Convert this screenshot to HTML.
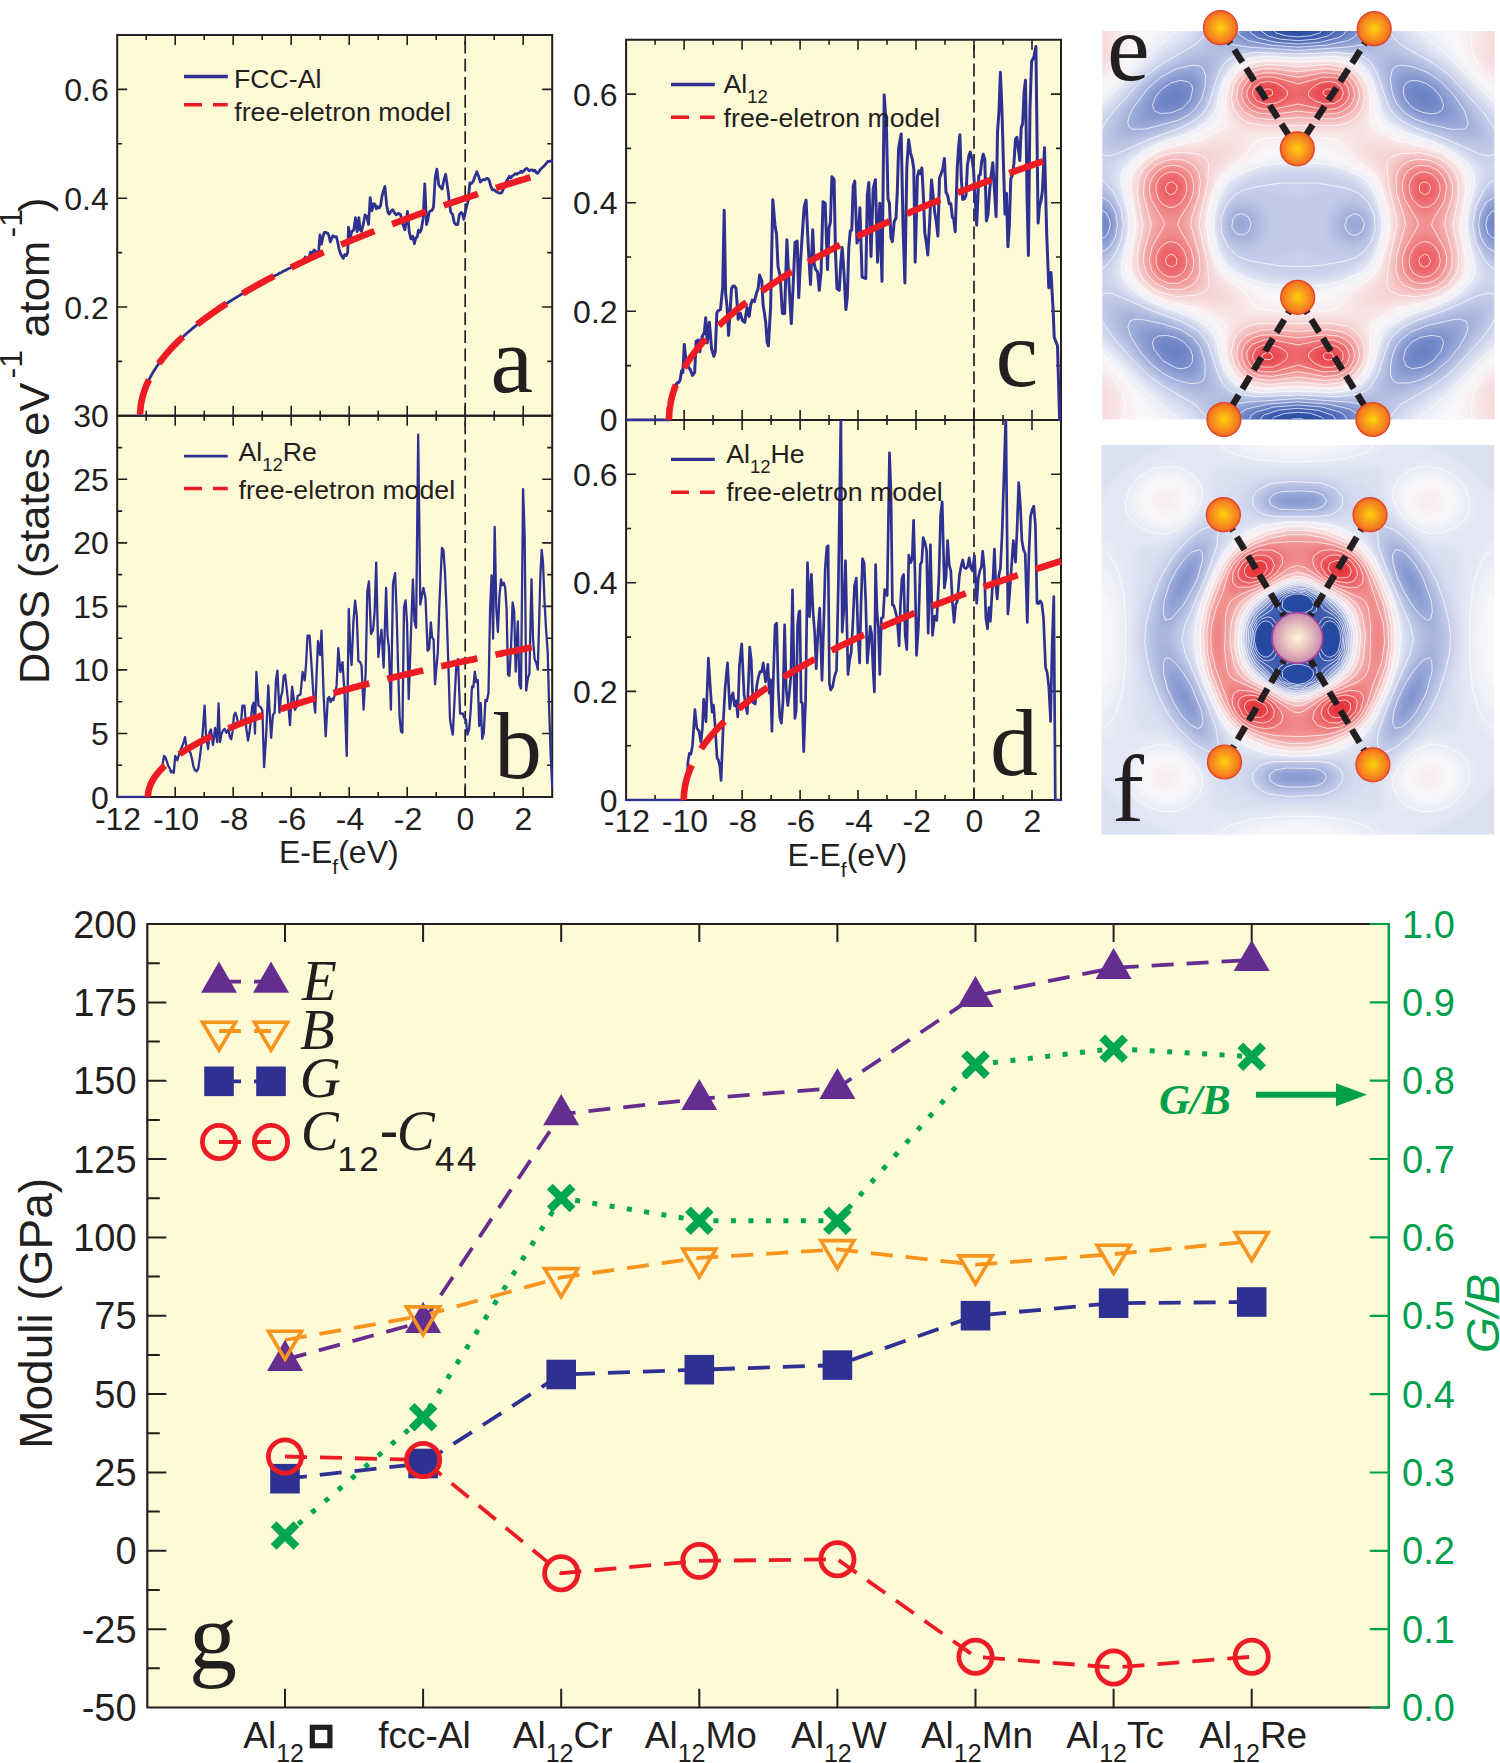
<!DOCTYPE html><html><head><meta charset="utf-8"><style>html,body{margin:0;padding:0;background:#fff;}svg{display:block}</style></head><body>
<svg width="1500" height="1763" viewBox="0 0 1500 1763">
<defs><clipPath id="clipa"><rect x="116.2" y="35" width="437" height="382.4"/></clipPath><clipPath id="clipb"><rect x="116.2" y="415.8" width="437" height="382.8"/></clipPath><clipPath id="clipc"><rect x="625.1" y="39.8" width="436.9" height="381.7"/></clipPath><clipPath id="clipd"><rect x="625.1" y="419.9" width="436.9" height="381.7"/></clipPath><clipPath id="hce"><rect x="1102.3" y="31" width="392.2" height="388.5"/></clipPath><filter id="hbe" x="-5%" y="-5%" width="110%" height="110%"><feGaussianBlur stdDeviation="2.4"/></filter><clipPath id="hcf"><rect x="1101.5" y="445" width="392.5" height="389.5"/></clipPath><filter id="hbf" x="-5%" y="-5%" width="110%" height="110%"><feGaussianBlur stdDeviation="2.4"/></filter><radialGradient id="atomg" cx="0.5" cy="0.5" r="0.5"><stop offset="0" stop-color="#FFD20A"/><stop offset="0.45" stop-color="#F9A21B"/><stop offset="0.85" stop-color="#F47A20"/><stop offset="1" stop-color="#EE5A24"/></radialGradient><radialGradient id="atomc" cx="0.5" cy="0.5" r="0.5"><stop offset="0" stop-color="#FFF7D6"/><stop offset="0.5" stop-color="#E9C4C0"/><stop offset="1" stop-color="#C98AAE"/></radialGradient></defs>
<rect width="1500" height="1763" fill="#fff"/>
<rect x="117.2" y="35" width="435" height="380.8" fill="#FFFAD6"/>
<rect x="117.2" y="415.8" width="435" height="381.2" fill="#FFFAD6"/>
<rect x="626.1" y="39.8" width="434.9" height="380.1" fill="#FFFAD6"/>
<rect x="626.1" y="419.9" width="434.9" height="380.1" fill="#FFFAD6"/>
<path d="M465.2 35V415.8" stroke="#231F20" stroke-width="1.7" stroke-dasharray="12.8 5.3" stroke-dashoffset="-5.7" fill="none"/>
<path d="M465.2 415.8V797" stroke="#231F20" stroke-width="1.7" stroke-dasharray="12.8 5.3" stroke-dashoffset="-5.7" fill="none"/>
<path d="M974 39.8V419.9" stroke="#231F20" stroke-width="1.7" stroke-dasharray="12.8 5.3" stroke-dashoffset="-5.7" fill="none"/>
<path d="M974 419.9V800" stroke="#231F20" stroke-width="1.7" stroke-dasharray="12.8 5.3" stroke-dashoffset="-5.7" fill="none"/>
<path d="M146.2 35v5M146.2 415.8v-5M175.2 35v10M175.2 415.8v-10M204.2 35v5M204.2 415.8v-5M233.2 35v10M233.2 415.8v-10M262.2 35v5M262.2 415.8v-5M291.2 35v10M291.2 415.8v-10M320.2 35v5M320.2 415.8v-5M349.2 35v10M349.2 415.8v-10M378.2 35v5M378.2 415.8v-5M407.2 35v10M407.2 415.8v-10M436.2 35v5M436.2 415.8v-5M465.2 35v10M465.2 415.8v-10M494.2 35v5M494.2 415.8v-5M523.2 35v10M523.2 415.8v-10M117.2 361.4h5M552.2 361.4h-5M117.2 307h10M552.2 307h-10M117.2 252.6h5M552.2 252.6h-5M117.2 198.2h10M552.2 198.2h-10M117.2 143.8h5M552.2 143.8h-5M117.2 89.4h10M552.2 89.4h-10" stroke="#231F20" stroke-width="1.6" fill="none"/>
<path d="M146.2 415.8v5M146.2 797v-5M175.2 415.8v10M175.2 797v-10M204.2 415.8v5M204.2 797v-5M233.2 415.8v10M233.2 797v-10M262.2 415.8v5M262.2 797v-5M291.2 415.8v10M291.2 797v-10M320.2 415.8v5M320.2 797v-5M349.2 415.8v10M349.2 797v-10M378.2 415.8v5M378.2 797v-5M407.2 415.8v10M407.2 797v-10M436.2 415.8v5M436.2 797v-5M465.2 415.8v10M465.2 797v-10M494.2 415.8v5M494.2 797v-5M523.2 415.8v10M523.2 797v-10M117.2 765.2h5M552.2 765.2h-5M117.2 733.5h10M552.2 733.5h-10M117.2 701.7h5M552.2 701.7h-5M117.2 669.9h10M552.2 669.9h-10M117.2 638.2h5M552.2 638.2h-5M117.2 606.4h10M552.2 606.4h-10M117.2 574.6h5M552.2 574.6h-5M117.2 542.9h10M552.2 542.9h-10M117.2 511.1h5M552.2 511.1h-5M117.2 479.3h10M552.2 479.3h-10M117.2 447.6h5M552.2 447.6h-5" stroke="#231F20" stroke-width="1.6" fill="none"/>
<path d="M655.1 39.8v5M655.1 419.9v-5M684.1 39.8v10M684.1 419.9v-10M713.1 39.8v5M713.1 419.9v-5M742.1 39.8v10M742.1 419.9v-10M771.1 39.8v5M771.1 419.9v-5M800.1 39.8v10M800.1 419.9v-10M829.1 39.8v5M829.1 419.9v-5M858 39.8v10M858 419.9v-10M887 39.8v5M887 419.9v-5M916 39.8v10M916 419.9v-10M945 39.8v5M945 419.9v-5M974 39.8v10M974 419.9v-10M1003 39.8v5M1003 419.9v-5M1032 39.8v10M1032 419.9v-10M626.1 365.6h5M1061 365.6h-5M626.1 311.3h10M1061 311.3h-10M626.1 257h5M1061 257h-5M626.1 202.7h10M1061 202.7h-10M626.1 148.4h5M1061 148.4h-5M626.1 94.1h10M1061 94.1h-10" stroke="#231F20" stroke-width="1.6" fill="none"/>
<path d="M655.1 419.9v5M655.1 800v-5M684.1 419.9v10M684.1 800v-10M713.1 419.9v5M713.1 800v-5M742.1 419.9v10M742.1 800v-10M771.1 419.9v5M771.1 800v-5M800.1 419.9v10M800.1 800v-10M829.1 419.9v5M829.1 800v-5M858 419.9v10M858 800v-10M887 419.9v5M887 800v-5M916 419.9v10M916 800v-10M945 419.9v5M945 800v-5M974 419.9v10M974 800v-10M1003 419.9v5M1003 800v-5M1032 419.9v10M1032 800v-10M626.1 745.7h5M1061 745.7h-5M626.1 691.4h10M1061 691.4h-10M626.1 637.1h5M1061 637.1h-5M626.1 582.8h10M1061 582.8h-10M626.1 528.5h5M1061 528.5h-5M626.1 474.2h10M1061 474.2h-10" stroke="#231F20" stroke-width="1.6" fill="none"/>
<path d="M116.2 35H553.2M116.2 415.8H553.2M117.2 35V415.8M552.2 35V415.8" stroke="#231F20" stroke-width="2" fill="none"/>
<path d="M116.2 415.8H553.2M116.2 797H553.2M117.2 415.8V797M552.2 415.8V797" stroke="#231F20" stroke-width="2" fill="none"/>
<path d="M625.1 39.8H1062M625.1 419.9H1062M626.1 39.8V419.9M1061 39.8V419.9" stroke="#231F20" stroke-width="2" fill="none"/>
<path d="M625.1 419.9H1062M625.1 800H1062M626.1 419.9V800M1061 419.9V800" stroke="#231F20" stroke-width="2" fill="none"/>
<path d="M140.1 415.8l0 -0.8 0 -0.7 0 -0.8 0.1 -0.8 0 -0.7 0.1 -0.8 0 -0.8 0.1 -0.7 0 -0.8 0.1 -0.8 0.1 -0.7 0.1 -0.8 0.1 -0.8 0.1 -0.7 0.1 -0.8 0.1 -0.8 0.2 -0.7 0.1 -0.8 0.2 -0.8 0.1 -0.7 0.2 -0.8 0.2 -0.8 0.1 -0.7 0.2 -0.8 0.2 -0.8 0.2 -0.7 0.3 -0.8 0.2 -0.8 0.2 -0.7 0.2 -0.8 0.3 -0.8 0.2 -0.7 0.3 -0.8 0.3 -0.8 0.3 -0.7 0.2 -0.8 0.3 -0.8 0.3 -0.7 0.4 -0.8 0.3 -0.8 0.3 -0.7 0.3 -0.8 0.4 -0.8 0.3 -0.8 0.4 -0.7 0.4 -0.8 0.3 -0.8 0.4 -0.7 0.4 -0.8 0.4 -0.8 0.4 -0.7 0.4 -0.8 0.5 -0.8 0.4 -0.7 0.4 -0.8 0.5 -0.8 0.4 -0.7 0.5 -0.8 0.5 -0.8 0.4 -0.7 0.5 -0.8 0.5 -0.8 0.5 -0.7 0.5 -0.8 0.6 -0.8 0.5 -0.7 0.5 -0.8 0.6 -0.8 0.5 -0.7 0.6 -0.8 0.6 -0.8 0.5 -0.7 0.6 -0.8 0.6 -0.8 0.6 -0.7 0.6 -0.8 0.6 -0.8 0.7 -0.7 0.6 -0.8 0.7 -0.8 0.6 -0.7 0.7 -0.8 0.6 -0.8 0.7 -0.7 0.7 -0.8 0.7 -0.8 0.7 -0.7 0.7 -0.8 0.7 -0.8 0.7 -0.7 0.7 -0.8 0.8 -0.8 0.7 -0.7 0.8 -0.8 0.7 -0.8 0.8 -0.7 0.8 -0.8 0.8 -0.8 0.8 -0.7 0.8 -0.8 0.8 -0.8 0.8 -0.7 0.8 -0.8 0.9 -0.8 0.8 -0.7 0.9 -0.8 0.8 -0.8 0.9 -0.7 0.9 -0.8 0.9 -0.8 0.9 -0.7 0.9 -0.8 0.9 -0.8 0.9 -0.7 0.9 -0.8 0.9 -0.8 1 -0.7 0.9 -0.8 1 -0.8 1 -0.7 0.9 -0.8 1 -0.8 1 -0.7 1 -0.8 1 -0.8 1 -0.7 1 -0.8 1.1 -0.8 1 -0.7 1 -0.8 1.1 -0.8 1.1 -0.8 1 -0.7 1.1 -0.8 1.1 -0.8 1.1 -0.7 1.1 -0.8 1.1 -0.8 1.1 -0.7 1.1 -0.8 1.2 -0.8 1.1 -0.7 1.2 -0.8 1.1 -0.8 1.2 -0.7 1.2 -0.8 1.2 -0.8 1.1 -0.7 1.2 -0.8 1.3 -0.8 1.2 -0.7 1.2 -0.8 1.2 -0.8 1.3 -0.7 1.2 -0.8 1.3 -0.8 1.2 -0.7 1.3 -0.8 1.3 -0.8 1.3 -0.7 1.3 -0.8 1.3 -0.8 1.3 -0.7 1.3 -0.8 1.3 -0.8 1.4 -0.7 1.3 -0.8 1.4 -0.8 1.3 -0.7 1.4 -0.8 1.4 -0.8 1.4 -0.7 1.3 -0.8 1.5 -0.8 1.4 -0.7 1.4 -0.8 1.4 -0.8 1.4 -0.7 1.5 -0.8 1.4 -0.8 1.5 -0.7 1.4 -0.8 1.5 -0.8 1.5 -0.7 1.5 -0.8 1.5 -0.8 1.5 -0.7 1.5 -0.8 1.5 -0.8 1.6 -0.7 1.5 -0.8 1.5 -0.8 1.6 -0.7 1.6 -0.8 1.5 -0.8 1.6 -0.7 1.6 -0.8 1.6 -0.8 1.6 -0.7 0 1.2 1.3 -0.3 1.3 -2.6 1.3 0.5 1.3 -5 1.3 5.2 1.3 -0.9 1.3 -2.9 1.3 -6.2 1.3 2.7 1.3 -3.1 1.3 -1.9 1.3 1.5 1.5 3.7 1.4 -2.5 1.5 -17.7 1.4 9.3 1.5 -7.1 1.4 -4.8 1.7 0.1 1.7 0.8 1.3 2.8 1.3 5.9 2.6 -6.1 1.7 1 1.8 -0.1 1.3 5.6 1.3 6.5 1.4 4.6 1.5 3 1.4 1.9 1.5 -3.8 1.4 1.1 1.5 -3.3 0.8 -25.2 1.8 9.6 1.7 -5.2 1.8 -1.6 1.7 -12.3 1.7 13.9 1.7 -13.9 1.3 12.2 1.3 1.7 1.7 -6.8 1.8 -9.7 1.8 1.3 1.7 8.2 1.7 -26.8 1.7 13 1.8 -7 1.3 0.5 1.3 4.7 1.4 -2.3 1.5 1.4 1.4 -2.5 1.4 -9.4 1.5 -5.4 1.4 -4.3 1.8 19.1 1.3 7 1.3 1.6 1.7 -2.8 1.7 -1.5 1.7 2.8 1.8 2.4 1.3 -1.1 1.3 -0.6 1.8 1.4 1.7 8.1 2.6 6.9 1.3 -7.9 1.3 -10.3 1.7 20 1.7 7.4 1.8 -2.7 1.7 7.4 1.4 -5.8 1.4 -0.7 1.3 -7 1.4 2.3 1.4 -2.7 1.8 -11.3 1.7 -34.6 1.7 40.7 1.3 -4.5 1.3 -7.6 1.5 -1.6 1.4 -0.4 1.5 -3.2 1.7 -29.7 1.7 -8.4 1.8 15.6 1.7 2.4 1.7 1.9 1.8 -8.8 1.7 -5.9 2.6 17.3 1.3 12.1 1.3 8.7 1.8 2 1.7 8.4 1.7 1.7 1.7 0 1.7 -10 1.8 -2.1 1.3 1.6 1.3 5.3 2.6 -12.1 1.7 -6.2 1.8 -18.1 1.7 0.6 1.7 -2.3 1.8 -5.3 1.7 -4.2 1.8 4.5 1.7 5.9 1.5 -1.7 1.5 -0.8 1.5 0.3 1.5 -1.3 1.5 -0.1 1.6 2.3 1.5 5.9 1.5 3.2 1.7 -0.2 1.8 1.9 1.5 0.7 1.5 0.8 1.5 0.1 1.5 -0.7 1.5 -3.7 1.5 -4.9 1.6 -2.6 1.5 -2.7 1.4 -2.4 1.5 1.7 1.5 -2 1.4 -0.8 1.4 -1.5 1.5 0.7 1.4 -1.1 1.5 -0.3 1.4 -1.7 1.4 1.2 1.5 -1.7 1.4 -1.6 1.4 -0.7 1.4 1.1 1.4 1.4 1.4 -1.1 1.4 0.1 1.3 1.2 1.3 -0.8 1.3 2.2 1.3 0.9 1.3 -1.7 1.3 -1.8 1.3 -1.5 1.3 -1.1 1.7 -1.6 1.8 -2.2 1.7 -2.2 1.5 0.2 1.6 -0.7 1.5 1.3" stroke="#2E3192" stroke-width="2.8" fill="none" stroke-linejoin="round" clip-path="url(#clipa)"/>
<path d="M140.1 415.8l0 -0.6 0 -0.6 0 -0.6 0 -0.6 0.1 -0.6 0 -0.6 0 -0.6 0.1 -0.6 0 -0.6 0.1 -0.6 0 -0.6 0.1 -0.6 0 -0.6 0.1 -0.6 0.1 -0.6 0 -0.6 0.1 -0.6 0.1 -0.6 0.1 -0.6 0.1 -0.6 0.1 -0.6 0.1 -0.6 0.1 -0.6 0.1 -0.6 0.2 -0.6 0.1 -0.6 0.1 -0.6 0.2 -0.6 0.1 -0.7 0.1 -0.6 0.2 -0.6 0.2 -0.6 0.1 -0.6 0.2 -0.6 0.2 -0.6 0.1 -0.6 0.2 -0.6 0.2 -0.6 0.2 -0.6 0.2 -0.6 0.2 -0.6 0.2 -0.6 0.2 -0.6 0.2 -0.6 0.2 -0.6 0.3 -0.6 0.2 -0.6 0.2 -0.6 0.3 -0.6 0.2 -0.6 0.3 -0.6 0.2 -0.6 0.3 -0.6 0.3 -0.6 0.2 -0.6 0.3 -0.6 0.3 -0.6 0.3 -0.6 0.3 -0.6 0.3 -0.6 0.3 -0.6 0.3 -0.6 0.3 -0.6 0.3 -0.6 0.3 -0.6 0.3 -0.6 0.4 -0.6 0.3 -0.6 0.3 -0.6 0.4 -0.6 0.3 -0.6 0.4 -0.6 0.4 -0.6 0.3 -0.6 0.4 -0.6 0.4 -0.6 0.3 -0.6 0.4 -0.6 0.4 -0.6 0.4 -0.6 0.4 -0.6 0.4 -0.6 0.4 -0.6 0.4 -0.6 0.5 -0.6 0.4 -0.7 0.4 -0.6 0.5 -0.6 0.4 -0.6 0.4 -0.6 0.5 -0.6 0.4 -0.6 0.5 -0.6 0.5 -0.6 0.4 -0.6 0.5 -0.6 0.5 -0.6 0.5 -0.6 0.5 -0.6 0.5 -0.6 0.5 -0.6 0.5 -0.6 0.5 -0.6 0.5 -0.6 0.5 -0.6 0.5 -0.6 0.6 -0.6 0.5 -0.6 0.5 -0.6 0.6 -0.6 0.5 -0.6 0.6 -0.6 0.5 -0.6 0.6 -0.6 0.6 -0.6 0.5 -0.6 0.6 -0.6 0.6 -0.6 0.6 -0.6 0.6 -0.6 0.6 -0.6 0.6 -0.6 0.6 -0.6 0.6 -0.6 0.6 -0.6 0.7 -0.6 0.6 -0.6 0.6 -0.6 0.7 -0.6 0.6 -0.6 0.7 -0.6 0.6 -0.6 0.7 -0.6 0.6 -0.6 0.7 -0.6 0.7 -0.6 0.6 -0.6 0.7 -0.6 0.7 -0.6 0.7 -0.6 0.7 -0.6 0.7 -0.7 0.7 -0.6 0.7 -0.6 0.8 -0.6 0.7 -0.6 0.7 -0.6 0.7 -0.6 0.8 -0.6 0.7 -0.6 0.8 -0.6 0.7 -0.6 0.8 -0.6 0.7 -0.6 0.8 -0.6 0.8 -0.6 0.8 -0.6 0.7 -0.6 0.8 -0.6 0.8 -0.6 0.8 -0.6 0.8 -0.6 0.8 -0.6 0.8 -0.6 0.9 -0.6 0.8 -0.6 0.8 -0.6 0.8 -0.6 0.9 -0.6 0.8 -0.6 0.9 -0.6 0.8 -0.6 0.9 -0.6 0.8 -0.6 0.9 -0.6 0.9 -0.6 0.9 -0.6 0.8 -0.6 0.9 -0.6 0.9 -0.6 0.9 -0.6 0.9 -0.6 0.9 -0.6 0.9 -0.6 1 -0.6 0.9 -0.6 0.9 -0.6 0.9 -0.6 1 -0.6 0.9 -0.6 1 -0.6 0.9 -0.6 1 -0.6 0.9 -0.6 1 -0.6 1 -0.6 0.9 -0.6 1 -0.6 1 -0.7 1 -0.6 1 -0.6 1 -0.6 1 -0.6 1 -0.6 1 -0.6 1.1 -0.6 1 -0.6 1 -0.6 1.1 -0.6 1 -0.6 1 -0.6 1.1 -0.6 1 -0.6 1.1 -0.6 1.1 -0.6 1 -0.6 1.1 -0.6 1.1 -0.6 1.1 -0.6 1.1 -0.6 1.1 -0.6 1.1 -0.6 1.1 -0.6 1.1 -0.6 1.1 -0.6 1.1 -0.6 1.2 -0.6 1.1 -0.6 1.1 -0.6 1.2 -0.6 1.1 -0.6 1.2 -0.6 1.1 -0.6 1.2 -0.6 1.1 -0.6 1.2 -0.6 1.2 -0.6 1.2 -0.6 1.2 -0.6 1.1 -0.6 1.2 -0.6 1.2 -0.6 1.2 -0.6 1.3 -0.6 1.2 -0.6 1.2 -0.6 1.2 -0.6 1.2 -0.6 1.3 -0.6 1.2 -0.6 1.3 -0.6 1.2 -0.6 1.3 -0.6 1.2 -0.6 1.3 -0.6 1.3 -0.7 1.2 -0.6 1.3 -0.6 1.3 -0.6 1.3 -0.6 1.3 -0.6 1.3 -0.6 1.3 -0.6 1.3 -0.6 1.3 -0.6 1.3 -0.6 1.4 -0.6 1.3 -0.6 1.3 -0.6 1.4 -0.6 1.3 -0.6 1.4 -0.6 1.3 -0.6 1.4 -0.6 1.3 -0.6 1.4 -0.6 1.4 -0.6 1.4 -0.6 1.3 -0.6 1.4 -0.6 1.4 -0.6 1.4 -0.6 1.4 -0.6 1.4 -0.6 1.4 -0.6 1.5 -0.6 1.4 -0.6 1.4 -0.6 1.5 -0.6 1.4 -0.6 1.4 -0.6 1.5 -0.6 1.4 -0.6 1.5 -0.6 1.5 -0.6 1.4 -0.6 1.5 -0.6 1.5 -0.6 1.5 -0.6 1.5 -0.6 1.4 -0.6 1.5 -0.6 1.5 -0.6 1.6 -0.6 1.5 -0.6 1.5 -0.6 1.5 -0.6 1.5 -0.6 1.6 -0.6 1.5 -0.6 1.6 -0.6 1.5 -0.7 1.6 -0.6 1.5 -0.6 1.6 -0.6 1.5 -0.6 1.6 -0.6 1.6 -0.6 1.6 -0.6 1.6 -0.6 1.6 -0.6 1.6 -0.6 1.6 -0.6 1.6 -0.6 1.6 -0.6 1.6 -0.6 1.6 -0.6 1.6 -0.6 1.7 -0.6 1.6 -0.6 1.7 -0.6 1.6 -0.6 1.7 -0.6 1.6 -0.6 1.7 -0.6 1.6 -0.6 1.7 -0.6 1.7 -0.6 1.7 -0.6 1.7 -0.6 1.7 -0.6 1.7 -0.6 1.7 -0.6 1.7 -0.6 1.7 -0.6 1.7 -0.6 1.7 -0.6 1.7 -0.6 1.8 -0.6 1.7 -0.6 1.8 -0.6 1.7 -0.6 1.8 -0.6 1.7 -0.6 1.8 -0.6 1.7 -0.6 1.8 -0.6 1.8 -0.6 1.8 -0.6 1.8 -0.6 1.7 -0.6 1.8 -0.6 1.8 -0.6 1.9 -0.6 1.8 -0.6 1.8 -0.6 1.8 -0.6 1.8 -0.6 1.9 -0.7 1.8 -0.6 1.8 -0.6 1.9 -0.6 1.8 -0.6 1.9 -0.6 1.9 -0.6 1.8 -0.6 1.9 -0.6 1.9 -0.6 1.8 -0.6 1.9 -0.6 1.9 -0.6 1.9 -0.6 1.9 -0.6 1.9 -0.6 1.9 -0.6 2 -0.6 1.9 -0.6 1.9 -0.6 1.9 -0.6 2 -0.6 1.9 -0.6 2 -0.6 1.9 -0.6 2 -0.6 1.9 -0.6 2 -0.6 2 -0.6 1.9 -0.6 2 -0.6 2 -0.6" stroke="#ED1C24" stroke-width="6.6" fill="none" stroke-dasharray="36 19" stroke-dashoffset="-1.5" clip-path="url(#clipa)"/>
<path d="M117.2 797l30.7 0 0 -0.2 0 -0.3 0 -0.2 0.1 -0.3 0 -0.2 0 -0.3 0 -0.2 0 -0.2 0 -0.3 0 -0.2 0.1 -0.3 0 -0.2 0 -0.3 0 -0.2 0.1 -0.3 0 -0.2 0 -0.2 0.1 -0.3 0 -0.2 0 -0.3 0.1 -0.2 0 -0.3 0.1 -0.2 0 -0.2 0.1 -0.3 0 -0.2 0.1 -0.3 0 -0.2 0.1 -0.3 0.1 -0.2 0 -0.3 0.1 -0.2 0 -0.2 0.1 -0.3 0.1 -0.2 0.1 -0.3 0 -0.2 0.1 -0.3 0.1 -0.2 0.1 -0.2 0.1 -0.3 0 -0.2 0.1 -0.3 0.1 -0.2 0.1 -0.3 0.1 -0.2 0.1 -0.2 0.1 -0.3 0.1 -0.2 0.1 -0.3 0.1 -0.2 0.1 -0.3 0.1 -0.2 0.1 -0.3 0.1 -0.2 0.1 -0.2 0.1 -0.3 0.2 -0.2 0.1 -0.3 0.1 -0.2 0.1 -0.3 0.2 -0.2 0.1 -0.2 0.1 -0.3 0.1 -0.2 0.2 -0.3 0.1 -0.2 0.1 -0.3 0.2 -0.2 0.1 -0.2 0.2 -0.3 0.1 -0.2 0.2 -0.3 0.1 -0.2 0.2 -0.3 0.1 -0.2 0.2 -0.3 0.1 -0.2 0.2 -0.2 0.2 -0.3 0.1 -0.2 0.2 -0.3 0.2 -0.2 0.1 -0.3 0.2 -0.2 0.2 -0.2 0.1 -0.3 0.2 -0.2 0.2 -0.3 0.2 -0.2 0.2 -0.3 0.2 -0.2 0.1 -0.3 0.2 -0.2 0.2 -0.2 0.2 -0.3 0.2 -0.2 0.2 -0.3 0.2 -0.2 0.2 -0.3 0.2 -0.2 0.2 -0.2 0.2 -0.3 0.3 -0.2 0.2 -0.3 0.2 -0.2 0.2 -0.3 0.2 -0.2 0.2 -0.2 0.3 -0.3 0.2 -0.2 0.2 -0.3 0.2 -0.2 0.3 -0.3 0.2 -0.2 0.2 -0.3 0.3 -0.2 0.2 -0.2 0.3 -0.3 0.2 -0.2 0 -3.4 1.4 -8.4 1.4 1.4 1.4 3.8 1.4 4.6 1.4 2.2 1.4 4.4 1.4 -1.6 1.4 2 1.4 -16.8 2.1 4.2 2.1 -7 1.4 -3.4 1.4 -3.6 1.4 -3.8 1.4 -5.3 2.1 13.3 1.7 -0.9 1.8 3.7 1.4 5.8 1.4 7.4 1.4 3.6 1.8 1.4 1.7 -2.8 2.1 -15.4 2.1 -18.2 2.1 -29.4 1.4 29.4 2.1 14 1.4 -17 1.4 -2.6 2.1 15.4 2.1 -16.8 2.1 14 1.4 -38.5 1.4 38.5 1.4 -7.6 1.4 -3.6 1.8 -1.9 1.7 4 2.1 -3.5 1.4 7.6 1.4 2.2 1.4 -7.8 1.4 -16 1.4 -2.6 1.4 4 1.4 7.8 1.4 0.6 1.4 -1.6 1.4 -18 2.1 0 1.7 22.3 1.8 12.7 1.4 -7.8 1.4 -11.8 1.4 -14.7 1.4 -3.5 1.4 30.8 1.4 -61.6 2.1 33.6 2.1 1.4 1.8 3.8 1.7 56.4 2.1 -32.2 2.1 -49.7 1.4 27.6 1.4 24.9 1.8 -22.6 1.7 -2.6 1.4 -32.7 1.4 -9.3 2.1 42 1.4 -15.4 1.4 -5.6 1.4 -15.5 1.4 -1.3 1.4 11.8 1.4 13.4 2.1 25.2 2.1 -38.5 1.4 10.3 1.4 12.8 1.4 -2.7 1.4 -11.3 1.4 -0.6 1.4 -0.8 2.1 -22.4 2.1 8.4 1.4 -16.7 1.4 -28.1 2.1 0 1.4 21.7 1.4 21.7 1.4 21.7 1.4 11.9 1.4 -38.4 1.4 -33 2.1 14 1.4 -24.5 2.1 63.7 2.1 42 2.1 -37.8 1.4 -1.6 1.4 5.2 1.4 -3.6 1.4 1.5 1.4 -5.7 1.8 -9 1.7 -37.2 2.1 23.8 2.1 -9.8 2.1 32.2 2.1 61.6 2.1 -147 1.4 38.5 1.4 17.5 1.8 -42.9 1.7 -21.5 1.7 15.6 1.6 45 1.5 0.6 1.6 3.6 2.1 44.1 2.1 -37.8 1.6 -80 1.6 -10.2 2.1 52.5 2.1 -4.2 1.5 -17.5 1.6 -49.7 2.1 94.4 1.6 -16 1.6 -11.2 2.1 37.7 2.5 -79.7 1.4 47.7 1.3 11.1 2.1 62.9 2.1 -125.9 2.1 -10.5 1.5 39.2 1.6 59.4 1.4 45.4 1.4 14.2 1.4 1.3 1.6 -125.5 1.6 -6.7 1.5 23.5 1.6 75.1 2.1 -60.8 2.1 -58.8 1.6 42 1.6 6.3 2.1 -193 2.1 169.9 1.6 -8.9 1.5 -7.9 2.1 10.5 2.1 52.5 1.6 -1.9 1.6 -26.5 1.4 14.9 1.4 2.6 1.4 44.4 1.4 -16.4 1.4 -15 1.4 -44.1 1.4 -31.7 1.4 -29.2 1.4 2.2 1.5 20.5 1.6 38.2 2.1 62.9 1.4 47.3 1.4 9.3 1.4 6.4 2.1 -42 1.5 -28.4 1.6 -5.2 2.1 54.6 1.4 -0.4 1.4 0.3 1.4 4.3 1.6 1.7 1.6 15.1 1.6 -5.4 1.5 -17.7 1.4 -24.9 1.4 0.4 1.4 -15.4 1.5 10.3 1.5 -2.1 1.4 46.1 1.5 -22.9 1.5 35.8 1.6 -5.6 1.6 -33.4 1.5 1.1 1.6 -8.3 1.6 -84.2 1.5 -33 1.5 63.2 1.6 -111.7 1.6 81.1 1.6 23.8 1.5 -35.5 1.6 -17 1.4 5.7 1.4 -2.3 1.4 5 1.4 21 1.4 65.8 1.4 1.3 1.6 -27.3 1.6 -46.1 1.6 9.7 1.5 59.5 2.1 -50.3 1.6 63.1 1.6 4 2.1 -199.3 1.6 48.7 1.5 152.7 1.6 -12.1 1.6 -4.7 2.1 -94.4 1.5 59.4 1.6 20.3 1.6 3.6 1.6 6.9 1.3 -46.4 1.3 -48.2 1.3 -25.1 1.3 12.7 1.5 38.6 1.6 28.6 1.6 22.5 1.6 61.4 1.5 45 1.6 31.1" stroke="#2E3192" stroke-width="2.3" fill="none" stroke-linejoin="round" clip-path="url(#clipb)"/>
<path d="M147.9 797l0 -0.4 0 -0.4 0.1 -0.3 0 -0.4 0 -0.4 0 -0.4 0.1 -0.3 0 -0.4 0 -0.4 0.1 -0.4 0 -0.4 0.1 -0.3 0.1 -0.4 0 -0.4 0.1 -0.4 0.1 -0.4 0 -0.3 0.1 -0.4 0.1 -0.4 0.1 -0.4 0.1 -0.3 0.1 -0.4 0.1 -0.4 0.2 -0.4 0.1 -0.4 0.1 -0.3 0.1 -0.4 0.2 -0.4 0.1 -0.4 0.1 -0.3 0.2 -0.4 0.2 -0.4 0.1 -0.4 0.2 -0.4 0.1 -0.3 0.2 -0.4 0.2 -0.4 0.2 -0.4 0.2 -0.3 0.2 -0.4 0.2 -0.4 0.2 -0.4 0.2 -0.4 0.2 -0.3 0.2 -0.4 0.2 -0.4 0.3 -0.4 0.2 -0.4 0.2 -0.3 0.3 -0.4 0.2 -0.4 0.3 -0.4 0.2 -0.3 0.3 -0.4 0.3 -0.4 0.2 -0.4 0.3 -0.4 0.3 -0.3 0.3 -0.4 0.3 -0.4 0.3 -0.4 0.3 -0.3 0.3 -0.4 0.3 -0.4 0.3 -0.4 0.3 -0.4 0.4 -0.3 0.3 -0.4 0.3 -0.4 0.4 -0.4 0.3 -0.3 0.4 -0.4 0.3 -0.4 0.4 -0.4 0.3 -0.4 0.4 -0.3 0.4 -0.4 0.4 -0.4 0.4 -0.4 0.3 -0.4 0.4 -0.3 0.4 -0.4 0.4 -0.4 0.5 -0.4 0.4 -0.3 0.4 -0.4 0.4 -0.4 0.4 -0.4 0.5 -0.4 0.4 -0.3 0.5 -0.4 0.4 -0.4 0.5 -0.4 0.4 -0.3 0.5 -0.4 0.5 -0.4 0.4 -0.4 0.5 -0.4 0.5 -0.3 0.5 -0.4 0.5 -0.4 0.5 -0.4 0.5 -0.3 0.5 -0.4 0.5 -0.4 0.5 -0.4 0.5 -0.4 0.6 -0.3 0.5 -0.4 0.5 -0.4 0.6 -0.4 0.5 -0.4 0.6 -0.3 0.5 -0.4 0.6 -0.4 0.6 -0.4 0.5 -0.3 0.6 -0.4 0.6 -0.4 0.6 -0.4 0.6 -0.4 0.6 -0.3 0.6 -0.4 0.6 -0.4 0.6 -0.4 0.6 -0.3 0.6 -0.4 0.6 -0.4 0.7 -0.4 0.6 -0.4 0.7 -0.3 0.6 -0.4 0.7 -0.4 0.6 -0.4 0.7 -0.3 0.6 -0.4 0.7 -0.4 0.7 -0.4 0.7 -0.4 0.6 -0.3 0.7 -0.4 0.7 -0.4 0.7 -0.4 0.7 -0.4 0.7 -0.3 0.8 -0.4 0.7 -0.4 0.7 -0.4 0.7 -0.3 0.8 -0.4 0.7 -0.4 0.7 -0.4 0.8 -0.4 0.7 -0.3 0.8 -0.4 0.8 -0.4 0.7 -0.4 0.8 -0.3 0.8 -0.4 0.8 -0.4 0.8 -0.4 0.7 -0.4 0.8 -0.3 0.8 -0.4 0.9 -0.4 0.8 -0.4 0.8 -0.3 0.8 -0.4 0.8 -0.4 0.9 -0.4 0.8 -0.4 0.8 -0.3 0.9 -0.4 0.8 -0.4 0.9 -0.4 0.9 -0.4 0.8 -0.3 0.9 -0.4 0.9 -0.4 0.9 -0.4 0.8 -0.3 0.9 -0.4 0.9 -0.4 0.9 -0.4 0.9 -0.4 0.9 -0.3 1 -0.4 0.9 -0.4 0.9 -0.4 0.9 -0.3 1 -0.4 0.9 -0.4 1 -0.4 0.9 -0.4 1 -0.3 0.9 -0.4 1 -0.4 1 -0.4 0.9 -0.4 1 -0.3 1 -0.4 1 -0.4 1 -0.4 1 -0.3 1 -0.4 1 -0.4 1 -0.4 1 -0.4 1 -0.3 1.1 -0.4 1 -0.4 1 -0.4 1.1 -0.3 1 -0.4 1.1 -0.4 1 -0.4 1.1 -0.4 1.1 -0.3 1 -0.4 1.1 -0.4 1.1 -0.4 1.1 -0.3 1.1 -0.4 1.1 -0.4 1.1 -0.4 1.1 -0.4 1.1 -0.3 1.1 -0.4 1.1 -0.4 1.2 -0.4 1.1 -0.4 1.1 -0.3 1.2 -0.4 1.1 -0.4 1.2 -0.4 1.1 -0.3 1.2 -0.4 1.2 -0.4 1.1 -0.4 1.2 -0.4 1.2 -0.3 1.2 -0.4 1.2 -0.4 1.1 -0.4 1.2 -0.3 1.3 -0.4 1.2 -0.4 1.2 -0.4 1.2 -0.4 1.2 -0.3 1.3 -0.4 1.2 -0.4 1.2 -0.4 1.3 -0.3 1.2 -0.4 1.3 -0.4 1.2 -0.4 1.3 -0.4 1.3 -0.3 1.2 -0.4 1.3 -0.4 1.3 -0.4 1.3 -0.4 1.3 -0.3 1.3 -0.4 1.3 -0.4 1.3 -0.4 1.3 -0.3 1.3 -0.4 1.3 -0.4 1.4 -0.4 1.3 -0.4 1.3 -0.3 1.4 -0.4 1.3 -0.4 1.4 -0.4 1.3 -0.3 1.4 -0.4 1.4 -0.4 1.3 -0.4 1.4 -0.4 1.4 -0.3 1.4 -0.4 1.4 -0.4 1.4 -0.4 1.4 -0.3 1.4 -0.4 1.4 -0.4 1.4 -0.4 1.4 -0.4 1.5 -0.3 1.4 -0.4 1.4 -0.4 1.5 -0.4 1.4 -0.4 1.5 -0.3 1.4 -0.4 1.5 -0.4 1.4 -0.4 1.5 -0.3 1.5 -0.4 1.5 -0.4 1.5 -0.4 1.4 -0.4 1.5 -0.3 1.5 -0.4 1.5 -0.4 1.5 -0.4 1.6 -0.3 1.5 -0.4 1.5 -0.4 1.5 -0.4 1.6 -0.4 1.5 -0.3 1.6 -0.4 1.5 -0.4 1.6 -0.4 1.5 -0.3 1.6 -0.4 1.5 -0.4 1.6 -0.4 1.6 -0.4 1.6 -0.3 1.6 -0.4 1.6 -0.4 1.6 -0.4 1.6 -0.4 1.6 -0.3 1.6 -0.4 1.6 -0.4 1.6 -0.4 1.6 -0.3 1.7 -0.4 1.6 -0.4 1.7 -0.4 1.6 -0.4 1.7 -0.3 1.6 -0.4 1.7 -0.4 1.6 -0.4 1.7 -0.3 1.7 -0.4 1.7 -0.4 1.7 -0.4 1.6 -0.4 1.7 -0.3 1.7 -0.4 1.7 -0.4 1.8 -0.4 1.7 -0.3 1.7 -0.4 1.7 -0.4 1.7 -0.4 1.8 -0.4 1.7 -0.3 1.8 -0.4 1.7 -0.4 1.8 -0.4 1.7 -0.4 1.8 -0.3 1.8 -0.4 1.7 -0.4 1.8 -0.4 1.8 -0.3 1.8 -0.4 1.8 -0.4 1.8 -0.4 1.8 -0.4 1.8 -0.3 1.8 -0.4 1.8 -0.4 1.9 -0.4 1.8 -0.3 1.8 -0.4 1.9 -0.4 1.8 -0.4 1.8 -0.4 1.9 -0.3 1.9 -0.4 1.8 -0.4 1.9 -0.4 1.9 -0.4 1.8 -0.3 1.9 -0.4 1.9 -0.4 1.9 -0.4 1.9 -0.3 1.9 -0.4 1.9 -0.4 1.9 -0.4 1.9 -0.4 2 -0.3 1.9 -0.4 1.9 -0.4 1.9 -0.4 2 -0.3 1.9 -0.4 2 -0.4 1.9 -0.4 2 -0.4" stroke="#ED1C24" stroke-width="6.6" fill="none" stroke-dasharray="37 18.5" stroke-dashoffset="0" clip-path="url(#clipb)"/>
<path d="M626.1 419.9l42.9 0 0 -0.3 0 -0.3 0 -0.3 0 -0.3 0 -0.3 0 -0.3 0 -0.3 0 -0.3 0.1 -0.3 0 -0.3 0 -0.3 0 -0.3 0 -0.3 0 -0.3 0 -0.3 0 -0.3 0.1 -0.3 0 -0.3 0 -0.3 0 -0.3 0 -0.3 0.1 -0.3 0 -0.3 0 -0.3 0 -0.3 0 -0.3 0.1 -0.3 0 -0.3 0 -0.3 0.1 -0.3 0 -0.3 0 -0.3 0.1 -0.3 0 -0.3 0 -0.3 0.1 -0.3 0 -0.3 0 -0.3 0.1 -0.3 0 -0.3 0 -0.3 0.1 -0.2 0 -0.3 0.1 -0.3 0 -0.3 0.1 -0.3 0 -0.3 0.1 -0.3 0 -0.3 0.1 -0.3 0 -0.3 0.1 -0.3 0 -0.3 0.1 -0.3 0 -0.3 0.1 -0.3 0 -0.3 0.1 -0.3 0 -0.3 0.1 -0.3 0.1 -0.3 0 -0.3 0.1 -0.3 0.1 -0.3 0 -0.3 0.1 -0.3 0.1 -0.3 0 -0.3 0.1 -0.3 0.1 -0.3 0 -0.3 0.1 -0.3 0.1 -0.3 0 -0.3 0.1 -0.3 0.1 -0.3 0.1 -0.3 0 -0.3 0.1 -0.3 0.1 -0.3 0.1 -0.3 0.1 -0.3 0 -0.3 0.1 -0.3 0.1 -0.3 0.1 -0.3 0.1 -0.3 0.1 -0.3 0.1 -0.3 0.1 -0.3 0 -0.3 0.1 -0.3 0.1 -0.3 0.1 -0.3 0.1 -0.3 0.1 -0.3 0.1 -0.3 0.1 -0.3 0.1 -0.3 0.1 -0.3 0.1 -0.3 0.1 -0.3 0.1 -0.3 0.1 -0.3 0.1 -0.3 0.1 -0.3 0.1 -0.3 0.1 -0.3 0.1 -0.3 0.2 -0.3 0.1 -0.3 0.1 -0.3 0.1 -0.3 0.1 -0.3 0.1 -0.3 0.1 -0.3 0.1 -0.3 0.2 -0.3 0.1 -0.3 0.1 -0.3 0 1.7 1.3 -3 1.4 -0.4 1.3 -2.6 1.4 -8.9 1.3 1.6 1.4 -28 1.5 14.7 2.2 7.4 2.2 3 2.3 5.9 2.2 -3 1.4 -31 2.3 -1.4 1.4 11.8 2.2 -14.8 2.3 -4.4 1.4 -14.8 1.5 25.1 2.2 -20.6 2.2 26.5 2.2 7.4 1.5 -4.4 1.5 -38.8 1.5 -2.5 2.2 -0.8 2.2 -22.8 1.5 -76.7 1.4 82.6 1.5 14.7 1.5 28 1.5 -23.6 1.4 -23.6 1.5 -2.2 1.5 0 1.5 2.2 2.2 31 2.2 -5.9 2.2 7.4 2.2 1.5 2.2 -14.8 2.2 8.9 1.5 -11.5 1.5 -4.8 2.2 1.5 2.2 -8.8 1.5 -3.9 1.5 -13.8 2.2 5.9 1.3 24.1 1.3 7.8 1.4 10.4 1.3 19 1.3 3.6 2.2 -38.4 2.2 -107.7 2.3 26.6 1.4 7.2 1.5 32.6 2.2 10.3 2.2 36.9 2.2 0 2.3 -73.7 2.2 45.7 2.2 38.3 2.2 -45.7 1.5 -35.4 2.2 -1.5 1.5 56.6 1.8 -36 1.9 -28.9 1.8 -26.1 1.9 -6.4 2.2 47.2 2.2 36.9 2.2 -54.6 1.5 34.4 1.5 5.4 1.8 2.1 1.8 18.6 1.8 -18.9 1.9 -69.6 2.2 1.5 2.3 66.3 1.5 -41.7 1.4 -5.5 1.5 -45.7 2.2 3 1.4 72.9 1.5 36.2 2.3 1.5 1.5 -27.7 1.4 -15.1 1.8 25.7 1.9 36.3 1.4 -11.9 1.5 -50.1 1.5 -16.5 1.5 -1.2 1.4 -43.6 1.5 -5.1 2.3 62 1.5 -4.5 1.4 -30.9 2.2 69.3 1.9 0.8 1.8 0.7 1.5 -83.3 1.5 -12.6 2.2 73.8 2.2 -67.9 2.2 -8.8 2.2 82.6 2.2 -59 2.2 78.1 2.2 -186.4 2.3 34.5 1.5 69.3 1.4 4.5 1.5 34.5 1.5 3.8 1.8 -20 1.8 -3.6 1.3 -26.8 1.3 -42.9 1.3 -7.6 1.3 -6.8 1.8 90.8 1.9 58.2 1.9 -114.9 1.8 -28.2 1.9 13 1.8 6.2 1.5 9.9 1.4 93.4 2.2 -85.6 1.5 -5.9 1.5 2.9 1.5 -5.8 1.4 26.6 1.5 38.3 1.5 9.4 1.5 12.7 1.8 -31 1.9 -43.9 1.6 15.5 1.6 16.8 1.6 9.4 1.6 14.3 1.6 -57.7 1.7 -4.8 1.6 -4.4 1.6 -10.6 1.6 33.7 1.6 2.9 1.6 8.6 1.6 0 1.5 13.5 1.4 1.5 1.5 13 2.1 -64.6 1.3 -20.1 1.3 -12.2 1.4 43.4 1.4 21.2 1.7 -0.6 1.6 -3.7 1.4 -29.3 1.4 -9.7 1.4 -4.1 1.7 6.5 1.6 10.7 1.6 28.6 1.6 27.4 2.1 -49.5 1.5 -1.2 1.4 -13.1 1.5 -7.2 1.6 5 1.6 61.7 1.6 -6.3 1.6 -23.8 1.6 -15.8 1.6 -12.2 1.7 27.8 1.6 26 1.4 -84.2 1.5 -21.4 1.4 -38.7 1.6 38.7 1.6 58.2 1.4 44.9 1.5 -20.9 1.4 53.6 1.4 -20.5 1.5 -47.5 1.4 -3.1 1.7 -11.8 1.6 -24.8 1.4 -1.8 1.5 11.8 1.4 11.5 1.4 -32.6 1.5 -4.8 1.4 -31.5 1.4 -11.4 1.5 114.5 1.4 60.6 1.6 -147.8 1.6 -46.1 2.2 -4.3 2.1 -10.7 2.2 176.6 1.4 -17.1 1.5 -5.1 1.4 -10.1 2.1 -43.1 2.2 86.1 2.1 53.9 2.2 -15.1 2.2 38.8 1 25.8 3.3 8.6 2.1 74.1 1.4 0" stroke="#2E3192" stroke-width="3.0" fill="none" stroke-linejoin="round" clip-path="url(#clipc)"/>
<path d="M669 419.9l0 -0.6 0 -0.7 0 -0.6 0 -0.7 0.1 -0.6 0 -0.7 0 -0.6 0.1 -0.7 0 -0.6 0 -0.7 0.1 -0.6 0 -0.7 0.1 -0.6 0.1 -0.7 0 -0.6 0.1 -0.7 0.1 -0.6 0.1 -0.7 0.1 -0.6 0.1 -0.7 0.1 -0.6 0.1 -0.7 0.1 -0.6 0.1 -0.7 0.1 -0.6 0.1 -0.7 0.1 -0.6 0.2 -0.7 0.1 -0.6 0.1 -0.7 0.2 -0.6 0.1 -0.7 0.2 -0.6 0.1 -0.7 0.2 -0.6 0.2 -0.7 0.1 -0.6 0.2 -0.7 0.2 -0.6 0.2 -0.7 0.2 -0.6 0.2 -0.7 0.2 -0.6 0.2 -0.7 0.2 -0.6 0.2 -0.7 0.2 -0.6 0.2 -0.7 0.3 -0.6 0.2 -0.7 0.2 -0.6 0.3 -0.7 0.2 -0.6 0.3 -0.7 0.2 -0.6 0.3 -0.7 0.3 -0.6 0.2 -0.7 0.3 -0.6 0.3 -0.7 0.3 -0.6 0.3 -0.7 0.3 -0.6 0.3 -0.7 0.3 -0.6 0.3 -0.7 0.3 -0.6 0.3 -0.7 0.3 -0.6 0.4 -0.7 0.3 -0.6 0.3 -0.7 0.4 -0.6 0.3 -0.7 0.4 -0.6 0.3 -0.7 0.4 -0.6 0.4 -0.7 0.3 -0.6 0.4 -0.7 0.4 -0.6 0.4 -0.7 0.4 -0.6 0.4 -0.7 0.4 -0.6 0.4 -0.7 0.4 -0.6 0.4 -0.7 0.4 -0.6 0.4 -0.7 0.4 -0.6 0.5 -0.7 0.4 -0.6 0.5 -0.7 0.4 -0.6 0.5 -0.7 0.4 -0.6 0.5 -0.7 0.4 -0.6 0.5 -0.7 0.5 -0.6 0.5 -0.7 0.4 -0.6 0.5 -0.6 0.5 -0.7 0.5 -0.6 0.5 -0.7 0.5 -0.6 0.5 -0.7 0.6 -0.6 0.5 -0.7 0.5 -0.6 0.5 -0.7 0.6 -0.6 0.5 -0.7 0.6 -0.6 0.5 -0.7 0.6 -0.6 0.5 -0.7 0.6 -0.6 0.6 -0.7 0.5 -0.6 0.6 -0.7 0.6 -0.6 0.6 -0.7 0.6 -0.6 0.6 -0.7 0.6 -0.6 0.6 -0.7 0.6 -0.6 0.6 -0.7 0.6 -0.6 0.6 -0.7 0.7 -0.6 0.6 -0.7 0.6 -0.6 0.7 -0.7 0.6 -0.6 0.7 -0.7 0.7 -0.6 0.6 -0.7 0.7 -0.6 0.7 -0.7 0.6 -0.6 0.7 -0.7 0.7 -0.6 0.7 -0.7 0.7 -0.6 0.7 -0.7 0.7 -0.6 0.7 -0.7 0.7 -0.6 0.7 -0.7 0.8 -0.6 0.7 -0.7 0.7 -0.6 0.8 -0.7 0.7 -0.6 0.8 -0.7 0.7 -0.6 0.8 -0.7 0.7 -0.6 0.8 -0.7 0.8 -0.6 0.7 -0.7 0.8 -0.6 0.8 -0.7 0.8 -0.6 0.8 -0.7 0.8 -0.6 0.8 -0.7 0.8 -0.6 0.8 -0.7 0.8 -0.6 0.9 -0.7 0.8 -0.6 0.8 -0.7 0.9 -0.6 0.8 -0.7 0.9 -0.6 0.8 -0.7 0.9 -0.6 0.8 -0.7 0.9 -0.6 0.9 -0.7 0.8 -0.6 0.9 -0.7 0.9 -0.6 0.9 -0.7 0.9 -0.6 0.9 -0.7 0.9 -0.6 0.9 -0.7 0.9 -0.6 0.9 -0.7 0.9 -0.6 1 -0.7 0.9 -0.6 0.9 -0.7 1 -0.6 0.9 -0.7 1 -0.6 0.9 -0.7 1 -0.6 1 -0.7 0.9 -0.6 1 -0.6 1 -0.7 1 -0.6 1 -0.7 0.9 -0.6 1 -0.7 1.1 -0.6 1 -0.7 1 -0.6 1 -0.7 1 -0.6 1 -0.7 1.1 -0.6 1 -0.7 1 -0.6 1.1 -0.7 1 -0.6 1.1 -0.7 1.1 -0.6 1 -0.7 1.1 -0.6 1.1 -0.7 1 -0.6 1.1 -0.7 1.1 -0.6 1.1 -0.7 1.1 -0.6 1.1 -0.7 1.1 -0.6 1.1 -0.7 1.1 -0.6 1.2 -0.7 1.1 -0.6 1.1 -0.7 1.1 -0.6 1.2 -0.7 1.1 -0.6 1.2 -0.7 1.1 -0.6 1.2 -0.7 1.2 -0.6 1.1 -0.7 1.2 -0.6 1.2 -0.7 1.2 -0.6 1.1 -0.7 1.2 -0.6 1.2 -0.7 1.2 -0.6 1.2 -0.7 1.2 -0.6 1.3 -0.7 1.2 -0.6 1.2 -0.7 1.2 -0.6 1.3 -0.7 1.2 -0.6 1.2 -0.7 1.3 -0.6 1.2 -0.7 1.3 -0.6 1.3 -0.7 1.2 -0.6 1.3 -0.7 1.3 -0.6 1.3 -0.7 1.2 -0.6 1.3 -0.7 1.3 -0.6 1.3 -0.7 1.3 -0.6 1.3 -0.7 1.4 -0.6 1.3 -0.7 1.3 -0.6 1.3 -0.7 1.4 -0.6 1.3 -0.7 1.3 -0.6 1.4 -0.7 1.3 -0.6 1.4 -0.7 1.4 -0.6 1.3 -0.7 1.4 -0.6 1.4 -0.7 1.4 -0.6 1.3 -0.7 1.4 -0.6 1.4 -0.7 1.4 -0.6 1.4 -0.7 1.4 -0.6 1.5 -0.7 1.4 -0.6 1.4 -0.7 1.4 -0.6 1.5 -0.7 1.4 -0.6 1.4 -0.7 1.5 -0.6 1.4 -0.7 1.5 -0.6 1.4 -0.6 1.5 -0.7 1.5 -0.6 1.5 -0.7 1.4 -0.6 1.5 -0.7 1.5 -0.6 1.5 -0.7 1.5 -0.6 1.5 -0.7 1.5 -0.6 1.5 -0.7 1.5 -0.6 1.6 -0.7 1.5 -0.6 1.5 -0.7 1.6 -0.6 1.5 -0.7 1.5 -0.6 1.6 -0.7 1.5 -0.6 1.6 -0.7 1.6 -0.6 1.5 -0.7 1.6 -0.6 1.6 -0.7 1.6 -0.6 1.6 -0.7 1.5 -0.6 1.6 -0.7 1.6 -0.6 1.7 -0.7 1.6 -0.6 1.6 -0.7 1.6 -0.6 1.6 -0.7 1.7 -0.6 1.6 -0.7 1.6 -0.6 1.7 -0.7 1.6 -0.6 1.7 -0.7 1.6 -0.6 1.7 -0.7 1.7 -0.6 1.6 -0.7 1.7 -0.6 1.7 -0.7 1.7 -0.6 1.7 -0.7 1.7 -0.6 1.7 -0.7 1.7 -0.6 1.7 -0.7 1.7 -0.6 1.7 -0.7 1.8 -0.6 1.7 -0.7 1.7 -0.6 1.8 -0.7 1.7 -0.6 1.8 -0.7 1.7 -0.6 1.8 -0.7 1.7 -0.6 1.8 -0.7 1.8 -0.6 1.7 -0.7 1.8 -0.6 1.8 -0.7 1.8 -0.6 1.8 -0.7 1.8 -0.6 1.8 -0.7 1.8 -0.6 1.8 -0.7 1.8 -0.6 1.9 -0.7 1.8 -0.6 1.8 -0.7 1.9 -0.6 1.8 -0.7 1.9 -0.6 1.8 -0.7 1.9 -0.6 1.8 -0.7 1.9 -0.6 1.9 -0.7 1.8 -0.6 1.9 -0.7 1.9 -0.6" stroke="#ED1C24" stroke-width="6.6" fill="none" stroke-dasharray="36 19" stroke-dashoffset="0" clip-path="url(#clipc)"/>
<path d="M626.1 800l57.7 0 0 -0.2 0 -0.2 0 -0.2 0 -0.2 0 -0.2 0 -0.2 0 -0.2 0 -0.2 0 -0.2 0 -0.3 0 -0.2 0 -0.2 0 -0.2 0.1 -0.2 0 -0.2 0 -0.2 0 -0.2 0 -0.2 0 -0.2 0 -0.2 0 -0.2 0 -0.2 0 -0.2 0.1 -0.2 0 -0.2 0 -0.2 0 -0.2 0 -0.2 0 -0.2 0 -0.3 0.1 -0.2 0 -0.2 0 -0.2 0 -0.2 0 -0.2 0.1 -0.2 0 -0.2 0 -0.2 0 -0.2 0 -0.2 0.1 -0.2 0 -0.2 0 -0.2 0 -0.2 0.1 -0.2 0 -0.2 0 -0.2 0 -0.2 0.1 -0.3 0 -0.2 0 -0.2 0 -0.2 0.1 -0.2 0 -0.2 0 -0.2 0.1 -0.2 0 -0.2 0 -0.2 0.1 -0.2 0 -0.2 0 -0.2 0.1 -0.2 0 -0.2 0 -0.2 0.1 -0.2 0 -0.2 0 -0.2 0.1 -0.2 0 -0.3 0.1 -0.2 0 -0.2 0 -0.2 0.1 -0.2 0 -0.2 0.1 -0.2 0 -0.2 0 -0.2 0.1 -0.2 0 -0.2 0.1 -0.2 0 -0.2 0.1 -0.2 0 -0.2 0.1 -0.2 0 -0.2 0.1 -0.2 0 -0.2 0 -0.3 0.1 -0.2 0 -0.2 0.1 -0.2 0 -0.2 0.1 -0.2 0.1 -0.2 0 -0.2 0.1 -0.2 0 -0.2 0.1 -0.2 0 -0.2 0.1 -0.2 0 -0.2 0.1 -0.2 0 -0.2 0.1 -0.2 0.1 -0.2 0 -0.2 0.1 -0.2 0 -0.3 0.1 -0.2 0.1 -0.2 0 -0.2 0.1 -0.2 0 -0.2 0.1 -0.2 0.1 -0.2 0 -0.2 0.1 -0.2 0.1 -0.2 0 -0.2 0.1 -0.2 0 -12.5 1.6 -9.6 1.5 0.9 1.6 -8.8 2.4 -35.7 1.9 18.2 2.1 3.2 2.1 11.1 1.4 -14.3 1.3 -28.5 2.3 22.2 2.4 -63.5 2.4 36.5 1.3 17.5 1.4 -7.1 1.3 16.6 2.3 36.5 1.3 2 1.4 5.8 1.3 14.4 2.4 -61.9 1.6 -30.1 2.4 -25.4 2.3 46 1.6 -11.9 1.6 -4 1.6 12.9 1.6 -5 1.6 15.9 1.6 -50.8 2.3 -22.2 2.4 50.8 1.6 10.1 1.6 9 2.4 -66.7 1.6 13.5 1.6 42 2.3 1.6 1.6 -18.5 1.6 -8.5 1.6 -5.6 1.6 0.4 1.6 -9 2.4 19 2.3 -17.5 1.3 28.7 1.4 -13.4 1.3 51.4 1.6 -57.7 1.6 -48.5 1.6 -1.7 1.6 66.7 1.5 27.8 1.6 5.5 1.6 -22.1 1.6 -76.3 1.6 64.2 1.6 16.7 1.6 -13.1 1.5 -17.3 1.6 -85.5 2.4 128.6 1.3 -7.3 1.4 -86.8 1.3 -12.2 0.9 -1.2 1.3 91.3 1.3 0.9 1.3 48.6 1.9 -51.1 1.9 -137.9 2 54 1.9 -42.4 1.6 36.9 1.6 20.1 1.6 37.4 1.8 -37.8 1.7 -22.9 2.3 72.3 1.6 -52.7 1.6 -58.3 1.6 -22 1.3 -1.6 1.3 137.8 1.3 6.5 1.9 -3.1 1.9 -10.4 2 -5.9 1.9 -88.6 2.5 -167 1.3 217.1 1.7 -23.4 1.6 -47.9 2.5 113.7 1.6 -14.3 1.6 -7.9 1.6 -27.9 1.7 -38.4 1.8 -7.9 1.7 56 1.6 28.9 1.4 -57.4 1.5 -46.8 1.6 4.4 1.6 37.2 1.6 62.6 1.5 -17.6 1.4 -19.1 1.4 7.3 1.4 34 1.4 24.3 1.2 -127.3 1.4 47.1 1.4 15.9 1.4 46.9 1.6 -56.4 1.7 -0.8 1.6 -27.6 2.5 5.8 2.3 -142.7 1.5 39.9 1.4 112.4 1.4 0.5 1.5 5.3 1.9 7.8 1.9 26.9 1.4 -41.9 1.5 -25.6 1.6 -3.6 1.6 60.9 1.6 14.1 2 -94.5 1.9 7.7 1.5 -3.9 1.4 -38.5 1.4 54.1 1.5 80.9 1.9 -27.5 1.9 -63.2 1.5 -3 1.4 -24 1.8 5.2 1.6 8 1.6 82.4 2.2 -88.3 2.1 90.5 2.2 -19.4 2.1 4.3 2.2 -45.2 1.6 -60.3 1.6 -13 2.2 86.2 1.6 -10.6 1.6 -36.8 1.6 24.3 1.6 5.9 1.7 32.3 1.6 19.4 1.6 -17.4 1.6 -4.2 2.2 -25.8 1.6 -8.7 1.6 -6.4 1.6 7.6 1.6 1 1.6 -1.6 1.7 -9.2 1.6 10 1.6 3 2.1 -15.1 2.2 47.4 1.6 -24.8 1.6 -7.5 1.4 -3.5 1.4 -15.9 1.6 17.1 1.6 49.7 1.6 10.7 1.4 -21.3 1.5 13.5 1.4 -24.5 1.3 -19.3 1.3 -28.1 1.4 34.7 1.4 14.9 1.6 -22.9 1.6 -7.3 1.6 -32.3 1.6 -49.5 2.2 -71.8 2.1 198.8 1.6 -18.4 1.7 -24.6 2.1 -30.2 2.2 21.5 1.6 -33.3 1.6 -46.3 1.6 21.7 1.6 36.4 1.6 9.1 1.7 3.8 2.1 69 1.6 -67.9 1.6 -37.7 1.7 -7.3 1.6 -3.4 1.6 19.2 1.6 77.7 1.6 0.6 1.6 -2.8 1.6 2.6 1.7 14.7 2.1 49.5 1.6 4.9 1.6 14.5 1.8 34.4 1.5 -75.3 1.7 -49.6 1.5 203.4 5.7 0" stroke="#2E3192" stroke-width="2.7" fill="none" stroke-linejoin="round" clip-path="url(#clipd)"/>
<path d="M683.8 800l0 -0.6 0 -0.6 0 -0.6 0 -0.6 0.1 -0.6 0 -0.6 0 -0.6 0 -0.6 0.1 -0.6 0 -0.6 0.1 -0.6 0 -0.6 0.1 -0.6 0.1 -0.6 0 -0.6 0.1 -0.6 0.1 -0.6 0.1 -0.6 0 -0.5 0.1 -0.6 0.1 -0.6 0.1 -0.6 0.1 -0.6 0.2 -0.6 0.1 -0.6 0.1 -0.6 0.1 -0.6 0.1 -0.6 0.2 -0.6 0.1 -0.6 0.2 -0.6 0.1 -0.6 0.2 -0.6 0.1 -0.6 0.2 -0.6 0.2 -0.6 0.1 -0.6 0.2 -0.6 0.2 -0.6 0.2 -0.6 0.2 -0.6 0.2 -0.6 0.2 -0.6 0.2 -0.6 0.2 -0.6 0.2 -0.6 0.2 -0.6 0.2 -0.6 0.3 -0.6 0.2 -0.6 0.2 -0.6 0.3 -0.6 0.2 -0.6 0.3 -0.6 0.2 -0.6 0.3 -0.6 0.3 -0.5 0.2 -0.6 0.3 -0.6 0.3 -0.6 0.3 -0.6 0.3 -0.6 0.3 -0.6 0.3 -0.6 0.3 -0.6 0.3 -0.6 0.3 -0.6 0.3 -0.6 0.3 -0.6 0.3 -0.6 0.4 -0.6 0.3 -0.6 0.4 -0.6 0.3 -0.6 0.4 -0.6 0.3 -0.6 0.4 -0.6 0.3 -0.6 0.4 -0.6 0.4 -0.6 0.4 -0.6 0.3 -0.6 0.4 -0.6 0.4 -0.6 0.4 -0.6 0.4 -0.6 0.4 -0.6 0.5 -0.6 0.4 -0.6 0.4 -0.6 0.4 -0.6 0.5 -0.6 0.4 -0.6 0.4 -0.6 0.5 -0.5 0.4 -0.6 0.5 -0.6 0.4 -0.6 0.5 -0.6 0.5 -0.6 0.4 -0.6 0.5 -0.6 0.5 -0.6 0.5 -0.6 0.5 -0.6 0.5 -0.6 0.5 -0.6 0.5 -0.6 0.5 -0.6 0.5 -0.6 0.5 -0.6 0.6 -0.6 0.5 -0.6 0.5 -0.6 0.6 -0.6 0.5 -0.6 0.6 -0.6 0.5 -0.6 0.6 -0.6 0.5 -0.6 0.6 -0.6 0.6 -0.6 0.6 -0.6 0.5 -0.6 0.6 -0.6 0.6 -0.6 0.6 -0.6 0.6 -0.6 0.6 -0.6 0.6 -0.6 0.7 -0.6 0.6 -0.6 0.6 -0.5 0.6 -0.6 0.7 -0.6 0.6 -0.6 0.6 -0.6 0.7 -0.6 0.6 -0.6 0.7 -0.6 0.7 -0.6 0.6 -0.6 0.7 -0.6 0.7 -0.6 0.7 -0.6 0.6 -0.6 0.7 -0.6 0.7 -0.6 0.7 -0.6 0.7 -0.6 0.8 -0.6 0.7 -0.6 0.7 -0.6 0.7 -0.6 0.7 -0.6 0.8 -0.6 0.7 -0.6 0.7 -0.6 0.8 -0.6 0.7 -0.6 0.8 -0.6 0.8 -0.6 0.7 -0.6 0.8 -0.6 0.8 -0.6 0.8 -0.6 0.7 -0.6 0.8 -0.6 0.8 -0.6 0.8 -0.6 0.8 -0.5 0.8 -0.6 0.9 -0.6 0.8 -0.6 0.8 -0.6 0.8 -0.6 0.9 -0.6 0.8 -0.6 0.8 -0.6 0.9 -0.6 0.8 -0.6 0.9 -0.6 0.8 -0.6 0.9 -0.6 0.9 -0.6 0.9 -0.6 0.8 -0.6 0.9 -0.6 0.9 -0.6 0.9 -0.6 0.9 -0.6 0.9 -0.6 0.9 -0.6 0.9 -0.6 0.9 -0.6 1 -0.6 0.9 -0.6 0.9 -0.6 1 -0.6 0.9 -0.6 0.9 -0.6 1 -0.6 0.9 -0.6 1 -0.6 1 -0.6 0.9 -0.6 1 -0.6 1 -0.6 1 -0.5 1 -0.6 1 -0.6 1 -0.6 1 -0.6 1 -0.6 1 -0.6 1 -0.6 1 -0.6 1 -0.6 1.1 -0.6 1 -0.6 1 -0.6 1.1 -0.6 1 -0.6 1.1 -0.6 1 -0.6 1.1 -0.6 1.1 -0.6 1.1 -0.6 1 -0.6 1.1 -0.6 1.1 -0.6 1.1 -0.6 1.1 -0.6 1.1 -0.6 1.1 -0.6 1.1 -0.6 1.1 -0.6 1.1 -0.6 1.2 -0.6 1.1 -0.6 1.1 -0.6 1.2 -0.6 1.1 -0.6 1.2 -0.6 1.1 -0.6 1.2 -0.6 1.1 -0.5 1.2 -0.6 1.2 -0.6 1.1 -0.6 1.2 -0.6 1.2 -0.6 1.2 -0.6 1.2 -0.6 1.2 -0.6 1.2 -0.6 1.2 -0.6 1.2 -0.6 1.2 -0.6 1.3 -0.6 1.2 -0.6 1.2 -0.6 1.3 -0.6 1.2 -0.6 1.3 -0.6 1.2 -0.6 1.3 -0.6 1.2 -0.6 1.3 -0.6 1.3 -0.6 1.2 -0.6 1.3 -0.6 1.3 -0.6 1.3 -0.6 1.3 -0.6 1.3 -0.6 1.3 -0.6 1.3 -0.6 1.3 -0.6 1.3 -0.6 1.3 -0.6 1.4 -0.6 1.3 -0.6 1.3 -0.6 1.4 -0.5 1.3 -0.6 1.4 -0.6 1.3 -0.6 1.4 -0.6 1.4 -0.6 1.3 -0.6 1.4 -0.6 1.4 -0.6 1.4 -0.6 1.4 -0.6 1.4 -0.6 1.4 -0.6 1.4 -0.6 1.4 -0.6 1.4 -0.6 1.4 -0.6 1.4 -0.6 1.4 -0.6 1.5 -0.6 1.4 -0.6 1.4 -0.6 1.5 -0.6 1.4 -0.6 1.5 -0.6 1.5 -0.6 1.4 -0.6 1.5 -0.6 1.5 -0.6 1.4 -0.6 1.5 -0.6 1.5 -0.6 1.5 -0.6 1.5 -0.6 1.5 -0.6 1.5 -0.6 1.5 -0.6 1.5 -0.6 1.6 -0.5 1.5 -0.6 1.5 -0.6 1.5 -0.6 1.6 -0.6 1.5 -0.6 1.6 -0.6 1.5 -0.6 1.6 -0.6 1.6 -0.6 1.5 -0.6 1.6 -0.6 1.6 -0.6 1.6 -0.6 1.5 -0.6 1.6 -0.6 1.6 -0.6 1.6 -0.6 1.6 -0.6 1.6 -0.6 1.7 -0.6 1.6 -0.6 1.6 -0.6 1.6 -0.6 1.7 -0.6 1.6 -0.6 1.6 -0.6 1.7 -0.6 1.6 -0.6 1.7 -0.6 1.7 -0.6 1.6 -0.6 1.7 -0.6 1.7 -0.6 1.7 -0.6 1.6 -0.6 1.7 -0.6 1.7 -0.6 1.7 -0.5 1.7 -0.6 1.7 -0.6 1.8 -0.6 1.7 -0.6 1.7 -0.6 1.7 -0.6 1.8 -0.6 1.7 -0.6 1.7 -0.6 1.8 -0.6 1.7 -0.6 1.8 -0.6 1.8 -0.6 1.7 -0.6 1.8 -0.6 1.8 -0.6 1.7 -0.6 1.8 -0.6 1.8 -0.6 1.8 -0.6 1.8 -0.6 1.8 -0.6 1.8 -0.6 1.8 -0.6 1.9 -0.6 1.8 -0.6 1.8 -0.6 1.8 -0.6 1.9 -0.6 1.8 -0.6 1.9 -0.6 1.8 -0.6 1.9 -0.6 1.8 -0.6 1.9 -0.6 1.9 -0.6 1.8 -0.6 1.9 -0.5 1.9 -0.6" stroke="#ED1C24" stroke-width="6.6" fill="none" stroke-dasharray="36 19" stroke-dashoffset="0" clip-path="url(#clipd)"/>
<g font-family='"Liberation Sans", sans-serif' font-size="32" fill="#231F20">
<text x="108.8" y="318.5" text-anchor="end">0.2</text>
<text x="108.8" y="209.7" text-anchor="end">0.4</text>
<text x="108.8" y="100.9" text-anchor="end">0.6</text>
<text x="108.8" y="808.5" text-anchor="end">0</text>
<text x="108.8" y="744.9" text-anchor="end">5</text>
<text x="108.8" y="681.4" text-anchor="end">10</text>
<text x="108.8" y="617.9" text-anchor="end">15</text>
<text x="108.8" y="554.3" text-anchor="end">20</text>
<text x="108.8" y="490.8" text-anchor="end">25</text>
<text x="108.8" y="427.3" text-anchor="end">30</text>
<text x="617.6" y="431.4" text-anchor="end">0</text>
<text x="617.6" y="322.8" text-anchor="end">0.2</text>
<text x="617.6" y="214.2" text-anchor="end">0.4</text>
<text x="617.6" y="105.6" text-anchor="end">0.6</text>
<text x="617.6" y="811.5" text-anchor="end">0</text>
<text x="617.6" y="702.9" text-anchor="end">0.2</text>
<text x="617.6" y="594.3" text-anchor="end">0.4</text>
<text x="617.6" y="485.7" text-anchor="end">0.6</text>
<text x="118" y="829.7" text-anchor="middle">-12</text>
<text x="176" y="829.7" text-anchor="middle">-10</text>
<text x="234" y="829.7" text-anchor="middle">-8</text>
<text x="292" y="829.7" text-anchor="middle">-6</text>
<text x="350" y="829.7" text-anchor="middle">-4</text>
<text x="408" y="829.7" text-anchor="middle">-2</text>
<text x="465.5" y="829.7" text-anchor="middle">0</text>
<text x="523.5" y="829.7" text-anchor="middle">2</text>
<text x="626.9" y="831.5" text-anchor="middle">-12</text>
<text x="684.9" y="831.5" text-anchor="middle">-10</text>
<text x="742.9" y="831.5" text-anchor="middle">-8</text>
<text x="800.9" y="831.5" text-anchor="middle">-6</text>
<text x="858.8" y="831.5" text-anchor="middle">-4</text>
<text x="916.8" y="831.5" text-anchor="middle">-2</text>
<text x="974.3" y="831.5" text-anchor="middle">0</text>
<text x="1032.3" y="831.5" text-anchor="middle">2</text>
<text x="279" y="863.2">E-E<tspan font-size="21" dy="11">f</tspan><tspan dy="-11">(eV)</tspan></text>
<text x="787.5" y="866.2">E-E<tspan font-size="21" dy="11">f</tspan><tspan dy="-11">(eV)</tspan></text>
</g>
<text transform="translate(48.6 684) rotate(-90)" font-family='"Liberation Sans", sans-serif' font-size="43.4" fill="#231F20">DOS (states eV</text>
<text transform="translate(21.8 378.5) rotate(-90)" font-family='"Liberation Sans", sans-serif' font-size="32" fill="#231F20">-1</text>
<text transform="translate(48.6 337.4) rotate(-90)" font-family='"Liberation Sans", sans-serif' font-size="43.4" fill="#231F20">atom</text>
<text transform="translate(21.8 237.5) rotate(-90)" font-family='"Liberation Sans", sans-serif' font-size="32" fill="#231F20">-1</text>
<text transform="translate(48.6 212) rotate(-90)" font-family='"Liberation Sans", sans-serif' font-size="43.4" fill="#231F20">)</text>
<path d="M184 76.5H227.8" stroke="#2E3192" stroke-width="3.4"/>
<path d="M184 104.7H227.8" stroke="#ED1C24" stroke-width="3.6" stroke-dasharray="18 11"/>
<text x="234" y="88" font-family='"Liberation Sans", sans-serif' font-size="26.7" fill="#231F20">FCC-Al</text>
<text x="234.3" y="120.5" font-family='"Liberation Sans", sans-serif' font-size="26.7" fill="#231F20">free-eletron model</text>
<path d="M184 456.1H227.8" stroke="#2E3192" stroke-width="2.8"/>
<path d="M184 488.5H227.8" stroke="#ED1C24" stroke-width="3.6" stroke-dasharray="18 11"/>
<text x="238.5" y="460.5" font-family='"Liberation Sans", sans-serif' font-size="26.7" fill="#231F20">Al<tspan font-size="18.5" dy="10">12</tspan><tspan dy="-10">Re</tspan></text>
<text x="238.5" y="499" font-family='"Liberation Sans", sans-serif' font-size="26.7" fill="#231F20">free-eletron model</text>
<path d="M671 84.5H714.8" stroke="#2E3192" stroke-width="3.4"/>
<path d="M671 117.3H714.8" stroke="#ED1C24" stroke-width="3.6" stroke-dasharray="18 11"/>
<text x="723.5" y="92.5" font-family='"Liberation Sans", sans-serif' font-size="26.7" fill="#231F20">Al<tspan font-size="18.5" dy="10">12</tspan></text>
<text x="723.6" y="126.5" font-family='"Liberation Sans", sans-serif' font-size="26.7" fill="#231F20">free-eletron model</text>
<path d="M671 459.4H714.8" stroke="#2E3192" stroke-width="3.2"/>
<path d="M671 492.3H714.8" stroke="#ED1C24" stroke-width="3.6" stroke-dasharray="18 11"/>
<text x="726.2" y="463.2" font-family='"Liberation Sans", sans-serif' font-size="26.7" fill="#231F20">Al<tspan font-size="18.5" dy="10">12</tspan><tspan dy="-10">He</tspan></text>
<text x="726.2" y="501" font-family='"Liberation Sans", sans-serif' font-size="26.7" fill="#231F20">free-eletron model</text>
<text x="490.5" y="391.5" font-family='"Liberation Serif", serif' font-size="96" fill="#231F20">a</text>
<text x="494" y="777.5" font-family='"Liberation Serif", serif' font-size="96" fill="#231F20">b</text>
<text x="995.5" y="386" font-family='"Liberation Serif", serif' font-size="96" fill="#231F20">c</text>
<text x="990" y="775" font-family='"Liberation Serif", serif' font-size="96" fill="#231F20">d</text>
<rect x="147.3" y="924" width="1241.5" height="783.5" fill="#FFFAD6"/>
<path d="M146.3 924H1388.8M146.3 1707.5H1388.8M147.3 924V1707.5" stroke="#231F20" stroke-width="2.2" fill="none"/>
<path d="M147.3 1668.3h12.5M147.3 1629.2h19M147.3 1590h12.5M147.3 1550.8h19M147.3 1511.6h12.5M147.3 1472.5h19M147.3 1433.3h12.5M147.3 1394.1h19M147.3 1354.9h12.5M147.3 1315.8h19M147.3 1276.6h12.5M147.3 1237.4h19M147.3 1198.2h12.5M147.3 1159h19M147.3 1119.9h12.5M147.3 1080.7h19M147.3 1041.5h12.5M147.3 1002.4h19M147.3 963.2h12.5M285 924v18M285 1707.5v-18.7M423.1 924v18M423.1 1707.5v-18.7M561.2 924v18M561.2 1707.5v-18.7M699.3 924v18M699.3 1707.5v-18.7M837.4 924v18M837.4 1707.5v-18.7M975.5 924v18M975.5 1707.5v-18.7M1113.6 924v18M1113.6 1707.5v-18.7M1251.7 924v18M1251.7 1707.5v-18.7" stroke="#231F20" stroke-width="2" fill="none"/>
<path d="M1388.8 1707.5h-19M1388.8 1629.2h-19M1388.8 1550.8h-19M1388.8 1472.5h-19M1388.8 1394.1h-19M1388.8 1315.8h-19M1388.8 1237.4h-19M1388.8 1159h-19M1388.8 1080.7h-19M1388.8 1002.4h-19M1388.8 924h-19" stroke="#00A04B" stroke-width="2.2" fill="none"/>
<path d="M1388.8 923V1708.5" stroke="#00A04B" stroke-width="2.5" fill="none"/>
<g font-family='"Liberation Sans", sans-serif' font-size="38" fill="#231F20">
<text x="136.6" y="1721.1" text-anchor="end">-50</text>
<text x="136.6" y="1642.8" text-anchor="end">-25</text>
<text x="136.6" y="1564.4" text-anchor="end">0</text>
<text x="136.6" y="1486.1" text-anchor="end">25</text>
<text x="136.6" y="1407.7" text-anchor="end">50</text>
<text x="136.6" y="1329.4" text-anchor="end">75</text>
<text x="136.6" y="1251" text-anchor="end">100</text>
<text x="136.6" y="1172.7" text-anchor="end">125</text>
<text x="136.6" y="1094.3" text-anchor="end">150</text>
<text x="136.6" y="1016" text-anchor="end">175</text>
<text x="136.6" y="937.6" text-anchor="end">200</text>
</g>
<g font-family='"Liberation Sans", sans-serif' font-size="38" fill="#00A04B">
<text x="1402" y="1721.1">0.0</text>
<text x="1402" y="1642.8">0.1</text>
<text x="1402" y="1564.4">0.2</text>
<text x="1402" y="1486.1">0.3</text>
<text x="1402" y="1407.7">0.4</text>
<text x="1402" y="1329.4">0.5</text>
<text x="1402" y="1251">0.6</text>
<text x="1402" y="1172.7">0.7</text>
<text x="1402" y="1094.3">0.8</text>
<text x="1402" y="1016">0.9</text>
<text x="1402" y="937.6">1.0</text>
</g>
<text transform="translate(52.3 1448.8) rotate(-90)" font-family='"Liberation Sans", sans-serif' font-size="46" fill="#231F20">Moduli (GPa)</text>
<text transform="translate(1498.6 1353) rotate(-90)" font-family='"Liberation Sans", sans-serif' font-style="italic" font-size="46" fill="#00A04B">G/B</text>
<g font-family='"Liberation Sans", sans-serif' font-size="37" fill="#231F20">
<text x="243.3" y="1748">Al<tspan font-size="25" dy="13.7">12</tspan></text>
<text x="424.6" y="1748" text-anchor="middle">fcc-Al</text>
<text x="562.7" y="1748" text-anchor="middle">Al<tspan font-size="25" dy="13.7">12</tspan><tspan dy="-13.7">Cr</tspan></text>
<text x="700.8" y="1748" text-anchor="middle">Al<tspan font-size="25" dy="13.7">12</tspan><tspan dy="-13.7">Mo</tspan></text>
<text x="838.9" y="1748" text-anchor="middle">Al<tspan font-size="25" dy="13.7">12</tspan><tspan dy="-13.7">W</tspan></text>
<text x="977" y="1748" text-anchor="middle">Al<tspan font-size="25" dy="13.7">12</tspan><tspan dy="-13.7">Mn</tspan></text>
<text x="1115.1" y="1748" text-anchor="middle">Al<tspan font-size="25" dy="13.7">12</tspan><tspan dy="-13.7">Tc</tspan></text>
<text x="1253.2" y="1748" text-anchor="middle">Al<tspan font-size="25" dy="13.7">12</tspan><tspan dy="-13.7">Re</tspan></text>
</g>
<rect x="312.3" y="1727.3" width="17.6" height="18.4" fill="none" stroke="#231F20" stroke-width="5.2"/>
<path d="M285 1535.5L423.1 1417.3L561.2 1198L699.3 1220.7L837.4 1220.7L975.5 1064.7L1113.6 1048.7L1251.7 1056.7" stroke="#00A651" stroke-width="5" fill="none" stroke-dasharray="5 12.5" stroke-linecap="butt"/>
<path d="M285 1359.7L423.1 1321.7L561.2 1114.1L699.3 1098.9L837.4 1087.9L975.5 995.9L1113.6 967.9L1251.7 959.9" stroke="#662D91" stroke-width="3.8" fill="none" stroke-dasharray="22 13" stroke-linecap="butt"/>
<path d="M285 1340L423.1 1315.7L561.2 1277.4L699.3 1257.9L837.4 1249.4L975.5 1264.7L1113.6 1254.1L1251.7 1241.3" stroke="#F7941D" stroke-width="3.8" fill="none" stroke-dasharray="22 13" stroke-linecap="butt"/>
<path d="M285 1478.7L423.1 1463.5L561.2 1374.5L699.3 1369.7L837.4 1365.1L975.5 1315.7L1113.6 1303.2L1251.7 1302" stroke="#2E3192" stroke-width="3.8" fill="none" stroke-dasharray="22 13" stroke-linecap="butt"/>
<path d="M285 1456.5L423.1 1460L561.2 1573.2L699.3 1560.9L837.4 1559.3L975.5 1656.8L1113.6 1667.5L1251.7 1656.8" stroke="#ED1C24" stroke-width="3.8" fill="none" stroke-dasharray="22 13" stroke-linecap="butt"/>
<path d="M285 1339.7L303 1370.9L267 1370.9Z" fill="#662D91"/>
<path d="M423.1 1301.7L441.1 1332.9L405.1 1332.9Z" fill="#662D91"/>
<path d="M561.2 1094.1L579.2 1125.3L543.2 1125.3Z" fill="#662D91"/>
<path d="M699.3 1078.9L717.3 1110.1L681.3 1110.1Z" fill="#662D91"/>
<path d="M837.4 1067.9L855.4 1099.1L819.4 1099.1Z" fill="#662D91"/>
<path d="M975.5 975.9L993.5 1007.1L957.5 1007.1Z" fill="#662D91"/>
<path d="M1113.6 947.9L1131.6 979.1L1095.6 979.1Z" fill="#662D91"/>
<path d="M1251.7 939.9L1269.7 971.1L1233.7 971.1Z" fill="#662D91"/>
<path d="M268.4 1331.2L301.6 1331.2L285 1359.2Z" fill="none" stroke="#F7941D" stroke-width="3.6" stroke-linejoin="miter"/>
<path d="M406.5 1306.9L439.7 1306.9L423.1 1334.9Z" fill="none" stroke="#F7941D" stroke-width="3.6" stroke-linejoin="miter"/>
<path d="M544.6 1268.6L577.8 1268.6L561.2 1296.6Z" fill="none" stroke="#F7941D" stroke-width="3.6" stroke-linejoin="miter"/>
<path d="M682.7 1249.1L715.9 1249.1L699.3 1277.1Z" fill="none" stroke="#F7941D" stroke-width="3.6" stroke-linejoin="miter"/>
<path d="M820.8 1240.6L854 1240.6L837.4 1268.6Z" fill="none" stroke="#F7941D" stroke-width="3.6" stroke-linejoin="miter"/>
<path d="M958.9 1255.9L992.1 1255.9L975.5 1283.9Z" fill="none" stroke="#F7941D" stroke-width="3.6" stroke-linejoin="miter"/>
<path d="M1097 1245.3L1130.2 1245.3L1113.6 1273.3Z" fill="none" stroke="#F7941D" stroke-width="3.6" stroke-linejoin="miter"/>
<path d="M1235.1 1232.5L1268.3 1232.5L1251.7 1260.5Z" fill="none" stroke="#F7941D" stroke-width="3.6" stroke-linejoin="miter"/>
<rect x="270.2" y="1463.9" width="29.6" height="29.6" fill="#2E3192"/>
<rect x="408.3" y="1448.7" width="29.6" height="29.6" fill="#2E3192"/>
<rect x="546.4" y="1359.7" width="29.6" height="29.6" fill="#2E3192"/>
<rect x="684.5" y="1354.9" width="29.6" height="29.6" fill="#2E3192"/>
<rect x="822.6" y="1350.3" width="29.6" height="29.6" fill="#2E3192"/>
<rect x="960.7" y="1300.9" width="29.6" height="29.6" fill="#2E3192"/>
<rect x="1098.8" y="1288.4" width="29.6" height="29.6" fill="#2E3192"/>
<rect x="1236.9" y="1287.2" width="29.6" height="29.6" fill="#2E3192"/>
<circle cx="285" cy="1456.5" r="16.6" fill="none" stroke="#ED1C24" stroke-width="4.8"/>
<circle cx="423.1" cy="1460" r="16.6" fill="none" stroke="#ED1C24" stroke-width="4.8"/>
<circle cx="561.2" cy="1573.2" r="16.6" fill="none" stroke="#ED1C24" stroke-width="4.8"/>
<circle cx="699.3" cy="1560.9" r="16.6" fill="none" stroke="#ED1C24" stroke-width="4.8"/>
<circle cx="837.4" cy="1559.3" r="16.6" fill="none" stroke="#ED1C24" stroke-width="4.8"/>
<circle cx="975.5" cy="1656.8" r="16.6" fill="none" stroke="#ED1C24" stroke-width="4.8"/>
<circle cx="1113.6" cy="1667.5" r="16.6" fill="none" stroke="#ED1C24" stroke-width="4.8"/>
<circle cx="1251.7" cy="1656.8" r="16.6" fill="none" stroke="#ED1C24" stroke-width="4.8"/>
<path d="M273.6 1524.1L296.4 1546.9M273.6 1546.9L296.4 1524.1" stroke="#00A651" stroke-width="8.2" fill="none"/>
<path d="M411.7 1405.9L434.5 1428.7M411.7 1428.7L434.5 1405.9" stroke="#00A651" stroke-width="8.2" fill="none"/>
<path d="M549.8 1186.6L572.6 1209.4M549.8 1209.4L572.6 1186.6" stroke="#00A651" stroke-width="8.2" fill="none"/>
<path d="M687.9 1209.3L710.7 1232.1M687.9 1232.1L710.7 1209.3" stroke="#00A651" stroke-width="8.2" fill="none"/>
<path d="M826 1209.3L848.8 1232.1M826 1232.1L848.8 1209.3" stroke="#00A651" stroke-width="8.2" fill="none"/>
<path d="M964.1 1053.3L986.9 1076.1M964.1 1076.1L986.9 1053.3" stroke="#00A651" stroke-width="8.2" fill="none"/>
<path d="M1102.2 1037.3L1125 1060.1M1102.2 1060.1L1125 1037.3" stroke="#00A651" stroke-width="8.2" fill="none"/>
<path d="M1240.3 1045.3L1263.1 1068.1M1240.3 1068.1L1263.1 1045.3" stroke="#00A651" stroke-width="8.2" fill="none"/>
<path d="M219 981.6H271" stroke="#662D91" stroke-width="3.8" stroke-dasharray="22 13"/>
<path d="M219 961.6L237 992.8L201 992.8Z" fill="#662D91"/>
<path d="M271 961.6L289 992.8L253 992.8Z" fill="#662D91"/>
<path d="M219 1031H271" stroke="#F7941D" stroke-width="3.8" stroke-dasharray="22 13"/>
<path d="M202.4 1022.2L235.6 1022.2L219 1050.2Z" fill="none" stroke="#F7941D" stroke-width="3.6" stroke-linejoin="miter"/>
<path d="M254.4 1022.2L287.6 1022.2L271 1050.2Z" fill="none" stroke="#F7941D" stroke-width="3.6" stroke-linejoin="miter"/>
<path d="M219 1081.3H271" stroke="#2E3192" stroke-width="3.8" stroke-dasharray="22 13"/>
<rect x="204.2" y="1066.5" width="29.6" height="29.6" fill="#2E3192"/>
<rect x="256.2" y="1066.5" width="29.6" height="29.6" fill="#2E3192"/>
<path d="M219 1142H271" stroke="#ED1C24" stroke-width="3.8" stroke-dasharray="22 13"/>
<circle cx="219" cy="1142" r="16.6" fill="none" stroke="#ED1C24" stroke-width="4.8"/>
<circle cx="271" cy="1142" r="16.6" fill="none" stroke="#ED1C24" stroke-width="4.8"/>
<g font-family='"Liberation Serif", serif' font-style="italic" font-size="57" fill="#231F20">
<text x="302" y="1000">E</text><text x="300" y="1049">B</text><text x="299.8" y="1097">G</text>
<text x="300.8" y="1150">C</text><text x="396.8" y="1150">C</text>
</g>
<g font-family='"Liberation Sans", sans-serif' font-size="35" letter-spacing="2.5" fill="#231F20"><text x="337.2" y="1171">12</text><text x="435" y="1171">44</text></g>
<text x="379.5" y="1150.2" font-family='"Liberation Sans", sans-serif' font-size="57" fill="#231F20">-</text>
<text x="1159" y="1113.5" font-family='"Liberation Serif", serif' font-style="italic" font-weight="bold" font-size="43" fill="#00A04B">G/B</text>
<path d="M1256 1094.7H1340" stroke="#00A04B" stroke-width="6"/><path d="M1336 1083.2L1367 1094.7L1336 1106.2Z" fill="#00A04B"/>
<text x="189" y="1669.4" font-family='"Liberation Serif", serif' font-size="96" fill="#231F20">g</text>
<g clip-path="url(#hce)"><g filter="url(#hbe)"><rect x="1096.3" y="25" width="404.2" height="400.5" fill="#2749a1"/><path fill-rule="evenodd" fill="#2a4ca2" d="M1502.3 427.2L1096.3 427.2 1096.1 25.0 1295.0 25.0 1289.7 27.0 1290.1 29.0 1298.3 30.8 1305.9 29.0 1306.3 27.0 1301.0 25.0 1502.3 24.8 1502.3 427.2ZM1304.8 423.0L1306.6 421.0 1302.3 418.7 1292.3 418.9 1289.4 421.0 1294.3 423.7 1304.8 423.0Z"/><path fill-rule="evenodd" fill="#2d4ea4" d="M1502.3 427.2L1096.3 427.2 1096.1 25.0 1287.1 25.0 1284.6 27.0 1286.3 30.0 1298.3 32.5 1310.3 29.6 1311.4 27.0 1308.9 25.0 1502.3 24.8 1502.3 427.2ZM1306.1 425.0L1310.5 423.0 1311.6 421.0 1310.1 419.0 1304.4 417.0 1291.7 417.0 1285.9 419.0 1284.4 421.0 1285.5 423.0 1290.3 425.1 1306.1 425.0Z"/><path fill-rule="evenodd" fill="#2f50a6" d="M1502.3 427.2L1302.8 427.0 1311.3 425.0 1315.3 421.0 1310.5 417.0 1298.3 415.2 1285.5 417.0 1280.7 421.0 1284.7 425.0 1293.2 427.0 1096.3 427.2 1096.1 25.0 1282.8 25.0 1280.9 27.0 1281.0 29.0 1283.3 31.0 1298.3 33.8 1312.7 31.0 1315.0 29.0 1315.1 27.0 1313.2 25.0 1502.3 24.8 1502.3 427.2Z"/><path fill-rule="evenodd" fill="#3252a8" d="M1502.3 427.2L1309.8 427.0 1317.7 423.0 1317.5 419.0 1308.3 415.1 1298.3 414.2 1286.3 415.4 1278.5 419.0 1278.3 423.0 1286.2 427.0 1096.3 427.2 1096.1 25.0 1279.3 25.0 1277.8 29.0 1280.3 31.3 1288.3 34.0 1298.3 34.9 1308.3 33.9 1316.3 31.0 1318.2 29.0 1316.7 25.0 1502.3 24.8 1502.3 427.2Z"/><path fill-rule="evenodd" fill="#3555a9" d="M1502.3 427.2L1314.0 427.0 1320.6 423.0 1320.3 418.9 1312.9 415.0 1298.3 413.2 1284.3 414.7 1276.3 418.4 1274.8 421.0 1275.5 423.0 1282.0 427.0 1096.3 427.2 1096.1 25.0 1276.3 25.0 1275.0 29.0 1280.1 33.0 1298.3 35.8 1316.3 32.8 1321.0 29.0 1319.7 25.0 1502.3 24.8 1502.3 427.2Z"/><path fill-rule="evenodd" fill="#3757ab" d="M1502.3 427.2L1317.5 427.0 1323.2 423.0 1323.1 419.0 1321.0 417.0 1310.3 413.4 1298.3 412.3 1286.3 413.3 1275.0 417.0 1272.9 419.0 1272.8 423.0 1278.5 427.0 1096.3 427.2 1096.1 25.0 1273.6 25.0 1272.4 29.0 1276.8 33.0 1286.3 35.7 1298.3 36.7 1310.3 35.6 1319.2 33.0 1323.6 29.0 1322.4 25.0 1502.3 24.8 1502.3 427.2Z"/><path fill-rule="evenodd" fill="#3a5aac" d="M1502.3 427.2L1320.5 427.0 1325.6 423.0 1325.6 419.0 1323.7 417.0 1313.3 413.0 1298.3 411.5 1282.6 413.0 1272.3 417.0 1270.4 419.0 1270.4 423.0 1275.5 427.0 1096.3 427.2 1096.1 25.0 1271.1 25.0 1269.9 29.0 1274.3 33.2 1284.3 36.3 1298.3 37.5 1312.3 36.2 1322.1 33.0 1326.1 29.0 1324.9 25.0 1502.3 24.8 1502.3 427.2Z"/><path fill-rule="evenodd" fill="#3d5cae" d="M1502.3 427.2L1323.3 427.0 1328.0 423.0 1328.0 419.0 1326.3 417.0 1316.3 412.7 1298.3 410.7 1280.3 412.6 1270.3 416.6 1267.5 421.0 1269.7 425.0 1272.7 427.0 1096.3 427.2 1096.1 25.0 1268.7 25.0 1267.6 29.0 1268.7 31.0 1274.3 34.5 1284.3 37.2 1298.3 38.3 1312.3 37.1 1322.3 34.3 1328.3 29.3 1327.3 25.0 1502.3 24.8 1502.3 427.2Z"/><path fill-rule="evenodd" fill="#3f5eb0" d="M1502.3 427.2L1325.8 427.0 1330.8 421.0 1326.3 415.3 1314.3 411.4 1298.3 410.0 1282.3 411.3 1270.2 415.0 1267.3 417.0 1265.2 421.0 1270.2 427.0 1096.3 427.2 1096.1 25.0 1266.5 25.0 1265.3 29.0 1266.3 31.0 1272.4 35.0 1284.3 38.0 1298.3 39.0 1312.3 37.9 1323.6 35.0 1329.7 31.0 1330.7 29.0 1329.5 25.0 1502.3 24.8 1502.3 427.2Z"/><path fill-rule="evenodd" fill="#4261b2" d="M1502.3 427.2L1328.3 427.0 1332.9 421.0 1331.1 417.0 1328.4 415.0 1316.3 411.0 1298.3 409.3 1280.3 410.9 1267.6 415.0 1264.9 417.0 1263.1 421.0 1267.8 427.0 1096.3 427.2 1096.1 25.0 1264.3 25.0 1263.1 29.0 1264.0 31.0 1269.6 35.0 1282.3 38.5 1298.3 39.7 1314.3 38.4 1326.4 35.0 1332.0 31.0 1332.9 29.0 1331.7 25.0 1502.3 24.8 1502.3 427.2Z"/><path fill-rule="evenodd" fill="#4563b3" d="M1502.3 427.2L1330.6 427.0 1335.1 421.0 1333.4 417.0 1330.9 415.0 1318.3 410.6 1298.3 408.6 1278.3 410.5 1265.1 415.0 1262.6 417.0 1260.9 421.0 1265.4 427.0 1096.3 427.2 1096.1 25.0 1262.1 25.0 1261.0 29.0 1261.8 31.0 1268.3 35.6 1280.7 39.0 1298.3 40.4 1315.3 39.0 1328.3 35.4 1334.2 31.0 1335.0 29.0 1333.9 25.0 1502.3 24.8 1502.3 427.2Z"/><path fill-rule="evenodd" fill="#4966b5" d="M1502.3 427.2L1332.8 427.0 1337.2 421.0 1335.7 417.0 1332.3 414.4 1318.3 409.8 1298.3 407.9 1278.3 409.7 1264.3 414.1 1260.3 417.0 1258.8 421.0 1263.2 427.0 1096.3 427.2 1096.1 25.0 1260.0 25.0 1259.6 31.0 1266.3 35.9 1280.3 39.7 1298.3 41.1 1316.3 39.6 1330.3 35.7 1336.4 31.0 1336.0 25.0 1502.3 24.8 1502.3 427.2Z"/><path fill-rule="evenodd" fill="#4e6bb8" d="M1502.3 427.2L1335.0 427.0 1338.7 423.0 1339.0 419.0 1332.3 413.0 1318.3 409.0 1298.3 407.3 1278.3 408.9 1263.7 413.0 1257.0 419.0 1257.3 423.0 1261.0 427.0 1096.3 427.2 1096.1 25.0 1257.9 25.0 1257.4 31.0 1266.1 37.0 1280.3 40.4 1298.3 41.7 1316.3 40.3 1330.3 36.8 1338.6 31.0 1338.1 25.0 1502.3 24.8 1502.3 427.2Z"/><path fill-rule="evenodd" fill="#546fba" d="M1502.3 427.1L1337.2 427.0 1340.7 423.0 1341.1 419.0 1335.0 413.0 1320.3 408.6 1298.3 406.6 1276.3 408.5 1261.0 413.0 1254.9 419.0 1255.3 423.0 1258.8 427.0 1096.3 427.1 1096.1 25.0 1255.9 25.0 1255.2 31.0 1263.2 37.0 1279.3 41.0 1298.3 42.4 1316.7 41.0 1332.8 37.0 1340.8 31.0 1340.1 25.0 1502.3 24.8 1502.3 427.1Z"/><path fill-rule="evenodd" fill="#5974bd" d="M1502.3 427.1L1339.3 427.0 1342.7 423.0 1343.3 419.0 1337.6 413.0 1320.3 407.9 1298.3 406.0 1274.3 408.1 1258.4 413.0 1252.7 419.0 1253.3 423.0 1256.7 427.0 1096.3 427.1 1096.2 25.0 1253.8 25.0 1253.1 31.0 1260.5 37.0 1276.3 41.2 1298.3 43.0 1320.3 41.1 1335.5 37.0 1342.9 31.0 1342.2 25.0 1502.3 24.9 1502.3 427.1Z"/><path fill-rule="evenodd" fill="#5f78bf" d="M1502.3 427.1L1341.5 427.0 1344.8 423.0 1345.4 419.0 1342.9 415.0 1338.3 412.0 1320.3 407.1 1298.3 405.4 1274.3 407.4 1256.3 412.7 1250.6 419.0 1251.2 423.0 1254.5 427.0 1096.3 427.1 1096.2 25.0 1251.8 25.0 1250.5 29.0 1252.1 33.0 1260.3 38.1 1278.3 42.3 1298.3 43.6 1320.3 41.9 1336.3 37.8 1344.3 32.3 1345.5 29.0 1344.2 25.0 1502.3 24.9 1502.3 427.1Z"/><path fill-rule="evenodd" fill="#647dc2" d="M1502.3 427.1L1343.6 427.0 1346.8 423.0 1347.5 419.0 1345.3 415.0 1340.3 411.7 1322.3 406.7 1298.3 404.7 1274.3 406.6 1256.3 411.4 1250.7 415.0 1248.5 419.0 1249.2 423.0 1252.4 427.0 1096.3 427.1 1096.2 25.0 1249.7 25.0 1248.4 29.0 1249.8 33.0 1258.3 38.4 1276.3 42.7 1298.3 44.2 1320.3 42.6 1338.3 38.2 1346.2 33.0 1347.6 29.0 1346.3 25.0 1502.3 24.9 1502.3 427.1Z"/><path fill-rule="evenodd" fill="#6a81c4" d="M1502.3 427.1L1345.7 427.0 1348.9 423.0 1349.7 419.0 1347.7 415.0 1341.8 411.0 1322.3 406.0 1298.3 404.1 1272.3 406.2 1254.2 411.0 1248.3 415.0 1246.3 419.0 1247.1 423.0 1250.3 427.0 1096.3 427.1 1096.2 25.0 1247.7 25.0 1246.3 29.0 1247.5 33.0 1256.6 39.0 1274.3 43.1 1298.3 44.9 1320.3 43.3 1339.4 39.0 1348.5 33.0 1349.7 29.0 1348.3 25.0 1502.3 24.9 1502.3 427.1Z"/><path fill-rule="evenodd" fill="#6f86c7" d="M1502.3 427.1L1347.8 427.0 1351.0 423.0 1351.9 419.0 1350.2 415.0 1344.8 411.0 1324.3 405.6 1298.3 403.5 1270.3 405.8 1251.2 411.0 1245.8 415.0 1244.1 419.0 1245.0 423.0 1248.2 427.0 1096.3 427.1 1096.2 25.0 1245.6 25.0 1244.1 29.0 1245.1 33.0 1253.5 39.0 1272.3 43.5 1298.3 45.5 1322.3 43.7 1342.5 39.0 1350.9 33.0 1351.9 29.0 1350.4 25.0 1502.3 24.9 1502.3 427.1ZM1177.1 103.0L1181.5 99.0 1183.0 95.0 1181.4 91.0 1178.3 89.8 1170.3 92.2 1165.3 99.0 1166.2 103.0 1168.3 104.2 1177.1 103.0ZM1429.7 103.0L1430.7 99.0 1426.3 92.7 1420.3 89.9 1414.3 91.2 1413.0 95.0 1416.3 101.2 1424.3 104.6 1429.7 103.0ZM1179.5 359.0L1183.0 355.0 1180.3 348.5 1172.3 344.4 1166.3 346.1 1165.6 351.0 1168.2 355.0 1174.3 358.8 1179.5 359.0ZM1420.9 359.0L1425.4 357.0 1429.4 353.0 1430.8 349.0 1428.4 345.0 1420.3 345.3 1413.9 351.0 1413.1 355.0 1414.3 357.7 1420.9 359.0Z"/><path fill-rule="evenodd" fill="#758ac9" d="M1502.3 427.1L1350.0 427.0 1353.9 421.0 1353.7 417.0 1350.8 413.0 1346.3 410.3 1326.3 405.2 1298.3 402.9 1270.8 405.0 1250.3 410.0 1245.2 413.0 1242.3 417.0 1242.1 421.0 1246.0 427.0 1096.3 427.1 1096.2 25.0 1243.5 25.0 1242.0 29.0 1242.7 33.0 1246.5 37.0 1252.3 39.8 1272.3 44.2 1298.3 46.1 1324.3 44.1 1344.3 39.6 1349.5 37.0 1353.3 33.0 1354.0 29.0 1352.5 25.0 1502.3 24.9 1502.3 427.1ZM1176.1 107.0L1182.5 103.0 1186.6 97.0 1187.0 91.0 1182.3 86.2 1176.3 86.0 1170.3 88.3 1164.4 93.0 1160.6 99.0 1160.1 103.0 1162.6 107.0 1168.3 108.5 1176.1 107.0ZM1433.3 107.0L1435.2 105.0 1435.8 101.0 1434.3 96.7 1429.6 91.0 1424.3 87.6 1418.3 85.8 1414.3 86.0 1410.3 88.4 1408.9 95.0 1414.3 103.6 1424.3 108.2 1433.3 107.0ZM1497.1 231.0L1499.3 227.0 1499.5 223.0 1498.1 219.0 1494.3 216.9 1490.3 221.0 1490.1 227.0 1492.3 231.1 1494.3 232.0 1497.1 231.0ZM1103.7 231.0L1105.9 227.0 1106.1 223.0 1104.3 218.5 1100.3 217.0 1097.0 221.0 1096.7 227.0 1100.3 231.9 1103.7 231.0ZM1181.6 363.0L1185.3 361.0 1187.2 357.0 1186.3 351.4 1183.4 347.0 1178.3 343.0 1172.3 340.9 1166.3 340.7 1161.5 343.0 1160.3 349.0 1165.3 357.0 1174.3 362.4 1181.6 363.0ZM1419.5 363.0L1428.3 359.0 1433.9 353.0 1435.7 345.0 1432.3 341.4 1426.3 340.6 1420.3 341.9 1414.7 345.0 1411.0 349.0 1408.8 355.0 1410.3 360.6 1414.3 363.0 1419.5 363.0Z"/><path fill-rule="evenodd" fill="#7a8fcc" d="M1502.3 427.1L1352.2 427.0 1356.1 421.0 1356.1 417.0 1353.6 413.0 1348.3 409.7 1328.3 404.7 1298.3 402.3 1270.3 404.4 1248.3 409.4 1242.5 413.0 1239.9 417.0 1239.9 421.0 1243.8 427.0 1096.3 427.1 1096.3 233.2 1100.3 235.9 1104.3 235.0 1107.3 231.0 1108.7 225.0 1107.7 219.0 1104.3 214.0 1100.3 213.0 1096.3 215.8 1096.2 25.0 1241.3 25.0 1239.7 29.0 1240.3 33.0 1243.6 37.0 1250.3 40.3 1272.3 44.9 1298.3 46.7 1324.3 44.8 1346.3 40.1 1352.4 37.0 1355.7 33.0 1356.3 29.0 1354.7 25.0 1502.3 24.9 1502.3 427.1ZM1171.3 111.0L1181.3 107.0 1188.7 99.0 1190.3 89.5 1186.3 83.9 1180.3 82.5 1171.0 85.0 1162.5 91.0 1157.9 97.0 1155.8 103.0 1157.8 109.0 1162.3 111.2 1171.3 111.0ZM1434.4 111.0L1438.3 109.0 1440.2 103.0 1438.1 97.0 1433.5 91.0 1428.3 86.8 1420.3 83.2 1412.3 82.8 1408.1 85.0 1405.8 89.0 1405.5 93.0 1407.3 99.0 1410.3 103.3 1414.7 107.0 1422.3 110.4 1434.4 111.0ZM1497.8 235.0L1501.6 229.0 1501.9 221.0 1499.0 215.0 1494.3 213.0 1490.6 215.0 1488.3 218.8 1487.5 227.0 1491.8 235.0 1494.3 236.0 1497.8 235.0ZM1186.6 365.0L1189.9 361.0 1190.4 355.0 1188.1 349.0 1182.7 343.0 1176.3 339.5 1168.3 337.6 1160.3 338.5 1156.9 341.0 1155.8 345.0 1156.5 349.0 1164.3 359.6 1176.3 365.9 1182.3 366.4 1186.6 365.0ZM1422.7 365.0L1432.3 359.1 1438.6 351.0 1440.0 343.0 1436.9 339.0 1430.3 337.5 1420.3 339.2 1413.3 343.0 1407.9 349.0 1405.5 357.0 1408.3 364.1 1414.3 366.4 1422.7 365.0Z"/><path fill-rule="evenodd" fill="#8194ce" d="M1502.3 427.1L1354.4 427.0 1357.5 423.0 1358.5 417.0 1356.4 413.0 1350.3 409.0 1328.3 404.0 1298.3 401.7 1268.3 403.9 1245.7 409.0 1239.6 413.0 1237.5 417.0 1237.7 421.0 1241.6 427.0 1096.3 427.1 1096.3 237.1 1100.3 239.1 1105.9 237.0 1109.5 231.0 1110.6 225.0 1109.8 219.0 1106.3 212.3 1102.3 210.0 1096.3 211.9 1096.2 25.0 1239.1 25.0 1237.3 31.0 1238.8 35.0 1248.3 41.0 1270.3 45.4 1298.3 47.3 1326.3 45.3 1348.3 40.8 1357.2 35.0 1358.7 31.0 1356.9 25.0 1502.3 24.9 1502.3 215.6 1498.3 210.9 1492.3 210.4 1486.8 217.0 1485.5 225.0 1487.3 233.0 1492.3 238.6 1498.3 238.1 1502.3 233.4 1502.3 427.1ZM1172.7 113.0L1184.3 107.4 1191.3 99.0 1193.3 89.0 1192.2 85.0 1188.3 80.9 1180.3 79.8 1169.8 83.0 1160.3 89.9 1153.6 99.0 1151.7 107.0 1154.3 112.0 1162.3 114.3 1172.7 113.0ZM1440.0 113.0L1443.9 109.0 1443.9 103.0 1440.0 95.0 1434.3 88.6 1426.3 83.0 1418.3 80.2 1410.3 80.0 1405.1 83.0 1402.7 89.0 1403.2 95.0 1405.8 101.0 1410.3 106.2 1416.3 110.3 1424.3 113.3 1432.3 114.3 1440.0 113.0ZM1185.5 369.0L1191.7 365.0 1193.4 359.0 1191.8 351.0 1186.3 343.3 1180.3 339.0 1170.3 335.4 1160.3 334.9 1154.3 337.0 1151.8 341.0 1152.4 347.0 1160.2 359.0 1172.3 367.2 1180.3 369.3 1185.5 369.0ZM1417.5 369.0L1428.3 364.8 1439.3 355.0 1444.1 345.0 1444.2 341.0 1441.7 337.0 1434.3 334.8 1422.3 336.3 1412.5 341.0 1406.5 347.0 1402.7 357.0 1404.3 365.0 1410.3 369.0 1417.5 369.0Z"/><path fill-rule="evenodd" fill="#889ad1" d="M1502.3 427.1L1356.6 427.0 1359.7 423.0 1361.0 417.0 1359.3 413.0 1354.0 409.0 1332.3 403.8 1298.3 401.0 1264.3 403.7 1242.3 408.8 1236.7 413.0 1235.0 417.0 1235.4 421.0 1239.4 427.0 1096.3 427.1 1096.3 240.2 1102.3 241.7 1106.3 239.7 1110.3 234.0 1112.2 225.0 1110.3 215.0 1106.3 209.3 1102.3 207.2 1096.3 208.8 1096.2 25.0 1236.9 25.0 1234.9 31.0 1236.0 35.0 1244.3 41.0 1266.3 45.6 1298.3 48.0 1330.3 45.5 1351.7 41.0 1360.0 35.0 1361.1 31.0 1359.1 25.0 1502.3 24.9 1502.3 211.5 1496.3 207.2 1490.3 208.8 1485.7 215.0 1483.8 225.0 1486.2 235.0 1490.3 240.2 1496.3 241.7 1502.3 237.5 1502.3 427.1ZM1173.0 115.0L1185.3 109.0 1193.6 99.0 1195.9 87.0 1194.3 81.9 1190.3 78.2 1180.3 77.2 1168.3 81.4 1158.1 89.0 1149.5 101.0 1147.5 109.0 1150.7 115.0 1160.3 117.0 1173.0 115.0ZM1445.3 115.0L1448.3 111.0 1447.3 103.0 1441.5 93.0 1434.3 85.8 1426.3 80.7 1416.3 77.3 1408.3 77.3 1402.3 81.0 1400.1 87.0 1400.9 95.0 1404.7 103.0 1410.3 108.7 1418.3 113.3 1428.3 116.2 1438.3 116.9 1445.3 115.0ZM1189.9 371.0L1195.2 365.0 1195.8 357.0 1193.1 349.0 1186.6 341.0 1178.3 335.9 1166.3 332.5 1156.3 332.2 1149.4 335.0 1147.5 339.0 1149.1 347.0 1153.8 355.0 1160.3 362.0 1168.3 367.6 1176.3 370.9 1184.3 372.1 1189.9 371.0ZM1419.4 371.0L1431.9 365.0 1442.2 355.0 1448.2 343.0 1448.3 338.3 1446.3 334.7 1438.3 332.1 1424.3 333.6 1414.3 337.6 1405.5 345.0 1400.2 357.0 1401.7 367.0 1408.3 371.7 1419.4 371.0Z"/><path fill-rule="evenodd" fill="#8fa0d4" d="M1502.3 427.1L1359.0 427.0 1362.1 423.0 1363.6 417.0 1360.6 411.0 1356.3 408.2 1334.3 403.2 1298.3 400.4 1263.5 403.0 1240.3 407.9 1235.3 411.0 1232.4 417.0 1233.9 423.0 1237.0 427.0 1096.3 427.1 1096.3 243.0 1102.3 244.3 1108.3 240.6 1112.3 233.2 1113.6 225.0 1112.3 215.8 1108.3 208.4 1102.3 204.7 1096.3 206.0 1096.2 25.0 1234.5 25.0 1232.4 31.0 1233.1 35.0 1236.6 39.0 1242.3 41.9 1266.3 46.3 1298.3 48.6 1332.3 46.0 1354.3 41.7 1359.5 39.0 1362.9 35.0 1363.6 31.0 1361.5 25.0 1502.3 24.9 1502.3 208.2 1496.3 204.7 1489.2 207.0 1484.3 214.2 1482.4 225.0 1484.4 235.0 1490.3 242.9 1496.3 244.3 1502.3 240.8 1502.3 427.1ZM1163.9 119.0L1182.3 113.1 1193.6 103.0 1197.3 95.0 1198.5 87.0 1197.4 81.0 1194.3 76.6 1190.3 74.7 1184.3 74.2 1172.3 77.2 1160.3 84.4 1150.2 95.0 1143.9 107.0 1143.7 115.0 1146.3 117.9 1150.3 119.3 1163.9 119.0ZM1447.1 119.0L1452.3 115.0 1452.1 107.0 1447.2 97.0 1438.3 86.6 1428.3 79.4 1416.3 74.8 1406.3 74.5 1400.3 78.0 1397.7 85.0 1398.2 93.0 1401.2 101.0 1407.8 109.0 1416.3 114.4 1426.3 117.8 1438.3 119.6 1447.1 119.0ZM1193.4 373.0L1197.8 367.0 1198.0 357.0 1194.2 347.0 1186.9 339.0 1176.3 333.2 1162.3 329.8 1150.3 329.7 1144.3 332.9 1143.2 339.0 1145.9 347.0 1152.5 357.0 1160.3 364.6 1168.3 369.9 1178.3 373.8 1186.3 374.8 1193.4 373.0ZM1420.5 373.0L1435.2 365.0 1446.5 353.0 1452.8 339.0 1452.7 335.0 1450.3 331.5 1440.3 329.3 1424.3 331.7 1411.9 337.0 1403.1 345.0 1398.0 357.0 1397.6 363.0 1399.0 369.0 1402.3 372.8 1406.3 374.5 1412.3 374.8 1420.5 373.0Z"/><path fill-rule="evenodd" fill="#96a6d7" d="M1502.3 427.1L1361.3 427.0 1365.5 421.0 1366.1 415.0 1364.1 411.0 1358.3 407.0 1338.3 402.9 1298.3 399.8 1258.3 402.8 1237.7 407.0 1232.3 410.5 1229.9 415.0 1230.5 421.0 1234.7 427.0 1096.3 427.1 1096.3 245.7 1102.3 246.7 1108.3 243.3 1113.2 235.0 1115.0 225.0 1113.5 215.0 1108.3 205.7 1102.3 202.3 1096.3 203.3 1096.2 25.0 1232.2 25.0 1229.8 31.0 1230.2 35.0 1232.8 39.0 1238.3 42.2 1260.3 46.4 1298.3 49.2 1332.3 46.8 1356.3 42.7 1363.2 39.0 1365.8 35.0 1366.2 31.0 1363.8 25.0 1502.3 24.9 1502.3 205.3 1496.3 202.2 1492.3 202.7 1488.3 205.1 1483.2 213.0 1481.0 225.0 1482.8 235.0 1488.3 243.9 1492.3 246.3 1496.3 246.8 1502.3 243.7 1502.3 427.1ZM1164.4 121.0L1184.3 113.8 1190.7 109.0 1195.7 103.0 1199.4 95.0 1200.9 85.0 1200.0 79.0 1196.3 73.6 1186.3 71.4 1170.3 75.9 1156.6 85.0 1146.0 97.0 1138.9 111.0 1139.3 119.0 1146.3 122.6 1164.4 121.0ZM1454.7 121.0L1456.7 119.0 1457.7 115.0 1454.7 105.0 1447.0 93.0 1437.0 83.0 1426.3 76.2 1414.3 72.0 1404.3 71.7 1398.1 75.0 1395.2 83.0 1396.1 93.0 1400.3 103.0 1407.6 111.0 1418.0 117.0 1430.3 120.7 1446.3 122.7 1454.7 121.0ZM1193.0 377.0L1196.9 375.0 1199.7 371.0 1200.7 361.0 1197.4 349.0 1190.3 339.6 1180.2 333.0 1164.3 328.0 1148.3 326.3 1140.0 329.0 1138.4 335.0 1140.8 343.0 1146.7 353.0 1155.5 363.0 1164.3 369.8 1174.3 374.8 1184.3 377.4 1193.0 377.0ZM1414.2 377.0L1430.3 370.6 1444.4 359.0 1456.1 341.0 1457.7 333.0 1456.0 329.0 1452.3 326.9 1446.3 326.3 1426.3 329.2 1412.3 334.8 1402.5 343.0 1398.6 349.0 1395.9 357.0 1395.2 365.0 1396.3 371.0 1398.3 374.2 1402.3 376.8 1414.2 377.0Z"/><path fill-rule="evenodd" fill="#9dacda" d="M1502.3 427.1L1363.8 427.0 1368.0 421.0 1369.1 415.0 1367.8 411.0 1362.3 406.5 1344.3 402.7 1298.3 399.1 1252.3 402.6 1234.3 406.2 1229.8 409.0 1226.9 415.0 1228.0 421.0 1232.2 427.0 1096.3 427.1 1096.3 248.3 1104.3 248.5 1110.3 243.6 1114.7 235.0 1116.3 225.0 1115.0 215.0 1110.3 205.4 1104.3 200.5 1096.3 200.7 1096.2 25.0 1229.7 25.0 1227.1 31.0 1227.1 35.0 1228.9 39.0 1234.8 43.0 1254.3 46.6 1298.3 49.9 1342.3 46.6 1361.2 43.0 1366.3 39.8 1368.9 35.0 1368.9 31.0 1366.3 25.0 1502.3 24.9 1502.3 202.5 1494.3 199.8 1487.9 203.0 1481.7 213.0 1479.8 225.0 1482.3 237.7 1488.3 246.4 1496.3 249.2 1502.3 246.5 1502.3 427.1ZM1154.3 125.0L1180.3 117.7 1188.5 113.0 1194.9 107.0 1200.3 97.8 1203.0 87.0 1202.7 77.0 1199.4 71.0 1190.3 68.4 1174.3 72.0 1158.5 81.0 1146.3 93.0 1135.9 109.0 1133.7 115.0 1133.5 121.0 1136.3 124.7 1140.3 125.9 1154.3 125.0ZM1459.1 125.0L1461.6 123.0 1462.8 119.0 1460.1 109.0 1451.3 95.0 1440.0 83.0 1428.3 75.0 1416.3 70.1 1404.3 68.4 1396.3 71.2 1392.9 79.0 1393.7 91.0 1398.2 103.0 1405.0 111.0 1414.3 117.1 1428.3 122.1 1448.3 125.9 1459.1 125.0ZM1243.7 229.0L1245.9 225.0 1244.7 221.0 1242.3 219.2 1238.3 219.8 1236.0 223.0 1236.3 227.0 1240.3 229.9 1243.7 229.0ZM1358.1 229.0L1360.2 225.0 1359.0 221.0 1356.3 219.1 1352.3 220.0 1350.2 223.0 1350.6 227.0 1354.3 229.9 1358.1 229.0ZM1198.0 379.0L1202.5 373.0 1202.5 359.0 1198.3 347.0 1190.3 337.4 1178.3 330.4 1158.3 324.7 1142.3 322.9 1138.3 323.5 1134.3 326.2 1133.5 333.0 1137.5 343.0 1145.5 355.0 1156.3 366.2 1166.3 373.2 1178.3 378.5 1190.3 380.6 1198.0 379.0ZM1415.8 379.0L1434.3 370.3 1448.9 357.0 1456.2 347.0 1461.3 337.0 1462.7 329.0 1460.7 325.0 1456.3 323.1 1448.3 323.1 1424.3 328.0 1410.3 334.1 1400.3 343.0 1395.8 351.0 1393.5 359.0 1392.8 369.0 1394.3 375.0 1398.0 379.0 1402.3 380.4 1415.8 379.0Z"/><path fill-rule="evenodd" fill="#a5b2dc" d="M1502.3 427.1L1366.4 427.0 1370.7 421.0 1372.2 415.0 1370.5 409.0 1365.3 405.0 1350.3 402.2 1298.3 398.5 1246.3 402.1 1230.7 405.0 1225.5 409.0 1223.8 415.0 1225.3 421.0 1229.6 427.0 1096.3 427.1 1096.3 250.8 1104.3 251.0 1110.3 246.3 1115.4 237.0 1117.5 225.0 1115.7 213.0 1110.3 202.7 1104.3 198.0 1096.3 198.2 1096.2 25.0 1227.1 25.0 1224.2 31.0 1224.1 37.0 1226.3 41.0 1232.3 44.6 1247.3 47.0 1298.3 50.5 1348.7 47.0 1364.3 44.4 1369.7 41.0 1371.9 37.0 1371.8 31.0 1368.9 25.0 1502.3 24.9 1502.3 199.7 1494.3 197.3 1486.3 202.0 1480.3 212.9 1478.5 225.0 1480.6 237.0 1486.3 247.0 1494.3 251.7 1502.3 249.3 1502.3 427.1ZM1146.1 129.0L1178.3 120.3 1188.3 115.1 1195.4 109.0 1201.7 99.0 1205.0 87.0 1205.6 75.0 1202.3 67.7 1198.3 65.6 1192.3 65.2 1176.3 68.9 1160.3 77.4 1147.1 89.0 1132.5 109.0 1128.8 117.0 1127.8 123.0 1129.2 127.0 1132.3 129.2 1146.1 129.0ZM1464.2 129.0L1466.8 127.0 1468.2 123.0 1464.6 111.0 1454.0 95.0 1440.5 81.0 1426.3 71.8 1412.3 66.6 1400.3 65.2 1396.3 66.1 1392.5 69.0 1390.2 79.0 1392.3 93.0 1396.3 103.0 1404.3 112.5 1414.6 119.0 1430.3 124.5 1452.3 129.4 1464.2 129.0ZM1243.3 235.0L1249.1 231.0 1251.0 223.0 1248.3 217.0 1244.3 214.3 1240.3 213.8 1236.3 215.1 1232.9 219.0 1231.8 227.0 1236.3 233.8 1243.3 235.0ZM1357.0 235.0L1362.5 231.0 1364.4 223.0 1360.3 215.6 1354.3 213.7 1347.7 217.0 1344.9 225.0 1345.8 229.0 1348.7 233.0 1352.3 234.9 1357.0 235.0ZM1199.4 383.0L1202.7 381.0 1204.9 377.0 1205.2 363.0 1200.3 347.0 1192.3 337.0 1180.3 329.5 1162.3 323.6 1140.3 319.2 1134.3 319.3 1130.1 321.0 1127.8 327.0 1130.9 337.0 1141.2 353.0 1152.3 365.2 1164.3 374.2 1176.3 380.1 1190.3 383.6 1199.4 383.0ZM1409.6 383.0L1420.3 379.8 1432.3 373.9 1449.8 359.0 1459.1 347.0 1466.0 335.0 1468.2 327.0 1465.9 321.0 1460.3 319.1 1454.3 319.3 1426.3 325.7 1410.3 332.3 1400.3 340.4 1395.7 347.0 1392.5 355.0 1390.6 365.0 1390.6 375.0 1392.3 379.7 1396.3 382.9 1409.6 383.0Z"/><path fill-rule="evenodd" fill="#acb8df" d="M1502.3 427.1L1369.0 427.0 1373.5 421.0 1375.6 413.0 1374.2 407.0 1368.9 403.0 1298.3 397.8 1236.3 401.4 1226.3 403.3 1221.8 407.0 1220.4 413.0 1222.5 421.0 1227.0 427.0 1096.3 427.1 1096.3 253.5 1104.3 253.5 1110.3 248.9 1116.3 238.3 1118.7 225.0 1116.4 211.0 1111.1 201.0 1104.3 195.5 1096.3 195.5 1096.2 25.0 1224.4 25.0 1221.3 31.0 1220.4 37.0 1222.3 42.7 1226.3 45.7 1236.3 47.6 1298.3 51.2 1368.3 46.2 1373.5 43.0 1375.3 39.0 1375.3 33.0 1371.6 25.0 1502.3 24.9 1502.3 196.9 1494.3 194.8 1486.3 199.4 1479.6 211.0 1477.4 225.0 1480.0 239.0 1486.3 249.6 1494.3 254.2 1502.3 252.1 1502.3 427.1ZM1140.2 133.0L1178.3 122.0 1188.3 116.9 1195.7 111.0 1202.6 101.0 1206.5 89.0 1208.5 73.0 1206.3 64.3 1202.3 61.9 1196.3 61.5 1178.3 65.8 1160.5 75.0 1146.3 87.0 1129.1 109.0 1124.7 117.0 1122.3 125.0 1122.7 129.0 1126.3 133.0 1132.3 134.0 1140.2 133.0ZM1469.8 133.0L1472.3 131.0 1473.7 127.0 1470.3 115.0 1458.3 97.0 1443.4 81.0 1430.3 71.7 1414.3 64.7 1398.3 61.4 1390.3 63.6 1388.2 67.0 1387.5 73.0 1389.9 91.0 1394.4 103.0 1402.4 113.0 1412.3 119.6 1428.3 125.7 1458.3 133.5 1469.8 133.0ZM1244.4 239.0L1248.9 237.0 1252.8 233.0 1255.2 223.0 1253.4 217.0 1250.3 213.1 1246.3 210.6 1240.3 209.7 1236.2 211.0 1231.7 215.0 1229.1 221.0 1228.9 227.0 1230.3 231.7 1234.3 236.8 1238.3 238.8 1244.4 239.0ZM1357.0 239.0L1361.3 237.0 1365.0 233.0 1367.1 227.0 1366.9 221.0 1362.3 212.7 1358.3 210.4 1352.3 209.8 1348.3 211.3 1343.9 215.0 1341.1 221.0 1340.9 227.0 1343.2 233.0 1346.3 236.4 1352.3 239.2 1357.0 239.0ZM1202.7 387.0L1206.3 384.7 1208.0 381.0 1207.5 365.0 1203.1 349.0 1194.3 336.7 1180.3 327.8 1160.3 321.2 1134.3 315.1 1128.3 315.3 1124.3 317.3 1122.4 321.0 1122.5 325.0 1126.2 335.0 1138.5 353.0 1151.5 367.0 1162.3 375.2 1176.3 382.4 1192.3 387.0 1202.7 387.0ZM1403.8 387.0L1416.3 383.7 1428.3 378.4 1439.7 371.0 1450.3 361.3 1462.1 347.0 1470.8 333.0 1473.7 323.0 1471.3 317.0 1466.3 315.1 1460.3 315.2 1428.3 323.3 1412.3 329.4 1400.3 338.0 1394.9 345.0 1391.4 353.0 1388.5 365.0 1387.5 377.0 1388.6 383.0 1392.3 386.7 1403.8 387.0Z"/><path fill-rule="evenodd" fill="#b3bee2" d="M1502.3 427.1L1371.8 427.0 1376.4 421.0 1379.3 413.0 1379.5 405.0 1376.3 400.1 1298.3 397.2 1220.3 399.9 1217.1 403.0 1216.7 413.0 1219.6 421.0 1224.2 427.0 1096.3 427.1 1096.3 256.4 1104.3 256.1 1112.3 249.1 1118.0 237.0 1119.8 225.0 1117.7 211.0 1112.3 199.9 1104.3 192.9 1096.3 192.7 1096.2 25.0 1221.6 25.0 1218.2 31.0 1216.3 39.0 1216.7 45.0 1220.3 49.1 1298.3 51.8 1375.9 49.0 1379.2 45.0 1379.7 39.0 1377.9 31.0 1374.4 25.0 1502.3 24.9 1502.3 193.9 1498.3 192.2 1492.3 192.6 1484.4 199.0 1478.3 211.0 1476.2 225.0 1478.6 239.0 1485.2 251.0 1490.3 255.4 1494.3 256.9 1502.3 255.1 1502.3 427.1ZM1135.7 137.0L1180.0 123.0 1190.3 117.5 1197.9 111.0 1204.3 101.3 1208.3 89.0 1212.1 67.0 1212.0 61.0 1210.3 57.5 1206.3 56.3 1198.3 57.2 1174.3 65.1 1158.3 74.2 1143.6 87.0 1124.5 111.0 1117.0 127.0 1117.2 133.0 1120.3 137.0 1126.3 138.4 1135.7 137.0ZM1475.7 137.0L1478.3 134.3 1479.2 129.0 1475.1 117.0 1462.7 99.0 1446.2 81.0 1434.3 71.9 1418.3 63.6 1398.3 57.4 1386.3 57.0 1384.3 59.8 1383.9 67.0 1388.2 91.0 1392.5 103.0 1400.3 113.2 1411.7 121.0 1427.1 127.0 1462.3 137.5 1470.3 138.3 1475.7 137.0ZM1244.5 243.0L1250.3 240.9 1254.9 237.0 1258.3 231.0 1259.3 223.0 1256.9 215.0 1252.3 209.5 1246.3 206.3 1240.3 206.0 1234.3 208.3 1229.8 213.0 1227.1 219.0 1226.5 227.0 1228.3 233.5 1232.3 239.1 1238.3 242.6 1244.5 243.0ZM1355.6 243.0L1362.3 240.2 1366.3 235.9 1369.2 229.0 1369.6 223.0 1368.3 216.9 1364.3 210.5 1358.3 206.6 1352.3 205.9 1346.3 207.7 1340.3 213.0 1337.4 219.0 1336.8 227.0 1338.6 233.0 1343.1 239.0 1348.3 242.2 1355.6 243.0ZM1210.8 391.0L1212.0 381.0 1207.0 355.0 1201.8 343.0 1194.3 334.5 1177.5 325.0 1138.3 312.7 1126.3 310.6 1122.3 311.1 1118.3 313.8 1116.9 317.0 1117.2 323.0 1122.6 335.0 1137.4 355.0 1152.3 370.2 1166.3 379.9 1184.3 387.9 1202.3 392.5 1208.3 392.5 1210.8 391.0ZM1401.0 391.0L1416.3 386.2 1430.3 379.5 1440.3 372.9 1451.4 363.0 1465.1 347.0 1475.7 331.0 1479.1 321.0 1479.1 317.0 1477.0 313.0 1472.3 310.8 1464.3 311.1 1430.3 321.0 1412.3 327.7 1399.0 337.0 1393.0 345.0 1389.6 353.0 1385.4 371.0 1383.8 385.0 1384.3 389.2 1386.3 392.0 1392.3 392.6 1401.0 391.0Z"/><path fill-rule="evenodd" fill="#bac4e5" d="M1502.3 427.1L1374.8 427.0 1380.7 419.0 1386.1 405.0 1389.0 401.0 1434.3 379.5 1448.0 369.0 1461.4 355.0 1475.6 337.0 1483.4 323.0 1484.8 317.0 1484.3 311.4 1482.3 308.3 1478.3 306.3 1466.3 307.4 1422.3 321.9 1410.3 327.0 1401.1 333.0 1395.1 339.0 1390.3 346.8 1378.7 387.0 1376.3 391.2 1371.1 395.0 1362.3 397.3 1348.3 398.5 1298.3 396.5 1252.3 398.6 1230.3 396.7 1220.3 391.9 1216.3 384.2 1205.8 347.0 1200.3 338.2 1192.3 331.0 1172.3 321.4 1132.3 308.1 1120.3 306.0 1113.0 309.0 1111.3 313.0 1111.5 319.0 1117.7 333.0 1131.2 351.0 1146.3 367.4 1160.3 378.6 1174.3 386.4 1206.3 400.4 1209.9 405.0 1215.3 419.0 1221.2 427.0 1096.3 427.1 1096.3 259.5 1104.3 259.0 1112.3 252.0 1118.7 239.0 1120.9 225.0 1119.0 211.0 1112.3 197.0 1104.3 190.0 1096.3 189.5 1096.2 25.0 1218.6 25.0 1209.4 45.0 1205.8 49.0 1162.3 69.2 1149.1 79.0 1135.5 93.0 1121.1 111.0 1113.0 125.0 1111.3 131.0 1111.5 137.0 1116.3 142.2 1124.3 142.8 1136.3 139.6 1178.3 125.4 1194.3 116.5 1201.7 109.0 1206.2 101.0 1217.8 61.0 1220.4 57.0 1226.3 53.5 1248.3 50.4 1298.3 52.5 1344.3 50.4 1364.3 52.0 1375.6 57.0 1379.8 65.0 1390.7 103.0 1395.9 111.0 1404.3 118.4 1422.3 127.1 1464.3 141.1 1474.3 143.0 1482.3 140.7 1484.5 137.0 1484.7 131.0 1478.9 117.0 1465.6 99.0 1450.3 82.2 1436.3 70.8 1422.3 62.9 1390.2 49.0 1386.3 44.4 1377.4 25.0 1502.3 24.9 1502.3 190.7 1498.3 189.2 1492.3 189.7 1484.3 196.2 1477.6 209.0 1475.1 225.0 1477.3 239.0 1484.3 252.8 1492.3 259.3 1496.3 260.0 1502.3 258.3 1502.3 427.1ZM1246.6 247.0L1254.3 243.8 1259.2 239.0 1263.1 231.0 1263.9 223.0 1262.1 215.0 1256.5 207.0 1250.3 203.0 1242.3 201.8 1234.3 204.5 1228.3 210.7 1224.9 219.0 1224.4 227.0 1226.5 235.0 1232.3 242.9 1238.3 246.4 1246.6 247.0ZM1355.2 247.0L1362.3 244.0 1368.3 237.3 1371.3 229.0 1371.4 221.0 1369.0 213.0 1364.3 206.6 1358.3 202.8 1350.3 201.8 1342.3 204.8 1336.3 210.7 1332.7 219.0 1332.2 227.0 1334.4 235.0 1340.3 242.7 1348.3 246.8 1355.2 247.0Z"/><path fill-rule="evenodd" fill="#c1cae8" d="M1502.3 427.1L1378.0 427.0 1394.6 403.0 1428.3 385.5 1440.3 377.8 1455.0 365.0 1474.4 343.0 1485.7 327.0 1490.6 313.0 1490.3 307.7 1488.3 303.7 1484.3 301.3 1480.3 300.8 1468.3 303.5 1420.3 321.0 1402.3 330.1 1394.6 337.0 1389.4 345.0 1379.4 377.0 1373.0 389.0 1362.3 395.2 1340.3 397.7 1298.3 395.8 1252.3 397.6 1240.3 396.6 1230.3 394.0 1224.3 390.3 1220.1 385.0 1206.6 345.0 1201.4 337.0 1195.0 331.0 1180.3 322.8 1130.3 304.5 1120.3 301.4 1112.3 301.1 1108.3 303.1 1105.9 307.0 1106.1 317.0 1112.8 331.0 1124.9 347.0 1142.3 366.3 1156.3 378.3 1201.5 403.0 1218.0 427.0 1096.3 427.1 1096.3 263.1 1104.3 262.4 1112.3 255.0 1119.3 241.0 1122.1 225.0 1119.6 209.0 1112.9 195.0 1104.3 186.6 1096.3 185.9 1096.2 25.0 1215.3 25.0 1202.3 45.2 1156.3 70.7 1142.3 82.7 1125.8 101.0 1113.4 117.0 1106.4 131.0 1105.3 137.0 1106.2 143.0 1108.3 145.9 1112.3 147.9 1126.3 145.9 1176.3 127.8 1187.1 123.0 1196.2 117.0 1202.3 110.9 1207.1 103.0 1219.6 65.0 1223.9 59.0 1230.2 55.0 1240.3 52.4 1252.3 51.4 1298.3 53.2 1340.3 51.3 1360.3 53.3 1366.3 55.2 1372.3 59.2 1379.0 71.0 1389.9 105.0 1395.5 113.0 1402.4 119.0 1420.3 128.0 1468.3 145.5 1480.3 148.1 1484.3 147.7 1488.5 145.0 1490.4 141.0 1490.5 135.0 1486.2 123.0 1475.2 107.0 1456.3 85.4 1442.3 72.7 1428.3 63.5 1394.3 45.8 1380.7 25.0 1502.3 24.9 1502.3 187.1 1498.3 185.6 1492.3 186.3 1484.3 193.2 1476.4 209.0 1473.9 225.0 1476.7 241.0 1484.3 255.8 1492.3 262.6 1496.3 263.6 1502.3 261.9 1502.3 427.1ZM1253.2 251.0L1260.3 246.9 1266.7 239.0 1270.0 229.0 1269.8 219.0 1266.1 209.0 1260.3 202.1 1252.3 197.7 1242.3 197.2 1232.3 202.1 1226.3 209.6 1222.7 221.0 1223.2 231.0 1227.3 241.0 1234.3 248.4 1244.3 252.1 1253.2 251.0ZM1356.6 251.0L1364.3 246.4 1370.3 238.3 1373.2 229.0 1373.0 219.0 1369.3 209.0 1362.3 201.0 1354.3 197.3 1346.3 197.1 1337.1 201.0 1329.9 209.0 1326.2 219.0 1326.4 231.0 1330.5 241.0 1338.3 248.8 1346.3 251.9 1356.6 251.0Z"/><path fill-rule="evenodd" fill="#c8d0ea" d="M1502.3 427.1L1381.4 427.0 1398.3 405.3 1432.3 385.8 1444.3 377.4 1458.3 364.5 1479.3 341.0 1490.9 325.0 1495.9 313.0 1495.9 301.0 1493.4 297.0 1490.3 295.0 1484.3 294.8 1476.3 297.1 1446.3 310.2 1414.3 321.7 1400.3 329.5 1392.4 337.0 1388.3 343.5 1379.5 371.0 1374.3 382.6 1369.1 389.0 1362.6 393.0 1342.3 396.7 1298.3 395.1 1258.3 396.8 1236.3 394.1 1229.5 391.0 1224.8 387.0 1218.0 375.0 1207.5 343.0 1201.9 335.0 1194.3 328.5 1182.3 322.0 1150.3 310.5 1120.3 297.4 1108.3 294.5 1104.3 295.6 1101.0 299.0 1099.4 309.0 1103.0 321.0 1113.5 337.0 1134.4 361.0 1150.3 376.3 1164.3 386.1 1197.4 405.0 1214.6 427.0 1096.3 427.1 1096.3 267.8 1100.3 268.2 1104.3 266.6 1114.3 255.2 1120.6 241.0 1123.2 225.0 1120.9 209.0 1114.3 193.8 1104.3 182.4 1100.3 180.9 1096.3 181.3 1096.2 25.0 1211.9 25.0 1198.3 43.2 1152.3 71.1 1137.3 85.0 1115.9 109.0 1104.6 125.0 1099.9 137.0 1100.3 148.4 1102.3 151.8 1106.3 154.2 1112.3 154.1 1120.3 151.6 1150.3 138.5 1182.3 127.0 1196.3 119.0 1202.8 113.0 1208.0 105.0 1221.3 67.0 1226.3 60.5 1232.3 56.5 1242.3 53.5 1254.3 52.3 1298.3 53.9 1336.3 52.2 1358.3 54.5 1364.7 57.0 1370.3 61.1 1377.6 73.0 1389.1 107.0 1394.3 114.2 1402.3 120.9 1416.3 128.1 1444.3 138.0 1476.3 151.9 1486.3 154.4 1490.3 154.0 1494.3 151.0 1496.7 141.0 1493.4 129.0 1483.3 113.0 1462.5 89.0 1448.4 75.0 1432.3 63.2 1399.8 45.0 1394.3 39.6 1384.1 25.0 1502.3 24.9 1502.3 182.4 1494.3 181.2 1490.3 183.4 1484.3 189.8 1475.7 207.0 1472.8 225.0 1476.1 243.0 1484.3 259.1 1490.3 265.7 1494.3 267.8 1498.3 268.1 1502.3 266.5 1502.3 427.1ZM1347.6 259.0L1358.3 255.1 1366.3 248.4 1372.2 239.0 1374.9 229.0 1374.4 217.0 1370.3 206.2 1364.3 198.4 1354.3 192.0 1342.3 189.2 1328.3 189.6 1314.4 193.0 1298.3 199.9 1272.3 190.4 1261.0 189.0 1250.3 189.6 1242.3 191.7 1234.3 196.2 1228.3 202.3 1223.4 211.0 1220.8 225.0 1223.8 239.0 1232.3 251.1 1242.3 257.3 1254.3 259.8 1268.3 259.4 1278.7 257.0 1298.3 249.2 1325.4 259.0 1336.3 260.0 1347.6 259.0Z"/><path fill-rule="evenodd" fill="#cfd5ed" d="M1096.3 132.7L1096.3 24.9 1208.1 25.0 1192.6 43.0 1158.3 63.9 1142.3 77.0 1109.0 113.0 1096.3 132.7ZM1502.3 140.7L1498.9 131.0 1491.7 119.0 1457.8 81.0 1438.3 64.3 1403.4 43.0 1387.9 25.0 1502.4 25.0 1502.3 140.7ZM1348.3 395.2L1332.3 396.0 1296.3 394.4 1258.3 396.0 1246.3 395.0 1236.3 392.3 1228.3 387.3 1223.1 381.0 1217.5 369.0 1209.3 343.0 1204.3 335.1 1197.7 329.0 1183.8 321.0 1140.3 304.1 1102.3 282.5 1100.3 281.9 1096.3 287.5 1096.3 276.7 1100.3 278.8 1102.3 276.9 1112.3 262.3 1118.3 250.7 1122.9 237.0 1124.3 225.0 1123.1 213.0 1118.3 198.3 1112.3 186.7 1102.3 172.0 1100.3 170.0 1096.3 172.2 1096.3 161.5 1100.3 166.9 1102.3 166.5 1142.3 143.9 1182.3 128.7 1196.4 121.0 1203.3 115.0 1208.8 107.0 1217.9 79.0 1223.8 67.0 1230.3 60.0 1238.3 56.0 1258.3 53.0 1298.3 54.6 1334.3 53.0 1348.3 53.8 1358.3 56.2 1366.3 60.5 1372.3 67.1 1378.1 79.0 1387.2 107.0 1392.7 115.0 1400.3 121.5 1414.3 128.9 1454.3 144.2 1494.3 166.8 1496.3 166.6 1498.3 164.0 1502.3 154.5 1502.3 174.7 1496.3 170.0 1484.3 185.7 1474.5 207.0 1471.7 225.0 1474.8 243.0 1484.3 263.3 1494.3 277.8 1496.3 278.8 1502.3 274.3 1502.3 294.5 1498.3 285.1 1496.3 282.3 1494.3 282.1 1453.9 305.0 1414.3 320.1 1401.1 327.0 1393.7 333.0 1387.7 341.0 1377.7 371.0 1371.5 383.0 1362.3 391.1 1348.3 395.2ZM1324.6 273.0L1344.3 267.2 1358.3 260.1 1366.3 252.8 1373.4 241.0 1376.5 229.0 1375.7 215.0 1370.3 201.9 1360.3 190.3 1347.2 183.0 1329.5 177.0 1312.3 174.8 1284.3 174.7 1266.5 177.0 1253.8 181.0 1240.3 187.2 1230.3 195.5 1221.5 211.0 1219.3 227.0 1220.6 235.0 1224.3 244.6 1234.3 257.5 1251.2 267.0 1271.4 273.0 1298.3 274.5 1324.6 273.0ZM1502.3 427.1L1385.1 427.0 1402.3 406.9 1438.3 384.6 1458.3 367.4 1490.9 331.0 1498.5 319.0 1502.3 308.3 1502.3 427.1ZM1210.3 427.0L1096.3 427.1 1096.3 316.3 1108.2 335.0 1141.3 371.0 1158.3 385.1 1192.3 405.8 1210.3 427.0Z"/><path fill-rule="evenodd" fill="#d6dbef" d="M1096.3 124.3L1096.3 24.9 1203.9 25.0 1188.3 41.7 1158.3 60.9 1144.3 72.1 1108.8 109.0 1096.3 124.3ZM1502.3 128.5L1489.1 111.0 1452.3 72.7 1438.3 61.3 1406.9 41.0 1392.1 25.0 1502.3 24.9 1502.3 128.5ZM1338.3 395.1L1298.3 393.7 1258.3 395.1 1246.3 393.8 1236.3 390.5 1228.6 385.0 1222.8 377.0 1218.4 367.0 1211.1 343.0 1202.3 330.6 1186.3 320.4 1154.3 308.7 1136.3 299.9 1119.5 289.0 1111.3 279.0 1111.5 271.0 1122.5 243.0 1125.4 225.0 1122.8 207.0 1111.2 177.0 1111.1 171.0 1112.8 167.0 1120.8 159.0 1138.3 148.0 1154.3 140.3 1186.3 128.6 1201.7 119.0 1210.7 107.0 1218.8 81.0 1224.6 69.0 1232.1 61.0 1242.3 56.2 1260.3 53.8 1298.3 55.3 1334.3 53.8 1348.3 54.9 1358.3 57.8 1366.3 63.0 1372.6 71.0 1377.2 81.0 1385.3 107.0 1394.3 119.0 1410.3 128.9 1442.3 140.6 1459.6 149.0 1477.7 161.0 1483.2 167.0 1484.9 171.0 1484.2 179.0 1473.2 207.0 1470.6 223.0 1472.9 241.0 1485.0 273.0 1484.6 279.0 1482.5 283.0 1473.8 291.0 1456.3 301.8 1440.3 309.2 1410.3 320.1 1396.3 328.4 1390.3 334.1 1385.8 341.0 1376.1 371.0 1368.3 384.0 1362.5 389.0 1356.3 392.0 1338.3 395.1ZM1325.1 277.0L1341.1 273.0 1358.3 264.6 1366.5 257.0 1374.3 243.5 1378.1 229.0 1377.3 215.0 1372.2 201.0 1362.3 187.6 1348.5 179.0 1330.7 173.0 1314.9 171.0 1290.3 170.7 1272.3 171.9 1257.8 175.0 1243.4 181.0 1232.2 189.0 1221.9 205.0 1218.7 215.0 1217.7 225.0 1219.0 235.0 1222.3 244.9 1232.3 260.1 1246.3 269.4 1268.3 276.5 1292.3 278.3 1325.1 277.0ZM1502.3 427.0L1389.2 427.0 1408.1 407.0 1438.3 387.7 1452.3 376.3 1490.0 337.0 1502.3 320.6 1502.3 427.0ZM1206.3 427.0L1096.3 427.1 1096.3 324.7 1107.8 339.0 1144.3 376.9 1158.3 388.1 1188.3 407.3 1206.3 427.0Z"/><path fill-rule="evenodd" fill="#dce1f1" d="M1096.3 118.2L1096.3 25.0 1199.2 25.0 1184.3 40.0 1158.3 57.5 1144.3 68.9 1096.3 118.2ZM1502.3 121.4L1450.3 67.6 1412.3 40.4 1396.8 25.0 1502.3 25.0 1502.3 121.4ZM1346.3 393.3L1330.3 394.4 1296.3 393.0 1260.3 394.4 1248.3 393.1 1238.3 389.9 1230.3 384.3 1223.5 375.0 1219.2 365.0 1212.1 341.0 1204.3 329.9 1188.3 319.5 1156.3 307.9 1138.3 299.0 1121.8 287.0 1115.3 277.0 1115.2 269.0 1124.3 241.0 1126.5 225.0 1124.5 209.0 1115.0 179.0 1115.1 173.0 1117.6 167.0 1127.7 157.0 1142.3 147.7 1158.3 140.3 1186.3 130.4 1202.3 120.8 1211.7 109.0 1219.5 83.0 1225.2 71.0 1232.3 62.9 1243.9 57.0 1260.3 54.6 1298.3 56.1 1334.3 54.6 1348.3 56.0 1357.4 59.0 1366.0 65.0 1372.0 73.0 1377.2 85.0 1384.3 109.0 1391.6 119.0 1408.3 129.7 1440.3 141.3 1456.3 149.2 1473.1 161.0 1480.4 171.0 1480.6 181.0 1472.0 207.0 1469.5 223.0 1471.2 239.0 1480.8 269.0 1481.1 275.0 1479.0 281.0 1469.6 291.0 1454.2 301.0 1438.3 308.5 1408.3 319.3 1392.7 329.0 1384.3 340.0 1376.1 367.0 1370.1 379.0 1360.3 388.5 1346.3 393.3ZM1329.7 279.0L1349.0 273.0 1362.3 265.2 1370.3 255.8 1376.3 243.0 1379.6 227.0 1378.4 213.0 1372.3 196.7 1363.6 185.0 1351.2 177.0 1334.3 171.0 1318.3 168.6 1290.3 168.1 1272.3 169.1 1254.7 173.0 1240.3 179.3 1230.3 187.0 1224.3 195.6 1220.3 204.3 1217.2 215.0 1216.3 225.0 1217.4 235.0 1220.4 245.0 1226.3 256.8 1232.3 263.9 1247.0 273.0 1268.3 279.3 1302.3 281.0 1329.7 279.0ZM1502.3 427.0L1393.8 427.0 1411.7 409.0 1440.3 389.6 1452.3 379.6 1502.3 327.6 1502.3 427.0ZM1200.3 427.0L1096.3 427.0 1096.3 330.8 1144.3 380.1 1156.3 390.0 1186.3 410.7 1202.2 427.0 1200.3 427.0Z"/><path fill-rule="evenodd" fill="#e3e6f4" d="M1096.3 113.0L1096.3 25.0 1193.7 25.0 1178.9 39.0 1146.3 63.4 1096.3 113.0ZM1502.3 115.6L1450.3 63.9 1417.1 39.0 1402.2 25.0 1502.3 25.0 1502.3 115.6ZM1340.3 393.2L1298.3 392.2 1260.3 393.5 1248.3 392.0 1238.3 388.3 1230.3 382.1 1224.3 373.6 1219.9 363.0 1213.2 339.0 1206.1 329.0 1190.3 318.7 1156.3 306.4 1141.5 299.0 1125.4 287.0 1118.7 277.0 1118.1 267.0 1126.0 239.0 1127.7 225.0 1126.2 211.0 1118.0 181.0 1118.0 175.0 1120.0 169.0 1128.7 159.0 1143.2 149.0 1158.3 141.8 1188.9 131.0 1205.0 121.0 1212.8 111.0 1220.9 83.0 1226.3 72.1 1234.6 63.0 1246.3 57.5 1262.3 55.4 1298.3 56.8 1332.3 55.4 1346.3 56.7 1356.3 59.9 1364.3 65.5 1371.5 75.0 1375.8 85.0 1382.4 109.0 1390.3 120.4 1406.3 130.6 1438.3 142.1 1454.3 149.9 1469.5 161.0 1474.8 167.0 1477.6 173.0 1477.7 183.0 1470.3 209.0 1468.3 223.0 1470.0 239.0 1477.9 267.0 1477.8 275.0 1475.4 281.0 1466.1 291.0 1452.3 300.3 1436.3 307.7 1408.3 317.5 1392.2 327.0 1386.3 333.0 1382.8 339.0 1375.4 365.0 1368.3 379.0 1362.7 385.0 1356.4 389.0 1340.3 393.2ZM1313.0 283.0L1332.3 280.8 1350.3 275.0 1363.9 267.0 1372.0 257.0 1379.1 239.0 1381.0 221.0 1376.3 201.3 1368.7 187.0 1359.8 179.0 1346.3 172.4 1330.3 167.8 1314.3 166.1 1284.3 166.0 1266.3 167.7 1248.1 173.0 1233.4 181.0 1227.3 187.0 1222.3 195.2 1217.7 207.0 1215.2 219.0 1215.1 229.0 1216.9 239.0 1221.1 251.0 1226.5 261.0 1238.3 271.3 1260.3 280.0 1280.3 282.9 1313.0 283.0ZM1502.3 427.0L1399.2 427.0 1415.8 411.0 1450.3 385.0 1502.3 333.4 1502.3 427.0ZM1196.3 427.0L1096.3 427.0 1096.3 336.0 1146.3 385.6 1180.2 411.0 1196.3 427.0Z"/><path fill-rule="evenodd" fill="#e9ecf6" d="M1096.3 108.1L1096.3 25.0 1187.1 25.0 1148.3 57.3 1118.3 88.7 1096.3 108.1ZM1502.3 110.3L1478.3 89.3 1448.3 57.9 1408.9 25.0 1502.3 25.0 1502.3 110.3ZM1346.3 391.3L1332.3 392.9 1298.3 391.4 1262.3 392.8 1250.3 391.4 1240.3 388.0 1232.3 382.2 1225.5 373.0 1220.6 361.0 1215.2 339.0 1208.3 328.3 1190.8 317.0 1158.3 305.7 1142.3 297.7 1128.5 287.0 1123.6 281.0 1120.9 275.0 1120.5 265.0 1127.1 239.0 1128.8 225.0 1127.4 211.0 1120.4 183.0 1120.7 175.0 1123.0 169.0 1131.7 159.0 1146.2 149.0 1160.3 142.5 1190.3 132.2 1208.0 121.0 1214.8 111.0 1220.9 87.0 1226.3 74.6 1234.3 65.0 1246.3 58.6 1262.3 56.2 1298.3 57.6 1332.3 56.1 1346.3 57.7 1355.6 61.0 1364.3 67.5 1371.0 77.0 1375.1 87.0 1381.2 111.0 1388.0 121.0 1404.3 131.6 1438.3 143.5 1452.3 150.4 1466.5 161.0 1474.8 173.0 1475.3 185.0 1468.6 211.0 1467.2 223.0 1468.4 237.0 1475.7 267.0 1475.1 275.0 1472.4 281.0 1463.1 291.0 1450.3 299.7 1436.3 306.3 1406.3 316.5 1389.1 327.0 1381.6 337.0 1374.8 363.0 1368.3 376.6 1358.3 386.5 1346.3 391.3ZM1317.1 285.0L1336.3 282.0 1355.1 275.0 1367.0 267.0 1374.1 257.0 1380.6 239.0 1382.3 221.0 1378.3 202.2 1369.8 185.0 1360.3 176.8 1344.3 169.4 1328.3 165.3 1310.3 163.7 1282.3 163.8 1264.3 165.9 1244.3 172.4 1230.3 180.8 1224.8 187.0 1220.3 195.4 1215.7 209.0 1213.7 221.0 1214.0 231.0 1216.3 242.3 1220.9 255.0 1226.3 264.1 1232.3 269.8 1240.3 274.7 1262.3 282.7 1282.3 285.2 1317.1 285.0ZM1502.3 427.0L1405.7 427.0 1420.8 413.0 1448.3 391.1 1478.3 359.7 1502.3 338.7 1502.3 427.0ZM1190.3 427.0L1096.3 427.0 1096.3 340.9 1118.3 360.3 1148.3 391.7 1175.2 413.0 1190.3 427.0Z"/><path fill-rule="evenodd" fill="#f0f2f8" d="M1096.3 103.4L1096.3 25.0 1178.6 25.0 1148.3 51.9 1116.3 87.1 1096.3 103.4ZM1502.3 105.3L1480.3 87.7 1446.3 50.5 1417.4 25.0 1502.3 25.0 1502.3 105.3ZM1342.3 391.1L1328.3 392.1 1296.3 390.6 1262.3 392.0 1250.3 390.4 1241.1 387.0 1232.3 380.3 1225.8 371.0 1221.3 359.0 1216.5 337.0 1210.0 327.0 1192.3 315.8 1160.3 305.1 1144.3 297.2 1131.2 287.0 1123.4 275.0 1122.6 263.0 1128.7 237.0 1130.0 225.0 1128.9 213.0 1122.4 183.0 1123.1 175.0 1125.6 169.0 1134.4 159.0 1148.3 149.4 1160.3 143.9 1192.3 133.2 1208.9 123.0 1216.2 113.0 1221.6 89.0 1227.5 75.0 1236.4 65.0 1248.3 59.1 1264.3 56.9 1298.3 58.4 1332.3 56.9 1344.3 58.3 1354.3 61.7 1362.3 67.3 1369.6 77.0 1374.4 89.0 1379.8 113.0 1386.3 122.3 1404.3 133.5 1436.3 144.2 1450.4 151.0 1465.8 163.0 1472.9 175.0 1473.2 187.0 1467.5 211.0 1466.0 223.0 1467.3 237.0 1473.6 265.0 1473.2 273.0 1469.7 281.0 1460.4 291.0 1448.3 299.2 1434.3 305.6 1404.3 315.5 1386.3 326.7 1379.5 337.0 1374.1 361.0 1367.8 375.0 1362.3 381.7 1356.3 386.2 1342.3 391.1ZM1321.8 287.0L1340.3 283.0 1359.2 275.0 1369.7 267.0 1376.0 257.0 1382.4 237.0 1383.6 221.0 1378.3 197.7 1370.3 182.6 1360.3 174.6 1344.3 167.3 1326.3 162.6 1310.3 161.2 1280.3 161.4 1264.3 163.6 1244.3 170.3 1229.4 179.0 1222.6 187.0 1218.3 196.0 1213.8 211.0 1212.3 223.0 1213.2 235.0 1216.3 247.2 1220.9 259.0 1226.2 267.0 1232.3 272.2 1242.3 277.8 1266.3 285.8 1288.3 287.9 1321.8 287.0ZM1502.3 427.0L1414.1 427.0 1446.3 398.5 1480.3 361.3 1502.3 343.7 1502.3 427.0ZM1180.3 427.0L1096.3 427.0 1096.3 345.6 1116.3 361.9 1148.3 397.1 1181.8 427.0 1180.3 427.0Z"/><path fill-rule="evenodd" fill="#f7f7fb" d="M1098.3 97.6L1096.3 98.9 1096.3 25.0 1166.1 25.0 1150.3 41.7 1120.7 79.0 1110.3 88.9 1098.3 97.6ZM1502.3 100.4L1488.3 91.0 1476.3 80.0 1446.3 42.4 1429.9 25.0 1502.3 25.0 1502.3 100.4ZM1336.3 391.0L1298.3 389.8 1262.3 391.2 1252.3 389.9 1242.3 386.4 1232.8 379.0 1226.2 369.0 1222.0 357.0 1218.1 335.0 1212.3 326.0 1194.3 314.6 1162.3 304.4 1146.3 296.9 1131.7 285.0 1125.0 273.0 1124.6 261.0 1131.1 227.0 1130.4 215.0 1124.3 185.0 1124.7 177.0 1128.0 169.0 1136.8 159.0 1150.3 149.9 1164.3 143.9 1192.8 135.0 1204.3 129.0 1212.3 123.0 1217.7 115.0 1222.8 89.0 1227.7 77.0 1236.3 66.6 1250.3 59.6 1264.3 57.7 1298.3 59.2 1332.3 57.7 1344.3 59.2 1354.3 63.0 1362.3 69.0 1369.4 79.0 1373.7 91.0 1377.6 113.0 1383.7 123.0 1402.3 134.6 1434.3 144.8 1450.3 152.5 1465.1 165.0 1471.3 177.0 1471.3 189.0 1464.8 223.0 1465.7 235.0 1471.8 265.0 1471.0 273.0 1467.4 281.0 1458.0 291.0 1446.0 299.0 1434.3 304.2 1402.3 314.4 1384.8 325.0 1378.3 334.0 1372.9 361.0 1366.3 375.1 1361.2 381.0 1354.3 386.0 1346.3 389.2 1336.3 391.0ZM1308.4 291.0L1328.3 288.8 1348.3 282.2 1365.9 273.0 1374.3 263.9 1382.3 243.1 1385.0 225.0 1382.3 205.9 1374.3 185.0 1366.3 176.3 1352.3 168.5 1334.3 161.7 1314.3 158.2 1286.3 158.0 1268.3 160.0 1250.3 165.7 1232.3 174.5 1224.7 181.0 1220.3 187.5 1214.5 203.0 1211.5 217.0 1211.1 227.0 1212.7 239.0 1217.5 255.0 1222.3 264.9 1228.3 271.6 1236.3 276.9 1262.3 287.5 1280.3 290.7 1308.4 291.0ZM1502.3 427.0L1426.8 427.0 1446.3 406.6 1476.3 368.9 1488.3 358.0 1502.3 348.6 1502.3 427.0ZM1168.3 427.0L1096.3 427.0 1096.3 350.1 1108.3 358.5 1120.3 369.6 1150.3 407.3 1168.3 427.0Z"/><path fill-rule="evenodd" fill="#faf7f9" d="M1098.3 93.2L1096.3 94.3 1096.3 25.0 1148.0 25.0 1139.2 47.0 1127.0 67.0 1112.7 83.0 1098.3 93.2ZM1502.3 95.5L1486.3 85.5 1470.5 69.0 1456.8 47.0 1448.0 25.0 1502.3 25.0 1502.3 95.5ZM1342.3 389.3L1330.3 390.6 1298.3 389.0 1264.3 390.5 1252.3 388.9 1242.3 385.1 1232.6 377.0 1226.5 367.0 1222.8 355.0 1219.8 333.0 1215.0 325.0 1206.9 319.0 1195.3 313.0 1164.3 303.8 1148.3 296.5 1133.9 285.0 1127.0 273.0 1126.1 261.0 1132.4 225.0 1131.3 213.0 1126.0 187.0 1126.3 179.0 1129.0 171.0 1136.9 161.0 1150.3 151.3 1164.3 145.2 1194.3 136.4 1213.9 125.0 1219.5 117.0 1223.5 91.0 1228.3 78.3 1237.7 67.0 1250.3 60.6 1266.3 58.4 1298.3 60.0 1330.3 58.4 1342.3 59.7 1352.3 63.1 1362.3 70.7 1369.1 81.0 1373.0 93.0 1376.3 116.4 1382.1 125.0 1400.3 135.9 1434.3 146.1 1448.3 152.8 1462.9 165.0 1469.3 177.0 1469.7 189.0 1463.6 223.0 1464.5 235.0 1470.0 263.0 1469.5 271.0 1466.4 279.0 1458.0 289.0 1444.3 298.4 1430.3 304.2 1402.3 312.3 1382.3 323.8 1376.3 332.6 1372.3 359.0 1366.3 373.0 1356.3 383.5 1342.3 389.3ZM1320.3 295.0L1336.3 289.8 1362.3 277.6 1372.3 269.7 1377.7 261.0 1384.6 239.0 1386.2 221.0 1381.1 197.0 1373.6 181.0 1362.3 171.5 1338.3 160.0 1322.3 154.4 1308.3 152.7 1284.3 152.9 1270.3 155.3 1244.3 166.0 1228.3 175.0 1222.3 181.1 1217.0 191.0 1212.1 207.0 1209.8 221.0 1212.3 243.0 1217.4 259.0 1222.3 267.9 1228.3 274.0 1238.3 280.0 1272.3 294.3 1290.3 296.3 1320.3 295.0ZM1148.3 427.0L1096.3 427.0 1096.3 354.7 1112.3 365.7 1127.7 383.0 1141.6 407.0 1148.3 427.0ZM1502.3 427.0L1447.1 427.0 1455.3 405.0 1469.8 381.0 1484.3 365.1 1502.3 353.5 1502.3 427.0Z"/><path fill-rule="evenodd" fill="#f9f2f4" d="M1096.3 89.6L1096.3 25.0 1134.6 25.0 1135.4 33.0 1134.2 43.0 1126.8 61.0 1112.6 79.0 1096.3 89.6ZM1502.3 90.6L1492.3 85.8 1484.3 79.8 1470.4 63.0 1461.8 43.0 1460.6 33.0 1461.4 25.0 1502.3 25.0 1502.3 90.6ZM1338.3 389.1L1326.3 389.8 1296.3 388.2 1264.3 389.7 1252.3 388.0 1242.3 383.9 1234.1 377.0 1226.8 365.0 1223.7 353.0 1221.9 331.0 1217.0 323.0 1196.3 311.2 1164.3 302.4 1150.3 296.2 1136.0 285.0 1131.5 279.0 1128.3 271.0 1127.8 259.0 1133.6 227.0 1132.9 215.0 1127.6 187.0 1128.1 179.0 1131.0 171.0 1139.0 161.0 1152.3 151.6 1166.3 145.9 1196.3 137.8 1216.3 126.6 1221.6 119.0 1224.2 93.0 1229.2 79.0 1238.3 67.9 1252.3 61.0 1266.3 59.2 1298.3 60.8 1330.3 59.2 1342.3 60.6 1352.3 64.3 1362.3 72.4 1368.8 83.0 1372.1 95.0 1373.9 117.0 1378.0 125.0 1386.1 131.0 1398.3 137.2 1432.3 146.8 1446.3 153.1 1460.9 165.0 1467.5 177.0 1468.3 189.0 1462.4 223.0 1463.0 233.0 1468.5 263.0 1467.7 271.0 1464.5 279.0 1455.9 289.0 1442.3 298.1 1430.3 302.9 1400.3 311.0 1379.0 323.0 1374.1 331.0 1371.6 357.0 1366.3 371.0 1360.3 378.7 1354.3 383.5 1338.3 389.1ZM1321.0 303.0L1328.3 300.5 1342.0 291.0 1366.3 277.3 1376.4 267.0 1382.8 251.0 1387.4 229.0 1386.8 215.0 1381.8 195.0 1377.0 183.0 1370.3 174.7 1326.3 147.6 1308.3 145.0 1282.3 145.2 1271.2 147.0 1228.3 172.6 1222.3 178.2 1218.3 184.3 1211.8 203.0 1208.6 221.0 1209.4 235.0 1214.3 254.5 1219.6 267.0 1226.3 274.8 1268.3 300.8 1284.3 303.9 1321.0 303.0ZM1502.3 427.0L1462.1 427.0 1460.6 417.0 1463.9 399.0 1473.7 381.0 1486.9 367.0 1502.3 358.4 1502.3 427.0ZM1132.3 427.0L1096.3 427.0 1096.3 359.4 1106.3 364.9 1114.3 371.7 1122.3 381.0 1128.5 391.0 1132.8 401.0 1135.1 411.0 1134.8 423.0 1133.9 427.0 1132.3 427.0Z"/><path fill-rule="evenodd" fill="#f9edee" d="M1100.3 83.3L1096.3 84.9 1096.3 25.0 1125.6 25.0 1128.4 41.0 1124.5 57.0 1114.3 72.6 1100.3 83.3ZM1502.3 85.5L1494.3 82.6 1486.3 77.1 1478.6 69.0 1473.4 61.0 1469.3 51.0 1467.7 43.0 1468.1 33.0 1470.5 25.0 1502.3 25.0 1502.3 85.5ZM1330.3 389.0L1298.3 387.3 1262.3 388.8 1252.3 387.1 1242.8 383.0 1233.8 375.0 1227.2 363.0 1224.7 351.0 1224.5 329.0 1220.3 321.6 1198.3 309.7 1166.3 301.8 1152.3 296.0 1138.0 285.0 1133.4 279.0 1130.0 271.0 1129.3 259.0 1134.9 227.0 1134.1 215.0 1129.1 187.0 1129.7 179.0 1132.8 171.0 1141.0 161.0 1154.3 152.0 1168.3 146.6 1198.3 139.3 1211.7 133.0 1220.8 127.0 1224.3 120.8 1225.0 95.0 1229.3 81.0 1234.3 73.4 1240.3 67.7 1254.3 61.4 1266.3 60.0 1298.3 61.7 1330.3 60.0 1342.3 61.6 1352.3 65.5 1361.4 73.0 1368.4 85.0 1371.4 99.0 1371.4 119.0 1375.2 127.0 1396.9 139.0 1430.3 147.4 1444.3 153.4 1458.9 165.0 1463.2 171.0 1466.3 179.0 1466.6 191.0 1461.1 225.0 1466.9 265.0 1465.4 273.0 1462.6 279.0 1453.9 289.0 1440.3 297.7 1428.3 302.2 1398.3 309.5 1376.3 321.0 1372.0 327.0 1370.8 355.0 1368.0 365.0 1363.7 373.0 1358.3 379.2 1350.3 384.6 1340.3 387.9 1330.3 389.0ZM1322.7 309.0L1336.3 304.8 1346.3 293.0 1370.3 276.9 1378.3 267.0 1385.7 245.0 1388.8 227.0 1387.3 211.0 1381.3 189.0 1377.8 181.0 1372.3 173.8 1349.8 159.0 1337.3 145.0 1332.3 142.1 1310.3 139.5 1278.3 139.7 1264.3 141.8 1258.3 145.4 1246.2 159.0 1224.3 173.3 1216.3 184.9 1209.5 207.0 1207.2 223.0 1208.5 237.0 1214.4 259.0 1218.3 268.2 1223.5 275.0 1247.5 291.0 1257.7 303.0 1262.3 306.4 1278.3 309.3 1322.7 309.0ZM1122.3 427.0L1096.3 427.0 1096.3 364.1 1104.3 367.9 1113.0 375.0 1119.5 383.0 1125.0 393.0 1127.9 403.0 1128.3 413.0 1125.1 425.0 1124.1 427.0 1122.3 427.0ZM1502.3 427.0L1471.8 427.0 1468.8 419.0 1467.5 409.0 1470.3 395.0 1478.3 380.4 1490.3 368.8 1502.3 363.5 1502.3 427.0Z"/><path fill-rule="evenodd" fill="#f8e8e9" d="M1098.3 79.2L1096.3 79.8 1096.3 25.0 1117.7 25.0 1122.6 39.0 1122.6 47.0 1120.8 55.0 1112.3 69.5 1106.3 75.0 1098.3 79.2ZM1502.3 80.2L1494.3 77.8 1487.2 73.0 1480.3 65.1 1475.9 57.0 1473.6 49.0 1473.2 41.0 1474.6 33.0 1478.3 25.0 1502.3 25.0 1502.3 80.2ZM1340.3 387.0L1326.3 388.3 1296.3 386.5 1266.3 388.3 1254.3 386.7 1244.3 382.7 1234.3 374.0 1227.7 361.0 1225.8 347.0 1227.7 327.0 1225.8 321.0 1218.3 315.9 1200.3 308.0 1168.3 301.1 1154.3 295.7 1139.9 285.0 1135.2 279.0 1131.6 271.0 1130.6 259.0 1136.2 223.0 1130.5 185.0 1131.9 177.0 1134.6 171.0 1143.0 161.0 1156.3 152.3 1168.3 147.9 1200.3 141.0 1224.8 129.0 1227.7 123.0 1225.8 99.0 1229.5 83.0 1234.3 75.0 1240.3 69.0 1254.3 62.3 1266.3 60.7 1298.3 62.5 1330.3 60.8 1340.3 62.0 1350.3 65.5 1361.7 75.0 1368.0 87.0 1370.2 101.0 1368.3 123.0 1371.2 129.0 1396.3 141.3 1428.3 148.1 1442.3 153.6 1457.1 165.0 1461.4 171.0 1464.7 179.0 1465.3 191.0 1459.8 225.0 1465.5 263.0 1464.4 271.0 1460.8 279.0 1451.9 289.0 1438.3 297.3 1426.3 301.4 1396.3 307.7 1372.3 319.1 1368.5 325.0 1370.1 351.0 1366.0 367.0 1356.3 379.6 1348.3 384.5 1340.3 387.0ZM1322.1 313.0L1336.3 311.4 1342.8 309.0 1352.4 293.0 1372.3 278.2 1380.2 267.0 1387.9 241.0 1390.1 225.0 1388.2 209.0 1381.4 185.0 1374.3 172.8 1353.4 157.0 1345.6 143.0 1340.3 138.7 1324.3 136.2 1288.3 135.7 1266.3 136.6 1255.0 139.0 1250.3 143.0 1242.6 157.0 1220.3 174.4 1213.2 189.0 1207.4 211.0 1205.9 225.0 1208.1 241.0 1215.0 265.0 1222.3 276.8 1243.6 293.0 1250.3 305.9 1254.3 309.6 1273.9 313.0 1322.1 313.0ZM1502.3 427.0L1480.5 427.0 1475.0 417.0 1473.1 407.0 1475.6 393.0 1482.3 381.2 1492.3 372.3 1502.3 368.8 1502.3 427.0ZM1114.3 427.0L1096.3 427.0 1096.3 369.2 1104.3 372.6 1111.8 379.0 1117.6 387.0 1121.1 395.0 1122.9 405.0 1122.1 413.0 1118.3 423.0 1114.3 427.0Z"/><path fill-rule="evenodd" fill="#f8e2e3" d="M1100.3 73.1L1096.3 74.2 1096.3 25.0 1108.7 25.0 1113.8 31.0 1116.4 37.0 1117.1 51.0 1114.4 59.0 1110.7 65.0 1100.3 73.1ZM1502.3 74.4L1496.3 73.4 1489.1 69.0 1483.9 63.0 1479.9 55.0 1478.4 47.0 1479.1 39.0 1482.2 31.0 1487.3 25.0 1502.3 25.0 1502.3 74.4ZM1334.3 387.2L1298.3 385.6 1264.3 387.4 1254.3 385.8 1244.3 381.6 1233.4 371.0 1227.8 357.0 1227.4 343.0 1233.1 321.0 1231.9 317.0 1200.3 305.3 1170.3 300.3 1156.3 295.4 1148.3 290.7 1140.3 283.5 1135.7 277.0 1132.6 269.0 1132.2 257.0 1137.5 225.0 1131.9 185.0 1133.4 177.0 1136.2 171.0 1146.3 159.8 1160.3 151.8 1172.3 148.2 1200.3 143.7 1232.3 131.5 1232.9 127.0 1227.1 103.0 1229.0 87.0 1232.7 79.0 1238.3 72.0 1246.3 66.2 1254.3 63.2 1266.3 61.5 1298.3 63.4 1330.3 61.5 1340.9 63.0 1350.3 66.6 1356.6 71.0 1362.0 77.0 1368.0 91.0 1368.7 105.0 1363.1 127.0 1364.3 132.1 1396.3 143.8 1424.3 148.4 1438.5 153.0 1448.3 158.8 1455.3 165.0 1459.8 171.0 1463.1 179.0 1463.9 191.0 1458.5 225.0 1464.1 263.0 1462.9 271.0 1459.2 279.0 1449.9 289.0 1436.3 296.9 1424.3 300.6 1396.3 305.2 1364.1 317.0 1362.9 321.0 1369.0 347.0 1368.2 357.0 1365.8 365.0 1361.2 373.0 1354.3 379.9 1344.4 385.0 1334.3 387.2ZM1341.5 315.0L1350.3 313.7 1354.0 311.0 1354.7 301.0 1356.9 295.0 1376.6 277.0 1381.1 269.0 1385.0 257.0 1390.4 235.0 1391.3 221.0 1386.3 196.6 1379.8 177.0 1374.3 169.3 1357.6 155.0 1354.9 149.0 1354.2 139.0 1353.5 137.0 1350.3 135.2 1326.3 133.3 1290.3 132.8 1256.3 133.9 1244.3 135.8 1241.7 139.0 1241.1 149.0 1238.4 155.0 1222.3 168.7 1216.3 176.9 1206.1 211.0 1204.6 223.0 1205.6 235.0 1212.1 261.0 1216.3 272.2 1222.3 280.3 1239.1 295.0 1241.3 301.0 1242.0 311.0 1244.3 313.3 1254.5 315.0 1284.3 316.1 1341.5 315.0ZM1102.3 427.0L1096.3 427.0 1096.3 374.8 1104.3 378.0 1110.3 383.5 1114.9 391.0 1117.5 401.0 1117.2 409.0 1114.3 417.1 1108.3 424.3 1102.3 427.0ZM1502.3 427.0L1492.4 427.0 1486.1 423.0 1480.3 414.1 1478.4 403.0 1480.3 393.0 1486.1 383.0 1494.3 376.5 1502.3 374.6 1502.3 427.0Z"/><path fill-rule="evenodd" fill="#f7ddde" d="M1098.3 67.4L1096.3 67.7 1096.3 29.1 1098.3 29.0 1104.3 30.9 1108.3 34.8 1111.3 41.0 1112.1 47.0 1111.3 53.0 1108.3 59.7 1104.3 64.3 1098.3 67.4ZM1502.3 67.5L1496.3 67.0 1490.3 63.0 1486.3 57.2 1484.3 51.0 1484.3 43.0 1486.3 37.0 1490.3 32.0 1496.3 29.1 1502.3 29.8 1502.3 67.5ZM1350.3 129.5L1336.3 130.9 1262.3 131.0 1250.3 130.4 1242.3 128.3 1234.3 120.7 1229.4 109.0 1228.2 97.0 1230.8 85.0 1235.2 77.0 1240.9 71.0 1248.3 66.3 1258.3 63.1 1272.3 62.3 1298.3 64.3 1328.3 62.3 1344.3 64.9 1352.5 69.0 1360.3 76.4 1365.2 85.0 1367.6 95.0 1367.0 107.0 1363.7 117.0 1358.3 125.0 1350.3 129.5ZM1228.3 307.7L1220.3 307.8 1200.3 302.6 1176.3 300.1 1162.3 296.7 1146.3 287.6 1136.2 275.0 1133.7 267.0 1133.3 259.0 1138.9 223.0 1133.6 193.0 1133.9 181.0 1136.7 173.0 1142.3 165.2 1149.4 159.0 1158.3 153.9 1172.3 149.5 1200.3 146.4 1222.3 140.9 1228.3 141.3 1233.0 145.0 1234.0 149.0 1231.9 155.0 1220.3 166.4 1214.3 176.4 1205.3 209.0 1203.2 223.0 1205.1 239.0 1214.3 272.6 1219.0 281.0 1229.4 291.0 1233.4 297.0 1233.5 303.0 1228.3 307.7ZM1378.3 307.3L1372.3 308.2 1366.3 307.2 1362.5 303.0 1362.1 299.0 1364.8 293.0 1376.3 281.9 1381.5 273.0 1390.9 239.0 1392.8 223.0 1390.2 207.0 1381.1 175.0 1376.3 167.2 1365.7 157.0 1362.3 151.0 1362.2 147.0 1364.3 143.2 1370.3 140.8 1396.3 146.5 1424.3 149.6 1438.3 154.2 1448.3 160.2 1455.3 167.0 1460.2 175.0 1462.7 185.0 1457.1 225.0 1462.7 263.0 1461.4 271.0 1457.5 279.0 1448.0 289.0 1434.3 296.5 1420.3 300.1 1394.3 302.8 1378.3 307.3ZM1340.3 385.3L1326.3 386.7 1296.3 384.7 1266.3 386.7 1256.3 385.4 1248.3 382.7 1236.3 373.4 1229.8 361.0 1228.3 347.0 1232.3 332.0 1240.3 321.8 1252.3 318.4 1336.3 318.0 1346.3 318.7 1354.3 321.0 1360.3 326.2 1365.7 337.0 1367.8 349.0 1366.8 359.0 1362.7 369.0 1356.3 377.0 1348.3 382.4 1340.3 385.3ZM1102.3 419.1L1096.3 419.9 1096.3 381.3 1101.8 383.0 1106.3 386.7 1110.3 393.0 1111.9 399.0 1110.2 411.0 1106.3 416.5 1102.3 419.1ZM1502.3 419.2L1496.3 419.9 1490.3 417.0 1485.8 411.0 1484.0 403.0 1485.0 395.0 1488.3 388.4 1494.3 382.9 1500.3 381.3 1502.3 381.5 1502.3 419.2Z"/><path fill-rule="evenodd" fill="#f7d8d8" d="M1098.3 57.9L1096.3 58.0 1096.3 39.9 1098.3 39.7 1103.0 43.0 1104.4 49.0 1102.3 55.0 1098.3 57.9ZM1500.3 57.9L1494.3 55.7 1491.6 49.0 1493.0 43.0 1498.3 39.7 1502.3 41.4 1502.3 56.9 1500.3 57.9ZM1346.3 127.4L1332.3 128.9 1266.3 128.9 1246.3 126.4 1238.3 121.4 1231.7 111.0 1229.3 99.0 1231.1 87.0 1235.0 79.0 1242.3 71.0 1250.3 66.3 1258.3 64.0 1272.3 63.1 1298.3 65.2 1328.3 63.0 1344.3 65.8 1353.7 71.0 1360.3 78.0 1364.9 87.0 1366.7 97.0 1365.6 107.0 1361.3 117.0 1354.3 124.1 1346.3 127.4ZM1220.3 301.2L1178.3 299.0 1164.3 296.2 1154.3 291.8 1147.4 287.0 1141.5 281.0 1136.8 273.0 1134.8 265.0 1134.7 257.0 1140.3 223.0 1134.8 193.0 1135.3 181.0 1138.2 173.0 1144.1 165.0 1151.4 159.0 1160.3 154.2 1176.3 150.2 1216.3 147.6 1222.3 148.5 1224.3 151.0 1223.6 155.0 1216.3 165.9 1212.3 176.0 1203.6 211.0 1201.9 223.0 1203.4 237.0 1212.3 272.9 1216.3 283.1 1224.1 295.0 1223.9 299.0 1220.3 301.2ZM1382.3 301.1L1374.3 300.8 1371.6 297.0 1380.3 282.0 1383.7 273.0 1393.0 235.0 1394.0 221.0 1383.4 175.0 1379.2 165.0 1372.4 155.0 1371.7 151.0 1374.3 148.3 1378.3 147.6 1418.3 150.0 1432.3 153.0 1442.3 157.5 1451.9 165.0 1457.8 173.0 1460.7 181.0 1461.2 193.0 1455.7 225.0 1461.3 257.0 1459.9 271.0 1456.0 279.0 1450.9 285.0 1443.1 291.0 1434.3 295.3 1418.3 299.0 1382.3 301.1ZM1336.3 385.3L1324.3 385.9 1298.3 383.8 1266.3 385.9 1256.3 384.6 1248.3 381.7 1237.2 373.0 1230.8 361.0 1229.5 347.0 1233.0 335.0 1237.0 329.0 1242.3 324.5 1248.3 322.0 1258.3 320.3 1334.3 320.1 1344.3 321.2 1352.3 323.7 1359.0 329.0 1364.3 337.9 1366.6 349.0 1365.7 359.0 1361.6 369.0 1354.9 377.0 1346.3 382.4 1336.3 385.3ZM1098.3 409.3L1096.3 409.2 1096.3 391.0 1101.4 393.0 1104.3 399.0 1102.4 407.0 1098.3 409.3ZM1498.3 409.4L1493.7 407.0 1491.6 401.0 1493.1 395.0 1498.3 391.0 1502.3 392.2 1502.3 399.0 1502.3 407.6 1498.3 409.4Z"/><path fill-rule="evenodd" fill="#f6d3d3" d="M1332.3 127.1L1264.3 127.1 1246.3 123.9 1238.3 118.3 1232.3 108.4 1230.4 97.0 1232.9 85.0 1237.6 77.0 1243.8 71.0 1251.0 67.0 1260.3 64.4 1272.3 63.9 1298.3 66.1 1328.3 63.8 1345.0 67.0 1354.6 73.0 1362.2 83.0 1365.3 93.0 1364.7 105.0 1360.4 115.0 1354.3 121.3 1344.3 125.6 1332.3 127.1ZM1196.3 297.1L1174.3 297.3 1156.3 291.7 1143.1 281.0 1139.2 275.0 1136.4 267.0 1136.2 255.0 1141.7 225.0 1136.1 193.0 1137.1 179.0 1142.3 169.0 1150.3 161.1 1160.3 155.4 1172.3 152.0 1186.3 151.1 1204.3 153.0 1210.4 155.0 1212.9 159.0 1200.4 225.0 1212.9 289.0 1211.6 293.0 1208.3 295.0 1196.3 297.1ZM1422.3 297.2L1410.3 297.9 1394.3 296.5 1386.3 294.4 1383.3 291.0 1383.8 283.0 1395.5 227.0 1394.6 215.0 1383.1 161.0 1384.3 156.2 1391.6 153.0 1416.3 151.2 1426.3 152.5 1436.3 155.7 1445.5 161.0 1452.1 167.0 1456.3 173.0 1459.4 181.0 1459.9 193.0 1454.3 225.0 1460.0 257.0 1458.5 271.0 1452.9 281.0 1444.3 288.9 1434.3 294.1 1422.3 297.2ZM1330.3 385.1L1298.3 382.9 1266.3 385.2 1256.3 383.8 1248.3 380.8 1238.3 372.9 1231.8 361.0 1230.5 349.0 1233.8 337.0 1238.3 330.7 1244.3 326.1 1258.3 322.3 1332.3 321.9 1350.3 325.4 1358.3 331.3 1363.9 341.0 1365.6 351.0 1363.5 363.0 1358.3 372.1 1350.7 379.0 1342.3 383.0 1330.3 385.1Z"/><path fill-rule="evenodd" fill="#f6cdcd" d="M1336.3 125.2L1266.3 125.6 1248.3 122.6 1239.5 117.0 1233.2 107.0 1231.5 97.0 1233.9 85.0 1238.3 77.6 1244.3 71.7 1252.3 67.4 1260.3 65.2 1272.3 64.6 1298.3 67.0 1328.3 64.6 1344.3 67.6 1353.3 73.0 1360.1 81.0 1363.9 91.0 1364.3 101.0 1362.0 109.0 1356.3 117.2 1348.3 122.4 1336.3 125.2ZM1194.3 295.1L1174.3 296.0 1164.3 293.9 1156.3 290.4 1148.5 285.0 1143.1 279.0 1139.6 273.0 1137.4 265.0 1137.7 253.0 1143.2 225.0 1137.3 193.0 1138.5 179.0 1142.4 171.0 1150.3 162.5 1160.3 156.6 1172.3 153.2 1186.3 152.8 1198.7 155.0 1205.9 159.0 1208.5 165.0 1207.4 183.0 1200.0 215.0 1198.9 225.0 1206.9 263.0 1208.6 283.0 1207.7 287.0 1204.8 291.0 1194.3 295.1ZM1426.3 295.3L1412.3 296.4 1398.3 294.3 1391.2 291.0 1387.7 285.0 1388.7 265.0 1397.1 225.0 1396.0 215.0 1388.9 185.0 1387.5 165.0 1388.7 161.0 1392.3 157.2 1404.3 153.4 1424.3 153.3 1440.3 158.9 1452.2 169.0 1455.9 175.0 1458.5 183.0 1458.5 195.0 1452.8 225.0 1458.6 255.0 1457.8 269.0 1452.9 279.0 1446.3 286.0 1436.3 292.1 1426.3 295.3ZM1338.3 383.3L1324.3 384.4 1296.3 382.0 1268.3 384.4 1252.3 381.6 1241.6 375.0 1234.3 365.0 1231.5 353.0 1233.6 341.0 1236.9 335.0 1242.3 329.6 1250.3 325.7 1258.3 323.9 1330.3 323.4 1348.3 326.6 1356.3 331.8 1361.5 339.0 1364.1 347.0 1364.1 357.0 1361.7 365.0 1356.3 373.1 1348.3 379.5 1338.3 383.3Z"/><path fill-rule="evenodd" fill="#f5c7c7" d="M1340.3 123.1L1328.3 124.3 1298.3 123.1 1268.3 124.3 1250.3 121.6 1242.0 117.0 1235.5 109.0 1232.6 99.0 1234.1 87.0 1238.3 79.0 1244.1 73.0 1252.3 68.3 1260.3 66.0 1272.3 65.4 1298.3 68.0 1328.3 65.3 1342.3 67.7 1350.3 71.8 1357.7 79.0 1361.9 87.0 1363.5 97.0 1361.4 107.0 1356.3 114.9 1350.3 119.5 1340.3 123.1ZM1180.3 295.1L1164.3 292.7 1150.3 285.0 1142.0 275.0 1138.3 261.0 1144.7 225.0 1138.5 193.0 1138.5 185.0 1140.5 177.0 1146.3 167.8 1154.3 161.0 1166.3 155.7 1178.3 153.9 1190.3 155.1 1200.3 159.0 1205.0 165.0 1206.5 175.0 1205.1 189.0 1198.6 215.0 1197.4 225.0 1205.6 263.0 1205.9 281.0 1203.4 287.0 1198.7 291.0 1190.3 293.9 1180.3 295.1ZM1418.3 295.0L1406.3 294.1 1396.3 290.4 1391.4 285.0 1389.5 275.0 1391.1 259.0 1398.6 225.0 1390.3 185.0 1390.3 167.0 1393.4 161.0 1398.3 157.5 1406.3 154.9 1416.3 153.9 1432.3 156.5 1446.3 164.5 1454.6 175.0 1457.7 189.0 1451.3 223.0 1457.6 257.0 1455.8 271.0 1450.3 280.5 1442.3 287.6 1430.3 293.1 1418.3 295.0ZM1334.3 383.2L1322.3 383.5 1298.3 381.0 1266.3 383.6 1252.3 380.7 1242.3 374.5 1235.3 365.0 1232.5 353.0 1235.0 341.0 1238.9 335.0 1244.3 330.3 1252.3 326.8 1260.3 325.2 1330.3 324.8 1340.3 325.9 1348.3 328.5 1356.3 334.1 1361.0 341.0 1363.3 349.0 1362.7 359.0 1359.6 367.0 1353.1 375.0 1344.3 380.5 1334.3 383.2Z"/><path fill-rule="evenodd" fill="#f5c1c1" d="M1342.3 121.1L1328.3 122.9 1298.3 121.7 1268.3 122.9 1252.3 120.7 1242.3 115.4 1236.3 107.8 1233.6 97.0 1235.1 87.0 1239.4 79.0 1244.3 73.9 1252.3 69.1 1260.3 66.8 1272.3 66.2 1298.3 68.9 1328.3 66.1 1340.3 67.9 1348.3 71.5 1356.3 78.6 1360.9 87.0 1362.4 95.0 1361.6 103.0 1357.8 111.0 1350.3 117.8 1342.3 121.1ZM1186.3 293.0L1170.3 293.1 1154.8 287.0 1144.5 277.0 1141.5 271.0 1139.6 263.0 1140.1 253.0 1146.3 225.0 1139.7 193.0 1141.1 179.0 1145.2 171.0 1153.3 163.0 1162.3 158.2 1174.3 155.4 1186.3 156.0 1196.3 159.5 1201.9 165.0 1204.6 175.0 1203.5 191.0 1196.7 217.0 1195.8 225.0 1203.7 259.0 1204.3 277.0 1202.5 283.0 1199.6 287.0 1194.3 290.6 1186.3 293.0ZM1424.3 293.3L1412.3 293.4 1400.3 289.9 1394.3 284.4 1391.5 275.0 1392.3 259.0 1400.2 225.0 1399.3 217.0 1392.2 189.0 1391.9 171.0 1394.1 165.0 1398.3 160.4 1405.4 157.0 1414.3 155.4 1430.3 157.0 1442.7 163.0 1452.1 173.0 1454.9 179.0 1456.4 187.0 1455.7 197.0 1449.7 225.0 1456.2 255.0 1455.2 269.0 1451.5 277.0 1444.0 285.0 1434.3 290.6 1424.3 293.3ZM1340.3 381.1L1326.3 382.9 1296.3 380.1 1268.3 382.9 1254.3 380.6 1244.3 375.1 1237.4 367.0 1233.9 357.0 1234.7 345.0 1238.3 337.9 1243.1 333.0 1250.3 329.0 1258.3 326.9 1270.3 326.0 1300.3 327.3 1328.3 326.1 1344.3 328.5 1352.3 332.5 1358.3 338.8 1361.8 347.0 1362.4 355.0 1360.5 363.0 1355.8 371.0 1349.1 377.0 1340.3 381.1Z"/><path fill-rule="evenodd" fill="#f5bcbc" d="M1336.3 121.1L1296.3 120.3 1268.3 121.7 1252.3 119.3 1244.0 115.0 1237.2 107.0 1234.6 97.0 1236.1 87.0 1239.1 81.0 1244.3 75.0 1252.3 70.0 1260.3 67.6 1272.3 67.0 1296.3 69.9 1326.3 66.9 1340.3 68.7 1348.3 72.5 1355.5 79.0 1359.9 87.0 1361.4 97.0 1359.7 105.0 1354.3 113.0 1346.3 118.3 1336.3 121.1ZM1186.3 291.5L1170.3 291.9 1156.3 286.7 1145.9 277.0 1142.7 271.0 1140.9 263.0 1141.7 251.0 1148.0 225.0 1141.1 195.0 1141.8 181.0 1145.3 173.0 1152.5 165.0 1162.3 159.3 1172.3 156.8 1184.3 157.1 1194.7 161.0 1200.4 167.0 1203.1 177.0 1201.9 193.0 1195.1 217.0 1194.2 225.0 1202.1 257.0 1202.7 275.0 1198.2 285.0 1193.0 289.0 1186.3 291.5ZM1428.3 291.4L1414.3 292.3 1403.0 289.0 1396.2 283.0 1393.0 273.0 1393.9 257.0 1401.8 225.0 1400.9 217.0 1393.7 191.0 1393.5 173.0 1395.6 167.0 1400.3 161.7 1406.3 158.5 1414.3 156.7 1428.3 157.6 1440.8 163.0 1450.7 173.0 1455.0 185.0 1454.5 197.0 1448.1 225.0 1454.7 253.0 1454.5 267.0 1451.3 275.0 1444.7 283.0 1436.3 288.6 1428.3 291.4ZM1336.3 381.3L1324.3 382.1 1298.3 379.1 1268.3 382.1 1254.3 379.8 1244.3 374.0 1237.3 365.0 1234.6 355.0 1235.9 345.0 1239.1 339.0 1244.3 333.8 1252.3 329.7 1260.3 327.8 1298.3 328.7 1328.3 327.3 1344.3 329.9 1352.3 334.2 1358.2 341.0 1361.1 349.0 1361.2 357.0 1358.7 365.0 1352.8 373.0 1346.3 377.7 1336.3 381.3Z"/><path fill-rule="evenodd" fill="#f4b6b6" d="M1340.3 119.1L1328.3 120.6 1298.3 118.9 1268.3 120.6 1254.3 118.7 1244.3 113.6 1238.6 107.0 1235.8 99.0 1236.4 89.0 1240.1 81.0 1245.6 75.0 1252.3 70.9 1260.3 68.4 1272.3 67.7 1298.3 70.9 1324.3 67.7 1338.3 69.0 1347.6 73.0 1354.3 78.9 1359.0 87.0 1360.5 95.0 1359.2 103.0 1354.5 111.0 1348.3 115.9 1340.3 119.1ZM1180.3 291.1L1166.3 289.9 1154.3 284.1 1144.9 273.0 1141.9 261.0 1142.9 251.0 1149.7 225.0 1142.3 195.0 1143.0 181.0 1146.6 173.0 1154.3 164.9 1164.3 159.7 1174.3 157.8 1185.9 159.0 1194.3 163.1 1200.0 171.0 1201.8 181.0 1200.3 195.0 1193.5 217.0 1192.5 225.0 1200.9 257.0 1201.3 273.0 1199.6 279.0 1195.4 285.0 1188.8 289.0 1180.3 291.1ZM1422.3 291.2L1410.3 290.1 1402.3 286.3 1396.4 279.0 1394.3 269.0 1395.5 255.0 1403.5 225.0 1402.5 217.0 1395.0 191.0 1394.9 175.0 1398.1 167.0 1402.3 162.7 1410.1 159.0 1418.3 157.7 1432.3 159.9 1444.2 167.0 1451.6 177.0 1454.1 189.0 1452.9 199.0 1447.4 217.0 1446.4 225.0 1453.8 255.0 1452.7 269.0 1448.7 277.0 1442.3 283.6 1432.3 289.1 1422.3 291.2ZM1332.3 381.1L1322.3 381.2 1298.3 378.1 1268.3 381.4 1254.3 378.9 1244.5 373.0 1238.3 365.0 1235.6 355.0 1237.1 345.0 1240.6 339.0 1246.3 333.9 1254.3 330.3 1262.3 328.8 1298.3 330.1 1328.3 328.4 1344.3 331.2 1352.3 335.9 1358.0 343.0 1360.3 351.0 1359.9 359.0 1356.6 367.0 1350.3 374.0 1342.3 378.7 1332.3 381.1Z"/><path fill-rule="evenodd" fill="#f4b0b0" d="M1334.3 119.0L1298.3 117.6 1268.3 119.5 1254.3 117.5 1244.3 112.1 1238.8 105.0 1236.6 97.0 1238.0 87.0 1241.1 81.0 1247.0 75.0 1254.3 70.9 1262.3 68.8 1274.3 68.7 1296.3 71.8 1326.3 68.4 1340.3 70.4 1348.3 74.5 1354.9 81.0 1358.7 89.0 1359.4 97.0 1357.2 105.0 1352.3 111.6 1344.3 116.5 1334.3 119.0ZM1182.3 289.4L1168.3 289.3 1154.7 283.0 1146.2 273.0 1143.1 261.0 1144.1 251.0 1151.4 225.0 1143.5 195.0 1144.2 181.0 1148.3 172.6 1156.1 165.0 1164.3 160.9 1174.3 159.0 1184.3 160.1 1193.7 165.0 1198.3 171.5 1200.4 181.0 1199.1 195.0 1191.8 217.0 1190.7 225.0 1199.3 255.0 1200.1 271.0 1198.3 277.5 1194.7 283.0 1189.3 287.0 1182.3 289.4ZM1428.3 289.1L1416.3 289.8 1404.3 285.6 1398.4 279.0 1395.7 269.0 1396.7 255.0 1405.3 225.0 1404.2 217.0 1396.5 193.0 1396.1 177.0 1398.3 170.3 1402.3 165.0 1408.9 161.0 1418.3 159.0 1430.3 160.4 1442.3 166.8 1449.3 175.0 1452.9 187.0 1452.1 197.0 1445.7 217.0 1444.6 225.0 1452.3 253.0 1452.1 267.0 1448.7 275.0 1443.7 281.0 1436.3 286.2 1428.3 289.1ZM1338.3 379.2L1324.3 380.5 1298.3 377.1 1270.3 380.6 1256.3 378.8 1246.3 373.5 1240.3 366.7 1236.7 357.0 1237.6 347.0 1240.6 341.0 1246.3 335.4 1260.3 330.2 1272.3 329.6 1298.3 331.4 1328.3 329.5 1342.3 331.7 1350.3 335.8 1355.4 341.0 1358.4 347.0 1359.5 355.0 1357.6 363.0 1352.4 371.0 1346.3 375.8 1338.3 379.2Z"/><path fill-rule="evenodd" fill="#f3aaaa" d="M1338.3 117.2L1324.3 118.4 1296.3 116.4 1268.3 118.4 1256.3 116.9 1247.4 113.0 1241.2 107.0 1237.9 99.0 1238.3 89.0 1240.9 83.0 1246.3 76.6 1252.3 72.7 1260.3 70.0 1272.3 69.3 1298.3 72.9 1324.3 69.2 1338.3 70.6 1346.3 74.1 1352.3 79.1 1357.1 87.0 1358.5 95.0 1357.0 103.0 1353.2 109.0 1346.3 114.4 1338.3 117.2ZM1184.3 287.5L1170.3 288.5 1158.3 284.2 1148.7 275.0 1144.4 263.0 1145.3 251.0 1153.3 225.0 1152.6 219.0 1144.7 195.0 1145.4 181.0 1149.4 173.0 1155.1 167.0 1162.3 162.8 1172.3 160.3 1182.3 161.0 1191.1 165.0 1196.3 171.2 1199.0 181.0 1197.8 195.0 1190.1 217.0 1188.7 225.0 1197.6 253.0 1198.9 269.0 1197.5 275.0 1194.2 281.0 1184.3 287.5ZM1430.3 287.5L1418.3 288.8 1408.3 286.1 1400.4 279.0 1397.1 269.0 1398.4 253.0 1407.3 225.0 1405.9 217.0 1397.7 193.0 1397.6 177.0 1399.8 171.0 1404.3 165.5 1410.3 162.0 1418.3 160.2 1430.3 161.5 1440.9 167.0 1448.3 175.6 1451.7 187.0 1450.5 199.0 1444.0 217.0 1442.7 225.0 1450.7 251.0 1451.3 265.0 1448.5 273.0 1444.2 279.0 1438.3 283.8 1430.3 287.5ZM1334.3 379.3L1322.3 379.6 1298.3 376.1 1270.3 379.8 1256.3 378.0 1247.0 373.0 1240.3 365.0 1237.7 357.0 1238.7 347.0 1242.0 341.0 1246.3 336.8 1254.3 332.7 1262.3 331.0 1298.3 332.7 1328.3 330.6 1342.3 332.9 1350.3 337.2 1355.4 343.0 1357.9 349.0 1358.3 357.0 1355.7 365.0 1350.3 371.9 1342.3 377.0 1334.3 379.3Z"/><path fill-rule="evenodd" fill="#f3a4a4" d="M1332.3 117.1L1298.3 115.1 1270.3 117.4 1256.3 115.8 1246.5 111.0 1241.2 105.0 1238.6 97.0 1239.2 89.0 1241.9 83.0 1247.1 77.0 1254.3 72.6 1262.3 70.4 1274.3 70.2 1298.3 73.9 1324.3 70.0 1338.3 71.4 1346.3 75.1 1352.7 81.0 1356.8 89.0 1357.4 97.0 1354.8 105.0 1349.5 111.0 1342.3 114.9 1332.3 117.1ZM1180.3 287.1L1168.3 287.0 1156.3 281.5 1148.8 273.0 1145.4 261.0 1147.1 249.0 1155.4 225.0 1154.5 219.0 1146.3 197.0 1146.3 182.2 1150.3 173.6 1156.3 167.5 1164.3 163.1 1172.3 161.4 1182.3 162.3 1190.3 166.4 1195.4 173.0 1197.8 183.0 1196.1 197.0 1187.5 219.0 1186.7 225.0 1196.4 253.0 1197.5 269.0 1195.9 275.0 1192.0 281.0 1186.6 285.0 1180.3 287.1ZM1426.3 287.3L1415.1 287.0 1406.2 283.0 1400.1 275.0 1398.2 265.0 1400.1 251.0 1409.3 225.0 1408.4 219.0 1399.4 195.0 1398.7 179.0 1401.7 171.0 1406.3 165.9 1412.3 162.8 1420.3 161.3 1432.3 163.4 1441.6 169.0 1447.8 177.0 1450.5 187.0 1449.2 199.0 1441.5 219.0 1440.6 225.0 1449.9 253.0 1449.7 267.0 1446.0 275.0 1440.4 281.0 1434.3 284.8 1426.3 287.3ZM1328.3 379.1L1298.3 375.1 1270.3 379.0 1256.3 377.1 1248.3 373.0 1241.3 365.0 1238.6 357.0 1239.8 347.0 1243.4 341.0 1248.3 336.7 1262.3 332.0 1298.3 333.9 1328.3 331.6 1342.3 334.0 1350.3 338.7 1355.3 345.0 1357.5 353.0 1356.5 361.0 1352.3 368.6 1346.3 373.9 1338.3 377.6 1328.3 379.1Z"/><path fill-rule="evenodd" fill="#f39f9f" d="M1338.3 115.1L1324.3 116.3 1296.3 113.9 1268.3 116.4 1256.3 114.7 1248.3 111.0 1242.5 105.0 1239.5 97.0 1240.2 89.0 1242.9 83.0 1248.3 77.1 1254.3 73.5 1262.3 71.2 1274.3 71.0 1298.3 74.9 1324.3 70.8 1336.3 71.7 1344.3 74.8 1350.3 79.4 1354.3 85.1 1356.6 93.0 1355.5 101.0 1352.1 107.0 1346.3 111.9 1338.3 115.1ZM1182.3 285.3L1170.3 286.2 1158.3 281.6 1150.1 273.0 1146.8 263.0 1148.3 249.1 1157.7 225.0 1156.6 219.0 1147.5 197.0 1147.3 183.0 1150.7 175.0 1156.3 168.8 1164.3 164.3 1172.3 162.6 1180.3 163.2 1188.6 167.0 1193.7 173.0 1196.5 183.0 1194.9 197.0 1185.4 219.0 1184.4 225.0 1194.6 251.0 1196.4 267.0 1195.1 273.0 1191.7 279.0 1182.3 285.3ZM1430.3 285.2L1418.3 286.3 1408.8 283.0 1402.9 277.0 1399.6 267.0 1401.4 251.0 1411.6 225.0 1410.6 219.0 1401.1 197.0 1399.7 181.0 1401.3 175.0 1405.2 169.0 1410.6 165.0 1418.3 162.7 1430.3 163.8 1439.9 169.0 1446.5 177.0 1449.3 187.0 1448.0 199.0 1439.4 219.0 1438.4 225.0 1448.2 251.0 1448.9 265.0 1443.0 277.0 1436.3 282.5 1430.3 285.2ZM1336.3 377.3L1324.3 378.2 1298.3 374.1 1272.3 378.2 1258.3 377.0 1248.3 371.9 1242.3 365.1 1239.5 357.0 1240.2 349.0 1243.1 343.0 1248.3 338.0 1262.3 333.0 1272.3 332.7 1298.3 335.1 1328.3 332.6 1340.3 334.4 1348.3 338.4 1352.9 343.0 1355.8 349.0 1356.5 357.0 1354.8 363.0 1350.3 369.6 1344.3 374.2 1336.3 377.3Z"/><path fill-rule="evenodd" fill="#f29999" d="M1332.3 115.2L1298.3 112.6 1270.3 115.4 1256.3 113.7 1248.3 109.7 1243.7 105.0 1240.5 97.0 1241.1 89.0 1243.9 83.0 1248.3 78.1 1254.3 74.3 1262.3 71.9 1274.3 71.8 1298.3 76.0 1324.3 71.6 1338.2 73.0 1346.3 77.0 1352.1 83.0 1354.9 89.0 1355.5 97.0 1353.5 103.0 1348.3 109.2 1340.3 113.5 1332.3 115.2ZM1176.3 285.2L1166.3 284.2 1156.6 279.0 1150.3 271.0 1147.8 261.0 1149.6 249.0 1160.2 225.0 1159.0 219.0 1148.7 197.0 1148.5 183.0 1150.8 177.0 1156.3 170.3 1164.3 165.5 1172.3 163.7 1181.8 165.0 1188.7 169.0 1193.1 175.0 1195.3 185.0 1193.0 199.0 1183.0 219.0 1181.8 225.0 1193.9 253.0 1195.2 261.0 1194.7 269.0 1192.6 275.0 1188.3 280.3 1182.3 283.8 1176.3 285.2ZM1424.3 285.2L1414.3 284.1 1406.3 279.0 1402.3 272.5 1400.7 263.0 1403.4 249.0 1412.5 231.0 1414.2 225.0 1413.0 219.0 1402.3 196.8 1400.7 187.0 1401.5 179.0 1404.0 173.0 1408.3 168.2 1414.3 164.9 1422.3 163.7 1432.3 165.7 1440.5 171.0 1446.2 179.0 1448.3 189.0 1446.0 201.0 1437.0 219.0 1435.7 225.0 1447.0 251.0 1448.3 259.0 1447.3 267.0 1444.3 273.5 1438.3 279.9 1432.3 283.3 1424.3 285.2ZM1332.3 377.3L1322.3 377.2 1298.3 373.0 1272.3 377.4 1258.3 376.1 1250.3 372.4 1243.3 365.0 1240.5 357.0 1241.2 349.0 1244.3 343.2 1248.7 339.0 1262.3 334.0 1274.3 333.8 1296.3 336.3 1326.3 333.6 1340.3 335.5 1348.3 339.8 1353.0 345.0 1355.3 351.0 1355.2 359.0 1352.7 365.0 1347.5 371.0 1340.3 375.3 1332.3 377.3Z"/><path fill-rule="evenodd" fill="#f29393" d="M1338.3 113.1L1324.3 114.4 1298.3 111.4 1272.3 114.4 1258.3 113.3 1250.3 109.8 1244.3 104.0 1241.5 97.0 1242.0 89.0 1248.6 79.0 1254.3 75.2 1262.3 72.7 1274.3 72.6 1298.3 77.0 1324.3 72.4 1336.3 73.3 1344.3 76.7 1349.5 81.0 1353.3 87.0 1354.7 93.0 1354.0 99.0 1351.0 105.0 1346.3 109.5 1338.3 113.1ZM1180.3 283.1L1168.3 283.5 1158.4 279.0 1151.6 271.0 1148.9 261.0 1151.7 247.0 1163.6 225.0 1162.8 221.0 1150.6 199.0 1149.0 191.0 1149.7 183.0 1153.5 175.0 1158.3 170.1 1164.3 166.7 1172.3 164.9 1180.3 165.9 1188.3 170.6 1192.4 177.0 1194.0 185.0 1191.7 199.0 1179.2 221.0 1178.4 225.0 1192.0 251.0 1193.8 259.0 1193.7 267.0 1189.5 277.0 1180.3 283.1ZM1428.3 283.4L1418.3 283.7 1410.3 280.5 1404.3 273.6 1402.0 265.0 1402.4 257.0 1404.7 249.0 1417.6 225.0 1415.8 219.0 1404.3 199.0 1402.1 189.0 1402.4 181.0 1404.5 175.0 1408.3 170.1 1414.3 166.4 1420.3 165.0 1430.3 166.2 1438.3 170.5 1444.3 177.8 1447.0 187.0 1444.7 201.0 1433.2 221.0 1432.4 225.0 1445.1 249.0 1446.9 257.0 1446.6 265.0 1444.4 271.0 1440.3 276.6 1434.5 281.0 1428.3 283.4ZM1338.3 375.1L1324.3 376.6 1298.3 371.9 1272.3 376.6 1260.3 375.9 1252.3 372.7 1245.7 367.0 1241.8 359.0 1241.7 351.0 1244.3 345.0 1248.3 340.6 1254.3 337.1 1262.3 335.0 1272.3 334.6 1298.3 337.6 1324.3 334.6 1338.3 335.9 1345.4 339.0 1350.2 343.0 1353.7 349.0 1354.7 355.0 1353.6 361.0 1350.3 367.0 1344.3 372.3 1338.3 375.1Z"/><path fill-rule="evenodd" fill="#f18e8e" d="M1334.3 113.0L1322.3 113.3 1298.3 110.2 1272.3 113.4 1258.3 112.3 1250.3 108.6 1244.8 103.0 1242.5 97.0 1243.0 89.0 1246.0 83.0 1249.8 79.0 1262.3 73.5 1274.3 73.5 1298.3 78.2 1324.3 73.2 1336.3 74.1 1343.3 77.0 1348.3 81.0 1352.3 87.0 1353.7 95.0 1352.2 101.0 1347.8 107.0 1342.3 110.6 1334.3 113.0ZM1172.3 222.6L1168.3 221.5 1156.3 207.7 1151.9 199.0 1150.1 189.0 1151.5 181.0 1156.7 173.0 1164.3 167.9 1174.3 166.1 1182.3 168.1 1188.3 172.8 1191.7 179.0 1192.8 187.0 1191.6 195.0 1187.4 205.0 1180.3 214.8 1172.3 222.6ZM1426.3 222.6L1422.3 221.5 1410.3 207.8 1405.7 199.0 1403.3 189.0 1403.8 181.0 1407.5 173.0 1412.3 168.8 1420.3 166.2 1428.3 166.8 1437.0 171.0 1443.6 179.0 1445.8 187.0 1445.2 195.0 1441.3 205.0 1434.3 214.7 1426.3 222.6ZM1180.3 281.7L1172.3 282.9 1162.3 280.1 1154.3 273.2 1150.7 265.0 1150.6 255.0 1154.1 245.0 1160.3 235.9 1170.3 226.0 1174.3 228.0 1184.3 239.2 1189.9 249.0 1192.3 257.0 1192.7 265.0 1190.4 273.0 1186.3 278.3 1180.3 281.7ZM1430.3 281.6L1420.3 282.8 1412.3 280.2 1406.3 274.3 1403.3 265.0 1404.1 255.0 1408.0 245.0 1414.3 235.9 1424.3 226.0 1428.3 228.0 1438.3 239.3 1443.7 249.0 1445.7 257.0 1445.3 265.0 1442.3 272.3 1436.3 278.6 1430.3 281.6ZM1334.3 375.4L1322.3 375.6 1298.3 370.8 1272.3 375.8 1260.3 375.1 1252.3 371.8 1246.3 366.4 1242.7 359.0 1242.7 351.0 1245.5 345.0 1249.4 341.0 1262.3 335.9 1274.3 335.7 1298.3 338.8 1324.3 335.5 1338.3 336.9 1344.3 339.5 1350.3 344.7 1353.3 351.0 1353.6 357.0 1351.8 363.0 1347.3 369.0 1341.4 373.0 1334.3 375.4Z"/><path fill-rule="evenodd" fill="#f08889" d="M1338.3 111.1L1324.3 112.5 1298.3 108.9 1272.3 112.5 1260.3 111.8 1252.3 108.8 1246.3 103.4 1243.5 97.0 1243.5 91.0 1245.7 85.0 1250.3 79.7 1262.3 74.3 1274.3 74.3 1298.3 79.3 1322.3 74.2 1334.3 74.4 1341.6 77.0 1347.1 81.0 1351.3 87.0 1352.8 93.0 1352.0 99.0 1348.4 105.0 1338.3 111.1ZM1174.3 216.1L1168.3 216.3 1160.3 210.2 1154.2 201.0 1151.4 191.0 1152.1 183.0 1156.4 175.0 1164.3 169.2 1172.3 167.3 1180.3 168.7 1186.3 172.7 1190.2 179.0 1191.5 185.0 1190.4 195.0 1187.0 203.0 1180.3 211.7 1174.3 216.1ZM1428.3 216.1L1422.3 216.3 1416.3 212.3 1409.0 203.0 1405.2 193.0 1404.5 185.0 1406.6 177.0 1411.6 171.0 1418.3 167.9 1426.3 167.6 1435.1 171.0 1441.1 177.0 1444.3 185.0 1444.3 193.3 1440.8 203.0 1434.3 211.7 1428.3 216.1ZM1176.3 281.4L1168.3 281.1 1160.3 277.6 1154.3 271.0 1151.5 263.0 1152.3 253.0 1156.3 244.1 1164.3 235.0 1170.3 232.2 1176.3 234.0 1184.3 241.9 1189.3 251.0 1191.3 259.0 1191.1 267.0 1188.3 273.8 1182.9 279.0 1176.3 281.4ZM1428.3 281.0L1420.3 281.5 1412.3 278.5 1407.2 273.0 1404.6 265.0 1405.4 255.0 1409.6 245.0 1416.3 236.7 1424.3 232.2 1430.3 234.0 1436.3 239.5 1442.3 249.0 1444.5 257.0 1444.1 265.0 1440.4 273.0 1434.3 278.5 1428.3 281.0ZM1330.3 375.1L1320.3 374.5 1298.3 369.7 1272.3 375.0 1260.3 374.3 1252.3 370.8 1246.4 365.0 1243.7 359.0 1243.8 351.0 1246.3 345.6 1250.3 341.6 1262.3 336.8 1274.3 336.7 1298.3 340.1 1324.3 336.5 1338.3 337.9 1344.9 341.0 1350.3 346.5 1352.6 353.0 1352.3 359.0 1349.6 365.0 1344.3 370.4 1338.3 373.5 1330.3 375.1Z"/><path fill-rule="evenodd" fill="#f08384" d="M1334.3 111.1L1322.3 111.4 1298.3 107.6 1272.3 111.5 1260.3 110.8 1252.3 107.6 1247.3 103.0 1244.5 97.0 1244.4 91.0 1246.8 85.0 1250.3 80.8 1256.2 77.0 1262.3 75.1 1274.3 75.1 1298.3 80.6 1322.3 75.0 1334.3 75.2 1340.3 77.2 1346.3 81.4 1350.3 87.0 1351.8 93.0 1350.9 99.0 1347.0 105.0 1341.1 109.0 1334.3 111.1ZM1172.3 213.5L1166.3 212.4 1158.3 205.2 1154.0 197.0 1152.6 189.0 1154.1 181.0 1158.0 175.0 1164.3 170.5 1172.3 168.6 1178.3 169.4 1184.6 173.0 1188.7 179.0 1190.2 187.0 1188.3 197.0 1184.3 204.5 1178.3 210.7 1172.3 213.5ZM1426.3 213.5L1420.3 212.4 1414.3 207.7 1408.5 199.0 1406.1 191.0 1406.1 183.0 1408.3 176.9 1414.1 171.0 1420.3 168.8 1428.3 169.3 1435.8 173.0 1440.9 179.0 1443.3 187.0 1442.3 196.2 1438.3 204.3 1432.3 210.7 1426.3 213.5ZM1178.3 279.6L1170.3 280.2 1162.3 277.5 1156.3 271.9 1153.2 265.0 1152.8 257.0 1156.2 247.0 1162.3 239.4 1168.3 235.8 1174.3 236.0 1180.3 239.9 1186.3 247.6 1189.7 257.0 1190.0 265.0 1188.3 271.0 1184.3 276.2 1178.3 279.6ZM1430.3 279.1L1422.3 280.4 1414.3 278.1 1408.9 273.0 1406.0 265.0 1406.7 255.0 1410.3 246.6 1416.3 239.4 1424.3 235.5 1430.3 237.0 1436.3 242.1 1440.8 249.0 1443.2 257.0 1442.8 265.0 1440.3 271.0 1436.3 275.6 1430.3 279.1ZM1336.3 373.3L1322.3 374.0 1298.3 368.4 1272.3 374.1 1260.3 373.4 1252.3 369.8 1247.5 365.0 1244.7 359.0 1244.8 351.0 1250.3 342.8 1262.3 337.8 1274.3 337.6 1298.3 341.4 1324.3 337.4 1336.3 338.3 1343.0 341.0 1347.9 345.0 1350.5 349.0 1351.8 355.0 1350.7 361.0 1346.9 367.0 1336.3 373.3Z"/><path fill-rule="evenodd" fill="#ef7d7f" d="M1338.3 109.1L1324.3 110.7 1298.3 106.2 1274.3 110.4 1262.3 110.3 1254.3 107.6 1248.6 103.0 1245.6 97.0 1245.4 91.0 1247.9 85.0 1251.4 81.0 1262.3 75.9 1274.3 76.0 1298.3 81.9 1322.3 75.9 1334.3 76.1 1344.6 81.0 1348.3 85.2 1350.6 91.0 1350.4 97.0 1348.3 101.8 1344.3 106.0 1338.3 109.1ZM1176.3 209.5L1170.3 210.9 1164.3 208.7 1158.3 202.6 1154.2 193.0 1154.2 185.0 1157.9 177.0 1164.3 171.9 1170.3 170.0 1176.3 170.3 1182.3 173.0 1186.1 177.0 1188.5 183.0 1188.6 191.0 1186.3 198.3 1182.3 204.5 1176.3 209.5ZM1430.3 209.5L1424.3 210.9 1418.3 208.7 1412.3 202.7 1408.4 195.0 1407.1 187.0 1408.8 179.0 1412.3 174.2 1418.3 170.7 1426.3 170.1 1432.3 172.2 1438.1 177.0 1441.3 183.0 1442.0 191.0 1440.3 197.8 1436.3 204.4 1430.3 209.5ZM1174.3 279.0L1168.3 278.6 1160.9 275.0 1156.3 269.6 1154.1 263.0 1154.5 255.0 1158.3 246.4 1164.3 240.3 1170.3 238.1 1176.3 239.5 1182.3 244.5 1186.5 251.0 1188.7 259.0 1188.3 267.0 1185.4 273.0 1180.3 277.3 1174.3 279.0ZM1424.3 279.1L1418.3 278.3 1412.3 274.9 1408.4 269.0 1407.1 261.0 1408.7 253.0 1412.3 246.3 1418.3 240.3 1424.3 238.1 1430.3 239.5 1436.3 244.6 1441.0 253.0 1442.1 261.0 1440.9 267.0 1437.2 273.0 1432.0 277.0 1424.3 279.1ZM1332.3 373.3L1321.5 373.0 1298.3 367.2 1272.3 373.3 1260.3 372.6 1252.7 369.0 1248.3 364.6 1245.3 357.0 1245.9 351.0 1252.3 342.6 1264.3 338.4 1274.3 338.6 1298.3 342.8 1322.3 338.5 1336.3 339.3 1342.3 341.7 1348.2 347.0 1350.2 351.0 1350.7 357.0 1348.8 363.0 1344.3 368.2 1332.3 373.3Z"/><path fill-rule="evenodd" fill="#ef787a" d="M1334.3 109.2L1322.3 109.5 1298.3 104.7 1274.3 109.4 1262.3 109.4 1255.2 107.0 1249.9 103.0 1246.6 97.0 1246.4 91.0 1248.3 86.1 1252.3 81.4 1262.3 76.8 1274.3 76.8 1298.3 83.3 1322.3 76.7 1334.3 76.9 1340.3 79.1 1345.4 83.0 1348.2 87.0 1349.8 93.0 1348.7 99.0 1346.1 103.0 1340.8 107.0 1334.3 109.2ZM1176.3 207.2L1170.3 208.5 1164.3 206.3 1158.3 199.8 1155.6 193.0 1155.6 185.0 1158.1 179.0 1162.3 174.6 1168.3 171.8 1174.3 171.4 1180.3 173.4 1184.3 177.0 1187.0 183.0 1187.5 189.0 1185.3 197.0 1181.5 203.0 1176.3 207.2ZM1430.3 207.2L1424.3 208.5 1418.3 206.4 1413.0 201.0 1409.8 195.0 1408.5 187.0 1409.6 181.0 1413.6 175.0 1418.3 172.2 1424.3 171.3 1431.1 173.0 1436.4 177.0 1439.9 183.0 1440.8 189.0 1439.1 197.0 1435.3 203.0 1430.3 207.2ZM1176.3 277.3L1170.3 277.6 1163.2 275.0 1158.8 271.0 1155.8 265.0 1155.2 259.0 1157.4 251.0 1162.3 244.3 1168.3 240.8 1174.3 241.0 1180.3 244.8 1184.3 249.9 1187.0 257.0 1187.5 263.0 1186.0 269.0 1182.3 274.1 1176.3 277.3ZM1428.3 277.1L1420.3 277.4 1414.8 275.0 1410.3 269.7 1408.5 263.0 1409.5 255.0 1412.3 248.9 1418.3 242.6 1424.3 240.5 1430.3 241.8 1434.4 245.0 1438.6 251.0 1440.8 259.0 1440.2 265.0 1437.2 271.0 1428.3 277.1ZM1336.3 371.6L1322.3 372.3 1298.3 365.7 1274.3 372.2 1262.3 372.2 1254.3 369.1 1249.7 365.0 1246.6 359.0 1246.4 353.0 1248.3 348.2 1252.3 343.8 1262.3 339.7 1274.3 339.6 1298.3 344.3 1322.3 339.5 1334.3 339.8 1345.1 345.0 1348.3 349.2 1349.8 355.0 1348.7 361.0 1346.3 365.0 1336.3 371.6Z"/><path fill-rule="evenodd" fill="#ee7275" d="M1338.3 107.1L1324.3 108.8 1298.3 103.1 1274.3 108.5 1262.3 108.4 1256.3 106.5 1250.3 101.8 1247.7 97.0 1247.5 91.0 1252.3 82.6 1257.9 79.0 1264.3 77.3 1274.3 77.7 1298.3 84.8 1320.3 78.0 1332.3 77.4 1342.3 81.4 1346.3 85.6 1348.6 91.0 1348.3 97.0 1346.4 101.0 1338.3 107.1ZM1174.3 205.8L1168.3 206.0 1163.1 203.0 1158.5 197.0 1156.7 191.0 1157.0 185.0 1159.8 179.0 1164.3 174.9 1170.3 172.8 1176.3 173.3 1180.3 175.2 1183.8 179.0 1185.9 185.0 1185.8 191.0 1183.7 197.0 1180.3 201.8 1174.3 205.8ZM1428.3 205.8L1422.3 206.0 1418.3 204.1 1413.5 199.0 1410.7 193.0 1409.9 187.0 1411.2 181.0 1414.3 176.4 1420.3 173.1 1426.3 172.9 1432.3 175.3 1436.3 179.0 1439.0 185.0 1439.3 191.0 1437.5 197.0 1434.3 201.7 1428.3 205.8ZM1176.3 275.7L1170.3 276.2 1164.3 274.1 1160.3 270.7 1157.3 265.0 1156.6 259.0 1158.3 252.5 1162.3 246.7 1168.3 243.0 1174.3 243.2 1178.3 245.4 1183.1 251.0 1185.6 257.0 1186.0 263.0 1184.4 269.0 1181.2 273.0 1176.3 275.7ZM1428.3 275.6L1422.3 276.2 1416.3 274.1 1411.7 269.0 1410.0 263.0 1411.0 255.0 1414.2 249.0 1418.3 244.9 1424.3 242.7 1430.3 244.1 1434.3 247.3 1437.9 253.0 1439.4 259.0 1436.9 269.0 1433.3 273.0 1428.3 275.6ZM1334.3 371.2L1322.3 371.4 1298.3 364.1 1274.3 371.3 1262.3 371.4 1255.9 369.0 1250.9 365.0 1247.7 359.0 1247.5 353.0 1252.4 345.0 1258.3 341.7 1264.3 340.3 1276.3 340.9 1298.3 346.0 1322.3 340.5 1334.3 340.7 1344.3 345.6 1347.0 349.0 1348.8 355.0 1347.6 361.0 1345.1 365.0 1340.3 368.9 1334.3 371.2Z"/><path fill-rule="evenodd" fill="#ed6d70" d="M1334.3 107.3L1320.3 107.2 1298.3 101.1 1274.3 107.5 1262.3 107.4 1255.6 105.0 1251.0 101.0 1248.8 97.0 1248.5 91.0 1250.3 86.5 1254.3 82.1 1264.3 78.2 1275.8 79.0 1298.3 86.7 1320.3 79.0 1332.3 78.3 1342.8 83.0 1346.0 87.0 1347.7 93.0 1347.1 97.0 1344.3 101.9 1334.3 107.3ZM1174.3 203.6L1168.3 203.7 1164.3 201.6 1160.3 197.0 1158.2 191.0 1158.5 185.0 1160.3 180.8 1164.3 176.6 1170.3 174.3 1176.3 174.9 1179.9 177.0 1184.4 185.0 1184.2 191.0 1182.3 196.3 1178.3 201.3 1174.3 203.6ZM1428.3 203.5L1422.3 203.8 1418.3 201.7 1412.3 193.0 1411.5 187.0 1412.9 181.0 1416.1 177.0 1420.3 174.7 1426.3 174.4 1430.3 175.8 1434.4 179.0 1437.5 185.0 1437.7 191.0 1436.3 195.8 1432.5 201.0 1428.3 203.5ZM1178.3 273.1L1172.3 274.8 1166.3 273.5 1162.3 270.7 1158.8 265.0 1158.1 259.0 1159.8 253.0 1164.3 247.4 1168.3 245.3 1176.3 246.3 1180.3 249.8 1183.3 255.0 1184.2 265.0 1182.3 269.3 1178.3 273.1ZM1430.3 273.2L1424.3 274.8 1418.3 273.4 1414.3 270.1 1411.9 265.0 1411.6 259.0 1413.6 253.0 1418.3 247.3 1422.3 245.2 1430.3 246.4 1434.3 250.0 1437.0 255.0 1437.2 265.0 1434.3 270.1 1430.3 273.2ZM1328.3 371.1L1318.3 369.5 1298.3 362.3 1274.3 370.3 1262.3 370.5 1256.3 368.2 1250.6 363.0 1248.7 359.0 1248.6 353.0 1254.1 345.0 1264.3 341.2 1276.3 341.9 1298.3 347.9 1322.3 341.4 1334.3 341.7 1341.9 345.0 1345.7 349.0 1347.4 353.0 1347.3 359.0 1344.3 364.4 1340.3 367.8 1328.3 371.1Z"/><path fill-rule="evenodd" fill="#ed676b" d="M1328.3 107.0L1318.3 105.7 1298.3 98.6 1276.3 106.0 1262.3 106.4 1256.3 104.2 1252.3 101.0 1250.0 97.0 1249.6 91.0 1254.7 83.0 1264.3 79.0 1276.3 80.1 1298.3 89.1 1320.3 80.0 1332.3 79.1 1338.3 81.1 1343.4 85.0 1345.8 89.0 1346.5 95.0 1344.3 100.1 1340.3 103.8 1328.3 107.0ZM1174.3 201.3L1170.3 201.8 1166.3 200.6 1162.3 196.8 1159.9 191.0 1160.2 185.0 1162.1 181.0 1166.3 177.3 1170.3 176.0 1178.3 178.0 1182.6 185.0 1181.0 195.0 1174.3 201.3ZM1428.3 201.2L1424.3 201.9 1420.3 200.6 1414.1 193.0 1413.9 183.0 1416.5 179.0 1420.3 176.6 1426.3 176.1 1430.3 177.7 1435.8 185.0 1436.3 189.1 1434.8 195.0 1428.3 201.2ZM1172.3 273.1L1164.3 270.4 1161.5 267.0 1159.7 261.0 1162.3 252.2 1166.3 248.4 1170.3 247.1 1174.3 247.7 1178.9 251.0 1181.5 255.0 1182.9 261.0 1180.3 269.1 1176.3 272.2 1172.3 273.1ZM1424.3 273.1L1416.3 269.8 1413.1 261.0 1416.3 251.9 1420.3 248.4 1424.3 247.1 1428.3 247.8 1432.8 251.0 1435.2 255.0 1436.3 261.0 1435.5 265.0 1432.3 269.8 1424.3 273.1ZM1334.3 369.4L1328.3 370.2 1320.3 369.1 1298.3 359.8 1275.9 369.0 1262.3 369.6 1256.3 367.1 1251.8 363.0 1249.8 359.0 1249.7 353.0 1254.3 346.2 1264.3 342.2 1276.5 343.0 1298.3 350.4 1320.3 342.8 1334.3 342.7 1342.7 347.0 1346.6 355.0 1344.2 363.0 1339.9 367.0 1334.3 369.4Z"/><path fill-rule="evenodd" fill="#ec6266" d="M1274.3 105.4L1262.3 105.4 1253.9 101.0 1250.5 93.0 1254.3 84.7 1262.3 80.4 1272.3 80.2 1284.7 85.0 1294.7 93.0 1294.4 95.0 1289.6 99.0 1274.3 105.4ZM1334.3 105.3L1324.3 105.8 1314.3 103.1 1303.5 97.0 1301.3 93.0 1311.3 85.0 1320.2 81.0 1328.3 79.8 1336.3 81.2 1343.6 87.0 1345.3 95.0 1342.1 101.0 1334.3 105.3ZM1172.3 199.4L1168.3 199.0 1165.2 197.0 1161.6 189.0 1164.3 181.1 1170.3 177.9 1174.3 178.2 1178.3 180.6 1181.0 187.0 1178.8 195.0 1172.3 199.4ZM1426.3 199.4L1420.3 198.1 1415.4 191.0 1416.0 183.0 1418.3 180.0 1422.3 178.0 1426.3 178.0 1430.3 179.9 1434.4 187.0 1432.5 195.0 1426.3 199.4ZM1172.3 271.2L1168.3 270.6 1164.3 267.8 1161.6 261.0 1164.2 253.0 1170.3 249.5 1174.3 250.2 1178.0 253.0 1181.0 261.0 1178.3 268.4 1172.3 271.2ZM1426.3 271.0L1422.3 271.0 1418.3 269.0 1415.1 263.0 1416.6 255.0 1420.3 250.9 1424.3 249.5 1430.3 251.5 1434.4 259.0 1432.4 267.0 1426.3 271.0ZM1270.3 369.1L1260.3 368.0 1252.3 361.8 1250.6 357.0 1250.9 353.0 1256.3 346.1 1266.3 343.0 1276.3 344.1 1288.0 349.0 1294.9 355.0 1291.8 359.0 1282.9 365.0 1270.3 369.1ZM1330.3 369.2L1322.3 368.5 1314.3 365.6 1304.2 359.0 1301.1 355.0 1308.0 349.0 1320.3 343.9 1330.3 343.0 1338.3 345.2 1344.3 351.0 1345.0 359.0 1340.3 365.5 1330.3 369.2Z"/><path fill-rule="evenodd" fill="#ec5d62" d="M1268.3 105.0L1258.3 102.9 1252.5 97.0 1252.6 89.0 1258.2 83.0 1266.3 80.7 1274.3 81.7 1282.0 85.0 1289.0 91.0 1289.6 95.0 1286.1 99.0 1278.3 103.1 1268.3 105.0ZM1328.3 105.0L1318.3 103.3 1309.9 99.0 1306.4 95.0 1307.0 91.0 1314.0 85.0 1322.3 81.5 1330.3 80.8 1338.3 83.3 1343.4 89.0 1343.5 97.0 1337.4 103.0 1328.3 105.0ZM1174.3 195.9L1168.3 196.1 1164.3 191.6 1164.4 185.0 1168.3 180.8 1174.3 180.6 1178.4 185.0 1178.3 191.0 1174.3 195.9ZM1428.3 195.8L1422.3 196.2 1417.7 191.0 1417.7 185.0 1422.3 180.4 1428.1 181.0 1431.6 185.0 1431.9 191.0 1428.3 195.8ZM1176.3 267.2L1170.3 268.9 1164.9 265.0 1164.3 257.4 1168.3 252.8 1174.3 253.0 1177.9 257.0 1178.6 263.0 1176.3 267.2ZM1428.3 267.8L1422.3 268.6 1418.1 265.0 1418.1 257.0 1422.3 252.7 1428.0 253.0 1431.5 257.0 1432.0 263.0 1428.3 267.8ZM1274.3 367.3L1264.3 368.0 1256.3 364.7 1251.8 357.0 1252.2 353.0 1254.5 349.0 1261.1 345.0 1270.3 344.1 1280.3 346.7 1287.3 351.0 1289.8 355.0 1288.2 359.0 1282.3 363.8 1274.3 367.3ZM1334.3 367.4L1326.3 368.2 1315.8 365.0 1307.8 359.0 1306.2 355.0 1306.9 353.0 1314.3 347.4 1322.3 344.6 1330.3 344.1 1338.3 346.5 1343.0 351.0 1344.2 357.0 1341.5 363.0 1334.3 367.4Z"/><path fill-rule="evenodd" fill="#eb585d" d="M1274.3 103.1L1264.3 103.6 1256.3 100.0 1253.0 93.0 1255.2 87.0 1260.7 83.0 1268.3 81.8 1275.0 83.0 1282.4 87.0 1286.0 91.0 1286.4 95.0 1283.1 99.0 1274.3 103.1ZM1334.3 103.1L1326.3 103.8 1316.1 101.0 1310.8 97.0 1309.6 95.0 1310.0 91.0 1314.3 86.5 1322.3 82.6 1330.3 81.8 1336.3 83.5 1340.8 87.0 1343.0 93.0 1340.7 99.0 1334.3 103.1ZM1172.3 193.1L1168.3 192.0 1166.8 189.0 1167.9 185.0 1170.3 183.4 1174.3 184.4 1175.7 187.0 1174.9 191.0 1172.3 193.1ZM1426.3 193.0L1422.3 192.3 1420.3 189.0 1421.2 185.0 1424.3 183.2 1428.2 185.0 1429.1 187.0 1428.5 191.0 1426.3 193.0ZM1172.3 265.6L1168.3 264.4 1166.8 261.0 1168.2 257.0 1170.3 255.9 1174.1 257.0 1175.4 259.0 1175.4 263.0 1172.3 265.6ZM1426.3 265.4L1422.3 265.1 1420.3 261.8 1420.6 259.0 1424.3 255.8 1427.7 257.0 1429.0 259.0 1428.7 263.0 1426.3 265.4ZM1270.3 367.1L1260.3 365.8 1254.5 361.0 1253.1 357.0 1253.5 353.0 1258.3 347.5 1264.3 345.3 1272.3 345.5 1281.6 349.0 1285.9 353.0 1286.4 357.0 1283.6 361.0 1277.5 365.0 1270.3 367.1ZM1330.3 367.2L1322.3 366.4 1315.0 363.0 1309.6 357.0 1310.1 353.0 1314.4 349.0 1324.3 345.4 1332.3 345.5 1338.3 347.9 1342.5 353.0 1342.5 359.0 1338.3 364.3 1330.3 367.2Z"/><path fill-rule="evenodd" fill="#ea5459" d="M1276.3 101.1L1268.3 102.8 1259.8 101.0 1254.6 95.0 1255.4 89.0 1259.3 85.0 1264.3 83.1 1270.3 83.0 1276.6 85.0 1282.0 89.0 1283.9 93.0 1282.4 97.0 1276.3 101.1ZM1334.3 101.8L1326.3 102.7 1318.3 100.4 1313.6 97.0 1312.6 91.0 1316.3 86.9 1324.3 83.3 1330.3 82.9 1336.3 84.7 1340.3 88.5 1341.6 93.0 1339.0 99.0 1334.3 101.8ZM1272.3 365.6L1264.3 365.9 1257.9 363.0 1254.4 357.0 1256.3 350.8 1262.2 347.0 1268.3 346.2 1274.3 347.2 1281.4 351.0 1283.9 355.0 1282.8 359.0 1278.4 363.0 1272.3 365.6ZM1334.3 365.2L1326.3 366.0 1317.6 363.0 1313.2 359.0 1312.9 353.0 1317.4 349.0 1324.3 346.6 1330.3 346.3 1336.3 348.1 1340.3 351.7 1341.6 357.0 1340.0 361.0 1334.3 365.2Z"/><path fill-rule="evenodd" fill="#ea4f55" d="M1270.3 101.4L1262.3 100.7 1257.2 97.0 1256.1 91.0 1258.7 87.0 1262.3 84.9 1268.3 84.1 1274.3 85.4 1279.5 89.0 1281.4 93.0 1279.7 97.0 1270.3 101.4ZM1332.3 101.1L1324.3 101.1 1318.3 98.6 1315.0 95.0 1316.5 89.0 1326.3 84.2 1332.3 84.5 1337.3 87.0 1339.9 91.0 1339.8 95.0 1336.8 99.0 1332.3 101.1ZM1274.3 363.5L1266.3 365.0 1260.3 363.2 1256.5 359.0 1256.6 353.0 1260.3 349.3 1264.3 347.8 1270.3 347.7 1276.3 349.6 1280.5 353.0 1281.2 357.0 1278.5 361.0 1274.3 363.5ZM1328.3 365.0L1320.4 363.0 1315.7 359.0 1314.7 355.0 1317.4 351.0 1322.3 348.5 1328.3 347.5 1334.3 348.6 1338.3 351.4 1340.1 357.0 1338.3 361.0 1334.3 363.8 1328.3 365.0Z"/><path fill-rule="evenodd" fill="#e94a50" d="M1272.3 99.4L1266.3 100.1 1260.3 97.9 1257.6 93.0 1259.0 89.0 1266.3 85.4 1272.3 86.3 1276.3 88.5 1278.3 91.0 1278.3 95.0 1272.3 99.4ZM1332.3 99.6L1326.3 100.0 1320.3 97.8 1317.7 95.0 1317.7 91.0 1321.9 87.0 1326.3 85.6 1334.8 87.0 1338.1 91.0 1338.3 93.6 1336.7 97.0 1332.3 99.6ZM1270.3 363.3L1264.3 363.3 1259.9 361.0 1257.7 355.0 1260.3 351.1 1264.3 349.2 1269.7 349.0 1277.7 353.0 1278.7 355.0 1277.7 359.0 1270.3 363.3ZM1332.3 363.1L1326.3 363.4 1320.3 361.0 1317.3 357.0 1318.3 353.0 1326.3 349.0 1335.6 351.0 1338.4 357.0 1336.1 361.0 1332.3 363.1Z"/><path fill-rule="evenodd" fill="#e8464c" d="M1272.3 97.4L1266.3 98.4 1262.3 97.1 1260.3 95.0 1260.0 91.0 1262.3 88.4 1266.3 87.0 1272.3 88.2 1276.0 93.0 1272.3 97.4ZM1332.3 97.7L1328.3 98.4 1322.8 97.0 1320.7 95.0 1320.5 91.0 1326.3 87.2 1330.3 87.1 1334.3 88.8 1336.3 93.0 1332.3 97.7ZM1270.3 361.6L1264.3 361.5 1260.6 359.0 1259.9 355.0 1261.0 353.0 1268.3 350.6 1274.5 353.0 1275.9 357.0 1270.3 361.6ZM1332.3 361.3L1324.0 361.0 1321.2 359.0 1320.2 355.0 1325.2 351.0 1332.3 351.2 1335.0 353.0 1336.3 357.0 1332.3 361.3Z"/><path fill-rule="evenodd" fill="#e84148" d="M1270.3 95.5L1264.3 95.3 1262.7 93.0 1263.3 91.0 1266.3 89.4 1270.3 90.1 1272.4 93.0 1270.3 95.5ZM1330.3 95.9L1324.8 95.0 1323.6 93.0 1324.3 91.0 1328.3 89.3 1332.3 90.6 1333.3 93.0 1330.3 95.9ZM1270.3 359.1L1264.3 359.0 1263.0 355.0 1266.3 352.9 1270.3 353.5 1272.3 357.0 1270.3 359.1ZM1330.3 359.5L1325.6 359.0 1323.7 357.0 1323.9 355.0 1328.3 352.8 1332.3 354.2 1333.2 357.0 1330.3 359.5Z"/></g><path fill="none" stroke="#fff" stroke-width="0.9" stroke-opacity="0.8" d="M1502.3 427.2L1096.3 427.2 1096.1 25.0 1295.0 25.0 1289.7 27.0 1290.1 29.0 1298.3 30.8 1305.9 29.0 1306.3 27.0 1301.0 25.0 1502.3 24.8 1502.3 427.2M1304.8 423.0L1306.6 421.0 1302.3 418.7 1292.3 418.9 1289.4 421.0 1294.3 423.7 1304.8 423.0M1502.3 427.2L1318.1 427.0 1323.7 423.0 1323.6 419.0 1321.5 417.0 1310.3 413.2 1298.3 412.2 1284.3 413.5 1274.5 417.0 1272.4 419.0 1272.3 423.0 1277.9 427.0 1096.3 427.2 1096.1 25.0 1273.1 25.0 1271.9 29.0 1276.2 33.0 1286.3 35.9 1298.3 36.9 1310.3 35.8 1319.8 33.0 1324.1 29.0 1322.9 25.0 1502.3 24.8 1502.3 427.2M1502.3 427.2L1331.5 427.0 1335.9 421.0 1334.3 417.0 1331.9 415.0 1318.3 410.3 1298.3 408.3 1278.3 410.1 1264.3 414.9 1261.7 417.0 1260.1 421.0 1264.5 427.0 1096.3 427.2 1096.1 25.0 1261.3 25.0 1260.9 31.0 1268.3 36.1 1280.3 39.2 1298.3 40.7 1316.3 39.1 1328.3 35.8 1335.1 31.0 1334.7 25.0 1502.3 24.8 1502.3 427.2M1502.3 427.1L1342.7 427.0 1346.0 423.0 1346.7 419.0 1344.4 415.0 1340.3 412.2 1322.3 407.0 1298.3 405.0 1273.8 407.0 1256.3 411.9 1251.6 415.0 1249.3 419.0 1250.0 423.0 1253.3 427.0 1096.3 427.1 1096.2 25.0 1250.6 25.0 1249.3 29.0 1250.7 33.0 1258.3 38.0 1276.3 42.4 1298.3 44.0 1320.3 42.3 1338.3 37.7 1343.2 35.0 1346.3 31.2 1345.4 25.0 1502.3 24.9 1502.3 427.1M1502.3 427.1L1353.9 427.0 1357.9 421.0 1358.0 417.0 1355.8 413.0 1349.6 409.0 1328.3 404.1 1298.3 401.8 1268.3 404.0 1246.4 409.0 1240.2 413.0 1238.0 417.0 1238.1 421.0 1242.1 427.0 1096.3 427.1 1096.3 236.4 1100.3 238.5 1105.2 237.0 1108.3 233.0 1110.2 225.0 1109.4 219.0 1106.3 213.0 1102.3 210.6 1096.3 212.6 1096.2 25.0 1239.6 25.0 1237.8 31.0 1239.4 35.0 1248.3 40.7 1270.3 45.2 1298.3 47.2 1327.4 45.0 1348.3 40.5 1354.7 37.0 1357.7 33.0 1358.1 29.0 1356.4 25.0 1502.3 24.9 1502.3 216.6 1498.3 211.5 1492.3 211.0 1487.3 217.0 1485.8 225.0 1487.7 233.0 1492.3 238.0 1498.3 237.5 1502.3 232.4 1502.3 427.1M1170.8 113.0L1182.3 108.3 1190.3 99.9 1192.7 89.0 1191.5 85.0 1188.3 81.8 1180.3 80.3 1170.8 83.0 1161.9 89.0 1155.3 97.0 1152.5 105.0 1154.5 111.0 1160.3 113.5 1170.8 113.0M1437.8 113.0L1442.3 110.0 1443.5 105.0 1440.7 97.0 1434.3 89.2 1426.3 83.6 1418.3 80.7 1410.3 80.7 1406.0 83.0 1403.7 87.0 1403.3 93.0 1405.2 99.0 1409.6 105.0 1414.8 109.0 1422.3 112.3 1430.3 113.7 1437.8 113.0M1188.7 367.0L1192.3 362.0 1192.5 355.0 1190.3 349.0 1184.3 342.1 1176.3 337.6 1166.3 335.3 1158.3 336.0 1153.7 339.0 1152.5 343.0 1153.8 349.0 1163.1 361.0 1176.3 368.0 1182.3 368.8 1188.7 367.0M1422.8 367.0L1433.0 361.0 1441.2 351.0 1443.5 343.0 1442.4 339.0 1440.2 337.0 1432.3 335.2 1420.3 337.4 1412.3 341.7 1405.7 349.0 1403.2 359.0 1406.3 366.2 1412.3 368.7 1422.8 367.0M1502.3 427.1L1366.4 427.0 1370.7 421.0 1372.2 415.0 1370.5 409.0 1365.3 405.0 1350.3 402.2 1298.3 398.5 1246.3 402.1 1230.7 405.0 1225.5 409.0 1223.8 415.0 1225.3 421.0 1229.6 427.0 1096.3 427.1 1096.3 250.8 1104.3 251.0 1110.3 246.3 1115.4 237.0 1117.5 225.0 1115.7 213.0 1110.3 202.7 1104.3 198.0 1096.3 198.2 1096.2 25.0 1227.1 25.0 1224.2 31.0 1224.1 37.0 1226.3 41.0 1232.3 44.6 1247.3 47.0 1298.3 50.5 1348.7 47.0 1364.3 44.4 1369.7 41.0 1371.9 37.0 1371.8 31.0 1368.9 25.0 1502.3 24.9 1502.3 199.7 1494.3 197.3 1486.3 202.0 1480.3 212.9 1478.5 225.0 1480.6 237.0 1486.3 247.0 1494.3 251.7 1502.3 249.3 1502.3 427.1M1146.1 129.0L1178.3 120.3 1188.3 115.1 1195.4 109.0 1201.7 99.0 1205.0 87.0 1205.6 75.0 1202.3 67.7 1198.3 65.6 1192.3 65.2 1176.3 68.9 1160.3 77.4 1147.1 89.0 1132.5 109.0 1128.8 117.0 1127.8 123.0 1129.2 127.0 1132.3 129.2 1146.1 129.0M1464.2 129.0L1466.8 127.0 1468.2 123.0 1464.6 111.0 1454.0 95.0 1440.5 81.0 1426.3 71.8 1412.3 66.6 1400.3 65.2 1396.3 66.1 1392.5 69.0 1390.2 79.0 1392.3 93.0 1396.3 103.0 1404.3 112.5 1414.6 119.0 1430.3 124.5 1452.3 129.4 1464.2 129.0M1243.3 235.0L1249.1 231.0 1251.0 223.0 1248.3 217.0 1244.3 214.3 1240.3 213.8 1236.3 215.1 1232.9 219.0 1231.8 227.0 1236.3 233.8 1243.3 235.0M1357.0 235.0L1362.5 231.0 1364.4 223.0 1360.3 215.6 1354.3 213.7 1347.7 217.0 1344.9 225.0 1345.8 229.0 1348.7 233.0 1352.3 234.9 1357.0 235.0M1199.4 383.0L1202.7 381.0 1204.9 377.0 1205.2 363.0 1200.3 347.0 1192.3 337.0 1180.3 329.5 1162.3 323.6 1140.3 319.2 1134.3 319.3 1130.1 321.0 1127.8 327.0 1130.9 337.0 1141.2 353.0 1152.3 365.2 1164.3 374.2 1176.3 380.1 1190.3 383.6 1199.4 383.0M1409.6 383.0L1420.3 379.8 1432.3 373.9 1449.8 359.0 1459.1 347.0 1466.0 335.0 1468.2 327.0 1465.9 321.0 1460.3 319.1 1454.3 319.3 1426.3 325.7 1410.3 332.3 1400.3 340.4 1395.7 347.0 1392.5 355.0 1390.6 365.0 1390.6 375.0 1392.3 379.7 1396.3 382.9 1409.6 383.0M1502.3 427.1L1382.1 427.0 1399.8 405.0 1434.3 385.1 1450.1 373.0 1483.2 337.0 1492.8 323.0 1497.7 309.0 1497.8 303.0 1495.8 297.0 1492.3 293.8 1488.3 293.0 1476.3 296.3 1446.3 309.9 1414.3 321.4 1402.3 327.7 1393.7 335.0 1388.3 342.7 1377.6 375.0 1370.3 387.2 1365.6 391.0 1358.3 394.2 1336.3 396.7 1298.3 395.0 1254.3 396.6 1234.3 393.0 1227.6 389.0 1222.3 382.8 1216.9 371.0 1207.8 343.0 1202.3 335.0 1196.3 329.6 1182.3 321.7 1150.3 310.1 1118.3 295.8 1110.3 293.2 1104.3 293.5 1100.3 296.8 1098.5 301.0 1098.6 311.0 1103.2 323.0 1114.4 339.0 1135.7 363.0 1150.3 376.8 1164.3 386.7 1196.3 405.1 1213.9 427.0 1096.3 427.1 1096.3 268.9 1100.3 269.3 1104.3 267.7 1114.3 255.9 1120.8 241.0 1123.4 225.0 1121.1 209.0 1114.3 193.1 1104.3 181.3 1100.3 179.7 1096.3 180.0 1096.2 25.0 1211.2 25.0 1201.1 39.0 1194.9 45.0 1162.3 63.5 1146.3 75.6 1113.6 111.0 1103.7 125.0 1098.8 137.0 1098.8 149.0 1101.0 153.0 1104.3 155.5 1110.3 155.8 1118.3 153.2 1150.3 138.9 1182.3 127.3 1196.9 119.0 1203.2 113.0 1208.3 105.1 1217.2 77.0 1221.8 67.0 1226.5 61.0 1234.3 56.0 1254.3 52.4 1298.3 54.0 1336.3 52.3 1358.3 54.8 1364.3 57.2 1370.3 61.8 1377.2 73.0 1388.7 107.0 1394.3 114.7 1401.9 121.0 1416.3 128.4 1444.3 138.3 1478.3 153.5 1488.3 156.0 1492.7 155.0 1496.3 151.1 1497.9 141.0 1493.4 127.0 1484.0 113.0 1449.0 75.0 1434.3 63.9 1401.1 45.0 1394.9 39.0 1384.8 25.0 1502.3 24.9 1502.3 181.3 1498.3 179.7 1494.3 180.0 1490.3 182.3 1484.3 189.1 1475.5 207.0 1472.6 225.0 1475.8 243.0 1484.3 259.9 1490.3 266.6 1494.3 268.9 1498.3 269.3 1502.3 267.7 1502.3 427.1M1323.2 265.0L1346.3 260.8 1356.3 257.2 1364.3 251.4 1371.7 241.0 1375.2 229.0 1374.3 215.0 1368.3 202.3 1358.3 192.9 1344.3 187.7 1316.3 183.0 1280.3 183.0 1254.3 187.1 1242.3 190.6 1234.3 195.3 1226.3 204.4 1220.9 219.0 1221.5 233.0 1228.3 247.5 1238.3 256.5 1250.3 261.0 1280.3 265.9 1304.3 266.7 1323.2 265.0M1096.3 106.2L1096.3 25.0 1184.0 25.0 1150.3 53.5 1118.3 87.3 1096.3 106.2M1502.3 108.3L1478.3 87.9 1446.3 54.0 1412.0 25.0 1502.3 25.0 1502.3 108.3M1344.3 391.3L1330.3 392.6 1298.3 391.1 1262.3 392.5 1250.3 391.0 1240.3 387.4 1231.9 381.0 1225.0 371.0 1221.1 361.0 1215.3 337.0 1208.3 327.2 1190.3 316.0 1160.3 305.9 1144.3 298.2 1129.6 287.0 1121.9 275.0 1121.6 263.0 1128.0 237.0 1129.3 225.0 1127.8 211.0 1121.2 183.0 1121.7 175.0 1124.1 169.0 1132.8 159.0 1146.3 149.6 1160.3 143.1 1190.3 133.0 1208.3 121.8 1215.6 111.0 1221.4 87.0 1226.7 75.0 1236.3 64.1 1248.3 58.5 1264.3 56.4 1298.3 57.9 1332.3 56.5 1344.3 57.7 1354.5 61.0 1363.1 67.0 1370.5 77.0 1375.2 89.0 1380.4 111.0 1386.8 121.0 1404.3 132.3 1436.3 143.3 1452.1 151.0 1467.4 163.0 1473.7 173.0 1474.6 185.0 1468.2 211.0 1466.7 223.0 1468.0 237.0 1474.9 267.0 1474.1 275.0 1471.3 281.0 1462.0 291.0 1448.3 300.2 1434.3 306.4 1406.3 315.8 1388.3 326.6 1380.7 337.0 1374.3 363.0 1367.4 377.0 1358.3 385.9 1344.3 391.3M1326.0 285.0L1344.3 280.4 1360.4 273.0 1370.0 265.0 1376.3 253.9 1382.0 235.0 1382.7 219.0 1376.3 195.1 1368.3 182.1 1358.3 174.8 1340.3 167.3 1324.3 163.7 1304.3 162.6 1278.3 163.1 1262.3 165.5 1242.3 172.5 1228.9 181.0 1222.6 189.0 1218.3 198.7 1214.3 212.6 1213.1 223.0 1214.0 235.0 1217.2 247.0 1222.3 259.4 1227.8 267.0 1243.3 277.0 1266.3 284.4 1290.3 286.4 1326.0 285.0M1502.3 427.0L1408.8 427.0 1446.3 395.0 1478.3 361.1 1502.3 340.7 1502.3 427.0M1186.3 427.0L1096.3 427.0 1096.3 342.8 1118.3 361.7 1148.3 393.7 1176.3 416.8 1187.2 427.0 1186.3 427.0M1098.3 81.2L1096.3 81.9 1096.3 25.0 1120.8 25.0 1123.9 33.0 1125.0 41.0 1121.9 57.0 1112.3 71.7 1106.3 77.0 1098.3 81.2M1502.3 82.4L1494.3 79.8 1487.2 75.0 1480.3 67.7 1475.0 59.0 1471.7 49.0 1471.0 41.0 1472.1 33.0 1475.2 25.0 1502.3 25.0 1502.3 82.4M1340.3 387.4L1326.3 388.6 1296.3 386.8 1264.3 388.5 1254.1 387.0 1244.3 383.2 1234.6 375.0 1227.9 363.0 1225.3 349.0 1226.2 327.0 1223.2 321.0 1200.3 309.0 1168.3 301.6 1152.3 295.2 1138.3 284.1 1130.9 271.0 1130.1 259.0 1135.0 233.0 1135.7 223.0 1129.9 185.0 1131.2 177.0 1133.9 171.0 1142.3 160.9 1156.3 151.8 1168.3 147.4 1198.3 140.7 1222.3 128.8 1225.4 125.0 1226.3 121.2 1225.3 99.0 1229.1 83.0 1238.3 70.1 1244.3 65.8 1252.3 62.5 1266.3 60.4 1298.3 62.2 1330.3 60.5 1342.3 62.1 1352.3 66.2 1362.2 75.0 1368.5 87.0 1370.7 101.0 1369.7 121.0 1372.3 127.4 1380.5 133.0 1396.3 140.2 1428.3 147.6 1444.3 154.2 1457.8 165.0 1462.1 171.0 1465.3 179.0 1465.8 191.0 1460.3 225.0 1466.0 265.0 1464.4 273.0 1461.5 279.0 1452.7 289.0 1440.3 296.9 1426.3 302.0 1396.3 308.8 1372.8 321.0 1369.8 327.0 1370.6 351.0 1366.5 367.0 1362.3 373.9 1356.3 380.1 1348.3 384.9 1340.3 387.4M1328.6 311.0L1340.7 307.0 1350.0 293.0 1372.3 276.9 1380.3 265.0 1387.4 241.0 1389.6 225.0 1387.7 209.0 1380.3 183.9 1373.2 173.0 1351.0 157.0 1341.7 143.0 1336.3 139.7 1320.3 137.3 1284.3 137.1 1268.3 137.9 1258.3 140.3 1254.3 143.0 1245.0 157.0 1222.3 173.5 1214.3 187.6 1207.9 211.0 1206.4 225.0 1208.6 241.0 1215.7 265.0 1222.3 275.6 1243.9 291.0 1253.4 305.0 1258.8 309.0 1280.3 311.8 1328.6 311.0M1502.3 427.0L1477.0 427.0 1472.4 417.0 1471.0 407.0 1473.7 393.0 1480.5 381.0 1490.3 371.6 1502.3 366.6 1502.3 427.0M1118.3 427.0L1096.3 427.0 1096.3 367.1 1104.3 370.7 1112.0 377.0 1118.2 385.0 1122.3 393.0 1124.8 403.0 1124.8 411.0 1122.2 421.0 1118.3 427.0M1338.3 125.3L1266.3 125.9 1248.3 123.0 1240.3 118.2 1233.7 109.0 1231.3 99.0 1232.9 87.0 1237.0 79.0 1242.4 73.0 1250.3 68.0 1260.3 65.1 1272.3 64.5 1298.3 66.9 1328.3 64.4 1343.2 67.0 1352.3 72.0 1359.0 79.0 1363.7 89.0 1364.7 99.0 1362.3 109.0 1356.3 117.7 1348.3 122.7 1338.3 125.3M1196.3 295.2L1176.3 296.5 1158.3 291.7 1150.6 287.0 1144.3 281.0 1140.3 275.0 1137.5 267.0 1137.2 255.0 1142.9 225.0 1137.0 193.0 1138.2 179.0 1142.3 170.7 1150.3 162.3 1160.3 156.4 1170.3 153.3 1184.3 152.3 1198.3 154.3 1204.9 157.0 1208.9 163.0 1207.7 183.0 1200.3 215.0 1199.2 225.0 1207.6 265.0 1209.1 285.0 1206.2 291.0 1196.3 295.2M1428.3 295.1L1414.3 296.7 1399.0 295.0 1389.8 291.0 1386.9 285.0 1388.4 265.0 1396.8 225.0 1395.7 215.0 1388.6 185.0 1386.8 165.0 1387.7 161.0 1390.3 157.6 1400.3 153.7 1420.3 152.6 1438.3 157.6 1446.3 162.7 1452.5 169.0 1456.2 175.0 1458.7 183.0 1458.7 195.0 1453.1 225.0 1458.8 255.0 1458.1 269.0 1454.6 277.0 1447.8 285.0 1438.3 291.4 1428.3 295.1M1338.3 383.4L1324.3 384.5 1296.3 382.2 1268.3 384.6 1252.3 381.8 1241.3 375.0 1234.1 365.0 1231.3 353.0 1233.3 341.0 1236.5 335.0 1242.3 329.2 1248.3 326.0 1258.3 323.6 1330.3 323.1 1348.3 326.3 1356.3 331.4 1361.8 339.0 1364.3 347.0 1364.3 357.0 1361.9 365.0 1356.3 373.4 1348.3 379.7 1338.3 383.4M1334.3 119.0L1298.3 117.6 1268.3 119.5 1254.3 117.5 1244.3 112.1 1238.8 105.0 1236.6 97.0 1238.0 87.0 1241.1 81.0 1247.0 75.0 1254.3 70.9 1262.3 68.8 1274.3 68.7 1296.3 71.8 1326.3 68.4 1340.3 70.4 1348.3 74.5 1354.9 81.0 1358.7 89.0 1359.4 97.0 1357.2 105.0 1352.3 111.6 1344.3 116.5 1334.3 119.0M1182.3 289.4L1168.3 289.3 1154.7 283.0 1146.2 273.0 1143.1 261.0 1144.1 251.0 1151.4 225.0 1143.5 195.0 1144.2 181.0 1148.3 172.6 1156.1 165.0 1164.3 160.9 1174.3 159.0 1184.3 160.1 1193.7 165.0 1198.3 171.5 1200.4 181.0 1199.1 195.0 1191.8 217.0 1190.7 225.0 1199.3 255.0 1200.1 271.0 1198.3 277.5 1194.7 283.0 1189.3 287.0 1182.3 289.4M1428.3 289.1L1416.3 289.8 1404.3 285.6 1398.4 279.0 1395.7 269.0 1396.7 255.0 1405.3 225.0 1404.2 217.0 1396.5 193.0 1396.1 177.0 1398.3 170.3 1402.3 165.0 1408.9 161.0 1418.3 159.0 1430.3 160.4 1442.3 166.8 1449.3 175.0 1452.9 187.0 1452.1 197.0 1445.7 217.0 1444.6 225.0 1452.3 253.0 1452.1 267.0 1448.7 275.0 1443.7 281.0 1436.3 286.2 1428.3 289.1M1338.3 379.2L1324.3 380.5 1298.3 377.1 1270.3 380.6 1256.3 378.8 1246.3 373.5 1240.3 366.7 1236.7 357.0 1237.6 347.0 1240.6 341.0 1246.3 335.4 1260.3 330.2 1272.3 329.6 1298.3 331.4 1328.3 329.5 1342.3 331.7 1350.3 335.8 1355.4 341.0 1358.4 347.0 1359.5 355.0 1357.6 363.0 1352.4 371.0 1346.3 375.8 1338.3 379.2M1336.3 113.4L1324.3 114.2 1298.3 111.2 1272.3 114.2 1258.3 113.1 1250.3 109.6 1244.3 103.7 1241.7 97.0 1242.2 89.0 1248.8 79.0 1254.3 75.4 1262.3 72.9 1274.3 72.8 1298.3 77.3 1322.3 72.7 1336.3 73.4 1344.3 76.8 1349.2 81.0 1353.1 87.0 1354.5 95.0 1353.1 101.0 1349.0 107.0 1343.2 111.0 1336.3 113.4M1178.3 283.4L1168.3 283.3 1158.3 278.6 1151.8 271.0 1149.2 261.0 1152.0 247.0 1164.4 225.0 1163.6 221.0 1150.9 199.0 1149.2 191.0 1149.9 183.0 1152.4 177.0 1158.3 170.4 1164.3 166.9 1172.3 165.2 1180.3 166.2 1188.3 171.0 1192.1 177.0 1193.8 185.0 1193.1 193.0 1190.6 201.0 1179.5 219.0 1177.6 225.0 1191.0 249.0 1193.6 259.0 1193.5 267.0 1191.7 273.0 1188.3 277.9 1178.3 283.4M1428.3 283.2L1418.3 283.5 1410.3 280.2 1404.3 273.0 1402.3 265.0 1402.7 257.0 1405.0 249.0 1418.4 225.0 1417.6 221.0 1404.6 199.0 1402.3 189.0 1402.7 181.0 1404.8 175.0 1408.3 170.5 1414.3 166.6 1420.3 165.2 1430.3 166.4 1438.3 170.8 1444.3 178.3 1446.8 187.0 1444.4 201.0 1433.5 219.0 1431.5 225.0 1444.8 249.0 1446.7 257.0 1446.3 265.0 1444.2 271.0 1440.3 276.3 1434.3 280.9 1428.3 283.2M1336.3 375.6L1324.3 376.5 1298.3 371.7 1272.3 376.4 1260.3 375.7 1252.3 372.5 1245.9 367.0 1242.0 359.0 1241.9 351.0 1244.3 345.3 1248.3 340.9 1254.3 337.3 1262.3 335.1 1272.3 334.8 1298.3 337.8 1324.3 334.8 1338.3 336.1 1344.3 338.5 1349.9 343.0 1353.5 349.0 1354.5 355.0 1353.4 361.0 1350.1 367.0 1344.3 372.1 1336.3 375.6M1332.3 109.2L1321.4 109.0 1298.3 104.0 1274.3 109.1 1262.3 109.0 1256.0 107.0 1250.3 102.8 1247.1 97.0 1246.8 91.0 1252.3 81.9 1258.3 78.3 1264.3 76.8 1274.3 77.2 1298.3 83.9 1322.3 77.1 1334.3 77.2 1340.3 79.5 1346.3 84.6 1348.6 89.0 1349.3 95.0 1348.2 99.0 1344.3 104.2 1338.3 107.7 1332.3 109.2M1174.3 207.1L1168.3 207.3 1162.3 203.8 1158.3 198.5 1155.9 191.0 1156.1 185.0 1158.7 179.0 1164.3 173.9 1170.3 171.9 1176.3 172.3 1181.5 175.0 1184.9 179.0 1186.8 185.0 1186.6 191.0 1184.3 197.8 1180.3 203.3 1174.3 207.1M1428.3 207.1L1422.3 207.3 1418.3 205.4 1412.4 199.0 1409.8 193.0 1409.2 185.0 1411.1 179.0 1414.5 175.0 1420.3 172.2 1426.3 172.0 1432.3 174.3 1437.3 179.0 1439.9 185.0 1440.1 191.0 1438.3 197.4 1434.3 203.2 1428.3 207.1M1174.3 277.1L1168.3 276.7 1162.3 273.7 1158.1 269.0 1156.0 263.0 1156.3 255.6 1159.2 249.0 1164.3 243.6 1170.3 241.4 1176.3 242.7 1180.3 245.7 1184.3 251.2 1186.8 259.0 1186.7 265.0 1184.3 271.0 1180.3 274.9 1174.3 277.1M1424.3 277.2L1418.3 276.2 1413.4 273.0 1409.8 267.0 1409.1 261.0 1410.3 254.4 1414.3 247.2 1418.3 243.6 1424.3 241.4 1430.3 242.8 1435.3 247.0 1438.9 253.0 1440.3 261.0 1438.9 267.0 1434.6 273.0 1430.3 275.8 1424.3 277.2M1336.3 371.2L1322.3 371.9 1298.3 365.1 1274.3 371.8 1262.3 371.9 1254.8 369.0 1250.2 365.0 1247.1 359.0 1246.8 353.0 1248.3 349.0 1252.3 344.3 1264.3 339.7 1274.3 340.0 1298.3 344.9 1322.3 339.9 1334.3 340.1 1344.5 345.0 1347.7 349.0 1349.4 355.0 1348.3 361.0 1345.8 365.0 1336.3 371.2M1276.3 103.0L1266.3 104.3 1256.7 101.0 1252.7 95.0 1252.7 91.0 1254.6 87.0 1260.3 82.7 1268.3 81.3 1276.3 83.0 1283.4 87.0 1287.1 91.0 1287.6 95.0 1284.3 99.0 1276.3 103.0M1334.3 103.5L1324.3 104.1 1314.9 101.0 1309.6 97.0 1308.4 95.0 1308.9 91.0 1315.5 85.0 1322.3 82.2 1330.3 81.4 1336.4 83.0 1341.4 87.0 1343.5 93.0 1341.4 99.0 1334.3 103.5M1174.3 193.8L1170.3 194.8 1166.3 191.9 1165.5 187.0 1168.3 182.7 1172.3 181.9 1176.5 185.0 1177.1 189.0 1174.3 193.8M1428.3 193.5L1424.3 194.8 1419.5 191.0 1419.5 185.0 1422.3 182.3 1426.3 182.1 1429.8 185.0 1430.6 189.0 1428.3 193.5M1172.3 267.2L1166.9 265.0 1165.4 261.0 1166.3 257.0 1170.3 254.2 1174.3 255.2 1176.9 259.0 1176.3 264.4 1172.3 267.2M1424.3 267.2L1420.3 265.3 1418.8 261.0 1420.3 256.6 1424.3 254.2 1428.3 255.4 1430.6 261.0 1428.3 265.8 1424.3 267.2M1272.3 367.2L1262.3 367.0 1255.4 363.0 1253.0 359.0 1252.5 355.0 1256.3 348.3 1262.3 345.3 1270.3 344.7 1279.0 347.0 1285.4 351.0 1287.8 355.0 1286.5 359.0 1280.3 364.1 1272.3 367.2M1332.3 367.3L1322.9 367.0 1313.9 363.0 1308.4 357.0 1308.9 353.0 1314.3 348.4 1323.8 345.0 1332.3 345.0 1338.3 347.3 1343.0 353.0 1343.0 359.0 1338.3 364.9 1332.3 367.3M1272.3 95.0L1268.3 96.7 1264.3 96.0 1262.3 94.0 1262.4 91.0 1266.3 88.8 1270.3 89.3 1272.6 91.0 1272.3 95.0M1332.3 95.6L1328.3 96.7 1324.3 95.4 1322.8 93.0 1323.4 91.0 1326.3 89.0 1330.7 89.0 1334.1 93.0 1332.3 95.6M1270.3 359.6L1264.3 359.6 1262.0 357.0 1262.2 355.0 1266.3 352.4 1270.8 353.0 1273.1 357.0 1270.3 359.6M1332.3 359.3L1328.3 360.2 1324.4 359.0 1323.0 355.0 1326.3 352.6 1331.8 353.0 1334.0 357.0 1332.3 359.3"/></g>
<g clip-path="url(#hcf)"><g filter="url(#hbf)"><rect x="1095.5" y="439" width="404.5" height="401.5" fill="#2749a1"/><path fill-rule="evenodd" fill="#2749a1" d="M1501.5 841.2L1095.5 841.2 1095.3 439.0 1501.5 438.8 1501.5 841.2ZM1301.6 613.0L1308.1 611.0 1312.4 607.0 1312.9 603.0 1309.5 597.8 1304.5 595.0 1297.5 593.9 1290.9 595.0 1284.6 599.0 1282.4 605.0 1285.5 609.9 1293.5 613.0 1301.6 613.0ZM1269.9 655.0L1274.5 647.0 1275.3 635.0 1271.8 625.0 1269.5 622.7 1265.5 621.5 1261.5 622.9 1257.5 627.4 1255.0 635.0 1255.0 643.0 1257.5 650.6 1261.5 655.1 1265.5 656.5 1269.9 655.0ZM1334.0 655.0L1339.5 647.0 1340.4 635.0 1336.2 625.0 1329.5 621.5 1325.5 623.0 1321.5 629.0 1320.1 643.0 1322.4 651.0 1325.5 655.0 1329.5 656.5 1334.0 655.0ZM1304.5 683.0L1310.8 679.0 1312.9 675.0 1312.4 671.0 1308.1 667.0 1301.5 665.0 1293.5 665.0 1287.3 667.0 1283.0 671.0 1283.2 677.0 1287.5 681.4 1295.5 684.0 1304.5 683.0Z"/><path fill-rule="evenodd" fill="#2a4ca2" d="M1501.5 841.2L1095.5 841.2 1095.3 439.0 1501.5 438.8 1501.5 841.2ZM1304.3 613.0L1311.5 609.4 1313.7 605.0 1312.8 601.0 1307.5 596.0 1301.5 593.9 1293.5 594.0 1286.2 597.0 1282.6 601.0 1282.2 607.0 1286.0 611.0 1295.5 613.7 1304.3 613.0ZM1267.5 657.0L1270.9 655.0 1273.7 651.0 1276.1 637.0 1272.6 625.0 1269.5 621.8 1265.5 620.8 1261.5 622.2 1257.3 627.0 1255.0 633.0 1254.4 641.0 1256.3 649.0 1259.5 654.1 1263.5 656.8 1267.5 657.0ZM1330.8 657.0L1335.5 654.5 1338.1 651.0 1341.0 639.0 1339.8 631.0 1337.5 626.0 1333.5 622.0 1329.5 620.8 1325.5 622.1 1321.7 627.0 1319.4 641.0 1320.9 649.0 1323.5 654.0 1327.5 656.9 1330.8 657.0ZM1305.5 683.0L1311.4 679.0 1313.5 675.0 1313.2 671.0 1309.4 667.0 1301.5 664.4 1293.5 664.5 1286.0 667.0 1282.2 671.0 1282.6 677.0 1289.5 682.8 1297.5 684.5 1305.5 683.0Z"/><path fill-rule="evenodd" fill="#2d4ea4" d="M1501.5 841.2L1095.5 841.2 1095.3 439.0 1501.5 438.8 1501.5 841.2ZM1306.3 613.0L1312.9 609.0 1314.3 605.0 1312.0 599.0 1306.4 595.0 1299.5 593.3 1291.5 594.1 1285.5 597.0 1282.0 601.0 1281.4 607.0 1285.5 611.5 1295.5 614.3 1306.3 613.0ZM1269.6 657.0L1275.1 649.0 1276.4 635.0 1271.9 623.0 1265.5 620.1 1261.5 621.6 1256.9 627.0 1254.3 635.0 1254.3 643.0 1255.9 649.0 1259.5 654.7 1265.5 657.9 1269.6 657.0ZM1332.7 657.0L1337.3 653.0 1339.5 649.0 1341.1 635.0 1339.5 629.0 1335.6 623.0 1331.5 620.5 1327.5 620.3 1323.5 622.9 1320.3 629.0 1319.0 643.0 1323.5 655.1 1327.5 657.7 1332.7 657.0ZM1306.4 683.0L1312.0 679.0 1314.1 675.0 1313.5 670.1 1309.5 666.3 1301.5 663.9 1293.5 663.9 1285.5 666.5 1281.5 670.9 1282.0 677.0 1289.0 683.0 1297.5 684.8 1306.4 683.0Z"/><path fill-rule="evenodd" fill="#2f50a6" d="M1501.5 841.2L1095.5 841.2 1095.3 439.0 1501.5 438.8 1501.5 841.2ZM1308.2 613.0L1313.5 609.4 1315.0 605.0 1312.6 599.0 1307.2 595.0 1299.8 593.0 1293.5 593.3 1285.5 596.6 1281.5 601.0 1280.6 607.0 1285.5 612.2 1297.5 614.9 1308.2 613.0ZM1271.0 657.0L1274.1 653.0 1276.3 647.0 1276.7 633.0 1272.9 623.0 1269.5 620.0 1265.5 619.5 1259.5 622.6 1256.4 627.0 1254.0 635.0 1254.0 643.0 1255.5 649.0 1259.5 655.4 1265.5 658.5 1271.0 657.0ZM1333.9 657.0L1339.9 649.0 1341.4 635.0 1339.5 628.1 1336.2 623.0 1331.5 619.8 1327.5 619.5 1323.5 621.8 1320.4 627.0 1318.5 635.0 1318.7 645.0 1321.3 653.0 1324.4 657.0 1329.5 658.6 1333.9 657.0ZM1299.8 685.0L1307.2 683.0 1312.6 679.0 1315.0 673.0 1313.5 668.6 1307.5 664.7 1299.5 663.2 1291.5 663.7 1283.5 667.0 1280.4 673.0 1282.8 679.0 1289.5 683.6 1299.8 685.0Z"/><path fill-rule="evenodd" fill="#3252a8" d="M1501.5 841.2L1095.5 841.2 1095.3 439.0 1501.5 438.8 1501.5 841.2ZM1303.0 615.0L1309.9 613.0 1314.8 609.0 1315.4 603.0 1311.1 597.0 1303.5 593.3 1295.5 592.7 1287.5 594.9 1282.2 599.0 1279.7 605.0 1282.3 611.0 1291.5 614.9 1303.0 615.0ZM1268.9 659.0L1272.2 657.0 1275.7 651.0 1277.5 635.0 1273.5 622.5 1269.5 619.1 1265.5 618.8 1259.5 622.0 1256.0 627.0 1253.5 641.0 1255.1 649.0 1258.6 655.0 1263.5 658.7 1268.9 659.0ZM1330.7 659.0L1335.5 656.4 1339.4 651.0 1341.9 637.0 1340.2 629.0 1337.5 623.8 1333.5 620.1 1327.5 618.7 1323.2 621.0 1319.7 627.0 1317.9 643.0 1319.7 651.0 1323.2 657.0 1327.5 659.3 1330.7 659.0ZM1302.0 685.0L1309.5 682.1 1314.5 677.0 1315.6 671.0 1313.1 667.0 1307.5 664.0 1297.5 662.5 1287.5 664.2 1281.5 667.8 1279.8 671.0 1280.0 675.0 1284.3 681.0 1293.3 685.0 1302.0 685.0Z"/><path fill-rule="evenodd" fill="#3555a9" d="M1501.5 841.2L1095.5 841.2 1095.3 439.0 1501.5 438.8 1501.5 841.2ZM1306.1 615.0L1313.5 611.8 1316.4 607.0 1315.1 601.0 1308.7 595.0 1301.5 592.6 1293.5 592.7 1285.5 595.7 1280.3 601.0 1279.5 608.7 1283.8 613.0 1295.5 616.0 1306.1 615.0ZM1271.2 659.0L1274.7 655.0 1277.0 649.0 1277.8 633.0 1273.5 621.1 1269.5 618.2 1265.5 618.1 1259.5 621.3 1255.6 627.0 1253.3 635.0 1253.3 643.0 1255.5 650.8 1259.5 656.7 1265.5 659.9 1271.2 659.0ZM1332.5 659.0L1337.5 654.9 1340.6 649.0 1342.1 635.0 1337.5 623.1 1333.5 619.5 1327.5 617.9 1323.5 619.5 1319.8 625.0 1317.6 633.0 1317.3 643.0 1319.0 651.0 1322.0 657.0 1327.5 660.1 1332.5 659.0ZM1303.6 685.0L1311.5 681.2 1315.1 677.0 1316.4 671.0 1313.5 666.2 1307.5 663.4 1297.5 661.9 1287.5 663.5 1281.0 667.0 1279.0 673.0 1280.3 677.0 1283.7 681.0 1293.5 685.3 1303.6 685.0Z"/><path fill-rule="evenodd" fill="#3757ab" d="M1501.5 841.1L1095.5 841.1 1095.4 439.0 1501.5 438.9 1501.5 841.1ZM1308.7 615.0L1315.8 611.0 1317.1 605.0 1314.3 599.0 1307.5 594.0 1299.5 592.1 1290.7 593.0 1283.1 597.0 1278.8 603.0 1278.6 609.0 1283.5 613.8 1295.5 616.6 1308.7 615.0ZM1272.9 659.0L1278.1 647.0 1278.1 631.0 1273.5 619.5 1269.5 617.3 1265.5 617.4 1259.5 620.7 1255.2 627.0 1253.0 635.0 1253.3 645.0 1256.2 653.0 1261.5 658.9 1267.5 660.9 1272.9 659.0ZM1333.7 659.0L1337.5 655.5 1341.0 649.0 1342.6 641.0 1342.1 633.0 1339.5 625.6 1335.5 620.3 1331.5 617.9 1325.5 617.3 1321.5 620.0 1318.3 627.0 1316.5 637.0 1317.3 647.0 1319.8 655.0 1323.5 659.8 1327.5 660.9 1333.7 659.0ZM1304.7 685.0L1312.3 681.0 1316.6 675.0 1316.8 669.0 1313.5 665.0 1305.5 662.1 1295.5 661.4 1285.5 663.4 1279.6 667.0 1278.2 671.0 1278.8 675.0 1283.5 681.3 1293.5 685.6 1304.7 685.0Z"/><path fill-rule="evenodd" fill="#3a5aac" d="M1501.5 841.1L1095.5 841.1 1095.4 439.0 1501.5 438.9 1501.5 841.1ZM1302.4 617.0L1313.5 614.2 1317.2 611.0 1317.3 603.0 1312.9 597.0 1305.5 592.9 1295.5 591.8 1287.5 593.9 1280.5 599.0 1277.3 607.0 1279.9 613.0 1289.5 616.5 1302.4 617.0ZM1272.2 661.0L1275.5 657.6 1277.9 651.0 1279.3 635.0 1277.9 627.0 1274.6 619.0 1271.5 616.7 1267.5 616.3 1261.5 618.5 1255.8 625.0 1253.0 633.0 1252.7 643.0 1254.8 651.0 1259.5 657.9 1265.5 661.4 1272.2 661.0ZM1330.8 661.0L1336.8 657.0 1340.6 651.0 1342.7 643.0 1342.7 635.0 1340.6 627.0 1337.5 621.8 1331.5 617.2 1325.5 616.3 1321.5 618.2 1318.1 625.0 1316.0 635.0 1316.3 645.0 1318.8 655.0 1321.5 659.8 1325.5 661.7 1330.8 661.0ZM1305.8 685.0L1312.9 681.0 1316.3 677.0 1318.1 671.0 1315.5 665.0 1307.5 661.8 1295.5 660.8 1283.5 663.2 1278.2 667.0 1278.1 675.0 1285.3 683.0 1295.5 686.2 1305.8 685.0Z"/><path fill-rule="evenodd" fill="#3d5cae" d="M1501.5 841.1L1095.5 841.1 1095.4 439.0 1501.5 438.9 1501.5 841.1ZM1307.2 617.0L1317.5 613.6 1319.0 609.0 1316.9 601.0 1309.5 594.3 1301.5 591.7 1291.5 592.1 1284.6 595.0 1278.5 601.0 1276.4 609.0 1277.4 613.0 1279.5 614.6 1293.5 617.8 1307.2 617.0ZM1275.2 661.0L1279.8 645.0 1279.5 631.0 1275.5 617.3 1273.5 615.7 1267.5 615.4 1261.5 617.8 1255.4 625.0 1252.4 635.0 1252.7 645.0 1255.5 653.3 1261.5 660.2 1269.5 662.8 1275.2 661.0ZM1332.4 661.0L1337.5 656.9 1341.5 649.6 1343.2 641.0 1342.7 633.0 1340.0 625.0 1335.5 619.1 1329.5 615.8 1323.5 615.4 1319.5 618.0 1316.2 629.0 1315.2 639.0 1316.2 649.0 1319.1 659.0 1321.5 662.1 1327.5 662.6 1332.4 661.0ZM1306.7 685.0L1313.5 681.0 1316.9 677.0 1318.9 671.0 1317.5 664.4 1309.5 661.5 1297.5 660.0 1283.5 662.0 1277.4 665.0 1276.4 669.0 1277.5 675.0 1284.6 683.0 1295.5 686.5 1306.7 685.0Z"/><path fill-rule="evenodd" fill="#3f5eb0" d="M1501.5 841.1L1095.5 841.1 1095.4 439.0 1501.5 438.9 1501.5 841.1ZM1307.6 685.0L1314.1 681.0 1317.5 677.0 1321.5 665.1 1333.5 661.1 1339.3 655.0 1343.0 645.0 1343.0 633.0 1340.4 625.0 1335.5 618.4 1331.5 615.8 1321.5 612.9 1318.6 603.0 1314.1 597.0 1305.5 592.3 1293.5 591.4 1285.5 594.1 1279.4 599.0 1273.8 613.0 1263.5 616.0 1257.5 620.9 1252.8 631.0 1252.4 645.0 1255.0 653.0 1259.5 659.2 1265.5 662.8 1273.8 665.0 1277.9 677.0 1283.5 682.7 1295.5 686.8 1307.6 685.0ZM1313.5 661.0L1297.5 659.3 1279.5 660.8 1278.5 657.0 1281.0 639.0 1278.5 621.0 1279.5 617.2 1297.5 618.7 1315.5 617.0 1316.9 621.0 1314.5 641.0 1317.0 659.0 1315.5 661.0 1313.5 661.0Z"/><path fill-rule="evenodd" fill="#4261b2" d="M1501.5 841.1L1095.5 841.1 1095.4 439.0 1501.5 438.9 1501.5 841.1ZM1300.8 687.0L1307.5 685.4 1313.5 682.0 1318.1 677.0 1322.5 667.0 1333.5 661.7 1337.5 658.2 1342.4 649.0 1343.8 637.0 1342.4 629.0 1338.4 621.0 1333.5 616.3 1322.5 611.0 1319.2 603.0 1314.7 597.0 1305.5 592.0 1295.5 590.9 1287.5 592.8 1281.5 596.4 1277.3 601.0 1273.0 611.0 1263.5 615.4 1257.5 620.3 1253.0 629.0 1251.6 641.0 1253.0 649.0 1257.0 657.0 1261.5 661.4 1273.0 667.0 1276.2 675.0 1280.7 681.0 1289.5 685.9 1300.8 687.0ZM1313.5 659.1L1281.5 659.0 1280.1 655.0 1281.7 639.0 1280.1 623.0 1281.5 619.0 1313.8 619.0 1315.3 623.0 1313.7 639.0 1315.3 655.0 1313.5 659.1Z"/><path fill-rule="evenodd" fill="#4563b3" d="M1501.5 841.1L1095.5 841.1 1095.4 439.0 1501.5 438.9 1501.5 841.1ZM1302.8 687.0L1309.5 684.8 1315.3 681.0 1323.5 667.9 1337.5 658.9 1342.8 649.0 1344.1 637.0 1342.8 629.0 1338.9 621.0 1333.5 615.6 1323.5 610.1 1315.3 597.0 1305.5 591.6 1295.5 590.6 1287.5 592.5 1281.5 595.9 1276.7 601.0 1271.5 610.6 1261.5 615.9 1257.5 619.6 1252.6 629.0 1251.3 641.0 1252.6 649.0 1256.5 657.0 1261.5 662.1 1271.5 667.4 1280.1 681.0 1291.5 686.8 1302.8 687.0ZM1311.5 657.6L1282.7 657.0 1281.6 653.0 1282.7 639.0 1281.6 625.0 1282.7 621.0 1287.5 620.0 1312.6 621.0 1313.8 625.0 1312.7 639.0 1313.8 653.0 1313.5 655.7 1311.5 657.6Z"/><path fill-rule="evenodd" fill="#4966b5" d="M1501.5 841.1L1095.5 841.1 1095.4 439.0 1501.5 438.9 1501.5 841.1ZM1304.3 687.0L1315.8 681.0 1324.0 669.0 1337.9 659.0 1343.1 649.0 1344.3 635.0 1339.5 621.0 1335.5 616.5 1324.0 609.0 1315.8 597.0 1305.5 591.3 1295.5 590.3 1287.5 592.1 1282.1 595.0 1276.1 601.0 1271.4 609.0 1257.5 618.9 1252.3 629.0 1251.1 643.0 1253.5 652.4 1257.5 659.0 1271.4 669.0 1279.6 681.0 1291.5 687.1 1304.3 687.0ZM1311.5 655.1L1307.5 656.6 1289.5 656.7 1283.9 655.0 1283.9 623.0 1289.5 621.3 1307.5 621.4 1311.5 622.9 1311.5 655.1Z"/><path fill-rule="evenodd" fill="#4e6bb8" d="M1501.5 841.1L1095.5 841.1 1095.4 439.0 1501.5 438.9 1501.5 841.1ZM1305.5 687.0L1316.4 681.0 1325.3 669.0 1335.5 662.1 1339.5 657.6 1344.0 647.0 1344.6 635.0 1342.8 627.0 1339.5 620.4 1335.5 615.9 1325.3 609.0 1316.4 597.0 1305.5 591.0 1293.5 590.2 1281.4 595.0 1277.0 599.0 1270.1 609.0 1257.5 618.3 1251.9 629.0 1250.8 643.0 1252.6 651.0 1256.9 659.0 1270.1 669.0 1279.5 681.4 1291.5 687.4 1305.5 687.0ZM1305.5 655.1L1289.5 655.1 1285.3 653.0 1284.8 627.0 1287.5 623.3 1305.5 622.9 1310.0 625.0 1310.6 651.0 1309.5 653.7 1305.5 655.1Z"/><path fill-rule="evenodd" fill="#546fba" d="M1501.5 841.1L1095.5 841.1 1095.4 439.0 1501.5 438.9 1501.5 841.1ZM1306.5 687.0L1317.0 681.0 1325.5 670.0 1339.5 658.4 1344.3 647.0 1344.7 633.0 1342.4 625.0 1339.0 619.0 1325.5 608.0 1317.0 597.0 1305.5 590.7 1293.5 589.9 1280.8 595.0 1269.5 608.4 1256.4 619.0 1251.1 631.0 1250.7 645.0 1253.0 653.0 1257.5 660.4 1269.5 669.6 1280.8 683.0 1293.5 688.1 1306.5 687.0ZM1305.5 653.0L1291.5 653.3 1287.3 651.0 1286.5 631.0 1287.3 627.0 1289.5 625.1 1303.5 624.7 1308.1 627.0 1308.7 649.0 1305.5 653.0Z"/><path fill-rule="evenodd" fill="#5974bd" d="M1501.5 841.1L1095.5 841.1 1095.4 439.0 1501.5 438.9 1501.5 841.1ZM1307.5 687.0L1317.6 681.0 1325.7 671.0 1339.5 659.1 1344.6 647.0 1345.0 633.0 1339.5 618.9 1325.7 607.0 1317.6 597.0 1305.5 590.4 1293.5 589.6 1280.2 595.0 1269.5 607.2 1255.9 619.0 1250.8 631.0 1250.4 645.0 1255.9 659.0 1269.5 670.8 1280.2 683.0 1293.5 688.4 1307.5 687.0ZM1299.5 651.1L1291.5 650.0 1289.3 647.0 1289.3 631.0 1293.5 627.2 1301.5 627.2 1305.2 629.0 1306.1 631.0 1306.1 647.0 1303.5 650.2 1299.5 651.1Z"/><path fill-rule="evenodd" fill="#5f78bf" d="M1501.5 841.1L1095.5 841.1 1095.4 439.0 1501.5 438.9 1501.5 841.1ZM1308.4 687.0L1318.2 681.0 1326.7 671.0 1340.0 659.0 1345.0 647.0 1345.3 633.0 1343.2 625.0 1339.5 618.2 1326.7 607.0 1318.2 597.0 1307.5 590.7 1293.5 589.3 1285.5 591.6 1279.6 595.0 1268.7 607.0 1256.9 617.0 1250.9 629.0 1250.1 645.0 1252.2 653.0 1256.9 661.0 1268.7 671.0 1279.6 683.0 1285.5 686.4 1293.5 688.7 1301.5 688.7 1308.4 687.0ZM1297.5 645.0L1294.8 643.0 1294.0 639.0 1294.8 635.0 1297.5 633.0 1300.6 635.0 1301.5 639.0 1300.6 643.0 1297.5 645.0Z"/><path fill-rule="evenodd" fill="#647dc2" d="M1501.5 841.1L1095.5 841.1 1095.4 439.0 1501.5 438.9 1501.5 841.1ZM1301.6 689.0L1309.5 686.9 1316.4 683.0 1337.5 662.9 1344.3 651.0 1346.1 637.0 1344.3 627.0 1340.5 619.0 1318.8 597.0 1307.5 590.3 1295.5 588.8 1287.5 590.5 1279.5 594.7 1257.5 615.6 1251.1 627.0 1249.4 641.0 1251.1 651.0 1255.5 659.9 1276.6 681.0 1287.5 687.5 1301.6 689.0Z"/><path fill-rule="evenodd" fill="#6a81c4" d="M1501.5 841.1L1095.5 841.1 1095.4 439.0 1501.5 438.9 1501.5 841.1ZM1303.5 689.0L1317.0 683.0 1339.5 661.2 1345.2 649.0 1346.2 635.0 1344.0 625.0 1339.7 617.0 1319.4 597.0 1307.5 590.0 1295.5 588.5 1287.5 590.2 1279.5 594.2 1257.4 615.0 1250.7 627.0 1249.2 643.0 1251.4 653.0 1255.5 660.7 1276.0 681.0 1281.5 685.1 1289.5 688.5 1303.5 689.0Z"/><path fill-rule="evenodd" fill="#6f86c7" d="M1501.5 841.1L1095.5 841.1 1095.4 439.0 1501.5 438.9 1501.5 841.1ZM1305.0 689.0L1317.6 683.0 1339.5 661.9 1345.6 649.0 1346.6 635.0 1344.4 625.0 1340.2 617.0 1320.0 597.0 1307.5 589.7 1293.5 588.4 1285.5 590.6 1277.8 595.0 1256.8 615.0 1250.4 627.0 1248.8 643.0 1251.0 653.0 1255.5 661.4 1277.8 683.0 1291.5 689.2 1305.0 689.0Z"/><path fill-rule="evenodd" fill="#758ac9" d="M1501.5 841.1L1095.5 841.1 1095.4 439.0 1501.5 438.9 1501.5 841.1ZM1306.2 689.0L1318.2 683.0 1340.7 661.0 1346.4 647.0 1346.7 633.0 1344.8 625.0 1340.7 617.0 1320.6 597.0 1307.5 589.4 1293.5 588.1 1285.5 590.2 1277.2 595.0 1255.5 615.9 1249.5 629.0 1248.7 645.0 1251.4 655.0 1255.5 662.1 1277.2 683.0 1283.8 687.0 1291.5 689.6 1306.2 689.0Z"/><path fill-rule="evenodd" fill="#7a8fcc" d="M1501.5 841.1L1095.5 841.1 1095.4 439.0 1501.5 438.9 1501.5 841.1ZM1307.3 689.0L1318.8 683.0 1341.2 661.0 1346.3 649.0 1347.0 633.0 1345.2 625.0 1341.2 617.0 1321.2 597.0 1307.5 589.0 1293.5 587.8 1285.5 589.9 1277.5 594.3 1255.5 615.1 1249.1 629.0 1248.4 645.0 1251.0 655.0 1255.5 662.9 1276.6 683.0 1283.5 687.2 1291.5 689.9 1299.5 690.4 1307.3 689.0Z"/><path fill-rule="evenodd" fill="#8194ce" d="M1501.5 841.1L1095.5 841.1 1095.4 439.0 1501.5 438.9 1501.5 841.1ZM1308.3 689.0L1321.8 681.0 1341.5 661.4 1346.7 649.0 1347.4 633.0 1345.5 625.0 1341.5 616.6 1321.8 597.0 1307.5 588.7 1293.5 587.5 1285.5 589.6 1277.5 593.9 1255.5 614.4 1248.7 629.0 1248.0 645.0 1250.6 655.0 1255.1 663.0 1276.0 683.0 1283.5 687.6 1291.5 690.2 1299.5 690.7 1308.3 689.0Z"/><path fill-rule="evenodd" fill="#889ad1" d="M1501.5 841.1L1095.5 841.1 1095.4 439.0 1501.5 438.9 1501.5 841.1ZM1182.6 587.0L1187.3 579.0 1187.5 574.9 1185.5 575.3 1181.5 581.0 1180.2 587.0 1181.5 588.0 1182.6 587.0ZM1415.5 587.0L1413.5 580.2 1409.2 575.0 1407.6 577.0 1409.5 582.6 1413.5 587.8 1415.5 587.0ZM1299.8 691.0L1309.3 689.0 1317.2 685.0 1339.4 665.0 1346.0 653.0 1348.1 637.0 1345.2 623.0 1337.5 610.9 1315.5 591.9 1307.5 588.4 1297.5 586.9 1287.5 588.5 1279.5 592.2 1257.5 611.3 1249.5 625.0 1247.3 641.0 1251.0 657.0 1259.5 668.6 1281.5 687.0 1289.5 690.1 1299.8 691.0ZM1187.6 703.0L1185.7 695.0 1181.5 690.0 1180.2 691.0 1181.5 697.1 1185.5 702.7 1187.6 703.0ZM1409.5 703.0L1413.5 697.8 1415.5 690.8 1413.5 690.2 1409.5 695.4 1407.6 701.0 1409.5 703.0Z"/><path fill-rule="evenodd" fill="#8fa0d4" d="M1501.5 841.1L1095.5 841.1 1095.4 439.0 1501.5 438.9 1501.5 841.1ZM1310.7 503.0L1313.0 501.0 1311.7 499.0 1303.5 497.4 1287.5 497.9 1283.7 499.0 1282.4 501.0 1284.7 503.0 1289.5 503.8 1310.7 503.0ZM1175.5 599.0L1181.5 595.5 1189.5 583.2 1193.5 571.0 1193.4 567.0 1191.5 564.9 1185.5 568.5 1177.5 581.0 1173.9 593.0 1175.5 599.0ZM1419.7 599.0L1421.4 597.0 1421.5 593.0 1417.5 580.2 1409.5 568.1 1403.5 565.0 1402.0 571.0 1405.5 582.3 1413.5 595.1 1419.7 599.0ZM1302.7 691.0L1317.9 685.0 1339.5 665.6 1346.9 651.0 1348.3 635.0 1344.8 621.0 1335.5 608.3 1314.5 591.0 1305.5 587.5 1295.5 586.7 1285.5 588.9 1277.5 593.0 1255.5 612.9 1248.4 627.0 1247.1 643.0 1249.0 653.0 1253.5 662.4 1272.3 681.0 1279.5 686.2 1287.5 689.8 1302.7 691.0ZM1191.7 713.0L1193.4 711.0 1193.5 707.0 1189.5 694.8 1181.5 682.5 1175.5 679.0 1173.9 685.0 1177.5 697.0 1185.5 709.5 1191.7 713.0ZM1403.7 713.0L1409.5 709.9 1417.5 697.8 1421.5 685.0 1421.4 681.0 1419.5 678.9 1413.5 682.9 1405.5 695.7 1402.0 707.0 1402.1 711.0 1403.7 713.0ZM1311.7 779.0L1313.0 777.0 1311.5 775.5 1305.5 774.1 1287.5 774.4 1282.4 777.0 1283.7 779.0 1291.5 780.6 1305.5 780.5 1311.7 779.0Z"/><path fill-rule="evenodd" fill="#96a6d7" d="M1501.5 841.1L1095.5 841.1 1095.4 439.0 1501.5 438.9 1501.5 841.1ZM1315.4 505.0L1318.3 503.0 1318.6 499.0 1315.5 496.6 1309.4 495.0 1285.5 495.1 1279.1 497.0 1276.2 501.0 1280.0 505.0 1287.5 506.5 1305.5 506.6 1315.4 505.0ZM1176.3 605.0L1185.5 594.7 1193.5 579.5 1197.0 567.0 1195.5 559.3 1191.5 559.5 1185.5 564.4 1179.5 572.5 1173.5 584.4 1170.4 595.0 1170.1 603.0 1171.5 605.9 1176.3 605.0ZM1424.5 605.0L1425.6 601.0 1424.6 593.0 1417.5 575.2 1407.5 562.0 1403.5 559.3 1399.5 559.7 1398.2 565.0 1399.1 571.0 1405.5 587.2 1417.5 603.9 1421.5 606.2 1424.5 605.0ZM1304.5 691.0L1319.5 684.3 1340.6 665.0 1347.3 651.0 1348.7 635.0 1344.3 619.0 1335.5 607.5 1315.2 591.0 1305.5 587.2 1295.5 586.3 1285.5 588.5 1276.9 593.0 1255.5 612.2 1251.1 619.0 1248.1 627.0 1246.7 643.0 1248.6 653.0 1253.4 663.0 1271.7 681.0 1279.5 686.6 1287.5 690.2 1295.5 691.7 1304.5 691.0ZM1194.4 719.0L1196.6 717.0 1197.0 711.0 1191.5 694.0 1179.5 675.7 1175.5 672.4 1171.5 672.1 1170.1 675.0 1170.0 681.0 1175.5 698.2 1185.5 713.6 1189.5 717.3 1194.4 719.0ZM1402.2 719.0L1405.5 717.6 1411.5 711.8 1420.4 697.0 1425.4 681.0 1425.4 675.0 1423.5 671.9 1419.5 672.6 1415.5 676.1 1403.5 694.8 1398.2 713.0 1399.5 718.3 1402.2 719.0ZM1309.4 783.0L1317.5 780.1 1319.2 777.0 1318.3 775.0 1309.5 771.7 1289.5 771.4 1280.0 773.0 1276.2 777.0 1279.1 781.0 1285.5 782.9 1309.4 783.0Z"/><path fill-rule="evenodd" fill="#9dacda" d="M1501.5 841.0L1095.5 841.0 1095.5 439.0 1501.5 439.0 1501.5 841.0ZM1317.0 507.0L1322.6 503.0 1322.8 499.0 1318.3 495.0 1311.5 493.1 1281.5 493.6 1274.0 497.0 1272.2 501.0 1275.5 505.6 1283.5 508.1 1305.5 508.5 1317.0 507.0ZM1170.2 613.0L1175.5 610.5 1181.5 604.0 1193.5 584.0 1199.9 565.0 1199.8 557.0 1197.5 554.1 1191.5 555.6 1185.5 560.9 1173.5 579.4 1168.9 591.0 1166.5 603.0 1167.3 611.0 1170.2 613.0ZM1425.8 613.0L1428.7 609.0 1428.7 601.0 1421.7 579.0 1409.5 560.4 1403.5 555.3 1397.5 554.3 1395.5 557.1 1395.5 565.0 1403.4 587.0 1415.5 606.0 1421.5 611.7 1425.8 613.0ZM1306.0 691.0L1313.5 688.3 1321.9 683.0 1341.5 664.5 1348.2 649.0 1348.9 633.0 1346.5 623.0 1342.5 615.0 1324.4 597.0 1309.5 588.0 1301.5 586.2 1293.5 586.2 1285.5 588.2 1276.2 593.0 1255.5 611.4 1250.6 619.0 1247.7 627.0 1246.5 645.0 1248.9 655.0 1253.5 664.0 1273.5 683.0 1281.5 688.1 1289.5 691.0 1297.5 692.1 1306.0 691.0ZM1198.7 723.0L1200.2 719.0 1199.5 711.0 1191.5 689.9 1179.5 671.5 1173.5 666.1 1169.5 664.9 1166.7 669.0 1166.7 677.0 1169.6 689.0 1174.7 701.0 1187.5 719.2 1193.5 723.5 1198.7 723.0ZM1402.9 723.0L1413.5 712.7 1424.3 693.0 1428.9 675.0 1428.7 669.0 1425.8 665.0 1421.5 666.3 1413.5 674.5 1405.5 686.9 1399.5 699.6 1395.9 711.0 1395.2 719.0 1397.5 723.7 1402.9 723.0ZM1310.4 785.0L1321.4 781.0 1323.2 777.0 1320.9 773.0 1309.5 769.7 1285.5 769.7 1275.5 772.4 1272.2 777.0 1274.0 781.0 1281.5 784.4 1310.4 785.0Z"/><path fill-rule="evenodd" fill="#a5b2dc" d="M1501.5 841.0L1095.5 841.0 1095.5 439.0 1501.5 439.0 1501.5 841.0ZM1317.0 509.0L1323.5 506.1 1326.6 501.0 1323.0 495.0 1315.5 491.9 1301.5 490.8 1281.5 491.6 1273.5 494.3 1269.2 499.0 1270.6 505.0 1279.5 509.2 1303.5 510.1 1317.0 509.0ZM1170.8 619.0L1183.5 605.0 1197.4 579.0 1202.9 559.0 1202.5 553.0 1199.5 549.5 1191.5 552.2 1183.5 560.0 1175.5 571.7 1169.0 585.0 1164.1 601.0 1163.1 613.0 1165.5 620.1 1170.8 619.0ZM1430.8 619.0L1432.4 611.0 1431.3 601.0 1422.7 577.0 1415.5 564.8 1407.5 555.2 1401.5 550.7 1395.5 549.6 1392.5 555.0 1393.0 563.0 1397.2 577.0 1403.5 590.9 1411.5 604.4 1419.5 614.6 1427.5 620.5 1430.8 619.0ZM1307.3 691.0L1322.6 683.0 1341.5 665.3 1348.2 651.0 1349.3 633.0 1346.9 623.0 1343.1 615.0 1337.5 608.0 1325.1 597.0 1309.5 587.7 1301.5 585.8 1293.5 585.9 1285.5 587.8 1275.6 593.0 1255.2 611.0 1250.1 619.0 1247.2 627.0 1246.1 645.0 1248.4 655.0 1253.5 664.8 1272.8 683.0 1281.5 688.4 1289.5 691.4 1297.5 692.4 1307.3 691.0ZM1201.6 727.0L1203.0 721.0 1201.5 711.0 1191.5 686.4 1183.5 673.0 1175.5 663.0 1169.5 658.1 1165.5 657.9 1163.3 663.0 1163.8 675.0 1167.5 689.0 1173.5 702.6 1181.5 715.4 1189.5 724.2 1197.5 728.6 1201.6 727.0ZM1402.0 727.0L1409.5 720.7 1415.5 713.2 1426.4 693.0 1432.2 671.0 1431.7 661.0 1429.5 657.7 1423.5 659.7 1413.5 670.8 1405.5 683.4 1397.5 700.2 1393.4 713.0 1392.5 723.0 1395.5 728.4 1402.0 727.0ZM1308.4 787.0L1317.5 785.6 1323.5 782.6 1326.6 777.0 1324.8 773.0 1319.5 769.8 1313.5 768.4 1287.5 768.0 1275.5 769.9 1269.3 775.0 1270.3 781.0 1277.5 785.4 1287.5 787.0 1308.4 787.0Z"/><path fill-rule="evenodd" fill="#acb8df" d="M1501.5 841.0L1095.5 841.0 1095.5 439.0 1501.5 439.0 1501.5 841.0ZM1315.2 511.0L1325.5 507.5 1328.2 505.0 1329.6 501.0 1326.8 495.0 1317.5 490.5 1303.5 489.1 1281.5 489.8 1271.3 493.0 1266.1 499.0 1266.2 503.0 1269.1 507.0 1277.5 510.5 1315.2 511.0ZM1164.5 633.0L1183.5 608.5 1198.2 581.0 1205.5 557.0 1205.1 549.0 1201.5 545.2 1193.5 547.6 1183.5 557.0 1175.0 569.0 1167.0 585.0 1161.8 601.0 1159.5 617.0 1161.5 633.2 1163.5 634.4 1164.5 633.0ZM1433.8 633.0L1435.8 623.0 1435.1 609.0 1432.0 595.0 1426.7 581.0 1419.1 567.0 1409.5 554.3 1401.5 547.4 1393.5 545.3 1390.3 549.0 1389.9 557.0 1393.4 571.0 1399.5 586.1 1415.5 613.7 1431.5 634.1 1433.8 633.0ZM1308.4 691.0L1323.2 683.0 1342.3 665.0 1349.0 649.0 1349.4 631.0 1346.6 621.0 1342.3 613.0 1325.8 597.0 1309.5 587.3 1301.5 585.5 1293.5 585.5 1283.5 588.3 1275.5 592.6 1254.6 611.0 1249.6 619.0 1246.8 627.0 1245.4 637.0 1246.0 647.0 1248.8 657.0 1253.5 665.6 1260.3 673.0 1274.9 685.0 1283.5 689.7 1291.5 692.2 1299.5 692.7 1308.4 691.0ZM1204.1 731.0L1205.7 725.0 1204.8 717.0 1195.5 691.0 1183.5 669.5 1163.5 643.6 1161.5 644.8 1160.0 651.0 1159.8 665.0 1162.9 681.0 1168.7 697.0 1177.5 712.9 1187.5 725.4 1197.5 732.4 1201.5 732.8 1204.1 731.0ZM1400.8 731.0L1408.3 725.0 1416.5 715.0 1423.7 703.0 1430.0 689.0 1434.0 675.0 1435.8 663.0 1435.5 651.1 1433.5 644.0 1431.5 643.9 1411.5 670.1 1395.5 701.2 1390.6 717.0 1389.8 727.0 1391.2 731.0 1393.5 732.7 1400.8 731.0ZM1319.4 787.0L1326.8 783.0 1329.6 777.0 1326.2 771.0 1317.5 767.4 1279.5 767.1 1271.5 769.5 1266.2 775.0 1266.1 779.0 1268.6 783.0 1277.5 787.4 1303.5 788.9 1319.4 787.0Z"/><path fill-rule="evenodd" fill="#b3bee2" d="M1501.5 841.0L1095.5 841.0 1095.5 439.0 1501.5 439.0 1501.5 841.0ZM1322.8 511.0L1329.8 507.0 1332.2 503.0 1332.3 499.0 1327.5 492.6 1317.5 488.6 1295.5 487.4 1277.5 488.7 1267.5 492.9 1263.1 499.0 1263.2 503.0 1265.6 507.0 1275.5 511.8 1309.5 512.8 1322.8 511.0ZM1203.6 737.0L1206.7 735.0 1208.4 729.0 1204.3 709.0 1191.5 679.7 1173.1 649.0 1170.5 639.0 1173.1 629.0 1193.5 594.4 1205.0 567.0 1207.9 555.0 1208.2 547.0 1205.5 541.8 1201.5 540.9 1193.5 544.6 1183.5 554.0 1174.1 567.0 1166.7 581.0 1157.7 609.0 1154.9 641.0 1158.6 673.0 1168.6 701.0 1176.7 715.0 1186.3 727.0 1195.5 734.7 1203.6 737.0ZM1394.1 737.0L1401.5 733.7 1411.5 724.4 1420.0 713.0 1427.8 699.0 1437.2 671.0 1440.5 639.0 1437.2 607.0 1427.8 579.0 1420.0 565.0 1411.0 553.0 1401.5 544.3 1393.5 540.9 1389.5 542.1 1387.2 547.0 1387.4 555.0 1390.4 567.0 1403.5 597.5 1422.3 629.0 1424.9 639.0 1422.3 649.0 1403.5 680.5 1390.4 711.0 1387.4 723.0 1387.2 731.0 1389.5 735.9 1394.1 737.0ZM1299.3 693.0L1307.5 691.6 1317.5 687.3 1337.9 671.0 1347.1 657.0 1350.4 639.0 1347.1 621.0 1337.9 607.0 1315.5 589.6 1305.5 585.8 1297.5 585.0 1289.5 585.9 1279.5 589.8 1257.5 607.0 1248.3 621.0 1245.0 639.0 1248.3 657.0 1257.5 671.0 1279.5 688.2 1289.5 692.1 1299.3 693.0ZM1319.2 789.0L1328.0 785.0 1331.6 781.0 1332.5 777.0 1329.8 771.0 1321.5 766.6 1309.5 765.2 1277.5 765.9 1268.2 769.0 1263.2 775.0 1263.1 779.0 1265.2 783.0 1269.5 786.4 1276.3 789.0 1297.5 790.6 1319.2 789.0Z"/><path fill-rule="evenodd" fill="#bac4e5" d="M1501.5 841.0L1095.5 841.0 1095.5 439.0 1501.5 439.0 1501.5 841.0ZM1321.9 513.0L1331.1 509.0 1334.5 505.0 1335.5 501.0 1334.7 497.0 1331.5 492.8 1319.5 487.2 1303.5 485.8 1277.5 486.8 1266.2 491.0 1261.9 495.0 1260.1 499.0 1260.2 503.0 1262.2 507.0 1267.5 511.0 1273.5 513.0 1287.5 514.1 1321.9 513.0ZM1206.7 741.0L1209.5 738.9 1211.1 733.0 1207.9 715.0 1195.5 684.5 1176.7 649.0 1174.5 639.0 1176.7 629.0 1195.5 593.5 1207.9 563.0 1211.1 545.0 1209.5 539.1 1205.5 536.7 1197.5 539.0 1187.5 546.8 1177.2 559.0 1168.5 573.0 1162.0 587.0 1156.8 603.0 1152.6 623.0 1151.3 639.0 1152.6 655.0 1156.8 675.0 1162.0 691.0 1168.5 705.0 1177.2 719.0 1187.5 731.2 1199.5 740.0 1206.7 741.0ZM1393.2 741.0L1401.5 736.6 1411.5 727.4 1421.0 715.0 1428.9 701.0 1439.7 671.0 1443.1 653.0 1444.1 639.0 1442.8 623.0 1439.2 605.0 1434.1 589.0 1427.9 575.0 1419.6 561.0 1409.5 548.5 1399.5 540.0 1391.5 536.7 1387.5 537.5 1384.5 543.0 1384.6 551.0 1386.9 561.0 1399.5 592.7 1418.7 629.0 1420.9 639.0 1418.7 649.0 1397.5 689.6 1386.4 719.0 1384.4 729.0 1385.0 737.0 1387.5 740.5 1393.2 741.0ZM1302.8 693.0L1311.5 690.6 1319.5 686.5 1340.5 669.0 1345.8 661.0 1348.9 653.0 1350.7 635.0 1348.9 625.0 1345.8 617.0 1335.5 604.0 1321.8 593.0 1313.5 588.2 1305.5 585.5 1295.5 584.7 1285.5 586.8 1276.7 591.0 1255.5 608.3 1250.7 615.0 1246.5 625.0 1244.7 643.0 1246.5 653.0 1249.6 661.0 1254.9 669.0 1261.0 675.0 1273.6 685.0 1283.5 690.5 1293.5 693.1 1302.8 693.0ZM1318.7 791.0L1329.5 786.8 1333.5 783.0 1335.3 779.0 1335.2 775.0 1333.2 771.0 1323.5 765.4 1309.5 763.9 1275.5 764.6 1265.5 768.2 1260.2 775.0 1260.7 781.0 1263.5 784.8 1273.5 790.2 1289.5 792.2 1318.7 791.0Z"/><path fill-rule="evenodd" fill="#c1cae8" d="M1501.5 841.0L1095.5 841.0 1095.5 439.0 1501.5 439.0 1501.5 841.0ZM1318.8 515.0L1332.4 511.0 1336.7 507.0 1338.7 501.0 1336.9 495.0 1333.5 491.2 1321.5 485.6 1303.5 483.9 1275.5 485.2 1262.1 491.0 1256.9 499.0 1257.0 503.0 1259.5 507.9 1269.5 513.8 1281.5 515.3 1318.8 515.0ZM1210.4 745.0L1213.5 741.0 1214.2 737.0 1211.4 721.0 1199.5 690.1 1180.8 651.0 1177.9 639.0 1180.8 627.0 1201.5 583.4 1212.0 555.0 1213.9 539.0 1211.5 533.8 1207.5 532.2 1199.5 534.7 1187.5 544.0 1176.1 557.0 1167.2 571.0 1159.7 587.0 1153.8 605.0 1149.3 625.0 1148.2 641.0 1150.4 659.0 1156.1 681.0 1162.3 697.0 1170.7 713.0 1180.9 727.0 1193.5 739.3 1203.5 745.1 1210.4 745.0ZM1392.2 745.0L1401.5 739.6 1412.8 729.0 1422.1 717.0 1430.3 703.0 1437.2 687.0 1442.7 669.0 1446.3 651.0 1447.2 637.0 1445.4 621.0 1440.5 601.0 1434.9 585.0 1427.0 569.0 1417.8 555.0 1407.5 543.6 1395.5 534.5 1387.5 532.2 1383.5 534.2 1381.4 539.0 1383.4 555.0 1393.5 582.4 1414.6 627.0 1417.4 639.0 1414.6 651.0 1393.5 695.6 1382.4 727.0 1381.2 737.0 1382.9 743.0 1387.5 745.8 1392.2 745.0ZM1304.8 693.0L1313.5 690.1 1322.4 685.0 1341.5 668.6 1346.3 661.0 1349.4 653.0 1351.1 635.0 1346.3 617.0 1335.5 603.3 1322.4 593.0 1313.5 587.9 1303.5 584.7 1295.5 584.3 1287.5 585.8 1277.5 590.1 1255.5 607.6 1250.1 615.0 1246.6 623.0 1244.5 633.0 1244.3 643.0 1246.0 653.0 1250.1 663.0 1255.5 670.4 1262.5 677.0 1275.5 686.7 1285.5 691.6 1295.5 693.7 1304.8 693.0ZM1318.6 793.0L1331.5 788.3 1337.9 781.0 1338.4 775.0 1336.7 771.0 1327.5 764.7 1313.5 762.7 1273.5 763.4 1263.0 767.0 1258.7 771.0 1257.0 775.0 1257.5 781.0 1260.0 785.0 1271.5 791.8 1287.5 794.0 1318.6 793.0Z"/><path fill-rule="evenodd" fill="#c8d0ea" d="M1501.5 841.0L1095.5 841.0 1095.5 439.0 1501.5 439.0 1501.5 841.0ZM1328.6 515.0L1339.0 509.0 1341.4 505.0 1342.1 499.0 1339.4 493.0 1335.3 489.0 1321.5 483.3 1295.5 481.9 1273.5 483.4 1260.1 489.0 1256.0 493.0 1253.3 499.0 1253.9 505.0 1256.4 509.0 1261.6 513.0 1269.5 515.6 1315.5 516.5 1328.6 515.0ZM1214.8 749.0L1217.6 741.0 1215.2 727.0 1205.5 701.0 1184.5 653.0 1181.3 639.0 1184.5 625.0 1205.5 577.0 1216.3 547.0 1217.0 533.0 1213.5 528.0 1209.5 527.3 1199.5 531.4 1185.5 542.9 1174.8 555.0 1164.5 571.0 1156.3 589.0 1150.5 607.0 1146.5 625.0 1145.3 641.0 1147.2 657.0 1152.9 679.0 1160.5 699.0 1169.3 715.0 1181.6 731.0 1195.5 743.8 1207.5 750.4 1211.5 750.7 1214.8 749.0ZM1391.6 749.0L1401.5 742.6 1413.8 731.0 1423.5 719.0 1431.9 705.0 1439.1 689.0 1444.9 671.0 1448.9 653.0 1450.1 637.0 1448.2 621.0 1442.5 599.0 1436.7 583.0 1428.6 567.0 1419.0 553.0 1407.5 540.6 1395.5 531.1 1385.5 527.2 1381.5 528.3 1378.4 533.0 1379.1 547.0 1389.5 576.0 1410.9 625.0 1414.1 639.0 1410.9 653.0 1387.5 706.9 1378.6 733.0 1377.8 741.0 1379.5 747.6 1383.5 750.6 1391.6 749.0ZM1306.4 693.0L1323.1 685.0 1336.0 675.0 1343.3 667.0 1350.3 651.0 1351.3 633.0 1349.2 623.0 1345.8 615.0 1341.5 608.6 1333.7 601.0 1321.5 591.9 1311.5 586.6 1301.5 584.1 1293.5 584.1 1285.5 586.0 1275.4 591.0 1261.7 601.0 1253.6 609.0 1248.5 617.0 1245.6 625.0 1243.9 635.0 1244.0 645.0 1246.2 655.0 1250.7 665.0 1257.2 673.0 1266.8 681.0 1277.5 688.3 1287.5 692.6 1297.5 694.1 1306.4 693.0ZM1319.5 795.0L1333.5 790.2 1339.4 785.0 1341.6 781.0 1342.0 775.0 1340.5 771.0 1336.9 767.0 1331.5 764.0 1317.5 761.5 1273.5 761.8 1261.5 765.1 1256.4 769.0 1253.9 773.0 1253.3 779.0 1256.0 785.0 1261.5 789.9 1269.5 793.5 1287.5 796.0 1319.5 795.0Z"/><path fill-rule="evenodd" fill="#cfd5ed" d="M1501.5 841.0L1095.5 841.0 1095.5 439.0 1501.5 439.0 1501.5 841.0ZM1328.7 517.0L1335.8 515.0 1342.0 511.0 1346.0 505.0 1346.5 499.0 1344.2 493.0 1340.6 489.0 1333.5 484.4 1325.5 481.6 1313.5 479.9 1295.5 479.6 1269.5 481.7 1261.5 484.6 1254.8 489.0 1251.3 493.0 1248.9 499.0 1249.5 505.0 1253.4 511.0 1259.5 515.0 1265.5 516.8 1277.5 517.8 1328.7 517.0ZM1218.6 755.0L1221.8 747.0 1220.0 735.0 1188.6 657.0 1184.6 639.0 1188.6 621.0 1220.6 541.0 1221.8 533.0 1221.0 527.0 1217.5 522.2 1213.5 521.3 1203.5 525.3 1189.5 536.2 1174.8 551.0 1164.6 565.0 1156.4 581.0 1148.6 603.0 1143.8 623.0 1142.4 641.0 1144.5 659.0 1150.5 681.0 1158.2 701.0 1167.2 717.0 1180.3 733.0 1199.5 750.0 1211.5 756.3 1215.5 756.5 1218.6 755.0ZM1387.6 755.0L1399.5 747.2 1413.2 735.0 1423.8 723.0 1433.1 709.0 1440.6 693.0 1448.5 669.0 1452.2 651.0 1453.0 637.0 1451.2 621.0 1446.2 601.0 1439.0 581.0 1430.8 565.0 1420.6 551.0 1405.5 535.8 1391.5 525.1 1381.5 521.3 1377.5 522.4 1374.4 527.0 1373.6 533.0 1374.8 541.0 1406.8 621.0 1410.8 639.0 1406.8 657.0 1374.3 739.0 1373.6 747.0 1375.5 753.5 1379.5 756.5 1387.6 755.0ZM1307.7 693.0L1317.3 689.0 1326.7 683.0 1336.8 675.0 1343.5 667.6 1348.3 659.0 1350.8 651.0 1351.8 633.0 1346.4 615.0 1341.5 607.8 1334.5 601.0 1321.5 591.5 1311.5 586.3 1301.5 583.7 1293.5 583.8 1283.5 586.4 1274.7 591.0 1260.9 601.0 1252.9 609.0 1248.0 617.0 1244.6 627.0 1243.3 637.0 1243.8 647.0 1246.3 657.0 1251.5 667.0 1257.5 674.0 1268.7 683.0 1279.5 689.7 1289.5 693.5 1299.5 694.5 1307.7 693.0ZM1322.5 797.0L1338.1 791.0 1342.6 787.0 1346.1 781.0 1346.5 775.0 1343.8 769.0 1339.5 765.0 1333.5 762.1 1319.5 760.2 1267.5 760.9 1255.9 765.0 1249.5 773.0 1248.9 779.0 1252.8 787.0 1259.5 792.4 1267.5 795.7 1287.5 798.3 1322.5 797.0Z"/><path fill-rule="evenodd" fill="#d6dbef" d="M1501.5 841.0L1095.5 841.0 1095.5 439.0 1501.5 439.0 1501.5 841.0ZM1327.7 519.0L1337.5 517.6 1345.5 514.2 1352.3 507.0 1353.5 501.0 1351.0 493.0 1345.7 487.0 1337.5 481.9 1327.5 478.8 1315.5 477.2 1293.5 476.8 1267.5 478.8 1257.5 482.1 1249.7 487.0 1244.4 493.0 1242.0 499.0 1242.3 505.0 1246.0 511.0 1251.2 515.0 1259.5 518.0 1271.5 519.1 1327.7 519.0ZM1221.6 765.0L1225.2 763.0 1227.2 759.0 1226.6 745.0 1194.8 669.0 1189.2 651.0 1187.7 639.0 1189.2 627.0 1194.8 609.0 1226.6 533.0 1227.2 519.0 1223.5 513.7 1219.5 512.9 1209.5 517.1 1191.5 531.3 1170.7 551.0 1160.0 565.0 1152.2 581.0 1145.0 603.0 1140.6 623.0 1139.4 639.0 1140.9 657.0 1146.1 679.0 1153.0 699.0 1161.3 715.0 1174.5 731.0 1197.5 751.9 1211.5 762.2 1221.6 765.0ZM1376.3 765.0L1387.5 759.9 1403.5 747.1 1422.8 729.0 1434.1 715.0 1442.4 699.0 1449.8 677.0 1454.5 657.0 1456.0 639.0 1454.5 621.0 1449.8 601.0 1442.4 579.0 1434.1 563.0 1422.8 549.0 1401.5 529.2 1385.5 516.8 1375.5 512.9 1371.5 513.9 1368.2 519.0 1368.8 533.0 1400.6 609.0 1406.2 627.0 1407.7 639.0 1406.2 651.0 1400.6 669.0 1368.8 745.0 1367.6 753.0 1368.9 761.0 1371.5 764.1 1376.3 765.0ZM1308.9 693.0L1318.0 689.0 1330.1 681.0 1344.6 667.0 1351.3 651.0 1352.6 641.0 1352.0 631.0 1349.6 621.0 1345.8 613.0 1339.7 605.0 1332.8 599.0 1311.5 585.9 1301.5 583.3 1291.5 583.7 1283.5 586.0 1273.5 591.3 1260.1 601.0 1252.3 609.0 1247.5 617.0 1244.1 627.0 1242.8 637.0 1243.4 647.0 1245.8 657.0 1250.8 667.0 1257.5 674.7 1268.0 683.0 1279.5 690.1 1289.5 693.9 1299.5 694.8 1308.9 693.0ZM1312.0 801.0L1331.5 798.2 1345.7 791.0 1351.0 785.0 1353.3 779.0 1353.1 773.0 1349.4 767.0 1341.5 761.7 1331.5 759.3 1269.5 758.9 1253.5 761.9 1248.2 765.0 1243.1 771.0 1241.8 777.0 1244.4 785.0 1249.7 791.0 1257.5 795.9 1275.5 800.5 1312.0 801.0Z"/><path fill-rule="evenodd" fill="#dce1f1" d="M1501.5 841.0L1095.5 841.0 1095.5 439.0 1501.5 439.0 1501.5 841.0ZM1332.4 803.0L1351.5 798.1 1363.5 792.0 1389.9 763.0 1436.1 723.0 1442.7 715.0 1450.7 693.0 1458.9 651.0 1458.7 625.0 1452.7 593.0 1446.5 571.0 1439.9 559.0 1394.1 519.0 1378.2 503.0 1365.5 487.8 1359.5 483.3 1342.0 477.0 1321.5 473.7 1277.5 473.5 1255.5 476.5 1240.8 481.0 1231.5 486.3 1207.5 513.0 1159.4 555.0 1151.6 565.0 1142.7 593.0 1136.5 627.0 1136.7 653.0 1142.2 683.0 1148.9 707.0 1155.6 719.0 1203.4 761.0 1233.5 793.2 1249.5 799.9 1269.5 803.9 1311.5 804.7 1332.4 803.0ZM1351.5 757.3L1297.5 758.6 1242.8 757.0 1239.5 755.4 1235.5 750.7 1216.1 717.0 1202.2 685.0 1194.4 663.0 1190.6 645.0 1190.8 631.0 1198.4 603.0 1216.1 561.0 1233.5 530.3 1241.5 521.4 1297.5 519.4 1353.5 521.3 1357.5 524.1 1361.5 529.7 1380.2 563.0 1394.8 597.0 1402.2 619.0 1405.0 635.0 1404.3 649.0 1396.3 677.0 1378.3 719.0 1359.5 751.3 1355.5 755.7 1351.5 757.3ZM1301.7 695.0L1309.5 693.2 1319.5 688.6 1333.6 679.0 1342.2 671.0 1347.5 663.0 1350.8 655.0 1352.8 645.0 1352.9 635.0 1348.5 617.0 1338.4 603.0 1325.2 593.0 1313.5 586.3 1305.5 583.6 1295.5 582.8 1287.5 584.3 1276.6 589.0 1261.8 599.0 1253.5 606.6 1247.9 615.0 1244.6 623.0 1242.6 633.0 1242.5 643.0 1246.9 661.0 1251.6 669.0 1257.5 675.4 1270.2 685.0 1281.5 691.5 1291.5 694.7 1301.7 695.0Z"/><path fill-rule="evenodd" fill="#e3e6f4" d="M1407.5 841.0L1186.0 841.0 1145.5 821.5 1131.5 813.2 1117.1 801.0 1095.5 776.3 1095.5 501.7 1115.2 479.0 1129.5 466.2 1143.5 457.5 1182.2 439.0 1413.2 439.0 1449.5 456.2 1465.5 465.9 1480.2 479.0 1501.5 503.5 1501.5 774.5 1478.3 801.0 1463.5 813.5 1449.5 821.8 1407.5 841.0ZM1376.5 811.0L1382.5 807.0 1382.2 789.0 1384.5 779.0 1390.1 769.0 1398.5 759.0 1411.5 747.1 1423.5 738.7 1435.5 733.8 1453.5 731.0 1456.8 729.0 1459.2 725.0 1459.8 689.0 1463.2 637.0 1459.7 587.0 1460.2 559.0 1458.3 551.0 1453.5 547.0 1435.5 544.2 1425.5 540.4 1411.5 530.9 1398.5 519.0 1390.1 509.0 1384.5 499.0 1382.2 489.0 1383.0 473.0 1381.1 469.0 1377.5 467.3 1367.5 466.5 1337.5 468.6 1263.5 468.7 1225.5 466.4 1215.5 468.2 1212.4 473.0 1213.3 487.0 1211.6 497.0 1206.7 507.0 1198.8 517.0 1185.5 529.6 1171.5 539.5 1161.5 543.8 1141.9 547.0 1138.6 549.0 1136.2 553.0 1135.6 589.0 1132.2 641.0 1135.7 691.0 1135.2 719.0 1137.1 727.0 1141.9 731.0 1159.5 733.7 1169.5 737.4 1183.5 746.8 1196.9 759.0 1205.3 769.0 1210.9 779.0 1213.2 789.0 1212.4 805.0 1214.3 809.0 1217.5 810.6 1227.5 811.5 1255.5 809.5 1299.5 809.2 1376.5 811.0ZM1311.5 757.0L1289.5 757.4 1259.5 754.6 1247.5 751.6 1239.5 746.7 1227.5 733.7 1218.5 719.0 1202.5 683.0 1194.8 659.0 1192.4 641.0 1194.0 623.0 1198.9 605.0 1208.3 581.0 1218.5 559.0 1229.5 541.7 1241.5 529.8 1253.5 524.5 1279.5 521.3 1303.5 520.5 1337.5 523.6 1351.5 528.2 1363.5 538.8 1375.5 556.3 1390.5 589.0 1400.1 617.0 1403.0 639.0 1400.1 661.0 1388.8 693.0 1371.5 728.5 1359.5 743.4 1349.5 750.8 1337.5 754.4 1311.5 757.0ZM1304.2 695.0L1313.5 692.1 1322.9 687.0 1334.4 679.0 1342.9 671.0 1348.1 663.0 1351.3 655.0 1353.4 635.0 1349.1 617.0 1339.1 603.0 1315.5 586.9 1305.5 583.2 1295.5 582.4 1287.5 583.9 1277.5 588.1 1263.7 597.0 1253.5 605.8 1248.3 613.0 1244.1 623.0 1242.0 643.0 1243.6 653.0 1247.3 663.0 1252.5 671.0 1258.5 677.0 1272.5 687.0 1283.5 692.7 1293.5 695.4 1304.2 695.0Z"/><path fill-rule="evenodd" fill="#e9ecf6" d="M1327.5 463.0L1287.5 463.9 1251.5 461.2 1221.5 454.0 1213.6 449.0 1212.4 445.0 1217.3 439.0 1297.5 439.0 1378.1 439.0 1383.0 445.0 1381.8 449.0 1379.7 451.0 1371.3 455.0 1349.5 460.3 1327.5 463.0ZM1169.5 535.1L1161.5 536.4 1153.5 535.9 1143.5 533.2 1133.5 528.5 1127.5 523.9 1123.7 519.0 1121.5 513.0 1120.8 505.0 1125.2 489.0 1136.5 475.0 1153.5 465.5 1171.5 462.7 1185.5 465.8 1195.5 472.7 1202.9 483.0 1205.2 495.0 1202.6 505.0 1194.5 517.0 1181.5 528.8 1169.5 535.1ZM1445.5 535.1L1431.5 536.3 1419.5 532.3 1404.7 521.0 1393.8 507.0 1390.2 495.0 1391.7 485.0 1397.8 475.0 1407.5 467.0 1415.5 463.8 1423.5 462.8 1441.5 465.4 1457.5 473.9 1469.1 487.0 1472.7 495.0 1474.4 503.0 1472.7 517.0 1468.8 523.0 1463.5 527.5 1445.5 535.1ZM1321.5 755.0L1297.5 756.7 1271.5 754.7 1253.5 750.5 1241.5 744.2 1229.5 733.2 1219.8 719.0 1206.7 691.0 1198.1 667.0 1194.4 647.0 1194.6 629.0 1198.7 609.0 1206.7 587.0 1218.7 561.0 1229.5 544.8 1241.5 533.8 1257.5 526.1 1283.5 522.0 1307.5 521.6 1335.5 525.5 1351.5 532.2 1363.5 542.1 1374.5 557.0 1388.7 587.0 1396.7 609.0 1401.2 633.0 1400.0 655.0 1392.7 681.0 1376.7 717.0 1365.5 733.7 1353.5 744.5 1339.5 751.4 1321.5 755.0ZM1107.5 737.2L1101.5 738.4 1095.5 736.1 1095.5 541.9 1101.5 539.6 1107.5 540.8 1111.5 544.2 1118.5 557.0 1125.3 581.0 1127.7 605.0 1127.8 671.0 1126.0 693.0 1122.5 709.0 1117.5 723.4 1112.1 733.0 1107.5 737.2ZM1497.5 737.4L1491.5 738.4 1487.5 737.0 1483.5 733.3 1478.6 725.0 1470.5 699.0 1467.6 671.0 1467.7 605.0 1470.5 579.0 1475.5 560.7 1481.5 547.5 1487.5 541.0 1493.5 539.5 1501.5 543.1 1501.5 734.9 1497.5 737.4ZM1306.1 695.0L1323.6 687.0 1335.2 679.0 1343.7 671.0 1348.8 663.0 1352.4 653.0 1353.8 633.0 1348.8 615.0 1343.7 607.0 1337.7 601.0 1313.5 585.5 1303.5 582.4 1293.5 582.2 1283.5 584.9 1273.5 590.0 1260.2 599.0 1251.7 607.0 1246.6 615.0 1243.0 625.0 1241.6 645.0 1244.2 657.0 1247.7 665.0 1253.5 673.0 1260.2 679.0 1275.2 689.0 1285.5 693.9 1295.5 696.0 1306.1 695.0ZM1173.5 815.1L1159.5 814.2 1147.5 810.1 1135.5 802.1 1126.3 791.0 1121.6 779.0 1121.1 767.0 1125.0 757.0 1134.3 749.0 1153.5 742.1 1161.5 741.6 1169.5 742.9 1185.5 752.3 1194.5 761.0 1200.4 769.0 1205.2 783.0 1204.4 791.0 1201.5 797.7 1195.5 805.3 1189.5 810.1 1181.5 813.7 1173.5 815.1ZM1429.5 815.1L1413.5 813.6 1401.5 806.8 1392.5 795.0 1390.5 789.0 1390.4 781.0 1396.2 767.0 1411.5 751.0 1425.5 743.1 1433.5 741.6 1441.5 742.1 1457.3 747.0 1468.8 755.0 1473.9 765.0 1474.2 777.0 1469.1 791.0 1458.9 803.0 1445.5 811.1 1429.5 815.1ZM1373.5 841.0L1220.7 841.0 1214.8 837.0 1212.4 833.0 1213.6 829.0 1219.2 825.0 1247.5 817.4 1279.5 814.3 1319.5 814.5 1351.5 818.1 1376.2 825.0 1381.8 829.0 1383.0 833.0 1380.6 837.0 1373.5 841.0Z"/><path fill-rule="evenodd" fill="#f0f2f8" d="M1311.5 459.0L1283.5 459.0 1259.5 456.4 1241.1 451.0 1237.5 448.6 1235.4 445.0 1237.5 441.4 1241.0 439.0 1354.4 439.0 1359.4 443.0 1359.4 447.0 1357.5 449.0 1349.4 453.0 1332.4 457.0 1311.5 459.0ZM1171.5 529.5L1159.5 530.3 1145.5 525.7 1135.5 517.0 1131.2 507.0 1131.9 495.0 1138.6 483.0 1149.5 474.6 1161.5 470.7 1173.5 470.7 1185.5 475.0 1194.6 483.0 1199.1 493.0 1198.4 503.0 1193.4 513.0 1183.5 523.1 1171.5 529.5ZM1441.5 529.2L1429.5 530.5 1419.5 527.8 1409.3 521.0 1400.7 511.0 1396.5 501.0 1396.7 491.0 1401.5 482.1 1409.5 475.2 1423.5 470.5 1437.5 471.5 1451.5 478.1 1461.0 489.0 1464.6 501.0 1462.3 513.0 1454.0 523.0 1441.5 529.2ZM1311.5 755.1L1289.5 755.6 1265.5 752.3 1249.5 746.4 1235.5 736.9 1224.8 725.0 1214.7 707.0 1202.2 677.0 1196.7 655.0 1195.6 633.0 1198.7 613.0 1206.8 589.0 1221.0 559.0 1229.5 547.1 1241.5 536.4 1257.5 528.1 1273.5 524.2 1297.5 522.2 1323.5 524.4 1341.5 529.5 1357.5 539.1 1369.5 551.5 1378.7 567.0 1392.5 599.0 1398.7 623.0 1399.8 645.0 1396.2 667.0 1386.1 695.0 1371.9 723.0 1361.5 735.5 1347.5 745.6 1331.5 751.9 1311.5 755.1ZM1103.5 711.3L1099.5 711.6 1095.5 709.6 1095.5 568.4 1101.5 566.3 1105.5 567.7 1109.5 571.6 1116.7 587.0 1120.7 607.0 1122.3 633.0 1121.5 663.0 1118.3 685.0 1111.5 703.4 1107.5 708.7 1103.5 711.3ZM1497.5 711.0L1493.5 711.7 1489.5 710.0 1485.5 705.9 1480.8 697.0 1475.5 676.8 1473.2 649.0 1473.7 617.0 1477.5 591.4 1484.9 573.0 1489.5 568.0 1493.5 566.3 1497.5 567.0 1501.5 569.9 1501.5 708.1 1497.5 711.0ZM1307.6 695.0L1317.5 690.9 1330.4 683.0 1339.5 676.1 1345.9 669.0 1350.3 661.0 1353.4 651.0 1354.1 631.0 1348.3 613.0 1337.5 600.2 1324.3 591.0 1311.5 584.3 1301.5 581.7 1293.5 581.8 1283.5 584.5 1273.5 589.5 1259.4 599.0 1251.0 607.0 1246.0 615.0 1242.5 625.0 1240.8 637.0 1241.3 647.0 1244.3 659.0 1248.2 667.0 1254.7 675.0 1262.1 681.0 1275.5 689.6 1287.5 694.9 1297.5 696.5 1307.6 695.0ZM1173.5 807.3L1161.5 807.3 1149.5 803.4 1139.5 796.0 1133.4 787.0 1130.8 775.0 1133.1 765.0 1139.5 756.6 1149.5 750.4 1163.5 747.4 1175.5 750.0 1189.5 760.3 1197.8 773.0 1199.1 785.0 1194.6 795.0 1185.5 803.0 1173.5 807.3ZM1433.5 807.3L1421.5 807.3 1409.5 802.8 1399.5 793.2 1396.1 783.0 1398.5 771.0 1405.5 760.8 1417.5 751.2 1429.5 747.5 1441.5 748.8 1453.5 754.6 1461.3 763.0 1464.5 773.0 1462.9 785.0 1456.8 795.0 1445.5 803.6 1433.5 807.3ZM1349.5 841.0L1245.7 841.0 1237.8 837.0 1235.4 833.0 1237.5 829.4 1241.1 827.0 1261.5 821.2 1287.5 818.8 1315.5 819.2 1342.6 823.0 1357.5 829.0 1359.4 831.0 1359.4 835.0 1349.5 841.0Z"/><path fill-rule="evenodd" fill="#f7f7fb" d="M1319.5 453.1L1299.5 454.5 1277.5 453.3 1261.5 449.4 1256.8 445.0 1260.5 441.0 1265.8 439.0 1329.6 439.0 1337.7 443.0 1338.6 445.0 1337.7 447.0 1334.8 449.0 1319.5 453.1ZM1169.5 525.1L1159.5 524.9 1149.4 521.0 1141.5 513.6 1138.0 505.0 1138.8 495.0 1143.5 486.5 1151.5 480.0 1163.5 476.1 1173.5 476.6 1184.0 481.0 1191.5 488.9 1194.1 497.0 1192.3 507.0 1187.0 515.0 1179.5 521.3 1169.5 525.1ZM1435.5 525.0L1425.5 525.1 1415.5 521.1 1407.5 514.0 1402.4 505.0 1401.3 497.0 1403.8 489.0 1409.5 482.4 1417.5 477.8 1427.5 475.9 1439.5 477.9 1449.5 484.0 1455.9 493.0 1457.6 503.0 1454.3 513.0 1446.0 521.0 1435.5 525.0ZM1319.5 753.1L1295.5 754.9 1271.5 752.4 1255.5 747.4 1239.5 738.2 1227.8 727.0 1218.7 713.0 1206.0 685.0 1198.8 661.0 1196.6 639.0 1198.8 617.0 1206.0 593.0 1218.7 565.0 1227.8 551.0 1239.5 539.8 1253.5 531.5 1269.5 526.1 1293.5 523.1 1317.5 524.5 1337.5 529.6 1353.5 538.1 1365.5 548.5 1375.6 563.0 1388.6 591.0 1396.2 615.0 1398.8 637.0 1396.6 661.0 1388.6 687.0 1375.6 715.0 1365.5 729.5 1353.5 739.9 1337.5 748.4 1319.5 753.1ZM1309.0 695.0L1319.5 690.3 1334.2 681.0 1346.6 669.0 1350.9 661.0 1353.9 651.0 1354.6 631.0 1349.0 613.0 1343.5 605.1 1337.5 599.5 1311.5 583.9 1303.5 581.6 1293.5 581.3 1283.5 584.0 1273.5 589.1 1258.5 599.0 1250.3 607.0 1245.4 615.0 1241.9 625.0 1240.4 635.0 1240.8 647.0 1243.0 657.0 1247.5 667.0 1253.5 674.6 1261.2 681.0 1275.5 690.0 1287.5 695.4 1297.5 696.9 1309.0 695.0ZM1103.5 686.1L1099.5 686.6 1095.5 683.5 1095.5 594.5 1101.5 591.2 1107.5 596.1 1111.5 605.5 1114.3 619.0 1115.6 635.0 1115.0 653.0 1112.4 669.0 1108.0 681.0 1103.5 686.1ZM1497.5 685.8L1491.5 685.8 1485.5 677.1 1481.5 661.7 1479.9 645.0 1480.4 625.0 1483.5 607.0 1487.5 596.8 1493.5 591.3 1497.5 592.2 1501.5 596.8 1501.5 681.2 1497.5 685.8ZM1173.5 801.4L1163.5 801.9 1153.5 799.0 1144.9 793.0 1139.5 785.0 1137.8 775.0 1139.9 767.0 1145.5 759.9 1153.5 754.9 1165.5 752.5 1175.5 754.6 1185.5 761.4 1192.3 771.0 1194.1 781.0 1191.5 789.1 1184.0 797.0 1173.5 801.4ZM1435.5 801.3L1425.5 802.0 1415.5 799.4 1406.7 793.0 1402.1 785.0 1401.4 777.0 1405.3 767.0 1413.5 758.3 1423.5 753.4 1433.5 752.7 1443.5 755.6 1452.9 763.0 1457.0 771.0 1457.2 781.0 1453.5 789.3 1445.6 797.0 1435.5 801.3ZM1319.5 841.0L1275.2 841.0 1260.5 837.0 1256.8 833.0 1260.6 829.0 1265.9 827.0 1293.5 823.5 1320.0 825.0 1329.5 827.0 1337.7 831.0 1338.6 833.0 1337.7 835.0 1334.9 837.0 1319.5 841.0Z"/><path fill-rule="evenodd" fill="#faf7f9" d="M1173.5 519.4L1165.5 520.6 1157.5 519.1 1150.5 515.0 1145.8 509.0 1144.0 503.0 1145.1 495.0 1148.8 489.0 1155.5 483.8 1163.5 481.3 1173.5 481.9 1181.5 485.8 1187.4 493.0 1188.8 501.0 1186.2 509.0 1181.1 515.0 1173.5 519.4ZM1437.5 519.2L1429.5 520.6 1421.5 519.2 1414.3 515.0 1409.5 509.5 1406.8 503.0 1407.2 495.0 1410.5 489.0 1415.5 484.7 1423.5 481.6 1433.5 481.6 1441.9 485.0 1448.2 491.0 1451.3 499.0 1450.5 507.0 1445.5 514.4 1437.5 519.2ZM1313.5 753.1L1291.5 754.0 1267.5 750.3 1251.5 744.1 1235.5 733.4 1224.5 721.0 1214.6 703.0 1204.7 679.0 1199.0 657.0 1197.7 635.0 1200.6 613.0 1208.5 589.0 1221.9 561.0 1231.5 548.4 1243.5 538.6 1259.5 530.3 1277.5 525.6 1299.5 523.9 1321.5 526.2 1339.5 531.8 1357.5 542.6 1369.5 555.0 1378.8 571.0 1390.7 599.0 1396.4 621.0 1397.7 643.0 1394.3 667.0 1386.1 691.0 1372.2 719.0 1361.5 732.0 1347.5 742.1 1331.5 749.2 1313.5 753.1ZM1302.5 697.0L1311.5 694.5 1321.5 689.6 1335.0 681.0 1344.2 673.0 1349.7 665.0 1353.0 657.0 1355.2 647.0 1355.6 635.0 1354.1 625.0 1350.7 615.0 1345.9 607.0 1340.2 601.0 1313.5 584.3 1305.5 581.5 1295.5 580.7 1287.5 582.2 1275.5 587.5 1260.4 597.0 1251.2 605.0 1245.7 613.0 1242.4 621.0 1240.2 631.0 1239.8 643.0 1241.3 653.0 1244.7 663.0 1249.5 671.0 1255.2 677.0 1269.6 687.0 1283.5 694.4 1293.5 697.1 1302.5 697.0ZM1175.5 795.4L1167.5 796.9 1159.5 795.8 1153.4 793.0 1147.2 787.0 1144.4 781.0 1144.3 773.0 1147.5 766.2 1153.3 761.0 1161.5 757.8 1171.5 758.1 1179.5 761.7 1185.5 767.9 1188.6 775.0 1188.2 783.0 1183.5 790.5 1175.5 795.4ZM1437.5 795.2L1429.5 796.9 1421.5 795.9 1415.1 793.0 1409.1 787.0 1406.8 781.0 1407.4 773.0 1411.5 765.8 1417.5 760.7 1425.5 757.7 1435.5 758.2 1443.5 761.9 1449.5 768.7 1451.5 777.0 1449.5 784.8 1444.6 791.0 1437.5 795.2Z"/><path fill-rule="evenodd" fill="#f9f2f4" d="M1169.5 515.1L1163.5 515.1 1157.6 513.0 1153.5 509.6 1150.8 505.0 1150.4 499.0 1151.8 495.0 1155.5 490.5 1161.5 487.3 1169.5 486.7 1175.5 488.6 1179.5 491.7 1182.6 497.0 1182.9 503.0 1180.0 509.0 1175.5 512.9 1169.5 515.1ZM1431.5 515.1L1425.5 515.0 1420.1 513.0 1415.5 509.1 1413.1 505.0 1412.4 499.0 1413.6 495.0 1417.5 490.2 1423.5 487.2 1429.5 486.5 1435.5 487.9 1441.5 492.0 1444.5 497.0 1445.0 503.0 1442.4 509.0 1437.5 513.2 1431.5 515.1ZM1305.5 753.0L1283.5 752.4 1263.5 748.0 1245.5 739.3 1232.3 729.0 1220.5 713.0 1208.4 687.0 1201.9 667.0 1198.8 647.0 1199.4 625.0 1204.1 603.0 1216.4 573.0 1227.0 555.0 1237.5 544.3 1253.5 534.2 1271.5 527.7 1291.5 524.8 1311.5 525.5 1331.5 529.9 1349.5 538.4 1363.5 549.4 1374.9 565.0 1386.2 589.0 1393.0 609.0 1396.6 631.0 1396.3 651.0 1391.9 673.0 1379.9 703.0 1368.4 723.0 1357.5 734.0 1341.5 744.0 1325.5 749.9 1305.5 753.0ZM1305.0 697.0L1313.5 694.1 1325.5 687.6 1338.6 679.0 1345.0 673.0 1350.4 665.0 1354.2 655.0 1356.2 635.0 1354.7 625.0 1351.3 615.0 1346.6 607.0 1341.0 601.0 1313.5 583.9 1303.5 580.7 1295.5 580.2 1285.5 582.4 1275.5 587.1 1259.5 597.0 1250.4 605.0 1245.0 613.0 1241.8 621.0 1239.6 631.0 1239.2 643.0 1240.7 653.0 1244.1 663.0 1248.8 671.0 1255.5 678.0 1272.2 689.0 1285.5 695.6 1295.5 697.8 1305.0 697.0ZM1169.5 791.3L1163.5 791.2 1157.6 789.0 1153.5 785.5 1150.9 781.0 1150.4 775.0 1151.7 771.0 1155.5 766.4 1161.5 763.4 1169.5 762.9 1175.3 765.0 1180.0 769.0 1182.9 775.0 1182.6 781.0 1180.6 785.0 1175.5 789.4 1169.5 791.3ZM1431.5 791.3L1425.5 791.3 1419.5 789.2 1415.5 785.9 1412.8 781.0 1412.5 775.0 1415.4 769.0 1419.5 765.4 1425.5 763.0 1431.5 762.9 1437.8 765.0 1442.4 769.0 1445.0 775.0 1444.5 781.0 1442.3 785.0 1437.5 789.2 1431.5 791.3Z"/><path fill-rule="evenodd" fill="#f9edee" d="M1171.5 507.1L1165.5 508.2 1161.5 506.7 1158.7 503.0 1159.7 497.0 1165.5 493.7 1171.9 495.0 1175.3 501.0 1171.5 507.1ZM1433.5 507.0L1427.5 508.2 1423.5 506.8 1420.5 503.0 1421.5 496.8 1427.5 493.6 1433.6 495.0 1437.0 501.0 1433.5 507.0ZM1315.5 751.1L1295.5 752.5 1273.5 749.8 1255.5 743.6 1237.5 732.5 1226.5 721.0 1217.2 705.0 1206.2 679.0 1200.7 657.0 1199.4 635.0 1202.7 611.0 1210.0 589.0 1222.6 563.0 1231.6 551.0 1245.5 539.8 1261.5 531.8 1281.5 526.7 1303.5 525.6 1323.5 528.5 1339.5 534.2 1357.5 545.2 1368.8 557.0 1378.2 573.0 1389.2 599.0 1394.7 621.0 1396.0 643.0 1392.7 667.0 1384.6 691.0 1372.8 715.0 1363.5 727.3 1349.5 738.4 1333.5 746.3 1315.5 751.1ZM1306.8 697.0L1317.5 692.6 1333.8 683.0 1347.4 671.0 1352.0 663.0 1355.3 653.0 1356.8 643.0 1356.4 631.0 1351.1 613.0 1345.8 605.0 1339.5 599.0 1311.5 582.6 1301.5 579.9 1293.5 579.9 1285.5 582.0 1273.5 587.8 1258.6 597.0 1249.5 605.1 1244.3 613.0 1240.5 623.0 1238.6 635.0 1239.0 647.0 1241.1 657.0 1245.4 667.0 1251.4 675.0 1257.5 680.2 1285.5 696.0 1295.5 698.3 1306.8 697.0ZM1171.5 783.3L1165.5 784.3 1161.5 782.7 1158.7 779.0 1159.7 773.0 1163.5 770.3 1167.5 769.7 1173.5 772.6 1175.0 779.0 1171.5 783.3ZM1433.5 783.0L1427.5 784.4 1423.4 783.0 1420.4 779.0 1421.5 773.0 1427.5 769.8 1433.5 771.0 1437.0 777.0 1433.5 783.0Z"/><path fill-rule="evenodd" fill="#f8e8e9" d="M1309.5 751.1L1289.5 751.5 1269.5 747.9 1251.5 740.6 1235.5 729.7 1224.7 717.0 1212.4 693.0 1204.4 671.0 1200.7 651.0 1200.5 629.0 1204.4 607.0 1214.2 581.0 1226.0 559.0 1237.5 546.6 1251.5 537.4 1269.5 530.1 1287.5 526.7 1307.5 526.7 1327.5 530.6 1345.5 538.3 1361.5 549.8 1372.0 563.0 1383.0 585.0 1391.0 607.0 1394.7 627.0 1394.9 649.0 1391.0 671.0 1382.1 695.0 1370.7 717.0 1359.5 730.0 1345.5 739.7 1327.5 747.4 1309.5 751.1ZM1308.4 697.0L1334.6 683.0 1348.2 671.0 1352.8 663.0 1356.0 653.0 1357.4 643.0 1357.1 631.0 1351.8 613.0 1346.7 605.0 1340.4 599.0 1311.5 582.1 1301.5 579.4 1293.5 579.4 1283.5 582.3 1273.5 587.3 1257.7 597.0 1248.7 605.0 1243.6 613.0 1239.9 623.0 1237.9 635.0 1238.3 647.0 1240.4 657.0 1244.6 667.0 1250.5 675.0 1257.7 681.0 1275.5 691.8 1287.5 697.2 1297.5 698.9 1308.4 697.0Z"/><path fill-rule="evenodd" fill="#f8e2e3" d="M1299.5 751.0L1279.5 749.4 1261.5 744.3 1245.5 736.2 1231.5 724.7 1220.8 709.0 1208.3 681.0 1202.8 661.0 1200.8 641.0 1202.2 621.0 1206.9 601.0 1218.7 573.0 1229.5 555.6 1241.5 544.5 1259.5 534.6 1275.5 529.4 1295.5 527.0 1315.5 528.5 1333.5 533.6 1349.5 541.6 1363.6 553.0 1374.6 569.0 1386.3 595.0 1392.2 615.0 1394.6 637.0 1393.2 657.0 1388.5 677.0 1376.7 705.0 1365.5 722.8 1353.5 733.8 1335.5 743.6 1317.5 749.1 1299.5 751.0ZM1302.3 699.0L1311.5 696.3 1323.5 690.2 1338.6 681.0 1347.5 673.0 1352.6 665.0 1356.3 655.0 1358.1 635.0 1353.5 615.0 1349.1 607.0 1343.7 601.0 1313.5 582.5 1303.5 579.2 1295.5 578.7 1287.5 580.3 1277.5 584.7 1257.5 596.5 1249.5 603.2 1243.8 611.0 1239.7 621.0 1237.7 631.0 1237.3 643.0 1241.9 663.0 1246.3 671.0 1251.7 677.0 1263.1 685.0 1283.5 696.2 1293.5 699.1 1302.3 699.0Z"/><path fill-rule="evenodd" fill="#f7ddde" d="M1313.5 749.0L1293.5 750.2 1273.5 747.3 1253.5 739.8 1237.5 729.4 1226.3 717.0 1216.6 699.0 1207.0 675.0 1202.6 655.0 1201.7 633.0 1204.8 611.0 1212.2 589.0 1225.0 563.0 1235.5 550.3 1249.5 540.4 1267.5 532.4 1285.5 528.5 1305.5 528.0 1325.5 531.7 1345.5 540.1 1359.5 550.0 1369.1 561.0 1378.8 579.0 1388.4 603.0 1392.8 623.0 1393.7 645.0 1390.6 667.0 1383.2 689.0 1370.4 715.0 1360.6 727.0 1347.5 736.7 1331.5 744.3 1313.5 749.0ZM1305.0 699.0L1315.5 695.0 1333.2 685.0 1342.3 679.0 1348.4 673.0 1353.4 665.0 1357.0 655.0 1358.7 645.0 1358.7 633.0 1354.3 615.0 1349.9 607.0 1344.6 601.0 1313.5 582.0 1303.5 578.6 1295.5 578.1 1287.5 579.8 1277.5 584.2 1257.5 595.9 1248.7 603.0 1243.0 611.0 1239.0 621.0 1236.7 633.0 1236.7 645.0 1238.4 655.0 1242.0 665.0 1247.0 673.0 1253.1 679.0 1285.5 697.5 1295.5 699.9 1305.0 699.0Z"/><path fill-rule="evenodd" fill="#f7d8d8" d="M1307.5 749.0L1287.5 749.0 1269.5 745.4 1251.5 737.9 1235.5 726.7 1224.5 713.0 1212.8 689.0 1205.9 669.0 1202.6 649.0 1202.8 627.0 1206.5 607.0 1216.4 581.0 1227.5 560.4 1237.5 549.5 1251.5 540.1 1269.5 532.6 1289.5 528.8 1309.5 529.2 1329.5 533.8 1347.5 542.1 1361.5 552.8 1372.1 567.0 1383.4 591.0 1390.0 611.0 1392.8 629.0 1392.6 651.0 1388.9 671.0 1379.9 695.0 1368.3 717.0 1357.5 728.9 1343.5 738.1 1325.5 745.5 1307.5 749.0ZM1306.9 699.0L1337.4 683.0 1349.3 673.0 1354.2 665.0 1357.7 655.0 1359.4 633.0 1355.1 615.0 1350.8 607.0 1345.5 600.9 1313.5 581.6 1303.5 578.1 1295.5 577.5 1287.5 579.3 1277.5 583.8 1258.0 595.0 1247.8 603.0 1242.2 611.0 1238.2 621.0 1236.0 633.0 1236.0 645.0 1241.2 665.0 1246.1 673.0 1252.2 679.0 1285.5 698.0 1295.5 700.5 1306.9 699.0Z"/><path fill-rule="evenodd" fill="#f6d3d3" d="M1315.5 747.1L1295.5 748.8 1275.5 746.2 1257.5 740.0 1239.5 729.3 1229.3 719.0 1220.8 705.0 1209.5 678.6 1204.2 657.0 1202.9 635.0 1205.6 613.0 1212.7 591.0 1225.2 565.0 1234.6 553.0 1247.5 543.2 1265.5 534.8 1283.5 530.3 1301.5 529.3 1321.5 532.2 1341.5 539.7 1357.5 550.0 1367.6 561.0 1376.5 577.0 1386.4 601.0 1391.2 621.0 1392.5 643.0 1389.8 665.0 1382.7 687.0 1370.2 713.0 1361.5 724.3 1349.5 733.9 1333.5 741.9 1315.5 747.1ZM1300.1 701.0L1309.5 698.7 1319.5 693.8 1339.5 682.3 1348.6 675.0 1354.1 667.0 1357.4 659.0 1359.7 649.0 1360.4 637.0 1356.7 617.0 1353.0 609.0 1346.6 601.0 1315.5 582.0 1305.5 578.0 1297.5 576.9 1289.5 578.1 1279.5 582.3 1257.0 595.0 1246.8 603.0 1242.4 609.0 1238.0 619.0 1235.7 629.0 1235.0 641.0 1238.6 661.0 1242.4 669.0 1248.8 677.0 1257.0 683.0 1283.5 697.7 1291.5 700.4 1300.1 701.0Z"/><path fill-rule="evenodd" fill="#f6cdcd" d="M1311.5 747.0L1291.5 747.8 1273.5 744.9 1253.5 737.3 1237.5 726.9 1227.2 715.0 1217.7 697.0 1209.0 675.0 1204.3 653.0 1203.7 631.0 1207.2 609.0 1215.1 587.0 1227.2 563.0 1237.5 551.1 1251.5 541.7 1269.5 534.2 1287.5 530.5 1307.5 530.5 1325.5 534.1 1345.5 542.6 1359.5 552.6 1369.5 565.0 1379.5 585.1 1387.5 606.6 1391.1 625.0 1391.7 647.0 1388.2 669.0 1379.5 692.9 1368.2 715.0 1359.5 725.4 1345.5 735.4 1329.5 742.6 1311.5 747.0ZM1304.0 701.0L1315.5 696.4 1339.4 683.0 1351.3 673.0 1356.0 665.0 1359.4 655.0 1360.9 633.0 1356.9 615.0 1352.7 607.0 1347.5 600.9 1339.4 595.0 1313.5 580.5 1303.5 576.9 1295.5 576.3 1279.5 581.8 1255.9 595.0 1245.8 603.0 1240.3 611.0 1236.5 621.0 1234.4 633.0 1234.4 645.0 1239.4 665.0 1244.1 673.0 1250.1 679.0 1285.5 699.1 1295.5 701.7 1304.0 701.0Z"/><path fill-rule="evenodd" fill="#f5c7c7" d="M1303.5 747.1L1285.5 746.5 1265.5 741.6 1247.5 733.3 1234.3 723.0 1224.2 709.0 1212.5 683.0 1206.9 665.0 1204.2 645.0 1205.1 623.0 1209.5 603.5 1221.2 575.0 1230.8 559.0 1241.5 548.7 1257.5 539.5 1275.5 533.4 1293.5 530.8 1313.5 532.1 1331.5 536.9 1349.5 545.7 1361.5 555.4 1371.2 569.0 1383.5 596.6 1388.9 615.0 1391.2 633.0 1390.5 653.0 1386.4 673.0 1375.1 701.0 1365.5 717.8 1355.5 728.1 1339.5 737.7 1321.5 744.2 1303.5 747.1ZM1306.2 701.0L1340.5 683.0 1352.3 673.0 1357.0 665.0 1360.3 655.0 1361.8 633.0 1357.0 613.0 1352.3 605.0 1347.5 600.0 1313.5 580.0 1303.5 576.2 1295.5 575.6 1287.5 577.5 1277.5 582.3 1253.5 595.9 1244.8 603.0 1239.4 611.0 1235.7 621.0 1233.6 633.0 1233.6 645.0 1238.4 665.0 1243.1 673.0 1249.0 679.0 1287.5 700.5 1297.5 702.5 1306.2 701.0Z"/><path fill-rule="evenodd" fill="#f5c1c1" d="M1313.5 745.1L1295.5 746.4 1275.5 743.8 1255.5 736.8 1239.5 727.0 1230.0 717.0 1221.9 703.0 1211.0 677.0 1205.8 655.0 1204.9 633.0 1207.6 613.0 1215.5 589.4 1227.5 564.6 1237.2 553.0 1249.5 544.2 1267.5 536.5 1285.5 532.3 1303.5 531.7 1323.5 535.1 1341.5 541.9 1357.5 552.4 1366.9 563.0 1375.4 579.0 1385.5 604.3 1389.6 623.0 1390.5 645.0 1387.5 666.4 1381.5 684.7 1368.2 713.0 1359.5 723.8 1347.5 732.8 1331.5 740.3 1313.5 745.1ZM1300.5 703.0L1315.5 697.5 1341.6 683.0 1351.8 675.0 1357.1 667.0 1360.1 659.0 1362.8 637.0 1361.6 625.0 1358.8 615.0 1354.8 607.0 1349.8 601.0 1341.6 595.0 1313.5 579.5 1305.5 576.0 1297.5 574.8 1289.5 576.2 1281.5 579.7 1253.8 595.0 1245.5 601.1 1240.6 607.0 1235.9 617.0 1233.2 629.0 1232.6 641.0 1233.8 653.0 1236.6 663.0 1240.6 671.0 1245.6 677.0 1253.8 683.0 1283.5 699.3 1291.5 702.4 1300.5 703.0Z"/><path fill-rule="evenodd" fill="#f5bcbc" d="M1307.5 745.1L1287.5 745.1 1269.5 741.4 1251.5 734.1 1237.5 724.5 1226.7 711.0 1215.5 686.9 1209.2 669.0 1205.8 649.0 1205.8 629.0 1209.5 608.0 1221.6 577.0 1230.7 561.0 1240.4 551.0 1253.5 542.9 1271.5 536.1 1289.5 532.7 1308.7 533.0 1327.5 537.1 1345.5 544.7 1359.5 555.0 1369.8 569.0 1381.5 595.1 1387.2 613.0 1389.7 629.0 1389.5 651.0 1385.6 671.0 1375.6 697.0 1366.2 715.0 1355.5 726.6 1343.5 734.3 1325.5 741.5 1307.5 745.1ZM1304.3 703.0L1342.8 683.0 1353.0 675.0 1358.2 667.0 1361.6 657.0 1363.5 645.0 1363.5 633.0 1359.1 613.0 1354.6 605.0 1349.5 599.6 1311.5 577.8 1303.5 574.8 1295.5 574.1 1279.5 580.2 1252.6 595.0 1242.4 603.0 1237.3 611.0 1233.7 621.0 1231.9 633.0 1231.9 645.0 1236.3 665.0 1240.8 673.0 1246.6 679.0 1287.5 701.8 1295.5 703.9 1304.3 703.0Z"/><path fill-rule="evenodd" fill="#f4b6b6" d="M1315.5 743.1L1297.5 744.8 1277.5 742.6 1257.5 736.2 1241.3 727.0 1231.5 717.2 1224.2 705.0 1211.8 675.0 1207.3 657.0 1206.1 635.0 1208.9 613.0 1215.5 593.0 1228.6 565.0 1237.5 554.2 1249.5 545.6 1265.5 538.7 1283.5 534.3 1301.5 533.3 1321.5 536.3 1341.5 543.4 1355.5 552.1 1364.0 561.0 1371.2 573.0 1383.5 602.5 1388.0 621.0 1389.4 643.0 1386.9 663.0 1381.5 681.0 1368.0 711.0 1359.5 722.2 1347.5 731.4 1333.5 738.0 1315.5 743.1ZM1306.6 703.0L1344.1 683.0 1354.2 675.0 1359.3 667.0 1362.7 657.0 1364.4 645.0 1364.2 631.0 1359.3 611.0 1350.0 599.0 1309.5 576.2 1301.5 573.5 1295.5 573.3 1281.5 578.5 1249.5 596.1 1241.2 603.0 1236.1 611.0 1232.7 621.0 1231.0 633.0 1231.2 647.0 1236.1 667.0 1245.4 679.0 1287.5 702.5 1297.5 704.8 1306.6 703.0Z"/><path fill-rule="evenodd" fill="#f4b0b0" d="M1309.5 743.1L1289.5 743.5 1269.5 739.7 1251.5 732.7 1237.5 723.0 1229.2 713.0 1221.3 697.0 1211.5 671.9 1207.2 651.0 1206.9 631.0 1210.1 611.0 1221.5 580.6 1230.6 563.0 1239.7 553.0 1253.5 544.3 1269.5 538.3 1287.5 534.7 1307.5 534.7 1325.5 538.2 1343.5 545.1 1357.5 554.6 1366.2 565.0 1373.2 579.0 1383.6 605.0 1388.1 627.0 1388.5 647.0 1385.5 666.2 1373.2 699.0 1364.8 715.0 1355.5 725.2 1343.5 732.9 1327.5 739.2 1309.5 743.1ZM1303.0 705.0L1345.4 683.0 1355.6 675.0 1360.6 667.0 1363.3 659.0 1365.4 635.0 1362.1 615.0 1358.5 607.0 1353.7 601.0 1345.4 595.0 1309.5 575.5 1297.5 572.2 1285.5 575.7 1250.0 595.0 1241.7 601.0 1236.9 607.0 1232.7 617.0 1230.4 629.0 1230.0 643.0 1234.0 665.0 1238.2 673.0 1244.0 679.0 1287.5 703.3 1295.5 705.6 1303.0 705.0Z"/><path fill-rule="evenodd" fill="#f3aaaa" d="M1315.5 741.2L1297.5 742.9 1277.5 740.7 1257.5 734.8 1241.5 725.7 1232.7 717.0 1225.5 705.0 1213.5 675.5 1209.1 659.0 1207.3 637.0 1209.5 616.8 1215.5 597.2 1228.7 567.0 1236.2 557.0 1247.5 548.2 1261.5 541.7 1279.5 536.9 1297.5 535.1 1317.5 537.2 1337.5 543.1 1353.5 551.9 1362.7 561.0 1368.9 571.0 1381.5 601.4 1386.3 619.0 1388.1 641.0 1385.5 663.0 1379.5 681.8 1366.7 711.0 1359.2 721.0 1347.5 730.1 1333.5 736.4 1315.5 741.2ZM1305.8 705.0L1346.9 683.0 1357.1 675.0 1361.9 667.0 1364.8 657.0 1366.2 631.0 1361.9 611.0 1358.6 605.0 1353.0 599.0 1307.5 573.7 1295.5 571.4 1287.5 573.9 1248.5 595.0 1238.3 603.0 1233.5 611.0 1230.6 621.0 1229.2 647.0 1233.5 667.0 1236.8 673.0 1242.4 679.0 1289.5 705.0 1297.5 706.7 1305.8 705.0Z"/><path fill-rule="evenodd" fill="#f3a4a4" d="M1309.5 741.0L1289.5 741.4 1269.5 737.9 1251.5 731.4 1239.5 723.4 1231.9 715.0 1225.3 703.0 1213.5 672.9 1208.9 653.0 1208.2 633.0 1211.5 611.6 1223.7 579.0 1230.6 565.0 1239.5 554.6 1251.5 546.6 1267.5 540.6 1285.5 537.0 1305.5 536.6 1325.5 540.0 1343.5 546.4 1356.3 555.0 1363.5 563.0 1370.1 575.0 1381.8 605.0 1386.7 627.0 1387.1 647.0 1383.5 667.8 1370.1 703.0 1363.5 715.0 1355.5 723.7 1343.5 731.6 1329.3 737.0 1309.5 741.0ZM1303.0 707.0L1348.5 683.0 1358.8 675.0 1362.5 669.0 1365.6 659.0 1367.3 633.0 1364.0 613.0 1357.0 601.0 1348.5 595.0 1327.9 585.0 1309.5 573.8 1297.5 570.1 1285.5 574.0 1267.5 585.0 1246.9 595.0 1238.4 601.0 1233.9 607.0 1230.2 617.0 1228.4 629.0 1228.1 645.0 1232.1 667.0 1235.2 673.0 1240.7 679.0 1289.5 706.0 1295.5 707.7 1303.0 707.0Z"/><path fill-rule="evenodd" fill="#f39f9f" d="M1315.5 739.0L1297.5 740.4 1277.5 738.6 1257.5 733.3 1243.5 725.9 1234.1 717.0 1227.9 707.0 1211.5 663.0 1208.9 643.0 1210.3 621.0 1213.5 608.0 1227.9 571.0 1234.1 561.0 1243.5 552.1 1255.5 545.5 1269.5 541.0 1291.5 537.7 1311.5 538.4 1333.5 543.1 1349.5 550.5 1359.5 558.9 1366.5 569.0 1383.5 613.4 1386.4 633.0 1385.5 655.0 1381.5 671.2 1366.5 709.0 1357.7 721.0 1347.5 728.7 1333.5 734.9 1315.5 739.0ZM1299.0 709.0L1307.5 706.2 1328.9 693.0 1351.5 682.3 1358.9 677.0 1363.2 671.0 1366.0 663.0 1368.5 637.0 1366.0 615.0 1363.2 607.0 1358.9 601.0 1351.5 595.7 1328.9 585.0 1307.5 571.8 1297.5 568.9 1287.5 572.0 1266.5 585.0 1243.5 595.9 1236.5 601.0 1232.2 607.0 1229.4 615.0 1226.9 641.0 1229.4 663.0 1232.2 671.0 1236.5 677.0 1243.5 682.1 1266.5 693.0 1287.5 706.0 1293.5 708.6 1299.0 709.0Z"/><path fill-rule="evenodd" fill="#f29999" d="M1297.5 739.0L1275.5 737.1 1259.5 733.3 1245.5 726.6 1235.5 717.8 1227.6 705.0 1213.5 666.7 1210.6 653.0 1209.5 639.0 1210.6 625.0 1213.5 611.3 1227.6 573.0 1235.5 560.2 1245.5 551.4 1259.5 544.7 1275.5 540.9 1297.5 539.0 1319.5 540.8 1335.5 544.6 1349.5 551.2 1359.5 559.7 1367.8 573.0 1381.5 610.0 1384.8 625.0 1385.8 639.0 1384.8 653.0 1381.5 668.0 1367.8 705.0 1359.5 718.3 1349.5 726.8 1335.5 733.4 1319.5 737.2 1297.5 739.0ZM1304.2 709.0L1329.5 693.2 1356.1 681.0 1362.8 675.0 1365.9 669.0 1368.3 659.0 1369.4 631.0 1366.6 611.0 1364.1 605.0 1359.0 599.0 1327.5 583.7 1305.5 569.5 1297.5 567.4 1289.5 569.7 1269.2 583.0 1243.0 595.0 1234.2 601.0 1230.3 607.0 1227.5 617.0 1226.0 647.0 1228.8 667.0 1232.6 675.0 1236.4 679.0 1267.5 694.1 1291.5 709.2 1297.5 710.6 1304.2 709.0Z"/><path fill-rule="evenodd" fill="#f29393" d="M1303.5 737.0L1281.5 736.5 1263.5 733.6 1249.5 728.3 1239.5 721.2 1233.5 714.3 1228.4 705.0 1215.5 668.9 1211.5 653.3 1210.6 635.0 1212.7 619.0 1230.3 569.0 1237.3 559.0 1245.5 552.1 1255.5 547.0 1269.5 543.0 1293.5 540.9 1319.5 542.1 1337.5 546.1 1351.5 553.2 1359.9 561.0 1366.1 571.0 1383.5 622.3 1384.9 641.0 1382.7 659.0 1367.8 703.0 1361.5 714.9 1351.5 724.8 1339.5 731.2 1325.5 735.0 1303.5 737.0ZM1303.2 711.0L1327.5 694.8 1355.1 683.0 1364.0 677.0 1367.4 671.0 1369.2 663.0 1370.5 629.0 1368.0 609.0 1365.4 603.0 1361.9 599.0 1330.9 585.0 1305.5 568.1 1297.5 565.7 1289.5 568.3 1265.5 584.5 1240.3 595.0 1231.5 601.0 1228.0 607.0 1226.1 615.0 1224.8 647.0 1227.4 669.0 1229.9 675.0 1233.6 679.0 1267.5 694.6 1291.5 710.7 1297.5 712.3 1303.2 711.0Z"/><path fill-rule="evenodd" fill="#f18e8e" d="M1329.5 733.3L1315.5 734.7 1281.5 734.7 1261.5 732.2 1251.5 728.6 1241.5 722.2 1234.7 715.0 1229.1 705.0 1222.9 679.0 1217.5 669.1 1213.5 657.6 1211.5 641.0 1212.7 625.0 1215.5 613.7 1222.9 599.0 1227.1 579.0 1231.0 569.0 1240.1 557.0 1253.5 548.5 1265.5 544.8 1277.5 543.4 1315.5 543.3 1331.5 545.2 1343.5 549.2 1353.5 555.4 1360.7 563.0 1366.3 573.0 1372.4 599.0 1379.5 612.6 1382.7 625.0 1383.8 643.0 1381.5 659.2 1372.4 679.0 1367.7 701.0 1361.5 713.9 1355.3 721.0 1347.5 726.7 1329.5 733.3ZM1303.1 713.0L1328.2 695.0 1361.5 681.8 1368.3 677.0 1371.3 663.0 1371.8 625.0 1370.5 607.0 1366.4 599.0 1331.5 584.8 1318.9 577.0 1305.5 566.3 1297.5 563.5 1289.5 566.6 1265.5 583.9 1233.5 596.4 1227.1 601.0 1224.1 615.0 1223.7 655.0 1224.9 671.0 1229.1 679.0 1267.2 695.0 1293.5 713.7 1297.5 714.5 1303.1 713.0Z"/><path fill-rule="evenodd" fill="#f08889" d="M1365.5 593.8L1349.5 590.9 1331.5 584.2 1319.9 577.0 1303.5 562.3 1297.5 560.0 1291.5 562.7 1269.7 581.0 1253.5 588.5 1237.5 593.0 1229.5 593.7 1227.5 591.3 1227.2 585.0 1229.9 573.0 1235.4 563.0 1243.5 554.9 1253.5 549.2 1271.5 545.1 1297.5 547.6 1323.5 545.1 1333.5 546.5 1343.5 549.9 1351.5 554.6 1358.4 561.0 1363.7 569.0 1367.3 579.0 1368.2 589.0 1367.5 592.3 1365.5 593.8ZM1219.5 664.9L1215.5 658.4 1212.8 639.0 1215.5 619.6 1219.5 613.1 1221.5 617.6 1221.9 639.0 1221.5 660.4 1219.5 664.9ZM1377.5 663.5L1375.5 664.9 1373.6 655.0 1373.6 623.0 1375.5 613.1 1379.5 618.5 1382.6 637.0 1381.5 652.2 1377.5 663.5ZM1333.5 731.5L1317.5 732.9 1297.5 730.4 1273.5 733.0 1263.5 731.8 1253.5 728.8 1241.5 721.5 1233.5 712.2 1228.1 699.0 1227.5 686.7 1229.5 684.3 1235.5 684.6 1261.5 692.6 1272.8 699.0 1291.5 715.3 1297.5 718.0 1303.5 715.7 1319.9 701.0 1333.5 692.8 1355.5 685.6 1363.5 684.1 1366.9 685.0 1368.2 689.0 1367.3 699.0 1364.7 707.0 1360.0 715.0 1349.1 725.0 1333.5 731.5Z"/><path fill-rule="evenodd" fill="#f08384" d="M1239.5 591.1L1231.5 590.5 1229.1 587.0 1228.9 581.0 1233.5 567.0 1243.5 555.6 1255.5 549.2 1269.5 546.5 1281.5 547.8 1290.4 553.0 1291.1 557.0 1287.9 563.0 1274.6 577.0 1259.5 585.7 1239.5 591.1ZM1361.5 591.2L1353.5 590.8 1341.5 587.8 1323.6 579.0 1308.9 565.0 1304.3 557.0 1305.0 553.0 1313.5 547.9 1325.5 546.5 1337.5 548.4 1349.5 553.9 1359.3 563.0 1365.3 575.0 1366.2 587.0 1365.4 589.0 1361.5 591.2ZM1217.5 653.3L1215.5 648.9 1214.7 639.0 1215.5 629.1 1217.5 624.7 1219.5 629.3 1219.8 639.0 1219.5 648.7 1217.5 653.3ZM1377.5 653.4L1375.5 639.0 1377.5 624.6 1379.5 627.7 1380.7 639.0 1379.5 650.3 1377.5 653.4ZM1277.5 731.1L1267.5 731.4 1257.5 729.5 1249.5 726.2 1241.5 720.7 1234.7 713.0 1230.7 705.0 1228.8 695.0 1230.0 689.0 1235.5 686.6 1251.5 689.5 1265.2 695.0 1277.0 703.0 1287.9 715.0 1291.2 723.0 1287.5 727.6 1277.5 731.1ZM1329.5 731.2L1317.5 731.0 1307.0 727.0 1305.0 725.0 1304.3 721.0 1308.9 713.0 1320.8 701.0 1333.5 693.4 1351.5 687.6 1363.5 687.3 1366.2 691.0 1366.2 699.0 1363.9 707.0 1359.3 715.0 1347.5 725.3 1339.5 728.9 1329.5 731.2Z"/><path fill-rule="evenodd" fill="#ef7d7f" d="M1245.5 589.1L1234.5 589.0 1231.5 586.7 1230.3 583.0 1232.3 571.0 1240.5 559.0 1251.5 551.6 1263.5 548.1 1275.5 548.5 1284.5 553.0 1286.5 557.0 1286.2 561.0 1283.2 567.0 1276.0 575.0 1261.5 584.2 1245.5 589.1ZM1359.5 589.4L1351.5 589.4 1339.5 586.4 1321.8 577.0 1315.4 571.0 1309.9 563.0 1308.9 557.0 1310.9 553.0 1317.9 549.0 1329.5 547.9 1341.5 550.5 1351.5 556.1 1359.9 565.0 1364.4 575.0 1364.7 585.0 1363.5 587.2 1359.5 589.4ZM1275.5 729.5L1267.5 730.2 1257.5 728.7 1249.5 725.5 1241.5 720.0 1235.4 713.0 1231.5 705.0 1230.1 697.0 1231.7 691.0 1237.5 688.4 1251.5 690.2 1264.1 695.0 1276.0 703.0 1283.2 711.0 1286.6 719.0 1284.5 725.0 1275.5 729.5ZM1335.5 729.3L1321.5 729.8 1311.5 725.5 1308.8 719.0 1312.2 711.0 1321.8 701.0 1335.5 693.1 1351.5 688.6 1361.5 689.2 1364.7 693.0 1365.2 699.0 1359.9 713.0 1349.5 723.4 1335.5 729.3Z"/><path fill-rule="evenodd" fill="#ef787a" d="M1251.5 587.1L1237.5 588.0 1233.5 585.8 1231.9 583.0 1232.4 573.0 1239.3 561.0 1247.5 554.4 1259.5 549.7 1271.5 549.3 1280.3 553.0 1283.3 557.0 1283.8 561.0 1278.9 571.0 1266.7 581.0 1251.5 587.1ZM1359.5 587.4L1353.5 588.4 1343.5 587.0 1325.5 579.0 1318.3 573.0 1312.7 565.0 1311.6 559.0 1313.2 555.0 1319.5 550.5 1329.5 548.9 1339.5 550.6 1349.5 555.4 1357.7 563.0 1363.0 573.0 1363.5 583.0 1359.5 587.4ZM1267.5 729.1L1259.5 728.3 1251.5 725.7 1239.3 717.0 1235.0 711.0 1231.9 703.0 1231.5 697.0 1233.5 692.2 1241.5 689.6 1253.5 691.4 1266.7 697.0 1277.1 705.0 1282.7 713.0 1283.3 721.0 1277.5 726.8 1267.5 729.1ZM1329.5 729.1L1319.5 727.5 1313.2 723.0 1311.6 719.0 1312.0 715.0 1316.5 707.0 1325.5 699.0 1339.5 692.2 1353.5 689.6 1361.5 691.8 1363.9 697.0 1363.5 703.0 1360.4 711.0 1356.1 717.0 1343.5 725.9 1329.5 729.1Z"/><path fill-rule="evenodd" fill="#ee7275" d="M1247.5 587.1L1237.5 586.3 1233.0 581.0 1233.9 571.0 1240.2 561.0 1249.5 554.0 1259.5 550.6 1271.5 550.8 1279.1 555.0 1281.4 559.0 1281.5 563.0 1276.0 573.0 1263.5 582.1 1247.5 587.1ZM1353.5 587.3L1337.5 584.5 1329.5 580.8 1321.4 575.0 1314.3 565.0 1314.0 559.0 1316.3 555.0 1323.5 550.9 1333.5 550.2 1343.5 552.9 1353.2 559.0 1359.6 567.0 1362.8 577.0 1362.4 581.0 1360.0 585.0 1353.5 587.3ZM1271.5 727.2L1263.5 727.9 1255.5 726.5 1247.5 722.9 1241.5 718.3 1237.0 713.0 1233.3 705.0 1233.0 697.0 1235.4 693.0 1243.5 690.7 1253.5 692.1 1265.5 696.9 1274.0 703.0 1280.2 711.0 1281.7 717.0 1279.1 723.0 1271.5 727.2ZM1337.5 727.1L1325.5 727.5 1317.5 724.0 1314.8 721.0 1313.7 717.0 1316.3 709.0 1323.8 701.0 1337.5 693.5 1351.5 690.7 1359.5 692.6 1361.6 695.0 1362.8 701.0 1358.4 713.0 1349.5 721.9 1337.5 727.1Z"/><path fill-rule="evenodd" fill="#ed6d70" d="M1253.5 585.2L1241.5 586.0 1235.5 582.6 1233.9 575.0 1237.8 565.0 1245.5 557.2 1255.5 552.4 1265.5 551.2 1275.5 554.5 1279.8 561.0 1279.5 565.0 1276.6 571.0 1267.5 579.2 1253.5 585.2ZM1355.5 585.6L1349.5 586.3 1341.5 585.1 1331.5 581.3 1324.8 577.0 1316.5 567.0 1315.6 561.0 1317.3 557.0 1323.5 552.5 1331.5 551.1 1341.5 552.9 1349.6 557.0 1357.5 564.9 1361.2 573.0 1360.8 581.0 1355.5 585.6ZM1271.5 725.6L1265.5 726.8 1257.5 726.2 1249.5 723.3 1243.2 719.0 1237.8 713.0 1234.8 707.0 1233.8 701.0 1235.8 695.0 1241.5 692.0 1251.5 692.3 1263.5 696.5 1273.0 703.0 1278.9 711.0 1279.8 717.0 1277.5 721.7 1271.5 725.6ZM1341.5 725.1L1331.5 726.9 1321.5 724.5 1316.2 719.0 1316.5 711.0 1322.4 703.0 1333.5 695.7 1347.5 691.8 1357.0 693.0 1359.6 695.0 1361.5 699.0 1359.8 709.0 1352.2 719.0 1341.5 725.1Z"/><path fill-rule="evenodd" fill="#ed676b" d="M1249.5 585.2L1239.5 583.9 1235.3 579.0 1235.7 571.0 1241.5 561.5 1249.5 555.5 1259.5 552.4 1269.0 553.0 1275.5 556.7 1278.0 561.0 1278.1 565.0 1273.9 573.0 1263.3 581.0 1249.5 585.2ZM1351.5 585.2L1337.5 583.3 1323.4 575.0 1317.3 565.0 1317.4 561.0 1319.6 557.0 1325.5 553.3 1333.5 552.2 1343.5 554.4 1351.5 559.3 1358.0 567.0 1360.5 575.0 1360.1 579.0 1357.5 582.9 1351.5 585.2ZM1267.5 725.4L1261.5 725.8 1253.5 724.2 1242.0 717.0 1237.4 711.0 1235.2 705.0 1235.3 699.0 1237.5 695.5 1243.5 692.8 1253.5 693.5 1263.5 697.1 1272.0 703.0 1277.6 711.0 1278.0 717.0 1273.5 722.9 1267.5 725.4ZM1337.5 725.4L1327.5 725.3 1319.6 721.0 1317.1 715.0 1319.9 707.0 1327.5 699.8 1337.5 694.7 1349.5 692.6 1357.4 695.0 1360.1 699.0 1360.5 703.0 1356.7 713.0 1348.4 721.0 1337.5 725.4Z"/><path fill-rule="evenodd" fill="#ec6266" d="M1255.5 583.4L1245.5 584.4 1238.0 581.0 1236.0 575.0 1238.3 567.0 1245.3 559.0 1253.5 554.6 1263.5 553.2 1271.5 555.6 1275.2 559.0 1276.7 563.0 1274.4 571.0 1265.7 579.0 1255.5 583.4ZM1353.5 583.6L1347.5 584.5 1339.5 583.3 1326.8 577.0 1322.5 573.0 1319.1 567.0 1318.7 563.0 1320.2 559.0 1325.5 554.7 1333.5 553.2 1341.5 554.5 1349.5 558.6 1355.9 565.0 1359.2 573.0 1358.6 579.0 1353.5 583.6ZM1269.5 723.4L1257.5 724.4 1245.3 719.0 1239.5 713.0 1236.7 707.0 1236.2 701.0 1238.0 697.0 1243.5 694.0 1251.5 693.8 1261.5 696.8 1269.5 701.8 1274.4 707.0 1276.7 713.0 1275.2 719.0 1269.5 723.4ZM1341.5 723.5L1331.5 724.8 1323.5 722.2 1319.1 717.0 1319.9 709.0 1324.4 703.0 1333.5 697.0 1343.5 693.9 1353.5 694.4 1358.6 699.0 1359.4 703.0 1358.0 709.0 1351.5 717.8 1341.5 723.5Z"/><path fill-rule="evenodd" fill="#ec5d62" d="M1253.5 583.1L1243.9 583.0 1238.3 579.0 1237.2 573.0 1240.5 565.0 1247.5 558.3 1255.5 554.9 1263.5 554.3 1271.1 557.0 1275.2 563.0 1273.3 571.0 1264.5 579.0 1253.5 583.1ZM1351.5 583.0L1339.5 582.6 1327.5 576.7 1323.6 573.0 1320.3 567.0 1320.2 563.0 1322.1 559.0 1327.5 555.3 1335.5 554.2 1343.5 556.0 1351.4 561.0 1356.2 567.0 1358.2 575.0 1355.5 580.9 1351.5 583.0ZM1265.5 723.4L1253.5 722.5 1243.5 716.5 1237.6 707.0 1237.5 701.0 1239.5 697.5 1245.5 694.6 1253.5 694.9 1261.5 697.5 1269.9 703.0 1274.4 709.0 1275.2 715.0 1271.5 720.7 1265.5 723.4ZM1339.5 723.2L1331.5 723.7 1324.3 721.0 1320.2 715.0 1321.0 709.0 1325.5 703.0 1335.5 696.8 1345.5 694.4 1353.5 695.8 1357.9 701.0 1358.2 705.0 1356.2 711.0 1349.5 718.6 1339.5 723.2Z"/><path fill-rule="evenodd" fill="#eb585d" d="M1257.5 581.4L1249.5 582.7 1242.2 581.0 1238.9 577.0 1239.2 569.0 1243.5 562.5 1251.5 557.0 1259.5 555.2 1267.5 556.5 1272.9 561.0 1274.0 565.0 1273.2 569.0 1266.4 577.0 1257.5 581.4ZM1351.5 581.8L1341.5 582.3 1329.0 577.0 1322.2 569.0 1321.5 564.0 1323.5 559.7 1329.5 555.9 1335.5 555.2 1343.5 556.9 1349.5 560.4 1355.2 567.0 1357.1 573.0 1355.5 578.9 1351.5 581.8ZM1267.5 721.5L1257.5 722.6 1245.5 717.3 1241.4 713.0 1238.6 707.0 1238.4 703.0 1240.0 699.0 1245.5 695.7 1251.5 695.3 1259.5 697.3 1267.5 701.9 1272.2 707.0 1274.0 713.0 1272.9 717.0 1267.5 721.5ZM1343.5 721.1L1335.5 722.8 1327.5 721.3 1322.5 717.0 1321.5 711.0 1324.6 705.0 1332.2 699.0 1341.5 695.7 1349.5 695.6 1355.5 699.1 1356.8 707.0 1352.3 715.0 1343.5 721.1Z"/><path fill-rule="evenodd" fill="#ea5459" d="M1255.5 581.3L1247.5 581.7 1241.7 579.0 1239.4 573.0 1241.2 567.0 1246.4 561.0 1253.5 557.2 1261.5 556.2 1267.5 557.9 1272.2 563.0 1272.6 567.0 1271.1 571.0 1265.2 577.0 1255.5 581.3ZM1349.5 581.3L1338.9 581.0 1327.6 575.0 1322.8 567.0 1324.2 561.0 1329.5 557.2 1335.5 556.2 1341.5 557.1 1349.0 561.0 1354.2 567.0 1356.0 573.0 1353.7 579.0 1349.5 581.3ZM1263.5 721.5L1253.5 720.8 1244.2 715.0 1239.7 707.0 1239.6 703.0 1241.7 699.0 1247.5 696.3 1255.5 696.7 1263.5 700.0 1269.5 704.8 1272.1 709.0 1272.2 715.0 1269.2 719.0 1263.5 721.5ZM1339.5 721.4L1331.5 721.4 1325.5 718.4 1322.7 713.0 1324.3 707.0 1330.2 701.0 1337.5 697.4 1345.5 696.1 1351.5 697.5 1355.8 703.0 1354.2 711.0 1347.5 718.1 1339.5 721.4Z"/><path fill-rule="evenodd" fill="#ea4f55" d="M1251.5 581.0L1245.5 580.0 1241.5 576.4 1240.8 571.0 1243.5 565.0 1249.5 559.9 1255.5 557.6 1261.5 557.3 1267.5 559.4 1271.3 565.0 1270.9 569.0 1268.6 573.0 1260.1 579.0 1251.5 581.0ZM1351.5 579.1L1343.5 581.0 1331.5 577.0 1324.5 569.0 1324.1 565.0 1325.5 561.7 1329.5 558.5 1335.5 557.2 1341.5 558.0 1347.5 560.9 1351.9 565.0 1354.6 571.0 1354.5 575.0 1351.5 579.1ZM1265.5 719.7L1257.5 720.7 1247.5 716.9 1241.3 709.0 1240.6 705.0 1241.8 701.0 1245.5 698.0 1251.7 697.0 1259.5 698.7 1266.6 703.0 1270.0 707.0 1271.3 713.0 1269.4 717.0 1265.5 719.7ZM1343.5 719.3L1335.5 720.8 1329.5 719.5 1325.5 716.3 1324.0 711.0 1326.8 705.0 1331.5 701.0 1339.5 697.6 1347.5 697.3 1353.6 701.0 1354.6 707.0 1351.5 713.4 1343.5 719.3Z"/><path fill-rule="evenodd" fill="#e94a50" d="M1257.5 579.2L1251.5 580.1 1245.5 578.6 1242.3 575.0 1242.4 569.0 1245.5 564.1 1251.5 559.8 1257.5 558.3 1263.5 558.9 1269.1 563.0 1269.7 569.0 1265.4 575.0 1257.5 579.2ZM1347.5 579.6L1337.5 579.1 1330.0 575.0 1326.6 571.0 1325.3 567.0 1327.5 561.5 1331.5 559.0 1337.5 558.2 1343.5 559.7 1348.8 563.0 1352.0 567.0 1353.5 573.0 1351.9 577.0 1347.5 579.6ZM1263.5 719.1L1255.5 719.5 1246.6 715.0 1241.9 707.0 1243.5 701.0 1247.5 698.5 1253.5 698.0 1259.5 699.5 1265.4 703.0 1268.8 707.0 1269.9 713.0 1267.5 716.9 1263.5 719.1ZM1341.5 719.1L1335.5 719.8 1329.5 718.1 1326.3 715.0 1325.7 709.0 1328.0 705.0 1333.5 700.7 1341.5 698.1 1347.5 698.4 1353.1 703.0 1353.0 709.0 1348.8 715.0 1341.5 719.1Z"/><path fill-rule="evenodd" fill="#e8464c" d="M1253.5 579.1L1247.5 578.3 1243.8 575.0 1243.2 571.0 1244.6 567.0 1248.1 563.0 1253.5 560.1 1259.5 559.3 1265.2 561.0 1268.4 565.0 1267.6 571.0 1261.5 576.6 1253.5 579.1ZM1345.5 579.0L1339.5 578.8 1331.4 575.0 1326.9 569.0 1328.0 563.0 1331.5 560.4 1337.5 559.3 1347.5 563.1 1351.5 568.4 1352.2 573.0 1350.0 577.0 1345.5 579.0ZM1263.5 717.8L1255.5 718.4 1247.5 714.5 1243.2 707.0 1245.4 701.0 1249.5 699.1 1255.5 699.2 1265.5 704.4 1268.7 711.0 1267.4 715.0 1263.5 717.8ZM1343.5 717.3L1335.5 718.7 1329.5 716.5 1326.7 711.0 1329.2 705.0 1339.5 699.2 1345.5 699.0 1350.0 701.0 1352.2 705.0 1351.8 709.0 1349.4 713.0 1343.5 717.3Z"/><path fill-rule="evenodd" fill="#e84148" d="M1257.5 577.4L1251.5 578.1 1247.5 576.9 1244.6 573.0 1244.9 569.0 1247.4 565.0 1251.5 562.0 1261.5 560.8 1265.5 563.0 1267.1 569.0 1263.5 574.2 1257.5 577.4ZM1347.5 577.1L1339.5 577.8 1332.9 575.0 1328.3 569.0 1329.5 563.5 1333.3 561.0 1337.5 560.4 1345.7 563.0 1349.6 567.0 1350.9 571.0 1349.9 575.0 1347.5 577.1ZM1261.5 717.2L1253.5 716.9 1247.5 713.1 1244.5 707.0 1245.5 703.0 1249.5 700.3 1253.5 699.9 1263.5 703.8 1266.3 707.0 1267.4 711.0 1265.5 715.0 1261.5 717.2ZM1339.5 717.4L1333.5 717.1 1330.0 715.0 1328.1 711.0 1329.1 707.0 1332.9 703.0 1337.5 700.7 1343.5 699.9 1347.5 700.9 1350.8 705.0 1349.6 711.0 1345.5 715.1 1339.5 717.4Z"/><path fill-rule="evenodd" fill="#e73d43" d="M1253.5 577.1L1247.4 575.0 1245.9 571.0 1247.3 567.0 1251.5 563.2 1255.5 561.8 1263.1 563.0 1265.8 567.0 1264.9 571.0 1260.7 575.0 1253.5 577.1ZM1343.5 577.0L1337.5 576.3 1332.1 573.0 1329.7 569.0 1331.5 563.7 1339.5 561.8 1347.5 566.2 1349.2 573.0 1347.5 575.4 1343.5 577.0ZM1261.5 715.7L1255.5 716.2 1249.0 713.0 1245.9 707.0 1247.4 703.0 1251.5 701.0 1255.5 701.1 1263.3 705.0 1265.8 711.0 1261.5 715.7ZM1343.5 715.0L1337.5 716.4 1332.4 715.0 1329.6 711.0 1330.5 707.0 1334.7 703.0 1339.5 701.2 1343.5 701.0 1347.5 702.6 1349.2 705.0 1349.1 709.0 1343.5 715.0Z"/><path fill-rule="evenodd" fill="#e6383f" d="M1257.5 575.3L1250.1 575.0 1247.5 571.0 1251.1 565.0 1257.5 562.9 1262.9 565.0 1264.1 569.0 1261.6 573.0 1257.5 575.3ZM1343.5 575.6L1337.5 575.1 1333.8 573.0 1331.3 569.0 1332.5 565.0 1339.5 563.0 1345.5 566.0 1347.8 571.0 1347.3 573.0 1343.5 575.6ZM1257.5 715.1L1253.5 714.3 1249.0 711.0 1247.5 707.0 1250.1 703.0 1257.5 702.7 1263.3 707.0 1264.0 711.0 1262.9 713.0 1257.5 715.1ZM1337.5 715.1L1332.5 713.0 1331.3 711.0 1332.1 707.0 1337.5 702.9 1345.5 703.1 1347.8 707.0 1346.4 711.0 1341.5 714.4 1337.5 715.1Z"/><path fill-rule="evenodd" fill="#e6333b" d="M1257.5 573.8L1251.5 573.6 1249.5 571.0 1251.1 567.0 1253.5 565.3 1259.5 564.9 1261.9 567.0 1261.4 571.0 1257.5 573.8ZM1343.5 573.8L1336.2 573.0 1334.1 571.0 1333.5 567.0 1337.5 564.6 1343.5 566.4 1345.8 571.0 1343.5 573.8ZM1259.5 713.1L1255.5 713.3 1251.5 711.3 1249.5 707.0 1250.6 705.0 1255.5 703.7 1259.5 705.2 1262.2 709.0 1259.5 713.1ZM1339.5 713.4L1335.5 712.9 1333.5 711.0 1333.5 708.2 1337.5 704.4 1343.5 704.2 1345.5 706.1 1345.6 709.0 1343.5 711.6 1339.5 713.4Z"/><path fill-rule="evenodd" fill="#e52f36" d="M1257.5 571.6L1253.5 571.8 1252.6 569.0 1255.1 567.0 1257.9 567.0 1259.5 569.0 1257.5 571.6ZM1341.5 571.9L1337.0 571.0 1336.0 569.0 1337.4 567.0 1340.2 567.0 1342.8 569.0 1341.5 571.9ZM1257.5 711.1L1253.5 710.0 1252.6 707.0 1255.5 705.8 1258.4 707.0 1259.5 709.0 1257.5 711.1ZM1339.5 711.2L1337.4 711.0 1336.0 709.0 1337.5 706.6 1341.5 706.1 1342.8 709.0 1339.5 711.2Z"/></g><path fill="none" stroke="#fff" stroke-width="0.9" stroke-opacity="0.8" d="M1501.5 841.2L1095.5 841.2 1095.3 439.0 1501.5 438.8 1501.5 841.2M1304.3 613.0L1311.5 609.4 1313.7 605.0 1312.8 601.0 1307.5 596.0 1301.5 593.9 1293.5 594.0 1286.2 597.0 1282.6 601.0 1282.2 607.0 1286.0 611.0 1295.5 613.7 1304.3 613.0M1267.5 657.0L1270.9 655.0 1273.7 651.0 1276.1 637.0 1272.6 625.0 1269.5 621.8 1265.5 620.8 1261.5 622.2 1257.3 627.0 1255.0 633.0 1254.4 641.0 1256.3 649.0 1259.5 654.1 1263.5 656.8 1267.5 657.0M1330.8 657.0L1335.5 654.5 1338.1 651.0 1341.0 639.0 1339.8 631.0 1337.5 626.0 1333.5 622.0 1329.5 620.8 1325.5 622.1 1321.7 627.0 1319.4 641.0 1320.9 649.0 1323.5 654.0 1327.5 656.9 1330.8 657.0M1305.5 683.0L1311.4 679.0 1313.5 675.0 1313.2 671.0 1309.4 667.0 1301.5 664.4 1293.5 664.5 1286.0 667.0 1282.2 671.0 1282.6 677.0 1289.5 682.8 1297.5 684.5 1305.5 683.0M1501.5 841.1L1095.5 841.1 1095.4 439.0 1501.5 438.9 1501.5 841.1M1309.2 615.0L1316.1 611.0 1317.3 605.0 1313.5 598.0 1305.5 593.2 1297.5 591.9 1289.5 593.3 1283.0 597.0 1278.6 603.0 1278.4 609.0 1283.5 614.0 1295.5 616.7 1309.2 615.0M1268.4 661.0L1273.3 659.0 1275.5 655.7 1278.3 647.0 1279.0 639.0 1278.3 631.0 1275.5 622.3 1271.5 617.7 1267.5 616.9 1261.5 619.0 1257.4 623.0 1253.7 631.0 1252.7 639.0 1253.7 647.0 1257.5 655.2 1263.5 660.1 1268.4 661.0M1328.1 661.0L1333.5 659.3 1338.0 655.0 1341.5 647.6 1342.7 639.0 1341.5 630.4 1338.0 623.0 1333.5 618.7 1327.5 616.9 1323.5 617.9 1320.6 621.0 1317.6 629.0 1316.4 639.0 1317.6 649.0 1320.6 657.0 1323.5 660.1 1328.1 661.0M1304.9 685.0L1312.4 681.0 1316.8 675.0 1317.0 669.0 1313.8 665.0 1305.5 662.0 1295.5 661.3 1285.5 663.2 1279.4 667.0 1278.0 671.0 1278.6 675.0 1283.5 681.4 1293.5 685.7 1304.9 685.0M1501.5 841.1L1095.5 841.1 1095.4 439.0 1501.5 438.9 1501.5 841.1M1303.5 687.0L1315.5 681.0 1323.5 668.6 1337.6 659.0 1342.9 649.0 1344.1 635.0 1342.2 627.0 1339.1 621.0 1333.5 615.4 1323.5 609.4 1315.5 597.0 1305.5 591.5 1295.5 590.5 1287.5 592.3 1281.5 595.7 1276.5 601.0 1271.5 609.9 1257.5 619.3 1252.5 629.0 1251.3 643.0 1253.5 651.9 1257.5 658.7 1271.5 668.1 1279.9 681.0 1291.5 686.9 1303.5 687.0M1309.5 657.4L1283.5 656.5 1282.2 653.0 1282.2 625.0 1283.5 621.5 1309.5 620.6 1312.9 623.0 1313.2 653.0 1311.5 656.8 1309.5 657.4M1501.5 841.1L1095.5 841.1 1095.4 439.0 1501.5 438.9 1501.5 841.1M1300.4 689.0L1308.9 687.0 1316.1 683.0 1327.3 671.0 1337.5 662.6 1344.1 651.0 1345.9 637.0 1343.4 625.0 1337.5 615.4 1327.5 607.2 1315.5 594.6 1307.5 590.5 1297.5 588.9 1287.5 590.6 1279.5 594.8 1268.1 607.0 1257.5 615.8 1251.3 627.0 1249.5 641.0 1251.3 651.0 1255.5 659.7 1276.9 681.0 1287.5 687.4 1300.4 689.0M1501.5 841.1L1095.5 841.1 1095.4 439.0 1501.5 438.9 1501.5 841.1M1308.1 689.0L1321.7 681.0 1341.5 661.2 1346.6 649.0 1347.3 633.0 1344.7 623.0 1340.2 615.0 1321.7 597.0 1307.5 588.8 1293.5 587.6 1285.5 589.6 1277.5 594.0 1255.5 614.5 1248.8 629.0 1248.1 645.0 1250.7 655.0 1255.2 663.0 1276.1 683.0 1283.5 687.5 1291.5 690.1 1299.5 690.7 1308.1 689.0M1501.5 841.0L1095.5 841.0 1095.5 439.0 1501.5 439.0 1501.5 841.0M1317.0 509.0L1323.5 506.1 1326.6 501.0 1323.0 495.0 1315.5 491.9 1301.5 490.8 1281.5 491.6 1273.5 494.3 1269.2 499.0 1270.6 505.0 1279.5 509.2 1303.5 510.1 1317.0 509.0M1170.8 619.0L1183.5 605.0 1197.4 579.0 1202.9 559.0 1202.5 553.0 1199.5 549.5 1191.5 552.2 1183.5 560.0 1175.5 571.7 1169.0 585.0 1164.1 601.0 1163.1 613.0 1165.5 620.1 1170.8 619.0M1430.8 619.0L1432.4 611.0 1431.3 601.0 1422.7 577.0 1415.5 564.8 1407.5 555.2 1401.5 550.7 1395.5 549.6 1392.5 555.0 1393.0 563.0 1397.2 577.0 1403.5 590.9 1411.5 604.4 1419.5 614.6 1427.5 620.5 1430.8 619.0M1307.3 691.0L1322.6 683.0 1341.5 665.3 1348.2 651.0 1349.3 633.0 1346.9 623.0 1343.1 615.0 1337.5 608.0 1325.1 597.0 1309.5 587.7 1301.5 585.8 1293.5 585.9 1285.5 587.8 1275.6 593.0 1255.2 611.0 1250.1 619.0 1247.2 627.0 1246.1 645.0 1248.4 655.0 1253.5 664.8 1272.8 683.0 1281.5 688.4 1289.5 691.4 1297.5 692.4 1307.3 691.0M1201.6 727.0L1203.0 721.0 1201.5 711.0 1191.5 686.4 1183.5 673.0 1175.5 663.0 1169.5 658.1 1165.5 657.9 1163.3 663.0 1163.8 675.0 1167.5 689.0 1173.5 702.6 1181.5 715.4 1189.5 724.2 1197.5 728.6 1201.6 727.0M1402.0 727.0L1409.5 720.7 1415.5 713.2 1426.4 693.0 1432.2 671.0 1431.7 661.0 1429.5 657.7 1423.5 659.7 1413.5 670.8 1405.5 683.4 1397.5 700.2 1393.4 713.0 1392.5 723.0 1395.5 728.4 1402.0 727.0M1308.4 787.0L1317.5 785.6 1323.5 782.6 1326.6 777.0 1324.8 773.0 1319.5 769.8 1313.5 768.4 1287.5 768.0 1275.5 769.9 1269.3 775.0 1270.3 781.0 1277.5 785.4 1287.5 787.0 1308.4 787.0M1501.5 841.0L1095.5 841.0 1095.5 439.0 1501.5 439.0 1501.5 841.0M1330.1 515.0L1337.5 511.3 1341.3 507.0 1342.8 503.0 1342.4 497.0 1335.5 488.4 1321.5 482.9 1291.5 481.5 1271.5 483.4 1259.1 489.0 1255.1 493.0 1252.5 499.0 1253.1 505.0 1255.5 509.0 1260.5 513.0 1267.5 515.6 1277.5 516.7 1315.5 516.8 1330.1 515.0M1214.2 751.0L1217.5 747.0 1218.3 743.0 1216.2 729.0 1207.4 705.0 1185.0 653.0 1182.0 639.0 1185.0 625.0 1207.4 573.0 1216.8 547.0 1218.0 533.0 1215.5 527.9 1211.5 526.2 1201.5 529.5 1189.5 538.6 1175.8 553.0 1166.2 567.0 1158.2 583.0 1150.5 605.0 1145.9 625.0 1144.8 641.0 1146.6 657.0 1152.3 679.0 1159.9 699.0 1168.6 715.0 1179.2 729.0 1193.5 742.8 1205.5 750.6 1209.5 751.7 1214.2 751.0M1388.7 751.0L1397.5 746.2 1410.6 735.0 1421.2 723.0 1430.4 709.0 1438.1 693.0 1444.9 673.0 1449.5 653.0 1450.6 637.0 1448.8 621.0 1443.1 599.0 1436.4 581.0 1428.0 565.0 1418.0 551.0 1405.5 538.2 1393.5 529.2 1383.5 526.2 1379.5 528.3 1377.4 533.0 1378.6 547.0 1387.5 571.7 1410.4 625.0 1413.4 639.0 1410.4 653.0 1387.5 706.3 1378.1 733.0 1377.1 743.0 1379.0 749.0 1383.5 751.8 1388.7 751.0M1306.6 693.0L1315.5 689.6 1326.1 683.0 1337.5 673.8 1343.4 667.0 1350.4 651.0 1351.4 633.0 1349.3 623.0 1345.9 615.0 1341.5 608.5 1333.8 601.0 1321.5 591.8 1311.5 586.6 1301.5 584.0 1293.5 584.0 1285.5 586.0 1275.2 591.0 1261.6 601.0 1253.5 608.9 1248.4 617.0 1245.5 625.0 1243.8 635.0 1244.0 645.0 1246.1 655.0 1250.6 665.0 1257.1 673.0 1266.6 681.0 1277.5 688.3 1287.5 692.7 1297.5 694.2 1306.6 693.0M1322.0 795.0L1335.5 789.6 1342.4 781.0 1342.8 775.0 1341.3 771.0 1337.5 766.7 1330.1 763.0 1317.5 761.3 1271.5 761.7 1259.5 765.6 1253.1 773.0 1252.5 779.0 1255.1 785.0 1261.5 790.6 1269.5 794.1 1289.5 796.5 1322.0 795.0M1325.5 461.0L1289.5 462.1 1255.5 459.3 1230.8 453.0 1224.1 449.0 1222.3 445.0 1227.2 439.0 1368.2 439.0 1372.5 443.0 1372.7 447.0 1371.3 449.0 1363.5 453.4 1345.5 458.3 1325.5 461.0M1167.5 533.4L1159.5 533.9 1151.5 532.5 1137.5 526.0 1128.9 517.0 1126.4 511.0 1125.5 503.0 1129.3 489.0 1138.9 477.0 1153.5 468.7 1169.5 466.1 1181.5 468.3 1192.8 475.0 1200.5 485.0 1202.8 495.0 1199.7 507.0 1191.5 518.4 1179.5 528.5 1167.5 533.4M1441.5 533.0L1429.5 533.7 1417.5 529.4 1404.4 519.0 1395.7 507.0 1392.7 497.0 1394.0 487.0 1399.5 478.1 1409.5 470.2 1417.5 467.2 1425.5 466.1 1441.5 468.6 1456.5 477.0 1466.1 489.0 1469.9 503.0 1469.0 511.0 1466.5 517.0 1456.5 527.0 1441.5 533.0M1317.5 755.1L1293.5 756.3 1269.5 753.9 1253.5 749.6 1239.5 741.6 1228.4 731.0 1219.1 717.0 1206.2 689.0 1198.1 665.0 1194.7 643.0 1195.9 623.0 1201.0 603.0 1212.3 575.0 1222.6 555.0 1233.5 541.5 1245.5 532.4 1261.5 525.8 1287.5 522.0 1311.5 522.3 1335.5 526.2 1351.5 533.4 1365.5 545.3 1375.1 559.0 1390.0 591.0 1397.8 615.0 1400.8 637.0 1398.3 661.0 1390.8 685.0 1375.1 719.0 1365.5 732.7 1351.5 744.6 1335.5 751.8 1317.5 755.1M1105.5 725.9L1101.5 726.9 1095.5 724.9 1095.5 553.1 1101.5 551.1 1105.5 552.1 1109.5 555.2 1118.2 571.0 1123.6 593.0 1125.5 619.0 1125.4 665.0 1123.0 689.0 1115.5 713.5 1111.5 720.4 1105.5 725.9M1499.5 725.1L1493.5 726.8 1489.5 725.6 1483.5 719.8 1479.5 712.7 1472.8 691.0 1470.0 663.0 1470.0 613.0 1473.2 585.0 1481.5 561.4 1487.5 553.7 1493.5 551.2 1501.5 554.4 1501.5 723.6 1499.5 725.1M1306.7 695.0L1315.5 691.7 1327.0 685.0 1343.9 671.0 1349.0 663.0 1352.6 653.0 1354.0 633.0 1349.0 615.0 1343.9 607.0 1338.0 601.0 1313.5 585.4 1303.5 582.2 1293.5 582.0 1283.5 584.7 1273.5 589.8 1259.9 599.0 1251.5 607.0 1246.4 615.0 1242.8 625.0 1241.2 637.0 1241.7 647.0 1244.0 657.0 1248.6 667.0 1255.1 675.0 1262.6 681.0 1277.5 690.5 1287.5 694.7 1297.5 696.3 1306.7 695.0M1175.5 811.3L1163.5 811.6 1149.5 807.7 1137.5 799.7 1129.3 789.0 1125.9 779.0 1126.4 767.0 1131.8 757.0 1141.5 749.5 1157.5 744.3 1171.5 745.6 1186.8 755.0 1198.6 769.0 1202.0 777.0 1202.8 783.0 1199.5 795.0 1189.5 805.6 1175.5 811.3M1435.5 811.0L1421.5 811.5 1407.5 806.7 1397.2 797.0 1392.7 785.0 1394.8 773.0 1404.4 759.0 1417.5 748.6 1431.5 744.1 1445.5 746.0 1459.3 753.0 1466.5 761.0 1469.9 773.0 1467.9 785.0 1460.6 797.0 1449.5 805.9 1435.5 811.0M1363.5 841.0L1231.0 841.0 1224.5 837.0 1222.3 833.0 1224.1 829.0 1230.8 825.0 1253.5 819.0 1283.5 816.1 1317.5 816.4 1347.5 820.1 1368.6 827.0 1372.7 831.0 1372.5 835.0 1368.2 839.0 1363.5 841.0M1311.5 751.2L1289.5 751.8 1269.5 748.3 1249.5 739.9 1235.5 730.1 1224.3 717.0 1214.8 699.0 1204.7 673.0 1200.6 653.0 1200.2 629.0 1204.1 607.0 1212.1 585.0 1224.3 561.0 1235.5 547.9 1249.5 538.1 1267.5 530.3 1285.5 526.6 1305.5 526.2 1325.5 529.6 1345.5 537.9 1359.5 547.5 1371.1 561.0 1380.6 579.0 1390.1 603.0 1394.8 625.0 1395.3 647.0 1391.8 669.0 1384.1 691.0 1371.1 717.0 1359.5 730.5 1345.5 740.1 1327.5 747.8 1311.5 751.2M1307.8 697.0L1334.3 683.0 1347.9 671.0 1352.5 663.0 1355.7 653.0 1357.2 643.0 1356.8 631.0 1354.7 621.0 1350.5 611.0 1340.0 599.0 1311.5 582.3 1301.5 579.6 1293.5 579.6 1285.5 581.7 1273.5 587.5 1258.1 597.0 1249.1 605.0 1243.9 613.0 1240.1 623.0 1238.2 635.0 1238.6 647.0 1240.7 657.0 1244.9 667.0 1250.9 675.0 1258.1 681.0 1275.5 691.6 1287.5 697.0 1297.5 698.7 1307.8 697.0M1311.5 747.2L1291.5 748.0 1273.5 745.1 1253.5 737.5 1237.5 727.0 1227.0 715.0 1217.6 697.0 1208.9 675.0 1204.1 653.0 1203.6 631.0 1207.1 609.0 1215.0 587.0 1227.0 563.0 1237.5 551.0 1251.5 541.5 1269.5 534.1 1287.5 530.4 1307.5 530.3 1325.5 534.0 1345.5 542.4 1359.5 552.4 1369.6 565.0 1379.6 585.0 1387.5 606.2 1391.3 625.0 1391.8 647.0 1388.3 669.0 1379.6 693.0 1368.4 715.0 1359.5 725.6 1345.5 735.6 1329.5 742.7 1311.5 747.2M1303.5 701.0L1313.5 697.3 1335.8 685.0 1349.4 675.0 1354.9 667.0 1358.7 657.0 1360.9 635.0 1356.7 615.0 1352.5 607.0 1347.4 601.0 1339.2 595.0 1313.5 580.7 1303.5 577.0 1295.5 576.4 1279.5 581.9 1256.1 595.0 1246.0 603.0 1240.5 611.0 1236.7 621.0 1234.5 643.0 1236.2 655.0 1239.6 665.0 1244.3 673.0 1250.3 679.0 1285.5 698.9 1295.5 701.6 1303.5 701.0M1309.5 743.1L1289.5 743.5 1269.5 739.7 1251.5 732.7 1237.5 723.0 1229.2 713.0 1221.3 697.0 1211.5 671.9 1207.2 651.0 1206.9 631.0 1210.1 611.0 1221.5 580.6 1230.6 563.0 1239.7 553.0 1253.5 544.3 1269.5 538.3 1287.5 534.7 1307.5 534.7 1325.5 538.2 1343.5 545.1 1357.5 554.6 1366.2 565.0 1373.2 579.0 1383.6 605.0 1388.1 627.0 1388.5 647.0 1385.5 666.2 1373.2 699.0 1364.8 715.0 1355.5 725.2 1343.5 732.9 1327.5 739.2 1309.5 743.1M1303.0 705.0L1345.4 683.0 1355.6 675.0 1360.6 667.0 1363.3 659.0 1365.4 635.0 1362.1 615.0 1358.5 607.0 1353.7 601.0 1345.4 595.0 1309.5 575.5 1297.5 572.2 1285.5 575.7 1250.0 595.0 1241.7 601.0 1236.9 607.0 1232.7 617.0 1230.4 629.0 1230.0 643.0 1234.0 665.0 1238.2 673.0 1244.0 679.0 1287.5 703.3 1295.5 705.6 1303.0 705.0M1323.5 735.1L1299.5 736.7 1275.5 735.6 1259.5 732.3 1247.5 727.0 1237.5 719.1 1230.4 709.0 1215.5 668.0 1211.5 651.9 1210.7 639.0 1211.5 626.1 1215.5 610.0 1222.6 593.0 1227.7 575.0 1232.7 565.0 1243.5 553.6 1257.5 546.4 1271.5 542.9 1293.5 541.4 1317.5 542.2 1333.5 545.0 1345.5 549.7 1355.5 556.6 1362.7 565.0 1367.7 575.0 1383.5 623.5 1384.6 643.0 1381.5 663.2 1372.8 685.0 1366.9 705.0 1359.7 717.0 1353.5 723.1 1345.5 728.3 1335.5 732.4 1323.5 735.1M1304.0 711.0L1327.4 695.0 1357.5 682.1 1364.6 677.0 1367.9 671.0 1369.9 661.0 1370.7 627.0 1368.5 609.0 1366.1 603.0 1362.6 599.0 1331.1 585.0 1305.5 567.8 1297.5 565.3 1289.5 568.0 1265.5 584.4 1239.7 595.0 1230.8 601.0 1227.5 607.0 1225.8 615.0 1224.6 649.0 1226.9 669.0 1229.3 675.0 1232.8 679.0 1267.5 694.7 1293.5 712.0 1299.5 712.6 1304.0 711.0M1249.5 587.2L1237.5 587.3 1232.7 583.0 1232.8 573.0 1239.5 561.2 1247.5 554.7 1259.5 550.0 1271.5 549.9 1279.5 553.6 1282.2 557.0 1282.7 563.0 1276.6 573.0 1265.5 581.4 1249.5 587.2M1357.5 587.4L1349.5 587.8 1339.5 585.6 1323.2 577.0 1317.0 571.0 1313.4 565.0 1312.6 559.0 1314.5 555.0 1321.5 550.6 1331.5 549.5 1341.5 551.6 1351.3 557.0 1358.9 565.0 1363.1 575.0 1362.8 583.0 1357.5 587.4M1273.5 727.6L1265.5 728.6 1257.5 727.5 1249.5 724.4 1241.7 719.0 1236.5 713.0 1232.8 705.0 1231.9 699.0 1233.8 693.0 1239.5 690.2 1251.5 691.2 1263.5 695.5 1274.6 703.0 1281.1 711.0 1282.9 717.0 1280.9 723.0 1273.5 727.6M1339.5 727.1L1327.5 728.5 1317.5 725.6 1312.6 719.0 1314.3 711.0 1320.8 703.0 1333.5 694.8 1349.5 690.2 1359.5 691.4 1362.8 695.0 1363.5 699.0 1360.1 711.0 1351.5 720.9 1339.5 727.1M1249.5 583.1L1241.5 581.1 1238.3 577.0 1238.2 571.0 1242.7 563.0 1249.5 557.7 1257.5 555.0 1265.5 555.3 1271.5 558.4 1274.6 565.0 1271.2 573.0 1261.5 580.1 1249.5 583.1M1347.5 583.1L1335.9 581.0 1326.1 575.0 1321.1 567.0 1321.1 563.0 1323.3 559.0 1329.5 555.4 1337.5 554.9 1345.5 557.5 1351.5 561.7 1356.5 569.0 1357.5 575.2 1354.1 581.0 1347.5 583.1M1263.5 723.1L1251.5 721.3 1242.7 715.0 1237.9 705.0 1238.3 701.0 1241.3 697.0 1247.5 695.0 1255.5 695.7 1263.7 699.0 1271.2 705.0 1274.3 711.0 1273.6 717.0 1269.6 721.0 1263.5 723.1M1337.5 723.1L1329.5 722.6 1323.3 719.0 1320.8 713.0 1322.7 707.0 1328.6 701.0 1337.5 696.4 1345.5 694.9 1353.5 696.6 1356.1 699.0 1357.5 703.0 1355.6 711.0 1348.1 719.0 1337.5 723.1M1257.5 577.6L1251.5 578.3 1247.2 577.0 1244.3 573.0 1244.6 569.0 1247.1 565.0 1251.5 561.8 1261.5 560.6 1265.9 563.0 1267.4 569.0 1263.5 574.5 1257.5 577.6M1347.5 577.4L1339.5 578.0 1332.6 575.0 1328.0 569.0 1329.5 563.0 1337.5 560.2 1346.0 563.0 1349.8 567.0 1351.2 571.0 1350.2 575.0 1347.5 577.4M1261.5 717.4L1253.5 717.1 1247.5 713.4 1244.2 707.0 1245.5 702.5 1249.5 700.1 1255.5 699.9 1265.1 705.0 1267.4 709.0 1267.2 713.0 1261.5 717.4M1341.5 717.2L1335.5 717.7 1331.5 716.5 1328.2 713.0 1328.0 709.0 1330.3 705.0 1335.5 701.3 1345.5 699.9 1350.2 703.0 1350.8 709.0 1347.5 713.8 1341.5 717.2"/></g>
<path d="M1220.4 27.7L1297.3 148.8" stroke="#231F20" stroke-width="6.5" stroke-dasharray="15 7" stroke-dashoffset="-4"/>
<path d="M1374.2 28.7L1297.3 148.8" stroke="#231F20" stroke-width="6.5" stroke-dasharray="15 7" stroke-dashoffset="-4"/>
<path d="M1297.7 297.4L1223.9 419.5" stroke="#231F20" stroke-width="6.5" stroke-dasharray="15 7" stroke-dashoffset="-4"/>
<path d="M1297.7 297.4L1372.9 419.5" stroke="#231F20" stroke-width="6.5" stroke-dasharray="15 7" stroke-dashoffset="-4"/>
<circle cx="1220.4" cy="27.7" r="17" fill="url(#atomg)" stroke="#E0442A" stroke-width="1.2"/>
<circle cx="1374.2" cy="28.7" r="17" fill="url(#atomg)" stroke="#E0442A" stroke-width="1.2"/>
<circle cx="1297.3" cy="148.8" r="17" fill="url(#atomg)" stroke="#E0442A" stroke-width="1.2"/>
<circle cx="1297.7" cy="297.4" r="17" fill="url(#atomg)" stroke="#E0442A" stroke-width="1.2"/>
<circle cx="1223.9" cy="419.5" r="17" fill="url(#atomg)" stroke="#E0442A" stroke-width="1.2"/>
<circle cx="1372.9" cy="419.5" r="17" fill="url(#atomg)" stroke="#E0442A" stroke-width="1.2"/>
<path d="M1223.4 514.7L1297.3 638" stroke="#231F20" stroke-width="6.5" stroke-dasharray="15 7" stroke-dashoffset="-4"/>
<path d="M1370 514.7L1297.3 638" stroke="#231F20" stroke-width="6.5" stroke-dasharray="15 7" stroke-dashoffset="-4"/>
<path d="M1224.5 762L1297.3 638" stroke="#231F20" stroke-width="6.5" stroke-dasharray="15 7" stroke-dashoffset="-4"/>
<path d="M1372.9 764.8L1297.3 638" stroke="#231F20" stroke-width="6.5" stroke-dasharray="15 7" stroke-dashoffset="-4"/>
<circle cx="1223.4" cy="514.7" r="17" fill="url(#atomg)" stroke="#E0442A" stroke-width="1.2"/>
<circle cx="1370" cy="514.7" r="17" fill="url(#atomg)" stroke="#E0442A" stroke-width="1.2"/>
<circle cx="1224.5" cy="762" r="17" fill="url(#atomg)" stroke="#E0442A" stroke-width="1.2"/>
<circle cx="1372.9" cy="764.8" r="17" fill="url(#atomg)" stroke="#E0442A" stroke-width="1.2"/>
<circle cx="1297.3" cy="638" r="25.3" fill="url(#atomc)" stroke="#A3449A" stroke-width="1.8"/>
<text x="1107" y="80" font-family='"Liberation Serif", serif' font-size="96" fill="#231F20">e</text>
<text x="1112" y="821" font-family='"Liberation Serif", serif' font-size="96" fill="#231F20">f</text>
</svg></body></html>
